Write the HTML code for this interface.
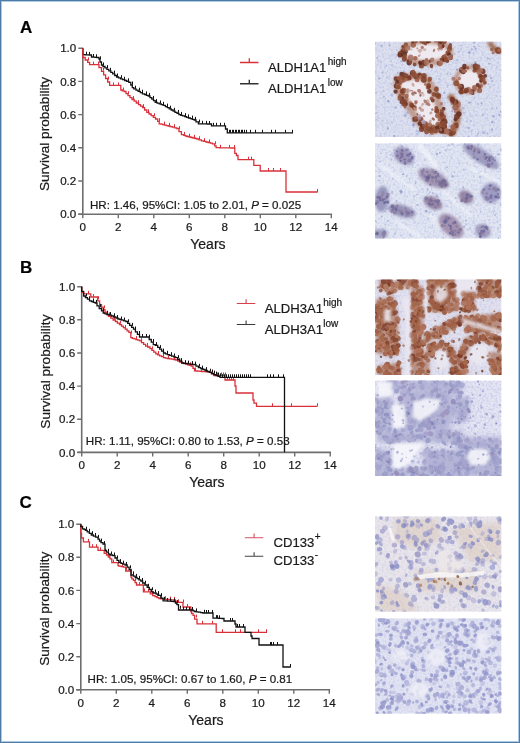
<!DOCTYPE html>
<html><head><meta charset="utf-8"><title>Figure</title>
<style>
html,body{margin:0;padding:0;background:#fff;}
body{width:520px;height:743px;overflow:hidden;position:relative;}
.frame{position:absolute;left:0;top:0;width:518px;height:741px;border:1px solid #4f7ba6;}
.frame2{position:absolute;left:1px;top:1px;width:516px;height:739px;border:1px solid #a9cbe6;}
svg{position:absolute;left:0;top:0;will-change:transform;}
text{font-family:"Liberation Sans", sans-serif;fill:#1a1a1a;stroke:#1a1a1a;stroke-width:0.22px;}
.t{font-size:11.6px;}
.l{font-size:13.1px;}
.yl{font-size:14px;}
.sp{font-size:13.6px;}
.sup{font-size:10px;}
.pl{font-size:17px;font-weight:bold;fill:#000;}
</style></head>
<body>
<svg width="520" height="743" viewBox="0 0 520 743">
<defs>
<filter id="blur1" x="-10%" y="-10%" width="120%" height="120%"><feGaussianBlur stdDeviation="1.4"/></filter>
<filter id="blur2" x="-10%" y="-10%" width="120%" height="120%"><feGaussianBlur stdDeviation="2.5"/></filter>
<filter id="txB" x="0" y="0" width="100%" height="100%">
  <feTurbulence type="fractalNoise" baseFrequency="0.45" numOctaves="2" seed="3"/>
  <feColorMatrix type="matrix" values="0 0 0 0 0.45  0 0 0 0 0.50  0 0 0 0 0.78  3.5 0 0 0 -1.55"/>
</filter>
<filter id="txB2" x="0" y="0" width="100%" height="100%">
  <feTurbulence type="fractalNoise" baseFrequency="0.4" numOctaves="2" seed="9"/>
  <feColorMatrix type="matrix" values="0 0 0 0 0.40  0 0 0 0 0.42  0 0 0 0 0.72  3.5 0 0 0 -1.5"/>
</filter>
<filter id="txBr" x="0" y="0" width="100%" height="100%">
  <feTurbulence type="fractalNoise" baseFrequency="0.35" numOctaves="2" seed="5"/>
  <feColorMatrix type="matrix" values="0 0 0 0 0.42  0 0 0 0 0.20  0 0 0 0 0.10  3.5 0 0 0 -1.6"/>
</filter>
<filter id="blur05" x="-10%" y="-10%" width="120%" height="120%"><feGaussianBlur stdDeviation="0.55"/></filter>

<clipPath id="c0"><rect x="375" y="41.5" width="126.5" height="95.5"/></clipPath>
<clipPath id="c1"><rect x="375" y="143.2" width="126.5" height="95.5"/></clipPath>
<clipPath id="c2"><rect x="375" y="279.4" width="126.5" height="95.6"/></clipPath>
<clipPath id="c3"><rect x="375" y="380.4" width="126.5" height="95.5"/></clipPath>
<clipPath id="c4"><rect x="375" y="516.3" width="126.5" height="95.5"/></clipPath>
<clipPath id="c5"><rect x="375" y="618.3" width="126.5" height="95.5"/></clipPath></defs>
<text x="20" y="32.6" class="pl">A</text>
<text x="20" y="272.6" class="pl">B</text>
<text x="19.5" y="508.2" class="pl">C</text>
<path d="M82.8,47.7V214.2M78.3,214.2H332.1" stroke="#6e6e6e" stroke-width="1.6" fill="none"/>
<path d="M78.3,214.2H82.8M78.3,181.0H82.8M78.3,147.8H82.8M78.3,114.6H82.8M78.3,81.4H82.8M78.3,48.2H82.8M82.8,214.2V218.2M118.3,214.2V218.2M153.8,214.2V218.2M189.3,214.2V218.2M224.8,214.2V218.2M260.3,214.2V218.2M295.8,214.2V218.2M331.3,214.2V218.2" stroke="#6e6e6e" stroke-width="1.4" fill="none"/>
<text x="76.3" y="218.3" text-anchor="end" class="t">0.0</text>
<text x="76.3" y="185.1" text-anchor="end" class="t">0.2</text>
<text x="76.3" y="151.9" text-anchor="end" class="t">0.4</text>
<text x="76.3" y="118.7" text-anchor="end" class="t">0.6</text>
<text x="76.3" y="85.5" text-anchor="end" class="t">0.8</text>
<text x="76.3" y="52.3" text-anchor="end" class="t">1.0</text>
<text x="82.8" y="231.2" text-anchor="middle" class="t">0</text>
<text x="118.3" y="231.2" text-anchor="middle" class="t">2</text>
<text x="153.8" y="231.2" text-anchor="middle" class="t">4</text>
<text x="189.3" y="231.2" text-anchor="middle" class="t">6</text>
<text x="224.8" y="231.2" text-anchor="middle" class="t">8</text>
<text x="260.3" y="231.2" text-anchor="middle" class="t">10</text>
<text x="295.8" y="231.2" text-anchor="middle" class="t">12</text>
<text x="331.3" y="231.2" text-anchor="middle" class="t">14</text>
<text x="207.9" y="249.2" text-anchor="middle" class="yl">Years</text>
<text transform="translate(48.9,134.0) rotate(-90)" text-anchor="middle" class="sp">Survival probability</text>
<path d="M81.7,286.2V452.4M77.2,452.4H331.0" stroke="#6e6e6e" stroke-width="1.6" fill="none"/>
<path d="M77.2,452.4H81.7M77.2,419.3H81.7M77.2,386.1H81.7M77.2,353.0H81.7M77.2,319.8H81.7M77.2,286.7H81.7M81.7,452.4V456.4M117.2,452.4V456.4M152.7,452.4V456.4M188.2,452.4V456.4M223.7,452.4V456.4M259.2,452.4V456.4M294.7,452.4V456.4M330.2,452.4V456.4" stroke="#6e6e6e" stroke-width="1.4" fill="none"/>
<text x="75.2" y="456.5" text-anchor="end" class="t">0.0</text>
<text x="75.2" y="423.4" text-anchor="end" class="t">0.2</text>
<text x="75.2" y="390.2" text-anchor="end" class="t">0.4</text>
<text x="75.2" y="357.1" text-anchor="end" class="t">0.6</text>
<text x="75.2" y="323.9" text-anchor="end" class="t">0.8</text>
<text x="75.2" y="290.8" text-anchor="end" class="t">1.0</text>
<text x="81.7" y="469.4" text-anchor="middle" class="t">0</text>
<text x="117.2" y="469.4" text-anchor="middle" class="t">2</text>
<text x="152.7" y="469.4" text-anchor="middle" class="t">4</text>
<text x="188.2" y="469.4" text-anchor="middle" class="t">6</text>
<text x="223.7" y="469.4" text-anchor="middle" class="t">8</text>
<text x="259.2" y="469.4" text-anchor="middle" class="t">10</text>
<text x="294.7" y="469.4" text-anchor="middle" class="t">12</text>
<text x="330.2" y="469.4" text-anchor="middle" class="t">14</text>
<text x="206.8" y="487.4" text-anchor="middle" class="yl">Years</text>
<text transform="translate(50.0,371.6) rotate(-90)" text-anchor="middle" class="sp">Survival probability</text>
<path d="M80.8,523.7V689.8M76.3,689.8H330.1" stroke="#6e6e6e" stroke-width="1.6" fill="none"/>
<path d="M76.3,689.8H80.8M76.3,656.7H80.8M76.3,623.6H80.8M76.3,590.4H80.8M76.3,557.3H80.8M76.3,524.2H80.8M80.8,689.8V693.8M116.3,689.8V693.8M151.8,689.8V693.8M187.3,689.8V693.8M222.8,689.8V693.8M258.3,689.8V693.8M293.8,689.8V693.8M329.3,689.8V693.8" stroke="#6e6e6e" stroke-width="1.4" fill="none"/>
<text x="74.3" y="693.9" text-anchor="end" class="t">0.0</text>
<text x="74.3" y="660.8" text-anchor="end" class="t">0.2</text>
<text x="74.3" y="627.7" text-anchor="end" class="t">0.4</text>
<text x="74.3" y="594.5" text-anchor="end" class="t">0.6</text>
<text x="74.3" y="561.4" text-anchor="end" class="t">0.8</text>
<text x="74.3" y="528.3" text-anchor="end" class="t">1.0</text>
<text x="80.8" y="706.8" text-anchor="middle" class="t">0</text>
<text x="116.3" y="706.8" text-anchor="middle" class="t">2</text>
<text x="151.8" y="706.8" text-anchor="middle" class="t">4</text>
<text x="187.3" y="706.8" text-anchor="middle" class="t">6</text>
<text x="222.8" y="706.8" text-anchor="middle" class="t">8</text>
<text x="258.3" y="706.8" text-anchor="middle" class="t">10</text>
<text x="293.8" y="706.8" text-anchor="middle" class="t">12</text>
<text x="329.3" y="706.8" text-anchor="middle" class="t">14</text>
<text x="205.9" y="724.8" text-anchor="middle" class="yl">Years</text>
<text transform="translate(48.9,608.8) rotate(-90)" text-anchor="middle" class="sp">Survival probability</text>
<path d="M82.8,48.2V54.6V54.7H85.0V54.8H87.2V54.9H89.3V55.0H91.5V57.0H93.0V57.2H95.0V57.3H97.0V57.5H99.0V59.0H100.0V62.0H101.5V65.0H103.0V66.5H105.0V67.9H106.9V69.3H108.8V70.8H110.8V72.3H112.7V73.9H114.7V75.5H116.6V77.0H118.5V77.9H120.5V78.8H122.6V79.7H124.7V80.5H126.7V81.4H128.8V82.3H130.8V85.0H132.3V87.7H133.8V88.9H136.0V90.1H138.1V91.4H140.3V92.6H142.4V93.8H144.6V94.5H146.4V95.3H148.2V96.0H150.0V97.6H151.8V99.2H153.5V100.7H155.2V102.3H157.0V103.1H159.1V103.8H161.2V104.6H163.3V105.4H165.4V106.6H167.3V107.7H169.2V108.8H171.2V110.0H173.1V111.2H175.0V112.3H177.0V113.4H178.9V114.6H180.8V115.3H182.7V115.9H184.6V116.6H186.5V117.3H188.4V118.0H190.3V118.7H192.2V119.3H194.1V120.0H196.0V121.9H198.4V123.8H200.8V123.8H202.9V123.9H205.1V123.9H207.2V124.0H209.4V124.0H211.5V125.8H212.0H225.5V129.0H227.3V132.8H293.0" stroke="#111111" stroke-width="1.3" fill="none"/><path d="M86.5,54.7v-3.0M89.5,54.9v-3.0M93.5,57.0v-3.0M96.5,57.3v-3.0M100.5,59.3v-3.0M103.5,65.5v-3.0M107.5,68.1v-3.0M110.5,70.8v-3.0M114.5,73.6v-3.0M117.5,76.5v-3.0M121.5,78.2v-3.0M124.5,79.8v-3.0M128.5,81.3v-3.0M132.5,84.5v-3.0M135.5,88.7v-3.0M139.5,90.7v-3.0M142.5,92.7v-3.0M146.5,94.4v-3.0M149.5,95.9v-3.0M153.5,98.9v-3.0M156.5,102.1v-3.0M160.5,103.5v-3.0M163.5,104.8v-3.0M167.5,106.6v-3.0M170.5,108.7v-3.0M174.5,110.8v-3.0M178.5,112.9v-3.0M181.5,114.9v-3.0M185.5,116.1v-3.0M188.5,117.4v-3.0M192.5,118.6v-3.0M195.5,119.9v-3.0M199.5,122.6v-3.0M202.5,123.8v-3.0M206.5,123.9v-3.0M209.5,124.0v-3.0M213.5,125.8v-3.0M216.5,125.8v-3.0M220.5,125.8v-3.0M224.5,125.8v-3.0M229.5,132.8v-3.0M230.5,132.8v-3.0M232.5,132.8v-3.0M233.5,132.8v-3.0M235.5,132.8v-3.0M236.5,132.8v-3.0M238.5,132.8v-3.0M239.5,132.8v-3.0M241.5,132.8v-3.0M242.5,132.8v-3.0M244.5,132.8v-3.0M246.5,132.8v-3.0M250.5,132.8v-3.0M255.5,132.8v-3.0M262.5,132.8v-3.0M271.5,132.8v-3.0M275.5,132.8v-3.0M285.5,132.8v-3.0M292.5,132.8v-3.0" stroke="#111111" stroke-width="1" fill="none"/>
<path d="M82.8,48.2V55.0V57.5H85.2V60.0H87.7V62.3H89.6V64.6H91.5H99.0V67.7H101.5V71.3H103.6V74.9H105.6V78.5H107.7V82.0H109.6V85.4H111.5H120.8V90.0H122.3V90.8H124.2V91.5H126.0V93.6H128.0V95.6H130.0V97.7H132.0V99.5H134.2V101.2H136.3V103.0H138.5V104.6H140.5V106.1H142.6V107.7H144.6V110.0H146.8V112.3H149.0V114.0H151.2V115.7H153.3V117.3H155.5V119.0H157.7V121.4H159.2V123.8H160.8V124.2H162.6V124.7H164.5V125.1H166.3V125.6H168.2V126.0H170.0V126.6H172.2V127.2H174.5V127.9H176.8V128.5H179.0V131.6H181.4V134.6H183.8V135.3H185.4V136.0H187.0V136.5H189.0V137.0H191.0V137.5H193.0V138.0H195.0V138.5H197.0V139.0H199.0V139.9H201.4V140.8H203.8V141.4H206.0V142.0H208.1V142.6H210.3V143.2H212.4V143.8H214.6V145.8H216.1V147.7H217.7V147.7H219.6V147.8H221.5V147.8H223.4V147.8H225.3V147.9H227.2V147.9H229.1V147.9H231.0V148.0H232.9V148.0H234.8V151.3V153.4H236.4V155.5H238.0V159.7H240.0H253.8V165.4H260.2V171.0H286.0V192.0H317.7" stroke="#d9303a" stroke-width="1.3" fill="none"/><path d="M88.5,60.4v-3.0M93.5,64.6v-3.0M98.5,64.6v-3.0M103.5,70.7v-3.0M108.5,79.6v-3.0M113.5,85.4v-3.0M118.5,85.4v-3.0M123.5,90.5v-3.0M128.5,94.2v-3.0M133.5,99.1v-3.0M138.5,103.2v-3.0M143.5,107.1v-3.0M148.5,112.3v-3.0M154.5,116.2v-3.0M159.5,121.2v-3.0M164.5,124.6v-3.0M169.5,125.8v-3.0M174.5,127.2v-3.0M179.5,129.1v-3.0M184.5,134.9v-3.0M189.5,136.7v-3.0M194.5,137.9v-3.0M199.5,139.3v-3.0M204.5,141.1v-3.0M209.5,142.5v-3.0M215.5,144.3v-3.0M220.5,147.8v-3.0M229.5,147.9v-3.0M234.5,148.0v-3.0M248.5,159.7v-3.0M251.5,159.7v-3.0M268.5,171.0v-3.0M273.5,171.0v-3.0M280.5,171.0v-3.0M317.5,192.0v-3.0" stroke="#d9303a" stroke-width="1" fill="none"/>
<path d="M81.7,286.7V292.3H83.8V293.8H86.0H90.8V297.0H91.5H97.7V300.8H99.6V304.6H101.5V307.1H103.2V309.6H105.0V312.1H106.8V314.6H108.5V316.4H110.8V318.2H113.1V320.0H115.4V321.5H117.4V323.1H119.5V324.6H121.5V326.1H123.4V327.7H125.2V329.2H127.1V330.8H128.9V332.3H130.8V337.7H132.3V338.3H134.1V338.9H136.0V339.6H137.8V340.2H139.7V340.8H141.5V342.6H143.6V344.4H145.6V346.2H147.7V347.0H150.0V348.7H151.9V350.4H153.8V352.1H155.8V353.8H157.7V354.8H159.6V355.8H161.6V356.7H163.5V357.7H165.4V358.1H167.4V358.5H169.5V358.9H171.6V359.2H173.6V359.6H175.6V360.0H177.7V361.0H179.7V362.0H181.8V363.0H183.8V363.6H185.6V364.2H187.5V364.8H189.3V365.4H191.2V366.0H193.0V368.4H194.5V370.8H196.0V371.0H197.9V371.2H199.9V371.4H201.8V371.6H203.8V371.7H205.7V371.9H207.6V372.1H209.6V372.3H211.5V373.9H213.8V375.5H216.0H225.0V380.0H226.0H235.0V386.0H236.0V393.0H238.0H253.0V400.0H254.0V403.1H256.5V406.3H259.0H317.3" stroke="#d9303a" stroke-width="1.3" fill="none"/><path d="M88.5,293.8v-3.0M93.5,297.0v-3.0M98.5,299.2v-3.0M104.5,308.4v-3.0M109.5,315.4v-3.0M114.5,319.7v-3.0M120.5,323.7v-3.0M125.5,328.1v-3.0M131.5,333.5v-3.0M136.5,339.1v-3.0M141.5,341.2v-3.0M147.5,345.9v-3.0M152.5,349.4v-3.0M158.5,354.0v-3.0M163.5,356.7v-3.0M168.5,358.3v-3.0M174.5,359.4v-3.0M179.5,361.0v-3.0M185.5,363.4v-3.0M190.5,365.2v-3.0M195.5,370.5v-3.0M201.5,371.3v-3.0M206.5,371.8v-3.0M212.5,372.7v-3.0M217.5,375.5v-3.0M221.5,375.5v-3.0M223.5,375.5v-3.0M225.5,375.5v-3.0M227.5,380.0v-3.0M229.5,380.0v-3.0M231.5,380.0v-3.0M233.5,380.0v-3.0M272.5,406.3v-3.0M291.5,406.3v-3.0M317.5,406.3v-3.0" stroke="#d9303a" stroke-width="1" fill="none"/>
<path d="M81.7,286.7V291.4H83.6V296.0H85.4V297.6H87.4V299.2H89.5V300.8H91.5V301.5H93.3V302.3H95.2V303.0H97.0V305.8H99.2V308.5H101.5V310.8H103.2V313.0H105.0V313.8H107.2V314.5H109.4V315.2H111.6V316.0H113.8V317.0H115.9V318.0H117.9V319.0H120.0V319.6H121.9V320.2H123.8V320.9H125.8V321.5H127.7V323.4H129.6V325.4H131.6V327.3H133.5V329.2H135.4V331.8H137.4V334.4H139.5V337.0H141.5H149.2V339.5H151.3V342.1H153.3V344.6H155.4V345.4H157.7V347.3H159.6V349.2H161.6V351.1H163.5V353.0H165.4V353.8H167.4V354.6H169.5V355.4H171.6V356.1H173.6V356.9H175.6V357.7H177.7V359.5H179.7V361.2H181.8V363.0H183.8V363.3H185.8V363.5H187.9V363.8H189.9V364.1H191.9V364.3H194.0V364.6H196.0V366.1H198.4V367.7H200.8V368.6H202.9V369.5H205.1V370.5H207.2V371.4H209.4V372.3H211.5V373.5H213.8V374.6H216.0V375.5H218.0V376.4H220.0V377.3H222.0H284.5V452.3" stroke="#111111" stroke-width="1.3" fill="none"/><path d="M86.5,296.5v-3.0M89.5,299.3v-3.0M93.5,301.4v-3.0M96.5,302.9v-3.0M100.5,306.9v-3.0M103.5,311.3v-3.0M107.5,313.8v-3.0M110.5,315.0v-3.0M114.5,316.3v-3.0M117.5,318.0v-3.0M121.5,319.5v-3.0M124.5,320.6v-3.0M128.5,322.3v-3.0M132.5,325.9v-3.0M135.5,329.5v-3.0M139.5,334.0v-3.0M142.5,337.0v-3.0M146.5,337.0v-3.0M149.5,337.7v-3.0M153.5,342.0v-3.0M156.5,345.1v-3.0M160.5,348.1v-3.0M163.5,351.6v-3.0M167.5,353.8v-3.0M171.5,355.2v-3.0M174.5,356.5v-3.0M178.5,358.1v-3.0M181.5,361.1v-3.0M185.5,363.2v-3.0M188.5,363.6v-3.0M192.5,364.1v-3.0M195.5,364.6v-3.0M199.5,366.8v-3.0M202.5,368.6v-3.0M206.5,370.1v-3.0M210.5,371.7v-3.0M212.5,372.6v-3.0M214.5,373.6v-3.0M216.5,374.6v-3.0M218.5,375.5v-3.0M220.5,376.4v-3.0M222.5,377.3v-3.0M224.5,377.3v-3.0M226.5,377.3v-3.0M228.5,377.3v-3.0M230.5,377.3v-3.0M232.5,377.3v-3.0M234.5,377.3v-3.0M236.5,377.3v-3.0M238.5,377.3v-3.0M240.5,377.3v-3.0M242.5,377.3v-3.0M244.5,377.3v-3.0M246.5,377.3v-3.0M248.5,377.3v-3.0M250.5,377.3v-3.0M267.5,377.3v-3.0M270.5,377.3v-3.0M273.5,377.3v-3.0M278.5,377.3v-3.0M283.5,377.3v-3.0" stroke="#111111" stroke-width="1" fill="none"/>
<path d="M80.8,524.2V533.4H81.5V538.0H83.4V541.8H85.7H89.5V547.2H90.3H98.0V550.3H98.8H104.2V553.4H106.5V555.2H108.3V557.0H110.0V558.8H111.8V562.6H112.6H118.0V565.7H118.8V566.2H121.1V566.7H123.4V567.2H125.7V571.0H127.2H131.0V577.2H131.8V578.8H133.4V580.3H135.0V582.6H136.5V585.0H138.0H143.4V591.8H144.2H150.3V593.8H152.7V595.7H155.0V596.6H156.9V597.6H158.9V598.5H160.8V598.9H163.1V599.2H165.4V599.4H167.4V599.5H169.4V599.7H171.4V599.8H173.4V600.0H175.4V601.1H176.9V602.3H178.5H183.0V607.0H183.8H190.8V611.5H191.5V613.5H193.1V615.4H194.6V619.2H197.0V623.8H197.7H216.2V632.3H267.0" stroke="#d9303a" stroke-width="1.3" fill="none"/><path d="M88.5,541.8v-3.0M92.5,547.2v-3.0M96.5,547.2v-3.0M100.5,550.3v-3.0M105.5,551.8v-3.0M109.5,556.6v-3.0M113.5,562.6v-3.0M118.5,563.5v-3.0M122.5,566.5v-3.0M126.5,570.2v-3.0M131.5,572.5v-3.0M135.5,581.1v-3.0M139.5,585.0v-3.0M144.5,591.5v-3.0M148.5,591.8v-3.0M152.5,593.9v-3.0M157.5,596.7v-3.0M161.5,598.6v-3.0M165.5,599.2v-3.0M170.5,599.6v-3.0M174.5,599.9v-3.0M178.5,602.3v-3.0M183.5,602.5v-3.0M187.5,607.0v-3.0M191.5,611.7v-3.0M196.5,617.6v-3.0M202.5,623.8v-3.0M212.5,623.8v-3.0M222.5,632.3v-3.0M235.5,632.3v-3.0M240.5,632.3v-3.0M258.5,632.3v-3.0M266.5,632.3v-3.0" stroke="#d9303a" stroke-width="1" fill="none"/>
<path d="M80.8,524.2V526.5H82.5V528.8H84.2V529.5H85.7V530.3H87.2V531.9H89.3V533.4H91.3V535.0H93.4V536.1H95.7V537.2H98.0V539.1H99.5V541.0H101.0V542.6H103.0V544.2H105.0V550.3H106.5V552.2H108.4V554.2H110.3V555.0H112.7V555.7H115.0V558.0H117.0V560.3H119.0V562.6H121.0V563.4H123.1V564.2H125.1V565.0H127.2V567.2H129.1V569.5H131.0V575.0H133.4V576.2H135.2V577.4H137.1V578.6H138.9V579.8H140.8V581.0H142.6V583.0H144.9V585.0H147.2V587.3H149.3V589.5H151.3V591.8H153.4V593.0H156.2V594.2H158.5V595.4H160.8V598.1H163.1V600.8H165.4V600.9H167.4V601.1H169.4V601.2H171.4V601.4H173.4V601.5H175.4V603.0H176.9V604.6H178.5V610.0H180.8H193.0V610.8H194.6V611.5H196.2V611.9H198.4V612.2H200.6V612.6H202.8V613.0H205.0H213.0V618.0V618.1H214.8V618.2H216.7V618.2H218.5V618.3H220.3V618.4H222.2V618.5H224.0V621.0H235.0V624.0H236.0V627.0H237.0H245.0V632.3H246.0H251.0V636.0H252.0V638.5H253.0H259.0V645.0H283.0V667.0H290.8" stroke="#111111" stroke-width="1.3" fill="none"/><path d="M86.5,529.7v-3.0M89.5,531.8v-3.0M92.5,534.2v-3.0M95.5,536.0v-3.0M98.5,537.9v-3.0M101.5,541.6v-3.0M104.5,544.1v-3.0M108.5,551.8v-3.0M111.5,554.5v-3.0M114.5,555.5v-3.0M117.5,558.5v-3.0M120.5,562.1v-3.0M123.5,563.7v-3.0M126.5,564.9v-3.0M130.5,568.3v-3.0M133.5,574.4v-3.0M136.5,576.9v-3.0M139.5,578.9v-3.0M142.5,581.0v-3.0M145.5,583.7v-3.0M148.5,586.8v-3.0M152.5,590.3v-3.0M155.5,592.5v-3.0M158.5,594.1v-3.0M161.5,596.1v-3.0M164.5,599.8v-3.0M167.5,601.0v-3.0M170.5,601.2v-3.0M174.5,601.4v-3.0M177.5,603.2v-3.0M180.5,608.8v-3.0M183.5,610.0v-3.0M186.5,610.0v-3.0M189.5,610.0v-3.0M192.5,610.0v-3.0M196.5,611.4v-3.0M204.5,612.8v-3.0M206.5,613.0v-3.0M208.5,613.0v-3.0M212.5,613.0v-3.0M216.5,618.1v-3.0M217.5,618.2v-3.0M219.5,618.3v-3.0M230.5,621.0v-3.0M232.5,621.0v-3.0M237.5,627.0v-3.0M239.5,627.0v-3.0M243.5,627.0v-3.0M270.5,645.0v-3.0M271.5,645.0v-3.0M273.5,645.0v-3.0M277.5,645.0v-3.0M290.5,667.0v-3.0" stroke="#111111" stroke-width="1" fill="none"/>
<path d="M240,62.5h18.5M249.3,62.5v-4.2" stroke="#d9303a" stroke-width="1.3" fill="none"/>
<path d="M240,83.8h18.5M249.3,83.8v-4" stroke="#333" stroke-width="1.4" fill="none"/>
<text x="268" y="71.7" class="l">ALDH1A1<tspan class="sup" dx="1.5" dy="-7">high</tspan></text>
<text x="268" y="93.0" class="l">ALDH1A1<tspan class="sup" dx="1.5" dy="-7">low</tspan></text>
<path d="M236.8,303.5h18.5M246.10000000000002,303.5v-4.2" stroke="#d84050" stroke-width="1.1" fill="none"/>
<path d="M236.8,324.5h18.5M246.10000000000002,324.5v-4" stroke="#3a3a3a" stroke-width="1.1" fill="none"/>
<text x="264.8" y="312.7" class="l">ALDH3A1<tspan class="sup" dx="0.2" dy="-7">high</tspan></text>
<text x="264.8" y="333.7" class="l">ALDH3A1<tspan class="sup" dx="0.2" dy="-7">low</tspan></text>
<path d="M244.8,537.8h18.5M254.10000000000002,537.8v-4.2" stroke="#d85060" stroke-width="1.1" fill="none"/>
<path d="M244.8,556.2h18.5M254.10000000000002,556.2v-4" stroke="#444" stroke-width="1.1" fill="none"/>
<text x="273.5" y="547.0" class="l">CD133<tspan class="sup" dx="0.5" dy="-7">+</tspan></text>
<text x="273.5" y="565.4000000000001" class="l">CD133<tspan class="sup" dx="0.5" dy="-7">-</tspan></text>
<text x="90" y="209.3" class="t">HR: 1.46, 95%CI: 1.05 to 2.01, <tspan font-style="italic">P</tspan> = 0.025</text>
<text x="85.8" y="444.6" class="t">HR: 1.11, 95%CI: 0.80 to 1.53, <tspan font-style="italic">P</tspan> = 0.53</text>
<text x="87.6" y="683.4" class="t">HR: 1.05, 95%CI: 0.67 to 1.60, <tspan font-style="italic">P</tspan> = 0.81</text>
<g clip-path="url(#c0)"><rect x="375" y="41.5" width="126.5" height="95.5" fill="#dde0ee"/>
<rect x="375" y="41.5" width="126.5" height="95.5" filter="url(#txB)" opacity="0.5"/>
<path fill="#9aa2d0" fill-opacity="0.5" d="M392.0 121.3a1.1 0.8 89 1 0 0.0 2.3a1.1 0.8 89 1 0 -0.0 -2.3M472.1 130.4a1.0 0.7 122 1 0 -1.0 1.7a1.0 0.7 122 1 0 1.0 -1.7M382.1 123.6a1.0 0.6 91 1 0 -0.0 2.0a1.0 0.6 91 1 0 0.0 -2.0M388.1 77.2a1.0 0.9 151 1 0 -1.7 1.0a1.0 0.9 151 1 0 1.7 -1.0M420.5 54.4a0.7 0.5 149 1 0 -1.2 0.7a0.7 0.5 149 1 0 1.2 -0.7M396.3 49.2a0.9 0.6 57 1 0 1.0 1.6a0.9 0.6 57 1 0 -1.0 -1.6M456.7 62.9a0.8 0.7 172 1 0 -1.6 0.2a0.8 0.7 172 1 0 1.6 -0.2M432.2 104.7a0.7 0.6 122 1 0 -0.8 1.3a0.7 0.6 122 1 0 0.8 -1.3M408.4 99.4a0.8 0.7 153 1 0 -1.4 0.7a0.8 0.7 153 1 0 1.4 -0.7M449.5 96.8a1.3 0.8 170 1 0 -2.5 0.4a1.3 0.8 170 1 0 2.5 -0.4M381.0 118.3a0.6 0.5 123 1 0 -0.7 1.0a0.6 0.5 123 1 0 0.7 -1.0M410.3 93.1a0.9 0.7 46 1 0 1.2 1.3a0.9 0.7 46 1 0 -1.2 -1.3M401.3 82.2a0.6 0.5 164 1 0 -1.2 0.3a0.6 0.5 164 1 0 1.2 -0.3M387.9 70.8a0.7 0.4 120 1 0 -0.7 1.2a0.7 0.4 120 1 0 0.7 -1.2M378.3 77.8a1.1 0.8 23 1 0 2.0 0.9a1.1 0.8 23 1 0 -2.0 -0.9M438.3 78.4a1.2 0.9 23 1 0 2.3 1.0a1.2 0.9 23 1 0 -2.3 -1.0M432.8 67.5a0.9 0.7 133 1 0 -1.3 1.3a0.9 0.7 133 1 0 1.3 -1.3M464.3 112.0a0.9 0.8 116 1 0 -0.7 1.5a0.9 0.8 116 1 0 0.7 -1.5M419.1 130.6a1.3 0.8 100 1 0 -0.4 2.5a1.3 0.8 100 1 0 0.4 -2.5M460.1 49.1a0.9 0.7 53 1 0 1.1 1.4a0.9 0.7 53 1 0 -1.1 -1.4M438.7 98.2a0.8 0.5 137 1 0 -1.1 1.1a0.8 0.5 137 1 0 1.1 -1.1M485.2 79.1a1.1 0.9 95 1 0 -0.2 2.1a1.1 0.9 95 1 0 0.2 -2.1M475.6 114.4a0.9 0.6 28 1 0 1.5 0.8a0.9 0.6 28 1 0 -1.5 -0.8M417.3 133.1a1.1 1.0 83 1 0 0.3 2.1a1.1 1.0 83 1 0 -0.3 -2.1M392.3 94.1a1.2 1.1 115 1 0 -1.0 2.1a1.2 1.1 115 1 0 1.0 -2.1M377.4 117.0a1.0 0.6 67 1 0 0.8 1.9a1.0 0.6 67 1 0 -0.8 -1.9M447.6 47.4a1.2 1.0 17 1 0 2.3 0.7a1.2 1.0 17 1 0 -2.3 -0.7M490.3 75.3a0.7 0.6 106 1 0 -0.4 1.3a0.7 0.6 106 1 0 0.4 -1.3M457.7 59.7a1.0 0.7 152 1 0 -1.7 0.9a1.0 0.7 152 1 0 1.7 -0.9M396.0 54.3a1.3 1.0 62 1 0 1.2 2.3a1.3 1.0 62 1 0 -1.2 -2.3M407.9 96.5a1.0 0.9 33 1 0 1.6 1.0a1.0 0.9 33 1 0 -1.6 -1.0M404.0 70.3a1.0 0.9 97 1 0 -0.2 1.9a1.0 0.9 97 1 0 0.2 -1.9M427.0 42.4a0.7 0.5 21 1 0 1.3 0.5a0.7 0.5 21 1 0 -1.3 -0.5"/>
<path fill="#7f8cc4" fill-opacity="0.5" d="M422.7 60.7a0.9 0.9 70 1 0 0.6 1.8a0.9 0.9 70 1 0 -0.6 -1.8M443.3 130.3a0.9 0.6 76 1 0 0.4 1.7a0.9 0.6 76 1 0 -0.4 -1.7M449.7 124.6a1.2 0.9 106 1 0 -0.7 2.3a1.2 0.9 106 1 0 0.7 -2.3M458.7 51.2a0.7 0.7 67 1 0 0.6 1.3a0.7 0.7 67 1 0 -0.6 -1.3M448.9 85.2a0.8 0.6 172 1 0 -1.6 0.2a0.8 0.6 172 1 0 1.6 -0.2M426.9 40.8a1.0 0.9 60 1 0 1.0 1.7a1.0 0.9 60 1 0 -1.0 -1.7M457.4 78.3a1.0 0.7 114 1 0 -0.8 1.8a1.0 0.7 114 1 0 0.8 -1.8M447.9 56.9a1.2 1.2 127 1 0 -1.4 1.9a1.2 1.2 127 1 0 1.4 -1.9M418.0 60.5a1.1 0.8 35 1 0 1.8 1.2a1.1 0.8 35 1 0 -1.8 -1.2M451.6 131.4a1.2 0.7 99 1 0 -0.4 2.4a1.2 0.7 99 1 0 0.4 -2.4M425.2 77.3a1.3 0.8 23 1 0 2.4 1.0a1.3 0.8 23 1 0 -2.4 -1.0M411.7 92.3a0.7 0.6 19 1 0 1.3 0.5a0.7 0.6 19 1 0 -1.3 -0.5M377.0 112.8a0.9 0.6 155 1 0 -1.5 0.7a0.9 0.6 155 1 0 1.5 -0.7M429.0 55.8a1.1 0.9 45 1 0 1.5 1.6a1.1 0.9 45 1 0 -1.5 -1.6M431.6 81.8a0.8 0.6 97 1 0 -0.2 1.5a0.8 0.6 97 1 0 0.2 -1.5M451.5 110.4a1.1 1.0 40 1 0 1.6 1.3a1.1 1.0 40 1 0 -1.6 -1.3M482.7 75.9a1.1 1.0 107 1 0 -0.6 2.1a1.1 1.0 107 1 0 0.6 -2.1M495.9 95.6a0.7 0.5 39 1 0 1.1 0.9a0.7 0.5 39 1 0 -1.1 -0.9M424.9 101.5a0.9 0.8 98 1 0 -0.2 1.7a0.9 0.8 98 1 0 0.2 -1.7M423.2 93.7a1.3 1.0 104 1 0 -0.6 2.5a1.3 1.0 104 1 0 0.6 -2.5M418.8 100.7a1.3 1.1 174 1 0 -2.6 0.3a1.3 1.1 174 1 0 2.6 -0.3M494.5 115.6a1.2 1.1 147 1 0 -2.0 1.3a1.2 1.1 147 1 0 2.0 -1.3M400.7 106.0a0.6 0.4 58 1 0 0.7 1.1a0.6 0.4 58 1 0 -0.7 -1.1M479.0 133.1a1.0 0.7 151 1 0 -1.8 1.0a1.0 0.7 151 1 0 1.8 -1.0M449.8 116.2a0.7 0.5 126 1 0 -0.8 1.2a0.7 0.5 126 1 0 0.8 -1.2M445.2 92.6a1.1 0.9 166 1 0 -2.1 0.5a1.1 0.9 166 1 0 2.1 -0.5M488.8 59.0a0.9 0.8 9 1 0 1.8 0.3a0.9 0.8 9 1 0 -1.8 -0.3M461.4 109.0a0.7 0.4 103 1 0 -0.3 1.4a0.7 0.4 103 1 0 0.3 -1.4M483.1 84.7a0.7 0.5 124 1 0 -0.8 1.2a0.7 0.5 124 1 0 0.8 -1.2M500.5 110.9a1.0 0.7 72 1 0 0.6 1.9a1.0 0.7 72 1 0 -0.6 -1.9M400.1 55.3a1.1 0.7 28 1 0 2.0 1.0a1.1 0.7 28 1 0 -2.0 -1.0M469.6 135.9a1.1 0.7 145 1 0 -1.8 1.2a1.1 0.7 145 1 0 1.8 -1.2M409.0 108.4a0.9 0.5 35 1 0 1.5 1.0a0.9 0.5 35 1 0 -1.5 -1.0M437.0 72.5a0.7 0.4 46 1 0 1.0 1.0a0.7 0.4 46 1 0 -1.0 -1.0M453.9 123.0a0.8 0.7 68 1 0 0.6 1.5a0.8 0.7 68 1 0 -0.6 -1.5M426.1 50.6a0.9 0.7 98 1 0 -0.2 1.7a0.9 0.7 98 1 0 0.2 -1.7M426.7 134.2a0.7 0.5 124 1 0 -0.8 1.2a0.7 0.5 124 1 0 0.8 -1.2M376.9 119.2a0.7 0.6 170 1 0 -1.4 0.2a0.7 0.6 170 1 0 1.4 -0.2M433.5 44.9a1.1 0.6 8 1 0 2.2 0.3a1.1 0.6 8 1 0 -2.2 -0.3M487.3 57.0a1.0 0.8 61 1 0 1.0 1.8a1.0 0.8 61 1 0 -1.0 -1.8M457.0 103.6a1.3 0.9 72 1 0 0.8 2.4a1.3 0.9 72 1 0 -0.8 -2.4M491.6 121.5a0.7 0.5 20 1 0 1.3 0.5a0.7 0.5 20 1 0 -1.3 -0.5M404.2 114.9a1.3 1.2 32 1 0 2.1 1.3a1.3 1.2 32 1 0 -2.1 -1.3M426.6 80.8a0.7 0.6 121 1 0 -0.7 1.2a0.7 0.6 121 1 0 0.7 -1.2M423.1 129.2a0.7 0.6 46 1 0 1.0 1.0a0.7 0.6 46 1 0 -1.0 -1.0M427.7 67.2a0.7 0.6 23 1 0 1.2 0.5a0.7 0.6 23 1 0 -1.2 -0.5M423.9 75.2a0.8 0.6 105 1 0 -0.4 1.5a0.8 0.6 105 1 0 0.4 -1.5M481.4 102.3a0.9 0.8 85 1 0 0.2 1.7a0.9 0.8 85 1 0 -0.2 -1.7M416.6 129.6a1.1 0.6 67 1 0 0.9 2.1a1.1 0.6 67 1 0 -0.9 -2.1M456.0 121.9a0.9 0.7 146 1 0 -1.5 1.0a0.9 0.7 146 1 0 1.5 -1.0M439.8 118.7a1.3 1.2 110 1 0 -0.9 2.4a1.3 1.2 110 1 0 0.9 -2.4M445.2 102.1a0.8 0.5 130 1 0 -1.0 1.2a0.8 0.5 130 1 0 1.0 -1.2M491.9 107.0a1.0 0.8 79 1 0 0.4 2.0a1.0 0.8 79 1 0 -0.4 -2.0M473.6 41.4a1.1 1.0 55 1 0 1.3 1.8a1.1 1.0 55 1 0 -1.3 -1.8M450.9 96.6a0.8 0.6 50 1 0 1.0 1.2a0.8 0.6 50 1 0 -1.0 -1.2M404.9 93.7a0.9 0.6 73 1 0 0.5 1.8a0.9 0.6 73 1 0 -0.5 -1.8M421.8 84.2a0.8 0.6 85 1 0 0.2 1.7a0.8 0.6 85 1 0 -0.2 -1.7M484.1 70.8a0.9 0.7 160 1 0 -1.7 0.6a0.9 0.7 160 1 0 1.7 -0.6M430.0 90.0a0.7 0.7 35 1 0 1.2 0.8a0.7 0.7 35 1 0 -1.2 -0.8M431.6 124.6a0.7 0.4 167 1 0 -1.4 0.3a0.7 0.4 167 1 0 1.4 -0.3"/>
<path fill="#7f8cc4" fill-opacity="0.25" d="M408.1 117.2a1.0 0.6 57 1 0 1.1 1.7a1.0 0.6 57 1 0 -1.1 -1.7M377.2 105.3a0.7 0.4 159 1 0 -1.2 0.5a0.7 0.4 159 1 0 1.2 -0.5M482.3 126.0a0.8 0.6 98 1 0 -0.2 1.6a0.8 0.6 98 1 0 0.2 -1.6M376.9 64.6a0.7 0.5 13 1 0 1.3 0.3a0.7 0.5 13 1 0 -1.3 -0.3M417.7 65.5a0.6 0.5 75 1 0 0.3 1.2a0.6 0.5 75 1 0 -0.3 -1.2M399.5 78.4a0.8 0.6 23 1 0 1.5 0.6a0.8 0.6 23 1 0 -1.5 -0.6M437.0 109.1a0.9 0.9 129 1 0 -1.2 1.5a0.9 0.9 129 1 0 1.2 -1.5M498.3 66.4a1.0 0.7 137 1 0 -1.4 1.3a1.0 0.7 137 1 0 1.4 -1.3M391.5 65.3a1.1 1.0 7 1 0 2.3 0.3a1.1 1.0 7 1 0 -2.3 -0.3M501.0 69.4a0.8 0.6 65 1 0 0.7 1.4a0.8 0.6 65 1 0 -0.7 -1.4M423.8 127.1a1.0 0.8 10 1 0 2.1 0.4a1.0 0.8 10 1 0 -2.1 -0.4M429.8 116.4a1.3 1.1 126 1 0 -1.5 2.0a1.3 1.1 126 1 0 1.5 -2.0M444.4 78.7a0.7 0.6 14 1 0 1.4 0.4a0.7 0.6 14 1 0 -1.4 -0.4M383.2 120.5a0.8 0.8 172 1 0 -1.6 0.2a0.8 0.8 172 1 0 1.6 -0.2M501.6 116.1a1.0 0.6 103 1 0 -0.5 2.0a1.0 0.6 103 1 0 0.5 -2.0M452.8 48.1a0.7 0.7 48 1 0 1.0 1.1a0.7 0.7 48 1 0 -1.0 -1.1M413.0 90.4a0.6 0.6 144 1 0 -1.0 0.7a0.6 0.6 144 1 0 1.0 -0.7M492.1 41.5a1.3 0.7 46 1 0 1.8 1.8a1.3 0.7 46 1 0 -1.8 -1.8M499.2 47.6a0.6 0.3 132 1 0 -0.8 0.9a0.6 0.3 132 1 0 0.8 -0.9M438.5 49.9a0.7 0.5 55 1 0 0.8 1.2a0.7 0.5 55 1 0 -0.8 -1.2M381.8 49.6a0.7 0.5 33 1 0 1.2 0.8a0.7 0.5 33 1 0 -1.2 -0.8M492.1 120.5a0.9 0.7 32 1 0 1.6 1.0a0.9 0.7 32 1 0 -1.6 -1.0"/>
<path fill="#6f7ab8" fill-opacity="0.25" d="M491.0 80.9a1.2 1.2 18 1 0 2.4 0.8a1.2 1.2 18 1 0 -2.4 -0.8M470.1 79.7a1.1 0.8 159 1 0 -2.0 0.8a1.1 0.8 159 1 0 2.0 -0.8M455.5 93.4a0.7 0.4 99 1 0 -0.2 1.4a0.7 0.4 99 1 0 0.2 -1.4M495.2 47.4a1.2 0.9 136 1 0 -1.7 1.7a1.2 0.9 136 1 0 1.7 -1.7M424.2 89.1a0.6 0.5 72 1 0 0.4 1.2a0.6 0.5 72 1 0 -0.4 -1.2M422.9 117.8a0.9 0.8 137 1 0 -1.3 1.2a0.9 0.8 137 1 0 1.3 -1.2M433.9 44.9a1.0 0.8 76 1 0 0.5 1.9a1.0 0.8 76 1 0 -0.5 -1.9M379.1 77.3a1.2 1.0 102 1 0 -0.5 2.4a1.2 1.0 102 1 0 0.5 -2.4M487.9 83.3a1.1 0.7 45 1 0 1.6 1.6a1.1 0.7 45 1 0 -1.6 -1.6M426.1 129.8a1.0 0.7 122 1 0 -1.1 1.8a1.0 0.7 122 1 0 1.1 -1.8M407.9 78.1a1.0 0.6 172 1 0 -2.0 0.3a1.0 0.6 172 1 0 2.0 -0.3M474.2 75.1a0.9 0.9 111 1 0 -0.6 1.7a0.9 0.9 111 1 0 0.6 -1.7M440.5 94.5a1.2 1.0 47 1 0 1.6 1.7a1.2 1.0 47 1 0 -1.6 -1.7M414.8 124.4a1.2 0.7 129 1 0 -1.5 1.8a1.2 0.7 129 1 0 1.5 -1.8M500.8 103.1a0.7 0.6 173 1 0 -1.4 0.2a0.7 0.6 173 1 0 1.4 -0.2M453.9 54.0a0.7 0.5 42 1 0 1.0 0.9a0.7 0.5 42 1 0 -1.0 -0.9M463.0 41.5a0.7 0.4 66 1 0 0.5 1.2a0.7 0.4 66 1 0 -0.5 -1.2M446.6 87.3a0.9 0.5 11 1 0 1.7 0.3a0.9 0.5 11 1 0 -1.7 -0.3M409.0 136.0a0.8 0.5 164 1 0 -1.6 0.5a0.8 0.5 164 1 0 1.6 -0.5"/>
<path fill="#8a94c8" fill-opacity="0.5" d="M416.8 109.3a1.1 1.1 76 1 0 0.5 2.1a1.1 1.1 76 1 0 -0.5 -2.1M414.5 121.6a1.0 0.8 116 1 0 -0.9 1.8a1.0 0.8 116 1 0 0.9 -1.8M482.2 132.2a1.3 1.0 23 1 0 2.3 1.0a1.3 1.0 23 1 0 -2.3 -1.0M388.1 100.8a0.8 0.5 29 1 0 1.5 0.8a0.8 0.5 29 1 0 -1.5 -0.8M428.3 58.8a0.7 0.6 92 1 0 -0.0 1.4a0.7 0.6 92 1 0 0.0 -1.4M428.9 134.6a0.8 0.6 6 1 0 1.5 0.2a0.8 0.6 6 1 0 -1.5 -0.2M427.0 65.5a0.6 0.6 7 1 0 1.2 0.1a0.6 0.6 7 1 0 -1.2 -0.1M399.8 71.7a1.3 1.2 61 1 0 1.3 2.3a1.3 1.2 61 1 0 -1.3 -2.3M441.8 47.4a0.6 0.4 30 1 0 1.1 0.6a0.6 0.4 30 1 0 -1.1 -0.6M416.3 89.5a0.8 0.5 21 1 0 1.5 0.5a0.8 0.5 21 1 0 -1.5 -0.5M474.8 96.9a0.7 0.5 123 1 0 -0.8 1.2a0.7 0.5 123 1 0 0.8 -1.2M446.9 73.8a0.8 0.7 7 1 0 1.5 0.2a0.8 0.7 7 1 0 -1.5 -0.2M476.5 48.0a1.3 0.8 140 1 0 -1.9 1.6a1.3 0.8 140 1 0 1.9 -1.6M385.8 65.7a0.7 0.6 15 1 0 1.3 0.3a0.7 0.6 15 1 0 -1.3 -0.3M454.0 133.3a1.1 0.6 153 1 0 -1.9 1.0a1.1 0.6 153 1 0 1.9 -1.0M422.9 117.4a0.9 0.6 59 1 0 0.9 1.5a0.9 0.6 59 1 0 -0.9 -1.5M471.6 120.6a0.9 0.9 154 1 0 -1.6 0.8a0.9 0.9 154 1 0 1.6 -0.8M491.5 77.1a1.0 1.0 114 1 0 -0.8 1.8a1.0 1.0 114 1 0 0.8 -1.8M469.0 101.6a1.1 0.9 73 1 0 0.6 2.0a1.1 0.9 73 1 0 -0.6 -2.0M430.1 113.2a1.1 0.7 113 1 0 -0.9 2.1a1.1 0.7 113 1 0 0.9 -2.1M482.9 68.5a0.7 0.5 148 1 0 -1.3 0.8a0.7 0.5 148 1 0 1.3 -0.8M450.0 73.3a1.0 0.5 45 1 0 1.4 1.4a1.0 0.5 45 1 0 -1.4 -1.4M436.5 117.9a0.8 0.5 89 1 0 0.0 1.5a0.8 0.5 89 1 0 -0.0 -1.5M482.8 114.0a0.9 0.8 87 1 0 0.1 1.7a0.9 0.8 87 1 0 -0.1 -1.7M467.2 121.2a0.7 0.5 179 1 0 -1.3 0.0a0.7 0.5 179 1 0 1.3 -0.0M408.7 112.0a1.3 1.0 156 1 0 -2.3 1.0a1.3 1.0 156 1 0 2.3 -1.0M383.3 72.0a1.1 0.9 146 1 0 -1.8 1.2a1.1 0.9 146 1 0 1.8 -1.2M374.8 43.2a0.8 0.7 15 1 0 1.6 0.4a0.8 0.7 15 1 0 -1.6 -0.4M487.9 132.7a0.7 0.7 142 1 0 -1.1 0.8a0.7 0.7 142 1 0 1.1 -0.8M431.7 53.6a0.7 0.5 122 1 0 -0.7 1.1a0.7 0.5 122 1 0 0.7 -1.1M442.0 51.2a0.8 0.6 146 1 0 -1.3 0.9a0.8 0.6 146 1 0 1.3 -0.9M425.5 41.7a1.2 1.2 163 1 0 -2.2 0.7a1.2 1.2 163 1 0 2.2 -0.7M462.7 107.3a1.2 0.9 50 1 0 1.5 1.8a1.2 0.9 50 1 0 -1.5 -1.8M409.9 57.2a1.1 0.6 65 1 0 0.9 2.0a1.1 0.6 65 1 0 -0.9 -2.0M384.6 96.0a1.0 0.8 129 1 0 -1.3 1.6a1.0 0.8 129 1 0 1.3 -1.6M465.6 74.2a1.0 0.6 149 1 0 -1.7 1.0a1.0 0.6 149 1 0 1.7 -1.0M429.7 96.4a1.1 0.9 71 1 0 0.7 2.1a1.1 0.9 71 1 0 -0.7 -2.1M477.4 134.7a1.0 0.8 98 1 0 -0.3 2.0a1.0 0.8 98 1 0 0.3 -2.0M461.7 45.5a0.9 0.7 172 1 0 -1.8 0.2a0.9 0.7 172 1 0 1.8 -0.2M489.6 86.3a0.9 0.7 57 1 0 1.0 1.5a0.9 0.7 57 1 0 -1.0 -1.5M471.8 48.4a1.2 0.7 95 1 0 -0.2 2.3a1.2 0.7 95 1 0 0.2 -2.3M470.8 115.3a0.9 0.7 91 1 0 -0.0 1.8a0.9 0.7 91 1 0 0.0 -1.8M424.0 129.5a1.3 1.2 154 1 0 -2.3 1.1a1.3 1.2 154 1 0 2.3 -1.1M375.3 92.9a0.8 0.5 2 1 0 1.7 0.0a0.8 0.5 2 1 0 -1.7 -0.0M413.7 69.8a0.7 0.5 131 1 0 -0.9 1.0a0.7 0.5 131 1 0 0.9 -1.0M462.3 48.1a0.7 0.6 177 1 0 -1.5 0.1a0.7 0.6 177 1 0 1.5 -0.1M481.7 69.9a1.0 0.7 139 1 0 -1.5 1.3a1.0 0.7 139 1 0 1.5 -1.3M419.5 99.4a1.1 1.0 16 1 0 2.1 0.6a1.1 1.0 16 1 0 -2.1 -0.6M397.0 107.3a1.2 1.0 167 1 0 -2.3 0.5a1.2 1.0 167 1 0 2.3 -0.5M435.9 44.3a0.6 0.5 101 1 0 -0.2 1.3a0.6 0.5 101 1 0 0.2 -1.3M416.0 74.2a0.9 0.7 102 1 0 -0.4 1.7a0.9 0.7 102 1 0 0.4 -1.7M383.4 90.3a0.9 0.7 59 1 0 1.0 1.6a0.9 0.7 59 1 0 -1.0 -1.6M438.6 42.0a1.0 0.8 134 1 0 -1.4 1.4a1.0 0.8 134 1 0 1.4 -1.4M446.0 134.1a0.7 0.6 2 1 0 1.4 0.0a0.7 0.6 2 1 0 -1.4 -0.0"/>
<path fill="#6f7ab8" fill-opacity="0.5" d="M498.5 114.4a1.0 0.9 42 1 0 1.5 1.3a1.0 0.9 42 1 0 -1.5 -1.3M456.0 69.2a1.1 0.8 21 1 0 2.0 0.8a1.1 0.8 21 1 0 -2.0 -0.8M390.3 61.6a0.6 0.4 14 1 0 1.2 0.3a0.6 0.4 14 1 0 -1.2 -0.3M472.9 77.3a1.0 0.7 15 1 0 1.9 0.5a1.0 0.7 15 1 0 -1.9 -0.5M388.8 128.2a0.9 0.9 164 1 0 -1.7 0.5a0.9 0.9 164 1 0 1.7 -0.5M464.3 71.5a0.7 0.5 5 1 0 1.5 0.1a0.7 0.5 5 1 0 -1.5 -0.1M402.9 99.4a1.3 1.0 124 1 0 -1.4 2.1a1.3 1.0 124 1 0 1.4 -2.1M455.9 76.1a1.0 0.9 37 1 0 1.5 1.1a1.0 0.9 37 1 0 -1.5 -1.1M437.6 61.5a0.9 0.7 164 1 0 -1.7 0.5a0.9 0.7 164 1 0 1.7 -0.5M451.7 120.5a0.7 0.5 98 1 0 -0.2 1.5a0.7 0.5 98 1 0 0.2 -1.5M436.7 122.2a1.1 0.9 69 1 0 0.8 2.1a1.1 0.9 69 1 0 -0.8 -2.1M434.3 121.2a0.9 0.8 178 1 0 -1.8 0.1a0.9 0.8 178 1 0 1.8 -0.1M407.4 108.6a1.2 1.0 27 1 0 2.2 1.1a1.2 1.0 27 1 0 -2.2 -1.1M429.9 56.9a1.1 0.7 17 1 0 2.1 0.6a1.1 0.7 17 1 0 -2.1 -0.6M400.2 61.1a1.2 0.8 13 1 0 2.4 0.6a1.2 0.8 13 1 0 -2.4 -0.6M446.4 46.2a0.8 0.7 179 1 0 -1.6 0.0a0.8 0.7 179 1 0 1.6 -0.0M468.0 78.3a0.9 0.7 47 1 0 1.2 1.3a0.9 0.7 47 1 0 -1.2 -1.3M490.6 136.2a0.6 0.6 154 1 0 -1.1 0.5a0.6 0.6 154 1 0 1.1 -0.5M409.9 52.1a0.7 0.4 115 1 0 -0.6 1.2a0.7 0.4 115 1 0 0.6 -1.2M483.4 69.6a0.9 0.6 100 1 0 -0.3 1.8a0.9 0.6 100 1 0 0.3 -1.8M444.7 122.0a1.0 0.8 5 1 0 2.0 0.2a1.0 0.8 5 1 0 -2.0 -0.2M477.7 102.9a0.8 0.6 63 1 0 0.7 1.5a0.8 0.6 63 1 0 -0.7 -1.5M441.2 41.8a0.7 0.5 131 1 0 -0.9 1.0a0.7 0.5 131 1 0 0.9 -1.0M492.2 128.4a1.2 0.7 94 1 0 -0.2 2.3a1.2 0.7 94 1 0 0.2 -2.3M475.2 61.1a1.2 0.9 78 1 0 0.5 2.3a1.2 0.9 78 1 0 -0.5 -2.3M461.3 92.5a1.3 1.1 131 1 0 -1.6 1.9a1.3 1.1 131 1 0 1.6 -1.9M480.0 89.6a1.3 0.9 140 1 0 -2.0 1.7a1.3 0.9 140 1 0 2.0 -1.7M444.1 118.5a1.3 0.9 113 1 0 -1.0 2.3a1.3 0.9 113 1 0 1.0 -2.3M392.3 83.9a0.7 0.6 175 1 0 -1.4 0.1a0.7 0.6 175 1 0 1.4 -0.1M492.7 121.8a0.9 0.7 143 1 0 -1.4 1.0a0.9 0.7 143 1 0 1.4 -1.0M377.5 57.2a0.8 0.7 106 1 0 -0.4 1.5a0.8 0.7 106 1 0 0.4 -1.5M426.7 130.6a0.8 0.6 49 1 0 1.0 1.2a0.8 0.6 49 1 0 -1.0 -1.2M454.3 123.2a0.7 0.6 131 1 0 -0.9 1.0a0.7 0.6 131 1 0 0.9 -1.0M452.5 55.0a0.9 0.6 125 1 0 -1.0 1.5a0.9 0.6 125 1 0 1.0 -1.5M480.0 45.6a0.7 0.4 101 1 0 -0.3 1.4a0.7 0.4 101 1 0 0.3 -1.4M401.6 82.3a1.0 0.7 49 1 0 1.3 1.5a1.0 0.7 49 1 0 -1.3 -1.5M442.3 113.4a1.0 0.9 102 1 0 -0.4 1.9a1.0 0.9 102 1 0 0.4 -1.9M478.9 63.8a1.2 0.8 101 1 0 -0.5 2.3a1.2 0.8 101 1 0 0.5 -2.3M390.4 44.5a1.1 0.8 131 1 0 -1.4 1.7a1.1 0.8 131 1 0 1.4 -1.7M500.7 114.6a0.6 0.5 68 1 0 0.5 1.2a0.6 0.5 68 1 0 -0.5 -1.2M417.5 117.4a0.8 0.6 26 1 0 1.4 0.7a0.8 0.6 26 1 0 -1.4 -0.7M456.9 105.1a1.2 1.0 154 1 0 -2.2 1.1a1.2 1.0 154 1 0 2.2 -1.1M382.5 45.3a1.0 1.0 154 1 0 -1.8 0.9a1.0 1.0 154 1 0 1.8 -0.9M445.8 136.3a0.6 0.5 142 1 0 -1.0 0.8a0.6 0.5 142 1 0 1.0 -0.8M471.7 64.0a1.2 1.0 71 1 0 0.7 2.2a1.2 1.0 71 1 0 -0.7 -2.2M411.9 124.6a1.3 1.2 14 1 0 2.5 0.6a1.3 1.2 14 1 0 -2.5 -0.6M489.3 62.7a1.0 1.0 91 1 0 -0.0 2.0a1.0 1.0 91 1 0 0.0 -2.0M388.0 100.2a1.1 1.0 78 1 0 0.4 2.1a1.1 1.0 78 1 0 -0.4 -2.1M467.4 127.4a1.1 0.9 30 1 0 2.0 1.1a1.1 0.9 30 1 0 -2.0 -1.1M496.8 107.7a0.7 0.7 91 1 0 -0.0 1.5a0.7 0.7 91 1 0 0.0 -1.5M393.1 136.0a1.1 1.1 0 1 0 2.2 0.0a1.1 1.1 0 1 0 -2.2 -0.0M470.4 101.9a0.7 0.4 109 1 0 -0.4 1.3a0.7 0.4 109 1 0 0.4 -1.3M473.3 46.2a1.0 0.8 29 1 0 1.8 1.0a1.0 0.8 29 1 0 -1.8 -1.0M414.2 110.5a0.6 0.5 42 1 0 1.0 0.9a0.6 0.5 42 1 0 -1.0 -0.9M468.4 51.8a1.3 1.2 40 1 0 2.0 1.6a1.3 1.2 40 1 0 -2.0 -1.6M442.5 123.9a1.1 1.0 138 1 0 -1.6 1.5a1.1 1.0 138 1 0 1.6 -1.5M473.6 83.1a0.8 0.5 175 1 0 -1.6 0.1a0.8 0.5 175 1 0 1.6 -0.1M469.1 75.9a1.3 0.9 153 1 0 -2.2 1.1a1.3 0.9 153 1 0 2.2 -1.1M439.0 103.9a1.3 1.1 56 1 0 1.4 2.1a1.3 1.1 56 1 0 -1.4 -2.1M397.2 72.2a0.8 0.8 45 1 0 1.1 1.2a0.8 0.8 45 1 0 -1.1 -1.2M402.8 74.5a1.1 0.9 104 1 0 -0.5 2.1a1.1 0.9 104 1 0 0.5 -2.1M421.6 121.2a0.9 0.6 43 1 0 1.3 1.2a0.9 0.6 43 1 0 -1.3 -1.2"/>
<path fill="#9aa2d0" fill-opacity="0.25" d="M439.5 81.2a1.2 1.2 114 1 0 -0.9 2.2a1.2 1.2 114 1 0 0.9 -2.2M415.0 78.1a0.9 0.5 57 1 0 1.0 1.5a0.9 0.5 57 1 0 -1.0 -1.5M443.0 70.3a0.8 0.5 51 1 0 1.0 1.2a0.8 0.5 51 1 0 -1.0 -1.2M431.6 83.9a0.8 0.6 141 1 0 -1.3 1.0a0.8 0.6 141 1 0 1.3 -1.0M375.2 92.1a0.9 0.8 14 1 0 1.7 0.4a0.9 0.8 14 1 0 -1.7 -0.4M473.3 97.8a0.9 0.9 74 1 0 0.5 1.7a0.9 0.9 74 1 0 -0.5 -1.7M473.8 51.8a1.1 0.8 101 1 0 -0.4 2.1a1.1 0.8 101 1 0 0.4 -2.1M440.5 115.1a0.6 0.6 84 1 0 0.1 1.2a0.6 0.6 84 1 0 -0.1 -1.2M415.2 111.9a1.2 0.7 106 1 0 -0.7 2.3a1.2 0.7 106 1 0 0.7 -2.3M453.4 131.8a1.0 0.8 65 1 0 0.8 1.8a1.0 0.8 65 1 0 -0.8 -1.8M404.8 44.9a0.8 0.5 128 1 0 -1.0 1.2a0.8 0.5 128 1 0 1.0 -1.2M433.4 124.6a1.1 0.9 156 1 0 -1.9 0.9a1.1 0.9 156 1 0 1.9 -0.9M451.9 83.2a0.7 0.5 72 1 0 0.4 1.4a0.7 0.5 72 1 0 -0.4 -1.4"/>
<path fill="#8a94c8" fill-opacity="0.25" d="M414.9 50.9a1.0 0.9 53 1 0 1.2 1.5a1.0 0.9 53 1 0 -1.2 -1.5M490.8 44.1a0.8 0.8 145 1 0 -1.3 0.9a0.8 0.8 145 1 0 1.3 -0.9M488.8 43.0a1.0 0.6 53 1 0 1.2 1.6a1.0 0.6 53 1 0 -1.2 -1.6M393.3 53.9a1.1 0.8 135 1 0 -1.6 1.6a1.1 0.8 135 1 0 1.6 -1.6M397.4 62.2a0.8 0.6 135 1 0 -1.1 1.1a0.8 0.6 135 1 0 1.1 -1.1M432.3 121.5a1.2 0.7 11 1 0 2.4 0.5a1.2 0.7 11 1 0 -2.4 -0.5M482.8 104.7a0.9 0.7 175 1 0 -1.7 0.2a0.9 0.7 175 1 0 1.7 -0.2M470.1 110.3a1.1 0.7 176 1 0 -2.2 0.2a1.1 0.7 176 1 0 2.2 -0.2M390.3 122.8a0.7 0.5 163 1 0 -1.3 0.4a0.7 0.5 163 1 0 1.3 -0.4M377.0 126.7a0.9 0.8 31 1 0 1.5 0.9a0.9 0.8 31 1 0 -1.5 -0.9M494.8 84.8a0.9 0.7 147 1 0 -1.4 0.9a0.9 0.7 147 1 0 1.4 -0.9M482.3 54.1a0.7 0.6 71 1 0 0.5 1.4a0.7 0.6 71 1 0 -0.5 -1.4M381.8 61.7a1.2 0.9 166 1 0 -2.3 0.6a1.2 0.9 166 1 0 2.3 -0.6M404.9 89.6a0.8 0.8 13 1 0 1.6 0.4a0.8 0.8 13 1 0 -1.6 -0.4M390.5 131.5a0.6 0.4 111 1 0 -0.4 1.2a0.6 0.4 111 1 0 0.4 -1.2M403.9 54.0a1.1 0.6 87 1 0 0.1 2.3a1.1 0.6 87 1 0 -0.1 -2.3M432.7 120.1a1.3 0.8 131 1 0 -1.7 1.9a1.3 0.8 131 1 0 1.7 -1.9"/>
<g filter="url(#blur1)"><path d="M398.6,79.0L414.7,75.8L426.8,79.8L432.8,88.5L436.5,99.2L440.3,110.0L443.0,119.4L440.8,127.5L434.9,130.2L425.5,128.3L417.4,120.8L412.0,111.3L405.8,100.6L399.9,92.5L396.7,84.4Z" fill="#eeeaf0" stroke="#b88a78" stroke-width="7.2" stroke-linejoin="round" stroke-opacity="0.8"/><path d="M450.5,52.0L449.7,54.8L447.3,57.5L443.5,59.8L438.5,61.5L432.7,62.6L426.5,63.0L420.3,62.6L414.5,61.5L409.5,59.8L405.7,57.5L403.3,54.8L402.5,52.0L403.3,49.2L405.7,46.5L409.5,44.2L414.5,42.5L420.3,41.4L426.5,41.0L432.7,41.4L438.5,42.5L443.5,44.2L447.3,46.5L449.7,49.2Z" fill="#eeeaf0" stroke="#b88a78" stroke-width="5.6" stroke-linejoin="round" stroke-opacity="0.8"/><path d="M482.2,74.9L482.8,78.0L482.5,81.1L481.4,84.2L479.4,87.0L476.7,89.2L473.6,90.8L470.2,91.6L466.7,91.6L463.4,90.7L460.6,89.1L458.3,86.9L456.8,84.1L456.2,81.0L456.5,77.9L457.6,74.8L459.6,72.0L462.3,69.8L465.4,68.2L468.8,67.4L472.3,67.4L475.6,68.3L478.4,69.9L480.7,72.1Z" fill="#eeeaf0" stroke="#b88a78" stroke-width="4.8" stroke-linejoin="round" stroke-opacity="0.8"/><path d="M451.0,97.0L456.0,104.0L458.0,112.0L457.0,120.0L455.0,128.0L452.0,134.0" stroke="#a06a50" stroke-width="6" fill="none" stroke-linecap="round"/><path d="M436.0,128.0L444.0,131.0L452.0,133.0" stroke="#a06a50" stroke-width="5" fill="none" stroke-linecap="round"/><path d="M455,104 L457,118" stroke="#f0eef3" stroke-width="2" fill="none"/><path d="M489,42 Q496,53 502,50" stroke="#a06a50" stroke-width="5" fill="none"/></g>
<g filter="url(#blur05)"><path fill="#6e3222" fill-opacity=".85" d="M413.9 119.1a2.2 2.2 0 1 0 4.3 0a2.2 2.2 0 1 0 -4.3 0M411.8 71.9a1.7 1.7 0 1 0 3.4 0a1.7 1.7 0 1 0 -3.4 0M440.1 122.9a2.5 2.5 0 1 0 4.9 0a2.5 2.5 0 1 0 -4.9 0M419.7 126.8a2.6 2.6 0 1 0 5.2 0a2.6 2.6 0 1 0 -5.2 0M429.3 129.0a2.5 2.5 0 1 0 5.1 0a2.5 2.5 0 1 0 -5.1 0M430.8 100.5a1.9 1.9 0 1 0 3.9 0a1.9 1.9 0 1 0 -3.9 0M397.4 80.1a2.8 2.8 0 1 0 5.5 0a2.8 2.8 0 1 0 -5.5 0M412.4 119.3a2.1 2.1 0 1 0 4.1 0a2.1 2.1 0 1 0 -4.1 0M410.6 106.2a1.7 1.7 0 1 0 3.5 0a1.7 1.7 0 1 0 -3.5 0M393.5 78.7a2.4 2.4 0 1 0 4.8 0a2.4 2.4 0 1 0 -4.8 0M417.0 74.9a2.5 2.5 0 1 0 5.0 0a2.5 2.5 0 1 0 -5.0 0M441.8 126.5a2.7 2.7 0 1 0 5.4 0a2.7 2.7 0 1 0 -5.4 0M406.4 77.8a2.6 2.6 0 1 0 5.3 0a2.6 2.6 0 1 0 -5.3 0M442.2 122.1a2.7 2.7 0 1 0 5.4 0a2.7 2.7 0 1 0 -5.4 0M442.2 121.1a2.5 2.5 0 1 0 5.1 0a2.5 2.5 0 1 0 -5.1 0"/><path fill="#5e2c1e" fill-opacity=".85" d="M421.1 79.9a2.7 2.7 0 1 0 5.5 0a2.7 2.7 0 1 0 -5.5 0M417.6 76.5a2.1 2.1 0 1 0 4.2 0a2.1 2.1 0 1 0 -4.2 0M399.7 101.8a1.8 1.8 0 1 0 3.5 0a1.8 1.8 0 1 0 -3.5 0M432.8 127.5a1.6 1.6 0 1 0 3.2 0a1.6 1.6 0 1 0 -3.2 0M441.2 119.5a1.7 1.7 0 1 0 3.4 0a1.7 1.7 0 1 0 -3.4 0M411.0 75.4a1.7 1.7 0 1 0 3.4 0a1.7 1.7 0 1 0 -3.4 0M393.4 91.6a2.2 2.2 0 1 0 4.4 0a2.2 2.2 0 1 0 -4.4 0M400.3 98.4a2.1 2.1 0 1 0 4.2 0a2.1 2.1 0 1 0 -4.2 0M417.5 123.6a2.3 2.3 0 1 0 4.6 0a2.3 2.3 0 1 0 -4.6 0M410.0 73.2a2.6 2.6 0 1 0 5.1 0a2.6 2.6 0 1 0 -5.1 0M399.4 74.4a2.5 2.5 0 1 0 5.1 0a2.5 2.5 0 1 0 -5.1 0M421.3 125.8a2.0 2.0 0 1 0 4.1 0a2.0 2.0 0 1 0 -4.1 0M413.5 77.4a1.6 1.6 0 1 0 3.2 0a1.6 1.6 0 1 0 -3.2 0M424.3 126.5a1.5 1.5 0 1 0 3.1 0a1.5 1.5 0 1 0 -3.1 0M402.6 103.8a2.6 2.6 0 1 0 5.2 0a2.6 2.6 0 1 0 -5.2 0M395.2 82.6a2.5 2.5 0 1 0 5.0 0a2.5 2.5 0 1 0 -5.0 0M427.0 91.4a2.4 2.4 0 1 0 4.8 0a2.4 2.4 0 1 0 -4.8 0M441.8 108.7a1.9 1.9 0 1 0 3.8 0a1.9 1.9 0 1 0 -3.8 0M393.8 86.1a2.7 2.7 0 1 0 5.4 0a2.7 2.7 0 1 0 -5.4 0M427.0 129.2a2.0 2.0 0 1 0 4.1 0a2.0 2.0 0 1 0 -4.1 0"/><path fill="#a87060" fill-opacity=".85" d="M401.1 101.9a2.4 2.4 0 1 0 4.8 0a2.4 2.4 0 1 0 -4.8 0M425.9 87.0a2.1 2.1 0 1 0 4.1 0a2.1 2.1 0 1 0 -4.1 0M401.1 94.2a1.7 1.7 0 1 0 3.4 0a1.7 1.7 0 1 0 -3.4 0M395.5 85.9a2.3 2.3 0 1 0 4.7 0a2.3 2.3 0 1 0 -4.7 0M418.4 77.2a2.2 2.2 0 1 0 4.4 0a2.2 2.2 0 1 0 -4.4 0M403.5 99.2a2.5 2.5 0 1 0 4.9 0a2.5 2.5 0 1 0 -4.9 0M423.9 84.3a1.5 1.5 0 1 0 3.0 0a1.5 1.5 0 1 0 -3.0 0M439.9 103.6a1.5 1.5 0 1 0 3.1 0a1.5 1.5 0 1 0 -3.1 0M432.2 94.7a1.9 1.9 0 1 0 3.8 0a1.9 1.9 0 1 0 -3.8 0M433.7 110.8a2.4 2.4 0 1 0 4.8 0a2.4 2.4 0 1 0 -4.8 0M399.4 80.2a2.1 2.1 0 1 0 4.2 0a2.1 2.1 0 1 0 -4.2 0M431.2 131.4a2.0 2.0 0 1 0 4.0 0a2.0 2.0 0 1 0 -4.0 0M408.7 103.7a1.9 1.9 0 1 0 3.7 0a1.9 1.9 0 1 0 -3.7 0M410.6 76.2a1.9 1.9 0 1 0 3.9 0a1.9 1.9 0 1 0 -3.9 0M437.4 116.0a1.7 1.7 0 1 0 3.5 0a1.7 1.7 0 1 0 -3.5 0M436.7 97.4a1.8 1.8 0 1 0 3.7 0a1.8 1.8 0 1 0 -3.7 0M399.2 80.8a2.5 2.5 0 1 0 5.1 0a2.5 2.5 0 1 0 -5.1 0M430.1 132.6a2.0 2.0 0 1 0 3.9 0a2.0 2.0 0 1 0 -3.9 0M433.7 130.4a2.5 2.5 0 1 0 5.0 0a2.5 2.5 0 1 0 -5.0 0M433.0 129.8a1.8 1.8 0 1 0 3.7 0a1.8 1.8 0 1 0 -3.7 0"/><path fill="#9c5c44" fill-opacity=".85" d="M398.8 83.1a1.7 1.7 0 1 0 3.3 0a1.7 1.7 0 1 0 -3.3 0M414.2 118.0a1.7 1.7 0 1 0 3.5 0a1.7 1.7 0 1 0 -3.5 0M405.6 79.3a1.6 1.6 0 1 0 3.3 0a1.6 1.6 0 1 0 -3.3 0M411.2 72.0a2.1 2.1 0 1 0 4.2 0a2.1 2.1 0 1 0 -4.2 0M404.2 95.7a2.3 2.3 0 1 0 4.6 0a2.3 2.3 0 1 0 -4.6 0M431.3 126.6a2.0 2.0 0 1 0 4.0 0a2.0 2.0 0 1 0 -4.0 0M422.8 79.1a2.1 2.1 0 1 0 4.2 0a2.1 2.1 0 1 0 -4.2 0M412.1 72.5a1.9 1.9 0 1 0 3.8 0a1.9 1.9 0 1 0 -3.8 0M398.5 95.0a1.6 1.6 0 1 0 3.2 0a1.6 1.6 0 1 0 -3.2 0M437.6 114.8a2.7 2.7 0 1 0 5.4 0a2.7 2.7 0 1 0 -5.4 0M397.1 78.2a2.5 2.5 0 1 0 5.0 0a2.5 2.5 0 1 0 -5.0 0M414.7 79.9a2.4 2.4 0 1 0 4.8 0a2.4 2.4 0 1 0 -4.8 0M435.9 115.6a1.6 1.6 0 1 0 3.2 0a1.6 1.6 0 1 0 -3.2 0M425.0 128.0a2.2 2.2 0 1 0 4.5 0a2.2 2.2 0 1 0 -4.5 0M433.8 89.5a2.4 2.4 0 1 0 4.8 0a2.4 2.4 0 1 0 -4.8 0M422.2 125.4a2.7 2.7 0 1 0 5.4 0a2.7 2.7 0 1 0 -5.4 0M435.4 124.3a2.6 2.6 0 1 0 5.2 0a2.6 2.6 0 1 0 -5.2 0M435.0 115.6a2.6 2.6 0 1 0 5.2 0a2.6 2.6 0 1 0 -5.2 0M401.5 79.2a2.6 2.6 0 1 0 5.1 0a2.6 2.6 0 1 0 -5.1 0M403.4 107.0a1.6 1.6 0 1 0 3.2 0a1.6 1.6 0 1 0 -3.2 0M400.8 93.4a2.0 2.0 0 1 0 4.0 0a2.0 2.0 0 1 0 -4.0 0M422.3 125.7a2.5 2.5 0 1 0 5.0 0a2.5 2.5 0 1 0 -5.0 0M437.8 119.2a1.7 1.7 0 1 0 3.3 0a1.7 1.7 0 1 0 -3.3 0M422.8 123.3a2.4 2.4 0 1 0 4.8 0a2.4 2.4 0 1 0 -4.8 0M427.4 80.7a1.8 1.8 0 1 0 3.6 0a1.8 1.8 0 1 0 -3.6 0M396.7 87.0a2.3 2.3 0 1 0 4.6 0a2.3 2.3 0 1 0 -4.6 0"/><path fill="#8c4c34" fill-opacity=".85" d="M440.1 117.2a2.0 2.0 0 1 0 3.9 0a2.0 2.0 0 1 0 -3.9 0M440.6 116.9a2.7 2.7 0 1 0 5.4 0a2.7 2.7 0 1 0 -5.4 0M440.9 126.0a2.0 2.0 0 1 0 3.9 0a2.0 2.0 0 1 0 -3.9 0M424.1 131.1a2.6 2.6 0 1 0 5.1 0a2.6 2.6 0 1 0 -5.1 0M440.9 122.6a2.2 2.2 0 1 0 4.4 0a2.2 2.2 0 1 0 -4.4 0M420.9 79.1a2.6 2.6 0 1 0 5.2 0a2.6 2.6 0 1 0 -5.2 0M426.9 125.6a2.6 2.6 0 1 0 5.3 0a2.6 2.6 0 1 0 -5.3 0M411.1 106.6a1.9 1.9 0 1 0 3.8 0a1.9 1.9 0 1 0 -3.8 0M429.5 98.5a2.0 2.0 0 1 0 4.0 0a2.0 2.0 0 1 0 -4.0 0M426.1 126.4a2.6 2.6 0 1 0 5.2 0a2.6 2.6 0 1 0 -5.2 0M426.6 87.4a1.9 1.9 0 1 0 3.8 0a1.9 1.9 0 1 0 -3.8 0M396.1 87.1a1.9 1.9 0 1 0 3.7 0a1.9 1.9 0 1 0 -3.7 0M427.7 78.9a2.2 2.2 0 1 0 4.4 0a2.2 2.2 0 1 0 -4.4 0M414.9 77.2a1.7 1.7 0 1 0 3.3 0a1.7 1.7 0 1 0 -3.3 0M437.1 96.5a2.0 2.0 0 1 0 3.9 0a2.0 2.0 0 1 0 -3.9 0M401.3 77.8a1.8 1.8 0 1 0 3.5 0a1.8 1.8 0 1 0 -3.5 0M437.3 126.5a2.4 2.4 0 1 0 4.7 0a2.4 2.4 0 1 0 -4.7 0M439.6 111.1a2.2 2.2 0 1 0 4.4 0a2.2 2.2 0 1 0 -4.4 0M428.3 79.0a1.8 1.8 0 1 0 3.6 0a1.8 1.8 0 1 0 -3.6 0M428.3 130.8a2.6 2.6 0 1 0 5.2 0a2.6 2.6 0 1 0 -5.2 0M411.6 74.6a2.6 2.6 0 1 0 5.3 0a2.6 2.6 0 1 0 -5.3 0M432.9 131.0a2.5 2.5 0 1 0 5.0 0a2.5 2.5 0 1 0 -5.0 0M397.7 97.9a2.2 2.2 0 1 0 4.3 0a2.2 2.2 0 1 0 -4.3 0M413.9 76.6a2.5 2.5 0 1 0 5.0 0a2.5 2.5 0 1 0 -5.0 0M434.2 89.1a2.3 2.3 0 1 0 4.5 0a2.3 2.3 0 1 0 -4.5 0M401.3 90.4a2.5 2.5 0 1 0 5.1 0a2.5 2.5 0 1 0 -5.1 0M431.4 94.3a2.3 2.3 0 1 0 4.7 0a2.3 2.3 0 1 0 -4.7 0M401.2 104.1a2.5 2.5 0 1 0 5.0 0a2.5 2.5 0 1 0 -5.0 0"/><path fill="#7e3e28" fill-opacity=".85" d="M401.5 101.7a2.6 2.6 0 1 0 5.3 0a2.6 2.6 0 1 0 -5.3 0M403.9 75.9a2.3 2.3 0 1 0 4.6 0a2.3 2.3 0 1 0 -4.6 0M426.5 85.8a2.3 2.3 0 1 0 4.5 0a2.3 2.3 0 1 0 -4.5 0M435.1 95.0a2.2 2.2 0 1 0 4.3 0a2.2 2.2 0 1 0 -4.3 0M409.3 105.3a2.5 2.5 0 1 0 5.0 0a2.5 2.5 0 1 0 -5.0 0M399.8 91.2a2.3 2.3 0 1 0 4.5 0a2.3 2.3 0 1 0 -4.5 0M418.9 129.3a2.7 2.7 0 1 0 5.5 0a2.7 2.7 0 1 0 -5.5 0M439.5 114.3a2.3 2.3 0 1 0 4.6 0a2.3 2.3 0 1 0 -4.6 0M434.4 107.8a1.9 1.9 0 1 0 3.8 0a1.9 1.9 0 1 0 -3.8 0M412.5 107.8a2.1 2.1 0 1 0 4.1 0a2.1 2.1 0 1 0 -4.1 0M437.4 94.7a1.7 1.7 0 1 0 3.4 0a1.7 1.7 0 1 0 -3.4 0M402.4 74.8a2.3 2.3 0 1 0 4.6 0a2.3 2.3 0 1 0 -4.6 0M421.4 75.6a2.6 2.6 0 1 0 5.3 0a2.6 2.6 0 1 0 -5.3 0M407.8 77.7a1.6 1.6 0 1 0 3.1 0a1.6 1.6 0 1 0 -3.1 0M418.3 119.0a2.5 2.5 0 1 0 5.0 0a2.5 2.5 0 1 0 -5.0 0M435.0 110.7a2.1 2.1 0 1 0 4.1 0a2.1 2.1 0 1 0 -4.1 0"/><path fill="#7e3e28" fill-opacity=".85" d="M442.1 41.0a2.4 2.4 0 1 0 4.7 0a2.4 2.4 0 1 0 -4.7 0M441.4 58.0a2.7 2.7 0 1 0 5.3 0a2.7 2.7 0 1 0 -5.3 0M418.9 65.9a2.5 2.5 0 1 0 5.0 0a2.5 2.5 0 1 0 -5.0 0M434.0 40.7a1.9 1.9 0 1 0 3.8 0a1.9 1.9 0 1 0 -3.8 0M402.8 51.3a2.1 2.1 0 1 0 4.2 0a2.1 2.1 0 1 0 -4.2 0M423.0 64.0a1.9 1.9 0 1 0 3.7 0a1.9 1.9 0 1 0 -3.7 0M439.5 59.3a1.6 1.6 0 1 0 3.3 0a1.6 1.6 0 1 0 -3.3 0M448.7 44.8a1.7 1.7 0 1 0 3.4 0a1.7 1.7 0 1 0 -3.4 0M421.5 41.8a2.6 2.6 0 1 0 5.2 0a2.6 2.6 0 1 0 -5.2 0M445.4 53.0a2.6 2.6 0 1 0 5.2 0a2.6 2.6 0 1 0 -5.2 0M403.8 51.7a2.1 2.1 0 1 0 4.2 0a2.1 2.1 0 1 0 -4.2 0M412.7 64.5a1.9 1.9 0 1 0 3.9 0a1.9 1.9 0 1 0 -3.9 0M401.9 58.7a2.5 2.5 0 1 0 4.9 0a2.5 2.5 0 1 0 -4.9 0M448.1 46.9a1.9 1.9 0 1 0 3.7 0a1.9 1.9 0 1 0 -3.7 0M397.7 54.0a2.4 2.4 0 1 0 4.7 0a2.4 2.4 0 1 0 -4.7 0"/><path fill="#6e3222" fill-opacity=".85" d="M426.3 40.8a2.5 2.5 0 1 0 5.0 0a2.5 2.5 0 1 0 -5.0 0M445.5 61.1a1.9 1.9 0 1 0 3.8 0a1.9 1.9 0 1 0 -3.8 0M442.2 59.6a2.0 2.0 0 1 0 3.9 0a2.0 2.0 0 1 0 -3.9 0M426.4 39.2a2.7 2.7 0 1 0 5.5 0a2.7 2.7 0 1 0 -5.5 0M436.6 63.4a1.7 1.7 0 1 0 3.4 0a1.7 1.7 0 1 0 -3.4 0M439.7 45.8a2.4 2.4 0 1 0 4.9 0a2.4 2.4 0 1 0 -4.9 0M418.1 62.4a1.9 1.9 0 1 0 3.8 0a1.9 1.9 0 1 0 -3.8 0M448.6 58.2a2.1 2.1 0 1 0 4.2 0a2.1 2.1 0 1 0 -4.2 0M401.2 46.6a1.5 1.5 0 1 0 3.0 0a1.5 1.5 0 1 0 -3.0 0M429.9 66.0a1.6 1.6 0 1 0 3.1 0a1.6 1.6 0 1 0 -3.1 0M397.5 55.0a2.6 2.6 0 1 0 5.2 0a2.6 2.6 0 1 0 -5.2 0M421.0 62.2a2.5 2.5 0 1 0 5.0 0a2.5 2.5 0 1 0 -5.0 0M428.2 61.1a1.7 1.7 0 1 0 3.4 0a1.7 1.7 0 1 0 -3.4 0"/><path fill="#9c5c44" fill-opacity=".85" d="M437.5 64.1a2.4 2.4 0 1 0 4.8 0a2.4 2.4 0 1 0 -4.8 0M443.4 56.2a1.7 1.7 0 1 0 3.3 0a1.7 1.7 0 1 0 -3.3 0M437.5 44.0a2.6 2.6 0 1 0 5.2 0a2.6 2.6 0 1 0 -5.2 0M413.7 58.3a2.0 2.0 0 1 0 4.0 0a2.0 2.0 0 1 0 -4.0 0M437.0 62.8a1.6 1.6 0 1 0 3.1 0a1.6 1.6 0 1 0 -3.1 0M424.7 59.8a1.8 1.8 0 1 0 3.7 0a1.8 1.8 0 1 0 -3.7 0M413.0 58.2a2.2 2.2 0 1 0 4.5 0a2.2 2.2 0 1 0 -4.5 0M410.5 44.9a2.7 2.7 0 1 0 5.5 0a2.7 2.7 0 1 0 -5.5 0"/><path fill="#5e2c1e" fill-opacity=".85" d="M447.4 54.6a1.7 1.7 0 1 0 3.3 0a1.7 1.7 0 1 0 -3.3 0M400.4 50.7a1.6 1.6 0 1 0 3.2 0a1.6 1.6 0 1 0 -3.2 0M436.6 40.2a2.3 2.3 0 1 0 4.6 0a2.3 2.3 0 1 0 -4.6 0M406.6 62.3a2.6 2.6 0 1 0 5.1 0a2.6 2.6 0 1 0 -5.1 0M448.8 56.4a2.1 2.1 0 1 0 4.2 0a2.1 2.1 0 1 0 -4.2 0M438.2 41.8a2.2 2.2 0 1 0 4.5 0a2.2 2.2 0 1 0 -4.5 0M425.9 41.5a1.7 1.7 0 1 0 3.3 0a1.7 1.7 0 1 0 -3.3 0M429.9 38.1a2.2 2.2 0 1 0 4.4 0a2.2 2.2 0 1 0 -4.4 0M418.4 63.5a1.9 1.9 0 1 0 3.8 0a1.9 1.9 0 1 0 -3.8 0M447.6 54.4a1.7 1.7 0 1 0 3.5 0a1.7 1.7 0 1 0 -3.5 0M406.7 61.3a1.7 1.7 0 1 0 3.3 0a1.7 1.7 0 1 0 -3.3 0M401.4 54.7a2.0 2.0 0 1 0 4.0 0a2.0 2.0 0 1 0 -4.0 0M440.8 46.6a1.7 1.7 0 1 0 3.5 0a1.7 1.7 0 1 0 -3.5 0M411.2 41.9a1.5 1.5 0 1 0 3.1 0a1.5 1.5 0 1 0 -3.1 0M401.7 54.2a2.6 2.6 0 1 0 5.2 0a2.6 2.6 0 1 0 -5.2 0"/><path fill="#8c4c34" fill-opacity=".85" d="M446.9 48.8a2.6 2.6 0 1 0 5.2 0a2.6 2.6 0 1 0 -5.2 0M413.3 40.5a2.4 2.4 0 1 0 4.7 0a2.4 2.4 0 1 0 -4.7 0M443.7 59.1a2.4 2.4 0 1 0 4.8 0a2.4 2.4 0 1 0 -4.8 0M421.0 41.6a1.5 1.5 0 1 0 3.0 0a1.5 1.5 0 1 0 -3.0 0M403.0 56.0a1.7 1.7 0 1 0 3.5 0a1.7 1.7 0 1 0 -3.5 0M401.9 49.0a1.9 1.9 0 1 0 3.7 0a1.9 1.9 0 1 0 -3.7 0M408.9 61.8a1.6 1.6 0 1 0 3.1 0a1.6 1.6 0 1 0 -3.1 0M423.8 43.8a1.8 1.8 0 1 0 3.6 0a1.8 1.8 0 1 0 -3.6 0M419.0 40.8a2.7 2.7 0 1 0 5.5 0a2.7 2.7 0 1 0 -5.5 0M403.7 45.0a2.2 2.2 0 1 0 4.3 0a2.2 2.2 0 1 0 -4.3 0"/><path fill="#a87060" fill-opacity=".85" d="M423.7 62.3a2.8 2.8 0 1 0 5.6 0a2.8 2.8 0 1 0 -5.6 0M447.7 57.2a2.5 2.5 0 1 0 5.1 0a2.5 2.5 0 1 0 -5.1 0M429.9 59.8a2.3 2.3 0 1 0 4.6 0a2.3 2.3 0 1 0 -4.6 0M438.3 46.6a2.1 2.1 0 1 0 4.1 0a2.1 2.1 0 1 0 -4.1 0M405.0 47.9a2.7 2.7 0 1 0 5.4 0a2.7 2.7 0 1 0 -5.4 0M438.3 63.2a2.4 2.4 0 1 0 4.8 0a2.4 2.4 0 1 0 -4.8 0M408.0 57.9a2.8 2.8 0 1 0 5.5 0a2.8 2.8 0 1 0 -5.5 0"/><path fill="#5e2c1e" fill-opacity=".85" d="M483.3 75.8a1.9 1.9 0 1 0 3.8 0a1.9 1.9 0 1 0 -3.8 0M462.4 66.4a2.1 2.1 0 1 0 4.1 0a2.1 2.1 0 1 0 -4.1 0M460.5 92.3a1.6 1.6 0 1 0 3.2 0a1.6 1.6 0 1 0 -3.2 0M459.2 86.8a2.5 2.5 0 1 0 4.9 0a2.5 2.5 0 1 0 -4.9 0M475.6 85.1a2.1 2.1 0 1 0 4.2 0a2.1 2.1 0 1 0 -4.2 0M460.8 71.9a2.4 2.4 0 1 0 4.8 0a2.4 2.4 0 1 0 -4.8 0M479.5 80.4a1.7 1.7 0 1 0 3.3 0a1.7 1.7 0 1 0 -3.3 0M459.1 70.1a2.3 2.3 0 1 0 4.5 0a2.3 2.3 0 1 0 -4.5 0"/><path fill="#9c5c44" fill-opacity=".85" d="M456.9 85.1a1.9 1.9 0 1 0 3.9 0a1.9 1.9 0 1 0 -3.9 0M463.9 71.0a1.6 1.6 0 1 0 3.2 0a1.6 1.6 0 1 0 -3.2 0M483.1 82.3a1.9 1.9 0 1 0 3.8 0a1.9 1.9 0 1 0 -3.8 0M455.2 81.0a1.7 1.7 0 1 0 3.4 0a1.7 1.7 0 1 0 -3.4 0M472.0 87.4a2.4 2.4 0 1 0 4.8 0a2.4 2.4 0 1 0 -4.8 0M477.0 90.4a2.6 2.6 0 1 0 5.2 0a2.6 2.6 0 1 0 -5.2 0M477.5 70.6a2.0 2.0 0 1 0 4.0 0a2.0 2.0 0 1 0 -4.0 0M472.3 88.8a2.2 2.2 0 1 0 4.5 0a2.2 2.2 0 1 0 -4.5 0M475.4 70.3a2.2 2.2 0 1 0 4.4 0a2.2 2.2 0 1 0 -4.4 0M469.8 90.6a1.9 1.9 0 1 0 3.9 0a1.9 1.9 0 1 0 -3.9 0M457.6 86.9a2.3 2.3 0 1 0 4.7 0a2.3 2.3 0 1 0 -4.7 0M477.6 76.3a2.2 2.2 0 1 0 4.4 0a2.2 2.2 0 1 0 -4.4 0"/><path fill="#6e3222" fill-opacity=".85" d="M472.7 66.6a2.8 2.8 0 1 0 5.5 0a2.8 2.8 0 1 0 -5.5 0M459.5 89.5a1.9 1.9 0 1 0 3.7 0a1.9 1.9 0 1 0 -3.7 0M470.3 91.6a2.1 2.1 0 1 0 4.3 0a2.1 2.1 0 1 0 -4.3 0M479.3 80.5a2.0 2.0 0 1 0 4.0 0a2.0 2.0 0 1 0 -4.0 0M462.3 68.8a1.5 1.5 0 1 0 3.1 0a1.5 1.5 0 1 0 -3.1 0M463.3 91.6a1.9 1.9 0 1 0 3.9 0a1.9 1.9 0 1 0 -3.9 0M471.2 93.1a1.6 1.6 0 1 0 3.1 0a1.6 1.6 0 1 0 -3.1 0M481.0 71.3a2.3 2.3 0 1 0 4.5 0a2.3 2.3 0 1 0 -4.5 0M460.8 68.8a2.2 2.2 0 1 0 4.4 0a2.2 2.2 0 1 0 -4.4 0M479.1 77.2a2.3 2.3 0 1 0 4.7 0a2.3 2.3 0 1 0 -4.7 0"/><path fill="#8c4c34" fill-opacity=".85" d="M453.2 83.3a2.8 2.8 0 1 0 5.6 0a2.8 2.8 0 1 0 -5.6 0M454.6 83.4a2.2 2.2 0 1 0 4.3 0a2.2 2.2 0 1 0 -4.3 0M480.4 78.9a2.5 2.5 0 1 0 4.9 0a2.5 2.5 0 1 0 -4.9 0M466.2 67.9a1.5 1.5 0 1 0 3.1 0a1.5 1.5 0 1 0 -3.1 0M475.9 66.9a2.3 2.3 0 1 0 4.6 0a2.3 2.3 0 1 0 -4.6 0M475.9 70.0a2.1 2.1 0 1 0 4.2 0a2.1 2.1 0 1 0 -4.2 0M482.9 82.9a1.7 1.7 0 1 0 3.5 0a1.7 1.7 0 1 0 -3.5 0M459.9 92.6a2.0 2.0 0 1 0 4.0 0a2.0 2.0 0 1 0 -4.0 0"/><path fill="#a87060" fill-opacity=".85" d="M451.4 78.8a2.1 2.1 0 1 0 4.2 0a2.1 2.1 0 1 0 -4.2 0M468.8 92.3a2.2 2.2 0 1 0 4.4 0a2.2 2.2 0 1 0 -4.4 0M459.5 68.7a1.5 1.5 0 1 0 3.1 0a1.5 1.5 0 1 0 -3.1 0M457.6 78.4a1.7 1.7 0 1 0 3.4 0a1.7 1.7 0 1 0 -3.4 0M478.7 70.2a2.3 2.3 0 1 0 4.6 0a2.3 2.3 0 1 0 -4.6 0M461.5 71.1a1.9 1.9 0 1 0 3.8 0a1.9 1.9 0 1 0 -3.8 0M478.9 85.7a2.1 2.1 0 1 0 4.3 0a2.1 2.1 0 1 0 -4.3 0M465.9 89.3a2.5 2.5 0 1 0 5.0 0a2.5 2.5 0 1 0 -5.0 0M476.5 72.2a2.3 2.3 0 1 0 4.5 0a2.3 2.3 0 1 0 -4.5 0"/><path fill="#7e3e28" fill-opacity=".85" d="M478.6 75.5a1.8 1.8 0 1 0 3.7 0a1.8 1.8 0 1 0 -3.7 0M477.8 86.8a1.8 1.8 0 1 0 3.6 0a1.8 1.8 0 1 0 -3.6 0M472.4 70.7a2.0 2.0 0 1 0 4.0 0a2.0 2.0 0 1 0 -4.0 0M463.6 90.5a2.7 2.7 0 1 0 5.4 0a2.7 2.7 0 1 0 -5.4 0M458.2 91.7a2.2 2.2 0 1 0 4.5 0a2.2 2.2 0 1 0 -4.5 0"/><path fill="#7e3e28" fill-opacity=".85" d="M454.2 125.5a2.2 2.2 0 1 0 4.3 0a2.2 2.2 0 1 0 -4.3 0M456.1 106.0a1.6 1.6 0 1 0 3.2 0a1.6 1.6 0 1 0 -3.2 0M450.4 132.2a2.7 2.7 0 1 0 5.4 0a2.7 2.7 0 1 0 -5.4 0"/><path fill="#a87060" fill-opacity=".85" d="M450.5 102.9a2.0 2.0 0 1 0 4.0 0a2.0 2.0 0 1 0 -4.0 0M450.8 130.1a2.3 2.3 0 1 0 4.6 0a2.3 2.3 0 1 0 -4.6 0M453.9 111.1a2.7 2.7 0 1 0 5.5 0a2.7 2.7 0 1 0 -5.5 0M455.1 103.9a2.9 2.9 0 1 0 5.8 0a2.9 2.9 0 1 0 -5.8 0"/><path fill="#5e2c1e" fill-opacity=".85" d="M453.6 119.3a1.8 1.8 0 1 0 3.7 0a1.8 1.8 0 1 0 -3.7 0M456.1 114.0a2.7 2.7 0 1 0 5.5 0a2.7 2.7 0 1 0 -5.5 0M452.4 102.2a3.0 3.0 0 1 0 6.0 0a3.0 3.0 0 1 0 -6.0 0"/><path fill="#9c5c44" fill-opacity=".85" d="M452.8 105.8a2.7 2.7 0 1 0 5.4 0a2.7 2.7 0 1 0 -5.4 0M452.2 107.3a2.9 2.9 0 1 0 5.8 0a2.9 2.9 0 1 0 -5.8 0M450.3 127.1a2.8 2.8 0 1 0 5.6 0a2.8 2.8 0 1 0 -5.6 0M449.6 98.7a1.7 1.7 0 1 0 3.3 0a1.7 1.7 0 1 0 -3.3 0M453.3 101.3a1.7 1.7 0 1 0 3.3 0a1.7 1.7 0 1 0 -3.3 0"/><path fill="#6e3222" fill-opacity=".85" d="M454.1 116.5a2.9 2.9 0 1 0 5.8 0a2.9 2.9 0 1 0 -5.8 0M450.0 99.8a2.5 2.5 0 1 0 4.9 0a2.5 2.5 0 1 0 -4.9 0"/><path fill="#8c4c34" fill-opacity=".85" d="M449.2 132.9a2.7 2.7 0 1 0 5.5 0a2.7 2.7 0 1 0 -5.5 0"/><path fill="#8c4c34" fill-opacity=".85" d="M441.5 131.1a3.0 3.0 0 1 0 6.0 0a3.0 3.0 0 1 0 -6.0 0"/><path fill="#5e2c1e" fill-opacity=".85" d="M438.6 130.5a2.8 2.8 0 1 0 5.5 0a2.8 2.8 0 1 0 -5.5 0M447.7 130.5a1.6 1.6 0 1 0 3.2 0a1.6 1.6 0 1 0 -3.2 0M435.0 127.5a2.0 2.0 0 1 0 4.1 0a2.0 2.0 0 1 0 -4.1 0"/><path fill="#a87060" fill-opacity=".85" d="M444.0 131.0a2.8 2.8 0 1 0 5.6 0a2.8 2.8 0 1 0 -5.6 0M439.2 129.6a1.6 1.6 0 1 0 3.2 0a1.6 1.6 0 1 0 -3.2 0M446.8 132.8a2.0 2.0 0 1 0 4.1 0a2.0 2.0 0 1 0 -4.1 0"/><path fill="#7e3e28" fill-opacity=".85" d="M448.6 133.9a2.2 2.2 0 1 0 4.5 0a2.2 2.2 0 1 0 -4.5 0"/><path fill="#7e3e28" fill-opacity=".85" d="M495.4 51.1a2.8 2.8 0 1 0 5.7 0a2.8 2.8 0 1 0 -5.7 0"/><path fill="#9c5c44" fill-opacity=".85" d="M490.0 49.5a1.7 1.7 0 1 0 3.5 0a1.7 1.7 0 1 0 -3.5 0"/><path fill="#6e3222" fill-opacity=".85" d="M496.6 49.6a1.8 1.8 0 1 0 3.5 0a1.8 1.8 0 1 0 -3.5 0"/><path fill="#8c4c34" fill-opacity=".85" d="M494.6 50.1a2.9 2.9 0 1 0 5.8 0a2.9 2.9 0 1 0 -5.8 0"/><path fill="#a87060" fill-opacity=".85" d="M491.6 52.7a1.6 1.6 0 1 0 3.2 0a1.6 1.6 0 1 0 -3.2 0M497.3 50.2a1.8 1.8 0 1 0 3.6 0a1.8 1.8 0 1 0 -3.6 0"/><path fill="#a06050" fill-opacity="0.5" d="M418.9 91.1a1.6 1.4 57 1 0 1.8 2.8a1.6 1.4 57 1 0 -1.8 -2.8M421.7 92.0a1.3 1.2 60 1 0 1.3 2.3a1.3 1.2 60 1 0 -1.3 -2.3M432.2 112.6a1.5 1.1 164 1 0 -2.8 0.8a1.5 1.1 164 1 0 2.8 -0.8M420.1 109.7a2.0 1.3 13 1 0 3.8 0.9a2.0 1.3 13 1 0 -3.8 -0.9M425.3 99.8a1.2 0.9 142 1 0 -1.9 1.4a1.2 0.9 142 1 0 1.9 -1.4"/><path fill="#c09a90" fill-opacity="0.5" d="M422.2 103.8a1.5 1.2 93 1 0 -0.2 3.0a1.5 1.2 93 1 0 0.2 -3.0M424.1 93.9a1.5 0.9 111 1 0 -1.1 2.8a1.5 0.9 111 1 0 1.1 -2.8"/><path fill="#c09a90" fill-opacity="0.75" d="M409.1 89.5a1.4 1.2 63 1 0 1.3 2.6a1.4 1.2 63 1 0 -1.3 -2.6M407.4 88.3a1.8 1.2 77 1 0 0.8 3.4a1.8 1.2 77 1 0 -0.8 -3.4M416.7 108.1a1.8 1.8 136 1 0 -2.6 2.6a1.8 1.8 136 1 0 2.6 -2.6M414.7 107.2a1.0 0.7 142 1 0 -1.6 1.3a1.0 0.7 142 1 0 1.6 -1.3M414.0 90.9a2.2 1.3 114 1 0 -1.8 4.0a2.2 1.3 114 1 0 1.8 -4.0M412.0 82.9a2.1 1.3 61 1 0 2.1 3.7a2.1 1.3 61 1 0 -2.1 -3.7"/><path fill="#b08070" fill-opacity="0.5" d="M407.3 89.1a2.1 2.0 107 1 0 -1.3 4.0a2.1 2.0 107 1 0 1.3 -4.0M421.9 102.9a1.5 1.2 38 1 0 2.4 1.9a1.5 1.2 38 1 0 -2.4 -1.9M431.0 119.6a2.0 1.5 113 1 0 -1.6 3.7a2.0 1.5 113 1 0 1.6 -3.7M427.4 99.3a2.2 1.7 76 1 0 1.1 4.3a2.2 1.7 76 1 0 -1.1 -4.3"/><path fill="#8a4a34" fill-opacity="0.75" d="M425.7 123.4a1.9 1.7 19 1 0 3.6 1.3a1.9 1.7 19 1 0 -3.6 -1.3M413.8 91.9a1.7 1.1 31 1 0 2.9 1.8a1.7 1.1 31 1 0 -2.9 -1.8M431.9 117.8a1.8 1.1 40 1 0 2.7 2.3a1.8 1.1 40 1 0 -2.7 -2.3M421.6 94.7a1.3 1.2 149 1 0 -2.3 1.3a1.3 1.2 149 1 0 2.3 -1.3M416.7 113.2a1.3 0.7 62 1 0 1.2 2.2a1.3 0.7 62 1 0 -1.2 -2.2"/><path fill="#b08070" fill-opacity="0.75" d="M428.9 122.7a1.9 1.8 69 1 0 1.3 3.5a1.9 1.8 69 1 0 -1.3 -3.5M414.1 101.5a1.9 1.5 6 1 0 3.7 0.4a1.9 1.5 6 1 0 -3.7 -0.4M407.5 91.5a1.3 0.7 72 1 0 0.8 2.4a1.3 0.7 72 1 0 -0.8 -2.4M422.6 116.0a1.3 0.9 3 1 0 2.5 0.1a1.3 0.9 3 1 0 -2.5 -0.1M421.4 108.1a1.5 1.3 180 1 0 -2.9 0.0a1.5 1.3 180 1 0 2.9 -0.0"/><path fill="#a89aba" fill-opacity="0.75" d="M425.3 104.0a1.2 1.0 16 1 0 2.4 0.7a1.2 1.0 16 1 0 -2.4 -0.7M425.0 120.5a2.1 2.0 144 1 0 -3.5 2.5a2.1 2.0 144 1 0 3.5 -2.5M421.0 116.3a2.1 1.9 137 1 0 -3.1 2.9a2.1 1.9 137 1 0 3.1 -2.9M421.3 115.1a1.5 0.9 179 1 0 -3.1 0.1a1.5 0.9 179 1 0 3.1 -0.1"/><path fill="#a89aba" fill-opacity="0.5" d="M413.5 92.2a1.1 0.9 136 1 0 -1.6 1.5a1.1 0.9 136 1 0 1.6 -1.5M425.0 120.9a1.8 1.1 107 1 0 -1.1 3.4a1.8 1.1 107 1 0 1.1 -3.4"/><path fill="#a06050" fill-opacity="0.75" d="M410.5 90.5a1.3 0.7 6 1 0 2.6 0.3a1.3 0.7 6 1 0 -2.6 -0.3M426.6 103.0a2.2 1.2 36 1 0 3.5 2.5a2.2 1.2 36 1 0 -3.5 -2.5M431.0 109.2a1.3 1.2 13 1 0 2.6 0.6a1.3 1.2 13 1 0 -2.6 -0.6M425.8 100.0a1.7 1.3 101 1 0 -0.6 3.3a1.7 1.3 101 1 0 0.6 -3.3M416.3 101.3a1.7 1.3 108 1 0 -1.0 3.2a1.7 1.3 108 1 0 1.0 -3.2M417.1 90.3a2.0 1.5 11 1 0 3.9 0.8a2.0 1.5 11 1 0 -3.9 -0.8"/><path fill="#8a4a34" fill-opacity="0.5" d="M411.1 93.1a2.0 1.6 27 1 0 3.6 1.9a2.0 1.6 27 1 0 -3.6 -1.9"/><path fill="#b08070" fill-opacity="0.5" d="M426.2 49.5a1.6 1.1 173 1 0 -3.1 0.4a1.6 1.1 173 1 0 3.1 -0.4M410.2 49.0a1.3 0.7 26 1 0 2.3 1.1a1.3 0.7 26 1 0 -2.3 -1.1M419.1 49.9a1.7 1.0 11 1 0 3.3 0.6a1.7 1.0 11 1 0 -3.3 -0.6M420.4 49.6a1.6 1.2 140 1 0 -2.4 2.0a1.6 1.2 140 1 0 2.4 -2.0"/><path fill="#a06050" fill-opacity="0.75" d="M420.9 46.4a1.7 1.7 39 1 0 2.7 2.2a1.7 1.7 39 1 0 -2.7 -2.2M434.5 48.8a1.7 1.1 107 1 0 -1.0 3.3a1.7 1.1 107 1 0 1.0 -3.3"/><path fill="#a06050" fill-opacity="0.5" d="M440.6 48.9a1.9 1.1 178 1 0 -3.8 0.1a1.9 1.1 178 1 0 3.8 -0.1M420.5 54.8a1.6 0.9 145 1 0 -2.6 1.8a1.6 0.9 145 1 0 2.6 -1.8M438.1 49.2a1.1 0.8 65 1 0 1.0 2.1a1.1 0.8 65 1 0 -1.0 -2.1M442.6 47.6a1.7 1.6 132 1 0 -2.3 2.5a1.7 1.6 132 1 0 2.3 -2.5M416.8 47.4a1.1 1.0 59 1 0 1.1 1.9a1.1 1.0 59 1 0 -1.1 -1.9"/><path fill="#c09a90" fill-opacity="0.5" d="M420.1 50.5a1.4 1.0 93 1 0 -0.1 2.7a1.4 1.0 93 1 0 0.1 -2.7"/></g></g>
<g clip-path="url(#c1)"><rect x="375" y="143.2" width="126.5" height="95.5" fill="#e2e6f2"/>
<rect x="375" y="143.2" width="126.5" height="95.5" filter="url(#txB)" opacity="0.45"/>
<path fill="#6f7ab8" fill-opacity="0.25" d="M496.5 233.4a0.6 0.4 150 1 0 -1.1 0.6a0.6 0.4 150 1 0 1.1 -0.6M384.9 234.3a0.6 0.5 4 1 0 1.2 0.1a0.6 0.5 4 1 0 -1.2 -0.1M474.7 232.8a1.0 0.9 88 1 0 0.1 1.9a1.0 0.9 88 1 0 -0.1 -1.9M404.7 185.0a0.8 0.6 112 1 0 -0.6 1.4a0.8 0.6 112 1 0 0.6 -1.4M458.3 188.8a0.6 0.6 21 1 0 1.1 0.4a0.6 0.6 21 1 0 -1.1 -0.4M498.8 178.6a0.6 0.5 18 1 0 1.2 0.4a0.6 0.5 18 1 0 -1.2 -0.4M436.3 153.9a0.9 0.8 25 1 0 1.6 0.7a0.9 0.8 25 1 0 -1.6 -0.7M412.3 164.3a1.1 0.9 79 1 0 0.4 2.1a1.1 0.9 79 1 0 -0.4 -2.1M443.5 232.8a1.1 0.7 93 1 0 -0.1 2.3a1.1 0.7 93 1 0 0.1 -2.3M401.4 207.0a0.9 0.6 124 1 0 -1.1 1.6a0.9 0.6 124 1 0 1.1 -1.6M454.0 172.1a0.8 0.6 42 1 0 1.1 1.0a0.8 0.6 42 1 0 -1.1 -1.0M388.3 207.0a1.2 1.1 38 1 0 1.8 1.4a1.2 1.1 38 1 0 -1.8 -1.4M402.2 168.6a0.7 0.7 84 1 0 0.1 1.4a0.7 0.7 84 1 0 -0.1 -1.4M392.4 155.4a0.8 0.6 68 1 0 0.6 1.5a0.8 0.6 68 1 0 -0.6 -1.5M407.1 160.5a0.9 0.6 84 1 0 0.2 1.9a0.9 0.6 84 1 0 -0.2 -1.9M418.8 175.3a1.2 1.0 19 1 0 2.4 0.8a1.2 1.0 19 1 0 -2.4 -0.8M381.4 198.7a1.3 1.2 121 1 0 -1.3 2.2a1.3 1.2 121 1 0 1.3 -2.2M458.8 181.3a0.6 0.5 21 1 0 1.2 0.4a0.6 0.5 21 1 0 -1.2 -0.4M398.2 224.6a1.2 0.9 174 1 0 -2.3 0.3a1.2 0.9 174 1 0 2.3 -0.3M398.2 146.9a0.9 0.8 80 1 0 0.3 1.7a0.9 0.8 80 1 0 -0.3 -1.7M471.2 227.8a1.1 1.0 174 1 0 -2.3 0.2a1.1 1.0 174 1 0 2.3 -0.2"/>
<path fill="#6f7ab8" fill-opacity="0.5" d="M402.3 145.6a1.1 1.1 115 1 0 -0.9 2.0a1.1 1.1 115 1 0 0.9 -2.0M431.2 168.2a0.6 0.4 84 1 0 0.1 1.2a0.6 0.4 84 1 0 -0.1 -1.2M404.1 173.9a1.1 0.7 163 1 0 -2.1 0.6a1.1 0.7 163 1 0 2.1 -0.6M400.1 191.8a1.3 1.0 14 1 0 2.4 0.6a1.3 1.0 14 1 0 -2.4 -0.6M490.3 160.5a1.1 0.6 118 1 0 -1.0 2.0a1.1 0.6 118 1 0 1.0 -2.0M378.6 175.7a1.0 0.9 20 1 0 1.9 0.7a1.0 0.9 20 1 0 -1.9 -0.7M378.1 205.0a1.1 1.0 90 1 0 0.0 2.3a1.1 1.0 90 1 0 -0.0 -2.3M426.1 209.8a1.3 1.1 85 1 0 0.2 2.5a1.3 1.1 85 1 0 -0.2 -2.5M453.7 176.4a1.1 1.1 180 1 0 -2.3 0.0a1.1 1.1 180 1 0 2.3 -0.0M406.9 175.2a0.8 0.5 110 1 0 -0.5 1.5a0.8 0.5 110 1 0 0.5 -1.5M375.2 220.4a0.8 0.7 43 1 0 1.2 1.1a0.8 0.7 43 1 0 -1.2 -1.1M479.4 156.9a1.3 0.8 36 1 0 2.0 1.5a1.3 0.8 36 1 0 -2.0 -1.5M446.9 166.2a0.9 0.7 76 1 0 0.4 1.8a0.9 0.7 76 1 0 -0.4 -1.8M491.0 197.1a0.9 0.7 141 1 0 -1.4 1.1a0.9 0.7 141 1 0 1.4 -1.1M455.2 197.7a0.8 0.6 30 1 0 1.3 0.8a0.8 0.6 30 1 0 -1.3 -0.8M463.7 186.8a0.6 0.6 154 1 0 -1.2 0.6a0.6 0.6 154 1 0 1.2 -0.6M381.5 153.1a0.6 0.4 146 1 0 -1.0 0.7a0.6 0.4 146 1 0 1.0 -0.7M480.3 160.8a0.6 0.5 68 1 0 0.4 1.1a0.6 0.5 68 1 0 -0.4 -1.1M488.4 231.5a1.0 0.9 90 1 0 -0.0 2.0a1.0 0.9 90 1 0 0.0 -2.0M498.6 237.3a1.0 0.6 102 1 0 -0.4 1.9a1.0 0.6 102 1 0 0.4 -1.9M498.4 221.0a0.8 0.5 161 1 0 -1.6 0.5a0.8 0.5 161 1 0 1.6 -0.5M499.7 154.3a1.3 0.7 178 1 0 -2.5 0.1a1.3 0.7 178 1 0 2.5 -0.1"/>
<path fill="#8a94c8" fill-opacity="0.25" d="M428.1 227.2a0.7 0.5 42 1 0 1.1 0.9a0.7 0.5 42 1 0 -1.1 -0.9M493.7 212.4a1.0 0.5 106 1 0 -0.5 1.9a1.0 0.5 106 1 0 0.5 -1.9M490.5 149.8a1.2 1.0 96 1 0 -0.2 2.3a1.2 1.0 96 1 0 0.2 -2.3M424.9 158.6a1.3 0.9 86 1 0 0.2 2.5a1.3 0.9 86 1 0 -0.2 -2.5M415.4 221.0a1.0 0.8 84 1 0 0.2 2.0a1.0 0.8 84 1 0 -0.2 -2.0M431.4 226.8a0.9 0.7 21 1 0 1.7 0.7a0.9 0.7 21 1 0 -1.7 -0.7M413.4 218.9a0.6 0.4 63 1 0 0.5 1.1a0.6 0.4 63 1 0 -0.5 -1.1M475.6 165.5a1.0 0.9 154 1 0 -1.8 0.9a1.0 0.9 154 1 0 1.8 -0.9M467.4 164.1a0.6 0.5 23 1 0 1.1 0.5a0.6 0.5 23 1 0 -1.1 -0.5M494.9 202.8a1.2 1.1 92 1 0 -0.1 2.3a1.2 1.1 92 1 0 0.1 -2.3M384.4 193.8a1.0 0.8 75 1 0 0.5 2.0a1.0 0.8 75 1 0 -0.5 -2.0M494.3 210.0a1.1 1.1 100 1 0 -0.4 2.2a1.1 1.1 100 1 0 0.4 -2.2M460.0 205.2a0.9 0.7 178 1 0 -1.8 0.1a0.9 0.7 178 1 0 1.8 -0.1M404.6 223.1a1.3 0.8 44 1 0 1.9 1.8a1.3 0.8 44 1 0 -1.9 -1.8M410.1 178.5a0.7 0.6 153 1 0 -1.2 0.6a0.7 0.6 153 1 0 1.2 -0.6M387.6 156.6a1.2 1.1 171 1 0 -2.4 0.4a1.2 1.1 171 1 0 2.4 -0.4M418.4 164.7a0.7 0.7 168 1 0 -1.4 0.3a0.7 0.7 168 1 0 1.4 -0.3M397.4 228.7a0.6 0.6 105 1 0 -0.3 1.2a0.6 0.6 105 1 0 0.3 -1.2M479.7 143.2a0.7 0.4 80 1 0 0.3 1.5a0.7 0.4 80 1 0 -0.3 -1.5M500.2 168.3a1.0 1.0 68 1 0 0.8 1.9a1.0 1.0 68 1 0 -0.8 -1.9"/>
<path fill="#9aa2d0" fill-opacity="0.5" d="M391.2 191.2a1.3 1.1 33 1 0 2.2 1.4a1.3 1.1 33 1 0 -2.2 -1.4M470.4 210.6a0.9 0.7 88 1 0 0.1 1.8a0.9 0.7 88 1 0 -0.1 -1.8M480.0 175.8a1.2 1.2 83 1 0 0.3 2.4a1.2 1.2 83 1 0 -0.3 -2.4M413.3 195.1a1.0 0.6 48 1 0 1.4 1.5a1.0 0.6 48 1 0 -1.4 -1.5M393.5 178.3a0.9 0.9 130 1 0 -1.2 1.4a0.9 0.9 130 1 0 1.2 -1.4M480.2 171.0a0.8 0.6 47 1 0 1.0 1.1a0.8 0.6 47 1 0 -1.0 -1.1M459.3 235.5a1.0 0.6 84 1 0 0.2 2.1a1.0 0.6 84 1 0 -0.2 -2.1M474.4 225.1a0.7 0.4 69 1 0 0.5 1.3a0.7 0.4 69 1 0 -0.5 -1.3M393.8 170.1a0.9 0.5 6 1 0 1.8 0.2a0.9 0.5 6 1 0 -1.8 -0.2M479.8 171.3a1.1 1.0 118 1 0 -1.0 1.9a1.1 1.0 118 1 0 1.0 -1.9M433.7 158.8a0.9 0.6 161 1 0 -1.7 0.6a0.9 0.6 161 1 0 1.7 -0.6M465.6 199.2a1.0 0.9 58 1 0 1.1 1.7a1.0 0.9 58 1 0 -1.1 -1.7M455.8 201.4a1.2 0.8 11 1 0 2.4 0.5a1.2 0.8 11 1 0 -2.4 -0.5M463.3 168.5a1.2 1.0 74 1 0 0.7 2.4a1.2 1.0 74 1 0 -0.7 -2.4M392.5 159.4a1.2 1.1 175 1 0 -2.4 0.2a1.2 1.1 175 1 0 2.4 -0.2M423.0 148.5a1.0 1.0 116 1 0 -0.9 1.8a1.0 1.0 116 1 0 0.9 -1.8M385.2 223.6a1.0 0.7 95 1 0 -0.2 2.0a1.0 0.7 95 1 0 0.2 -2.0M451.6 202.7a0.9 0.9 174 1 0 -1.8 0.2a0.9 0.9 174 1 0 1.8 -0.2M394.9 150.1a1.0 0.6 175 1 0 -2.0 0.2a1.0 0.6 175 1 0 2.0 -0.2M460.5 163.2a1.1 0.6 175 1 0 -2.1 0.2a1.1 0.6 175 1 0 2.1 -0.2M408.3 182.3a1.0 0.9 161 1 0 -1.9 0.7a1.0 0.9 161 1 0 1.9 -0.7M378.0 180.0a1.1 0.7 29 1 0 2.0 1.1a1.1 0.7 29 1 0 -2.0 -1.1M448.9 144.5a0.9 0.8 117 1 0 -0.8 1.5a0.9 0.8 117 1 0 0.8 -1.5M389.8 204.2a0.6 0.4 50 1 0 0.8 0.9a0.6 0.4 50 1 0 -0.8 -0.9M460.7 205.7a0.9 0.6 160 1 0 -1.7 0.6a0.9 0.6 160 1 0 1.7 -0.6M481.3 145.6a0.7 0.4 101 1 0 -0.3 1.3a0.7 0.4 101 1 0 0.3 -1.3M430.3 212.1a1.1 0.9 157 1 0 -2.0 0.8a1.1 0.9 157 1 0 2.0 -0.8M405.2 154.3a0.6 0.5 23 1 0 1.1 0.5a0.6 0.5 23 1 0 -1.1 -0.5"/>
<path fill="#9aa2d0" fill-opacity="0.25" d="M467.4 228.8a1.1 1.0 64 1 0 1.0 2.0a1.1 1.0 64 1 0 -1.0 -2.0M435.9 171.0a1.2 1.1 101 1 0 -0.5 2.3a1.2 1.1 101 1 0 0.5 -2.3M473.6 221.0a1.2 0.7 115 1 0 -1.0 2.1a1.2 0.7 115 1 0 1.0 -2.1M422.3 235.5a0.7 0.4 14 1 0 1.3 0.3a0.7 0.4 14 1 0 -1.3 -0.3M392.7 192.4a1.2 0.8 138 1 0 -1.8 1.6a1.2 0.8 138 1 0 1.8 -1.6M442.9 236.0a1.3 1.2 82 1 0 0.4 2.6a1.3 1.2 82 1 0 -0.4 -2.6M429.0 236.3a0.8 0.8 84 1 0 0.2 1.7a0.8 0.8 84 1 0 -0.2 -1.7M429.3 180.1a1.2 1.1 101 1 0 -0.5 2.3a1.2 1.1 101 1 0 0.5 -2.3M414.2 173.0a0.8 0.7 62 1 0 0.7 1.4a0.8 0.7 62 1 0 -0.7 -1.4M446.5 167.6a0.8 0.8 132 1 0 -1.0 1.2a0.8 0.8 132 1 0 1.0 -1.2M477.2 151.6a1.3 1.1 10 1 0 2.5 0.4a1.3 1.1 10 1 0 -2.5 -0.4M420.2 203.3a0.6 0.5 150 1 0 -1.1 0.6a0.6 0.5 150 1 0 1.1 -0.6M496.3 215.0a0.9 0.7 162 1 0 -1.7 0.6a0.9 0.7 162 1 0 1.7 -0.6M416.0 181.3a1.1 1.1 141 1 0 -1.7 1.4a1.1 1.1 141 1 0 1.7 -1.4M490.6 185.6a0.7 0.4 5 1 0 1.3 0.1a0.7 0.4 5 1 0 -1.3 -0.1M485.1 171.9a1.0 0.8 22 1 0 1.9 0.7a1.0 0.8 22 1 0 -1.9 -0.7M404.7 202.2a0.7 0.5 109 1 0 -0.5 1.3a0.7 0.5 109 1 0 0.5 -1.3"/>
<path fill="#8a94c8" fill-opacity="0.5" d="M460.6 229.8a1.1 0.7 48 1 0 1.5 1.7a1.1 0.7 48 1 0 -1.5 -1.7M382.2 227.9a1.1 0.7 65 1 0 1.0 2.0a1.1 0.7 65 1 0 -1.0 -2.0M495.4 167.9a1.0 0.8 3 1 0 2.0 0.1a1.0 0.8 3 1 0 -2.0 -0.1M434.8 172.5a1.0 0.7 163 1 0 -2.0 0.6a1.0 0.7 163 1 0 2.0 -0.6M429.6 191.1a1.0 0.6 75 1 0 0.5 1.9a1.0 0.6 75 1 0 -0.5 -1.9M390.7 154.2a0.7 0.6 115 1 0 -0.6 1.2a0.7 0.6 115 1 0 0.6 -1.2M462.4 151.0a1.1 0.9 13 1 0 2.2 0.5a1.1 0.9 13 1 0 -2.2 -0.5M394.6 233.0a0.8 0.7 65 1 0 0.7 1.4a0.8 0.7 65 1 0 -0.7 -1.4M478.6 143.6a1.3 1.1 109 1 0 -0.8 2.4a1.3 1.1 109 1 0 0.8 -2.4M388.5 220.3a1.1 0.7 134 1 0 -1.6 1.6a1.1 0.7 134 1 0 1.6 -1.6M452.5 142.9a1.1 0.8 92 1 0 -0.1 2.1a1.1 0.8 92 1 0 0.1 -2.1M492.1 191.4a0.7 0.6 153 1 0 -1.3 0.7a0.7 0.6 153 1 0 1.3 -0.7M399.9 189.7a1.3 1.2 60 1 0 1.3 2.2a1.3 1.2 60 1 0 -1.3 -2.2M435.2 196.4a0.7 0.5 11 1 0 1.4 0.3a0.7 0.5 11 1 0 -1.4 -0.3M391.0 154.2a0.7 0.4 10 1 0 1.3 0.2a0.7 0.4 10 1 0 -1.3 -0.2M417.7 204.2a0.9 0.9 94 1 0 -0.1 1.7a0.9 0.9 94 1 0 0.1 -1.7M464.4 188.2a0.6 0.6 148 1 0 -1.1 0.7a0.6 0.6 148 1 0 1.1 -0.7M379.9 161.2a0.7 0.6 98 1 0 -0.2 1.3a0.7 0.6 98 1 0 0.2 -1.3M387.9 208.6a1.2 1.0 173 1 0 -2.4 0.3a1.2 1.0 173 1 0 2.4 -0.3M418.0 194.4a0.9 0.7 166 1 0 -1.7 0.4a0.9 0.7 166 1 0 1.7 -0.4M397.0 199.9a1.2 0.8 111 1 0 -0.9 2.2a1.2 0.8 111 1 0 0.9 -2.2M433.9 210.7a0.8 0.6 38 1 0 1.3 1.0a0.8 0.6 38 1 0 -1.3 -1.0M464.1 225.7a1.0 0.9 94 1 0 -0.2 2.0a1.0 0.9 94 1 0 0.2 -2.0M473.3 157.9a0.7 0.6 10 1 0 1.4 0.2a0.7 0.6 10 1 0 -1.4 -0.2M431.2 183.8a1.3 1.2 117 1 0 -1.1 2.3a1.3 1.2 117 1 0 1.1 -2.3M499.8 224.2a0.7 0.5 34 1 0 1.2 0.8a0.7 0.5 34 1 0 -1.2 -0.8M481.8 235.3a1.0 0.8 124 1 0 -1.1 1.6a1.0 0.8 124 1 0 1.1 -1.6M432.1 192.3a1.0 1.0 44 1 0 1.5 1.4a1.0 1.0 44 1 0 -1.5 -1.4M423.6 200.1a0.9 0.8 15 1 0 1.8 0.5a0.9 0.8 15 1 0 -1.8 -0.5M435.3 177.2a0.7 0.5 126 1 0 -0.9 1.2a0.7 0.5 126 1 0 0.9 -1.2M475.9 227.0a0.9 0.9 11 1 0 1.8 0.4a0.9 0.9 11 1 0 -1.8 -0.4M445.2 149.6a1.2 0.8 55 1 0 1.4 2.0a1.2 0.8 55 1 0 -1.4 -2.0M428.9 189.3a1.2 1.1 177 1 0 -2.4 0.1a1.2 1.1 177 1 0 2.4 -0.1M409.6 234.9a0.9 0.5 40 1 0 1.3 1.1a0.9 0.5 40 1 0 -1.3 -1.1M416.0 182.5a0.8 0.5 123 1 0 -0.8 1.3a0.8 0.5 123 1 0 0.8 -1.3M378.6 169.1a0.8 0.5 39 1 0 1.2 1.0a0.8 0.5 39 1 0 -1.2 -1.0M463.0 226.4a0.7 0.5 142 1 0 -1.2 0.9a0.7 0.5 142 1 0 1.2 -0.9M419.8 209.3a0.7 0.5 1 1 0 1.5 0.0a0.7 0.5 1 1 0 -1.5 -0.0M453.1 238.1a0.9 0.8 18 1 0 1.7 0.6a0.9 0.8 18 1 0 -1.7 -0.6M496.0 214.7a1.1 0.7 164 1 0 -2.2 0.6a1.1 0.7 164 1 0 2.2 -0.6M384.6 210.7a1.0 0.8 48 1 0 1.3 1.4a1.0 0.8 48 1 0 -1.3 -1.4M412.3 214.0a1.2 1.2 136 1 0 -1.7 1.7a1.2 1.2 136 1 0 1.7 -1.7"/>
<path fill="#7f8cc4" fill-opacity="0.25" d="M463.8 187.7a0.8 0.6 57 1 0 0.8 1.3a0.8 0.6 57 1 0 -0.8 -1.3M450.3 150.1a0.8 0.6 168 1 0 -1.6 0.3a0.8 0.6 168 1 0 1.6 -0.3M394.1 182.8a0.6 0.4 161 1 0 -1.2 0.4a0.6 0.4 161 1 0 1.2 -0.4M484.3 231.7a1.1 1.1 52 1 0 1.4 1.8a1.1 1.1 52 1 0 -1.4 -1.8M441.0 189.6a0.8 0.6 25 1 0 1.4 0.7a0.8 0.6 25 1 0 -1.4 -0.7M380.1 170.7a1.2 1.0 132 1 0 -1.6 1.8a1.2 1.0 132 1 0 1.6 -1.8M412.8 163.0a1.2 0.8 2 1 0 2.4 0.1a1.2 0.8 2 1 0 -2.4 -0.1M435.0 180.9a0.8 0.5 155 1 0 -1.4 0.7a0.8 0.5 155 1 0 1.4 -0.7M433.1 203.1a1.1 0.8 111 1 0 -0.8 2.1a1.1 0.8 111 1 0 0.8 -2.1M477.9 204.5a1.2 0.7 166 1 0 -2.3 0.6a1.2 0.7 166 1 0 2.3 -0.6M495.3 213.1a0.7 0.6 4 1 0 1.5 0.1a0.7 0.6 4 1 0 -1.5 -0.1M460.9 188.4a0.8 0.5 113 1 0 -0.6 1.5a0.8 0.5 113 1 0 0.6 -1.5M458.0 175.5a0.7 0.7 118 1 0 -0.7 1.3a0.7 0.7 118 1 0 0.7 -1.3M495.8 156.0a1.1 1.0 114 1 0 -0.9 2.1a1.1 1.0 114 1 0 0.9 -2.1M414.5 190.5a0.8 0.6 73 1 0 0.4 1.5a0.8 0.6 73 1 0 -0.4 -1.5M497.1 227.6a1.0 0.9 29 1 0 1.7 0.9a1.0 0.9 29 1 0 -1.7 -0.9M451.6 157.3a1.1 1.0 92 1 0 -0.1 2.1a1.1 1.0 92 1 0 0.1 -2.1M460.7 216.6a1.1 0.8 151 1 0 -1.9 1.0a1.1 0.8 151 1 0 1.9 -1.0M465.0 224.0a1.1 1.1 5 1 0 2.3 0.2a1.1 1.1 5 1 0 -2.3 -0.2M423.5 188.8a1.0 0.6 169 1 0 -1.9 0.4a1.0 0.6 169 1 0 1.9 -0.4"/>
<path fill="#7f8cc4" fill-opacity="0.5" d="M406.5 155.3a0.7 0.5 42 1 0 1.1 1.0a0.7 0.5 42 1 0 -1.1 -1.0M428.3 192.9a0.6 0.3 74 1 0 0.3 1.2a0.6 0.3 74 1 0 -0.3 -1.2M385.5 152.7a0.6 0.5 19 1 0 1.2 0.4a0.6 0.5 19 1 0 -1.2 -0.4M465.7 219.7a0.9 0.8 71 1 0 0.6 1.6a0.9 0.8 71 1 0 -0.6 -1.6M400.9 234.9a0.7 0.4 87 1 0 0.1 1.3a0.7 0.4 87 1 0 -0.1 -1.3M436.4 206.8a0.8 0.6 91 1 0 -0.0 1.7a0.8 0.6 91 1 0 0.0 -1.7M382.0 215.5a0.9 0.9 98 1 0 -0.3 1.9a0.9 0.9 98 1 0 0.3 -1.9M445.1 161.8a0.7 0.6 116 1 0 -0.6 1.3a0.7 0.6 116 1 0 0.6 -1.3M431.7 180.1a1.3 0.9 43 1 0 1.9 1.7a1.3 0.9 43 1 0 -1.9 -1.7M440.8 152.2a1.0 0.8 141 1 0 -1.5 1.2a1.0 0.8 141 1 0 1.5 -1.2M406.0 147.4a0.7 0.5 137 1 0 -1.0 1.0a0.7 0.5 137 1 0 1.0 -1.0M391.8 210.3a0.6 0.5 48 1 0 0.8 0.9a0.6 0.5 48 1 0 -0.8 -0.9M418.7 223.2a0.6 0.5 180 1 0 -1.2 0.0a0.6 0.5 180 1 0 1.2 -0.0M484.2 235.0a1.0 1.0 40 1 0 1.5 1.3a1.0 1.0 40 1 0 -1.5 -1.3M388.5 199.8a0.6 0.4 34 1 0 1.1 0.7a0.6 0.4 34 1 0 -1.1 -0.7M464.8 143.3a0.9 0.7 110 1 0 -0.6 1.7a0.9 0.7 110 1 0 0.6 -1.7M453.2 218.2a0.7 0.4 127 1 0 -0.8 1.1a0.7 0.4 127 1 0 0.8 -1.1M442.3 229.3a1.2 1.1 53 1 0 1.5 2.0a1.2 1.1 53 1 0 -1.5 -2.0M492.1 196.8a1.1 0.7 60 1 0 1.1 2.0a1.1 0.7 60 1 0 -1.1 -2.0M480.8 211.3a0.7 0.6 112 1 0 -0.5 1.3a0.7 0.6 112 1 0 0.5 -1.3M499.6 204.4a1.1 0.9 20 1 0 2.1 0.8a1.1 0.9 20 1 0 -2.1 -0.8M428.7 217.9a0.9 0.7 124 1 0 -1.0 1.5a0.9 0.7 124 1 0 1.0 -1.5M432.1 214.8a0.7 0.5 33 1 0 1.1 0.7a0.7 0.5 33 1 0 -1.1 -0.7M438.3 195.8a1.3 1.1 163 1 0 -2.4 0.7a1.3 1.1 163 1 0 2.4 -0.7M500.2 150.0a1.3 1.1 10 1 0 2.5 0.4a1.3 1.1 10 1 0 -2.5 -0.4M447.3 205.5a0.8 0.7 173 1 0 -1.6 0.2a0.8 0.7 173 1 0 1.6 -0.2M413.5 155.5a1.0 0.8 59 1 0 1.1 1.7a1.0 0.8 59 1 0 -1.1 -1.7M412.5 213.4a0.7 0.6 5 1 0 1.3 0.1a0.7 0.6 5 1 0 -1.3 -0.1M490.4 219.4a0.9 0.5 161 1 0 -1.7 0.6a0.9 0.5 161 1 0 1.7 -0.6M437.6 153.3a0.9 0.8 129 1 0 -1.1 1.4a0.9 0.8 129 1 0 1.1 -1.4"/>
<g filter="url(#blur1)" opacity="0.8"><path d="M420,146 L436,166" stroke="#f3f5fa" stroke-width="5" fill="none" stroke-linecap="round"/><path d="M380,165 L415,190" stroke="#f3f5fa" stroke-width="3" fill="none" stroke-linecap="round"/><path d="M442,190 L470,215" stroke="#f3f5fa" stroke-width="3" fill="none" stroke-linecap="round"/><path d="M430,215 L450,236" stroke="#f3f5fa" stroke-width="3" fill="none" stroke-linecap="round"/><path d="M470,168 L500,182" stroke="#f3f5fa" stroke-width="3" fill="none" stroke-linecap="round"/><path d="M395,222 L420,236" stroke="#f3f5fa" stroke-width="3" fill="none" stroke-linecap="round"/></g>
<g filter="url(#blur1)"><ellipse cx="404" cy="156" rx="11" ry="8" transform="rotate(35 404 156)" fill="#948cb4" fill-opacity="0.9"/><ellipse cx="433" cy="178" rx="16" ry="8" transform="rotate(28 433 178)" fill="#9a8cac" fill-opacity="0.9"/><ellipse cx="444" cy="184" rx="5" ry="4" transform="rotate(20 444 184)" fill="#7a6a90" fill-opacity="0.9"/><ellipse cx="466" cy="197" rx="8" ry="6" transform="rotate(35 466 197)" fill="#8e7c9c" fill-opacity="0.9"/><ellipse cx="433" cy="203" rx="10" ry="6" transform="rotate(25 433 203)" fill="#907c9c" fill-opacity="0.9"/><ellipse cx="402" cy="211" rx="14" ry="6" transform="rotate(15 402 211)" fill="#8f88b0" fill-opacity="0.9"/><ellipse cx="382" cy="199" rx="7" ry="13" transform="rotate(5 382 199)" fill="#9290b8" fill-opacity="0.9"/><ellipse cx="451" cy="226" rx="15" ry="9" transform="rotate(45 451 226)" fill="#9c8aa8" fill-opacity="0.9"/><ellipse cx="481" cy="156" rx="21" ry="7" transform="rotate(33 481 156)" fill="#9894ba" fill-opacity="0.9"/><ellipse cx="491" cy="193" rx="10" ry="10" transform="rotate(30 491 193)" fill="#9894be" fill-opacity="0.9"/><ellipse cx="380" cy="234" rx="8" ry="5" transform="rotate(0 380 234)" fill="#9a9ac0" fill-opacity="0.9"/><ellipse cx="483" cy="231" rx="8" ry="7" transform="rotate(30 483 231)" fill="#9a94b8" fill-opacity="0.9"/></g>
<g filter="url(#blur05)"><path fill="#8a7a98" fill-opacity="0.75" d="M405.4 162.5a1.1 1.1 121 1 0 -1.1 1.8a1.1 1.1 121 1 0 1.1 -1.8M395.9 155.6a1.0 0.9 45 1 0 1.4 1.4a1.0 0.9 45 1 0 -1.4 -1.4M405.2 160.8a1.2 1.0 93 1 0 -0.1 2.4a1.2 1.0 93 1 0 0.1 -2.4M399.6 153.0a2.0 1.6 19 1 0 3.8 1.3a2.0 1.6 19 1 0 -3.8 -1.3"/><path fill="#786a94" fill-opacity="0.75" d="M400.6 150.1a1.6 1.4 10 1 0 3.1 0.6a1.6 1.4 10 1 0 -3.1 -0.6M400.5 156.7a1.5 0.9 102 1 0 -0.7 3.0a1.5 0.9 102 1 0 0.7 -3.0"/><path fill="#6c6698" fill-opacity="0.5" d="M399.2 155.4a1.5 1.1 173 1 0 -2.9 0.4a1.5 1.1 173 1 0 2.9 -0.4M401.0 153.2a1.6 1.5 51 1 0 2.0 2.4a1.6 1.5 51 1 0 -2.0 -2.4M406.0 162.4a1.3 1.0 135 1 0 -1.8 1.8a1.3 1.0 135 1 0 1.8 -1.8M407.8 160.2a1.9 1.5 4 1 0 3.7 0.3a1.9 1.5 4 1 0 -3.7 -0.3"/><path fill="#6c6698" fill-opacity="0.75" d="M403.3 155.8a1.6 1.3 148 1 0 -2.7 1.7a1.6 1.3 148 1 0 2.7 -1.7M406.1 159.2a1.5 1.0 170 1 0 -3.0 0.5a1.5 1.0 170 1 0 3.0 -0.5M406.2 155.2a1.8 1.2 1 1 0 3.5 0.0a1.8 1.2 1 1 0 -3.5 -0.0"/><path fill="#8a7a98" fill-opacity="0.5" d="M398.5 157.4a1.1 0.6 139 1 0 -1.7 1.5a1.1 0.6 139 1 0 1.7 -1.5"/><path fill="#5f5f96" fill-opacity="0.5" d="M409.0 149.1a1.9 1.1 161 1 0 -3.7 1.3a1.9 1.1 161 1 0 3.7 -1.3"/><path fill="#5f5f96" fill-opacity="0.75" d="M399.6 160.4a1.1 0.9 26 1 0 2.0 1.0a1.1 0.9 26 1 0 -2.0 -1.0M412.8 156.2a1.7 1.3 111 1 0 -1.2 3.2a1.7 1.3 111 1 0 1.2 -3.2M411.1 153.1a1.2 1.0 146 1 0 -1.9 1.3a1.2 1.0 146 1 0 1.9 -1.3M396.4 150.4a1.1 0.7 59 1 0 1.2 1.9a1.1 0.7 59 1 0 -1.2 -1.9"/><path fill="#6c6698" fill-opacity="0.75" d="M437.7 173.1a1.1 0.7 73 1 0 0.6 2.0a1.1 0.7 73 1 0 -0.6 -2.0M437.3 171.4a1.4 0.8 170 1 0 -2.7 0.5a1.4 0.8 170 1 0 2.7 -0.5M426.1 177.3a1.9 1.6 27 1 0 3.4 1.7a1.9 1.6 27 1 0 -3.4 -1.7"/><path fill="#8a7a98" fill-opacity="0.5" d="M429.6 174.8a1.0 0.7 26 1 0 1.8 0.9a1.0 0.7 26 1 0 -1.8 -0.9M434.6 170.6a1.7 1.6 177 1 0 -3.3 0.2a1.7 1.6 177 1 0 3.3 -0.2M431.7 179.4a1.7 1.0 69 1 0 1.2 3.2a1.7 1.0 69 1 0 -1.2 -3.2"/><path fill="#786a94" fill-opacity="0.75" d="M425.2 179.8a1.9 1.4 15 1 0 3.8 1.0a1.9 1.4 15 1 0 -3.8 -1.0M431.8 176.0a1.6 1.4 61 1 0 1.5 2.8a1.6 1.4 61 1 0 -1.5 -2.8M437.1 175.8a1.8 1.0 142 1 0 -2.8 2.2a1.8 1.0 142 1 0 2.8 -2.2M432.1 176.7a1.0 0.8 31 1 0 1.6 1.0a1.0 0.8 31 1 0 -1.6 -1.0M430.7 183.5a1.0 0.9 111 1 0 -0.8 1.9a1.0 0.9 111 1 0 0.8 -1.9"/><path fill="#6c6698" fill-opacity="0.5" d="M423.6 170.2a1.5 1.3 137 1 0 -2.2 2.0a1.5 1.3 137 1 0 2.2 -2.0M423.9 175.7a1.5 0.9 34 1 0 2.4 1.6a1.5 0.9 34 1 0 -2.4 -1.6M423.5 167.9a1.2 0.7 78 1 0 0.5 2.4a1.2 0.7 78 1 0 -0.5 -2.4M427.1 175.7a1.9 1.2 103 1 0 -0.9 3.8a1.9 1.2 103 1 0 0.9 -3.8"/><path fill="#5f5f96" fill-opacity="0.5" d="M443.8 180.5a1.5 1.0 24 1 0 2.7 1.2a1.5 1.0 24 1 0 -2.7 -1.2M436.7 175.3a1.6 1.2 25 1 0 2.9 1.4a1.6 1.2 25 1 0 -2.9 -1.4"/><path fill="#5f5f96" fill-opacity="0.75" d="M434.5 172.4a1.1 0.8 25 1 0 2.1 1.0a1.1 0.8 25 1 0 -2.1 -1.0M428.1 175.5a1.8 1.7 80 1 0 0.6 3.5a1.8 1.7 80 1 0 -0.6 -3.5M436.1 177.3a1.1 0.6 79 1 0 0.4 2.3a1.1 0.6 79 1 0 -0.4 -2.3M426.4 171.4a0.9 0.7 27 1 0 1.6 0.8a0.9 0.7 27 1 0 -1.6 -0.8M444.7 180.0a1.7 1.2 146 1 0 -2.8 1.9a1.7 1.2 146 1 0 2.8 -1.9"/><path fill="#786a94" fill-opacity="0.5" d="M429.9 173.9a1.7 1.5 114 1 0 -1.3 3.1a1.7 1.5 114 1 0 1.3 -3.1M422.0 172.4a1.7 1.0 74 1 0 0.9 3.4a1.7 1.0 74 1 0 -0.9 -3.4"/><path fill="#8a7a98" fill-opacity="0.75" d="M433.6 171.7a1.2 1.1 44 1 0 1.7 1.6a1.2 1.1 44 1 0 -1.7 -1.6M438.8 180.1a0.9 0.7 89 1 0 0.0 1.9a0.9 0.7 89 1 0 -0.0 -1.9M437.5 179.9a1.6 1.4 128 1 0 -1.9 2.5a1.6 1.4 128 1 0 1.9 -2.5"/><path fill="#786a94" fill-opacity="0.5" d="M444.9 179.4a1.9 1.5 137 1 0 -2.7 2.6a1.9 1.5 137 1 0 2.7 -2.6"/><path fill="#5f5f96" fill-opacity="0.5" d="M441.8 185.4a1.3 1.0 103 1 0 -0.6 2.5a1.3 1.0 103 1 0 0.6 -2.5M440.4 182.8a1.5 1.3 115 1 0 -1.3 2.7a1.5 1.3 115 1 0 1.3 -2.7M440.9 181.3a1.7 1.7 113 1 0 -1.4 3.2a1.7 1.7 113 1 0 1.4 -3.2"/><path fill="#6c6698" fill-opacity="0.75" d="M445.0 184.4a1.2 1.2 27 1 0 2.1 1.1a1.2 1.2 27 1 0 -2.1 -1.1"/><path fill="#8a7a98" fill-opacity="0.5" d="M444.9 181.3a1.2 0.7 140 1 0 -1.8 1.6a1.2 0.7 140 1 0 1.8 -1.6"/><path fill="#8a7a98" fill-opacity="0.75" d="M463.3 200.8a1.9 1.2 23 1 0 3.5 1.5a1.9 1.2 23 1 0 -3.5 -1.5"/><path fill="#786a94" fill-opacity="0.75" d="M463.4 199.8a1.7 1.5 152 1 0 -3.0 1.6a1.7 1.5 152 1 0 3.0 -1.6M468.4 193.4a1.2 0.7 73 1 0 0.7 2.3a1.2 0.7 73 1 0 -0.7 -2.3"/><path fill="#786a94" fill-opacity="0.5" d="M467.8 200.3a1.8 1.2 145 1 0 -2.9 2.0a1.8 1.2 145 1 0 2.9 -2.0M465.2 199.3a1.4 1.1 51 1 0 1.7 2.1a1.4 1.1 51 1 0 -1.7 -2.1"/><path fill="#6c6698" fill-opacity="0.5" d="M473.4 196.2a1.8 1.2 171 1 0 -3.6 0.6a1.8 1.2 171 1 0 3.6 -0.6M467.9 196.3a1.3 1.0 128 1 0 -1.6 2.1a1.3 1.0 128 1 0 1.6 -2.1"/><path fill="#5f5f96" fill-opacity="0.5" d="M472.0 196.0a1.7 1.3 171 1 0 -3.3 0.5a1.7 1.3 171 1 0 3.3 -0.5"/><path fill="#8a7a98" fill-opacity="0.5" d="M462.0 197.6a1.7 1.4 49 1 0 2.2 2.5a1.7 1.4 49 1 0 -2.2 -2.5"/><path fill="#5f5f96" fill-opacity="0.75" d="M468.5 194.8a1.4 1.3 178 1 0 -2.9 0.1a1.4 1.3 178 1 0 2.9 -0.1"/><path fill="#6c6698" fill-opacity="0.75" d="M465.5 197.1a1.7 1.6 48 1 0 2.2 2.5a1.7 1.6 48 1 0 -2.2 -2.5"/><path fill="#6c6698" fill-opacity="0.75" d="M436.0 200.9a2.0 1.7 8 1 0 3.9 0.6a2.0 1.7 8 1 0 -3.9 -0.6M427.9 203.2a1.6 1.4 15 1 0 3.1 0.8a1.6 1.4 15 1 0 -3.1 -0.8M431.6 203.5a1.2 1.2 36 1 0 1.9 1.4a1.2 1.2 36 1 0 -1.9 -1.4"/><path fill="#8a7a98" fill-opacity="0.5" d="M431.5 196.0a1.1 0.8 100 1 0 -0.4 2.2a1.1 0.8 100 1 0 0.4 -2.2M441.1 203.4a1.0 0.9 158 1 0 -1.8 0.7a1.0 0.9 158 1 0 1.8 -0.7"/><path fill="#8a7a98" fill-opacity="0.75" d="M430.3 198.1a1.5 1.3 85 1 0 0.3 3.0a1.5 1.3 85 1 0 -0.3 -3.0M431.4 199.8a1.9 1.6 159 1 0 -3.5 1.4a1.9 1.6 159 1 0 3.5 -1.4"/><path fill="#786a94" fill-opacity="0.5" d="M436.4 207.4a1.1 1.1 178 1 0 -2.3 0.1a1.1 1.1 178 1 0 2.3 -0.1M437.9 203.0a1.6 1.2 81 1 0 0.5 3.2a1.6 1.2 81 1 0 -0.5 -3.2"/><path fill="#6c6698" fill-opacity="0.5" d="M429.7 203.4a1.6 1.2 58 1 0 1.7 2.8a1.6 1.2 58 1 0 -1.7 -2.8"/><path fill="#5f5f96" fill-opacity="0.5" d="M432.6 200.2a1.1 0.9 122 1 0 -1.2 1.9a1.1 0.9 122 1 0 1.2 -1.9M426.7 196.6a1.8 1.7 107 1 0 -1.0 3.4a1.8 1.7 107 1 0 1.0 -3.4"/><path fill="#786a94" fill-opacity="0.75" d="M435.7 199.7a1.6 1.1 129 1 0 -2.0 2.5a1.6 1.1 129 1 0 2.0 -2.5M431.0 198.4a1.8 1.4 94 1 0 -0.3 3.6a1.8 1.4 94 1 0 0.3 -3.6"/><path fill="#5f5f96" fill-opacity="0.75" d="M395.6 207.7a1.9 1.2 70 1 0 1.3 3.6a1.9 1.2 70 1 0 -1.3 -3.6M390.8 205.8a1.6 1.5 22 1 0 2.9 1.1a1.6 1.5 22 1 0 -2.9 -1.1"/><path fill="#6c6698" fill-opacity="0.5" d="M409.6 212.5a2.0 1.6 155 1 0 -3.6 1.6a2.0 1.6 155 1 0 3.6 -1.6M394.9 206.8a1.7 1.1 112 1 0 -1.3 3.1a1.7 1.1 112 1 0 1.3 -3.1"/><path fill="#786a94" fill-opacity="0.75" d="M392.5 208.2a1.3 1.2 83 1 0 0.3 2.6a1.3 1.2 83 1 0 -0.3 -2.6M410.7 211.6a1.4 1.4 17 1 0 2.7 0.8a1.4 1.4 17 1 0 -2.7 -0.8"/><path fill="#786a94" fill-opacity="0.5" d="M406.7 212.4a1.9 1.0 12 1 0 3.7 0.8a1.9 1.0 12 1 0 -3.7 -0.8M390.6 210.4a1.5 0.9 53 1 0 1.8 2.3a1.5 0.9 53 1 0 -1.8 -2.3M400.4 212.3a1.9 1.1 49 1 0 2.5 2.9a1.9 1.1 49 1 0 -2.5 -2.9M396.5 205.7a1.6 1.5 108 1 0 -1.0 3.1a1.6 1.5 108 1 0 1.0 -3.1"/><path fill="#8a7a98" fill-opacity="0.75" d="M396.6 204.8a1.3 1.0 34 1 0 2.2 1.5a1.3 1.0 34 1 0 -2.2 -1.5M399.7 210.7a1.9 1.4 31 1 0 3.2 1.9a1.9 1.4 31 1 0 -3.2 -1.9M404.6 207.9a1.2 0.9 20 1 0 2.3 0.8a1.2 0.9 20 1 0 -2.3 -0.8M405.2 210.2a1.6 1.6 54 1 0 1.9 2.6a1.6 1.6 54 1 0 -1.9 -2.6M396.4 211.5a1.9 1.8 155 1 0 -3.4 1.6a1.9 1.8 155 1 0 3.4 -1.6"/><path fill="#8a7a98" fill-opacity="0.5" d="M408.6 215.1a1.7 1.1 158 1 0 -3.1 1.2a1.7 1.1 158 1 0 3.1 -1.2M400.0 209.1a1.3 1.0 119 1 0 -1.3 2.3a1.3 1.0 119 1 0 1.3 -2.3"/><path fill="#5f5f96" fill-opacity="0.5" d="M403.2 212.5a1.4 1.2 133 1 0 -1.9 2.0a1.4 1.2 133 1 0 1.9 -2.0"/><path fill="#8a7a98" fill-opacity="0.5" d="M382.2 191.3a1.7 1.4 60 1 0 1.7 3.0a1.7 1.4 60 1 0 -1.7 -3.0"/><path fill="#5f5f96" fill-opacity="0.5" d="M383.7 200.0a1.8 1.1 173 1 0 -3.5 0.4a1.8 1.1 173 1 0 3.5 -0.4M379.2 199.4a1.4 1.1 38 1 0 2.2 1.8a1.4 1.1 38 1 0 -2.2 -1.8"/><path fill="#8a7a98" fill-opacity="0.75" d="M389.4 195.0a1.8 1.2 155 1 0 -3.3 1.5a1.8 1.2 155 1 0 3.3 -1.5M379.8 196.1a1.4 1.3 82 1 0 0.4 2.7a1.4 1.3 82 1 0 -0.4 -2.7M383.7 195.2a1.4 1.0 175 1 0 -2.9 0.3a1.4 1.0 175 1 0 2.9 -0.3M388.1 193.0a1.7 1.5 96 1 0 -0.3 3.3a1.7 1.5 96 1 0 0.3 -3.3"/><path fill="#5f5f96" fill-opacity="0.75" d="M385.7 201.5a1.6 1.1 139 1 0 -2.4 2.1a1.6 1.1 139 1 0 2.4 -2.1M386.1 201.1a1.4 0.8 106 1 0 -0.8 2.7a1.4 0.8 106 1 0 0.8 -2.7M386.5 201.1a1.6 1.4 41 1 0 2.5 2.1a1.6 1.4 41 1 0 -2.5 -2.1"/><path fill="#6c6698" fill-opacity="0.75" d="M386.3 195.9a1.4 1.2 57 1 0 1.5 2.3a1.4 1.2 57 1 0 -1.5 -2.3M375.3 203.2a1.1 1.0 41 1 0 1.7 1.4a1.1 1.0 41 1 0 -1.7 -1.4M379.2 197.2a1.1 1.1 34 1 0 1.9 1.3a1.1 1.1 34 1 0 -1.9 -1.3"/><path fill="#786a94" fill-opacity="0.5" d="M376.0 197.4a1.9 1.5 6 1 0 3.7 0.4a1.9 1.5 6 1 0 -3.7 -0.4M375.4 203.1a1.1 1.0 35 1 0 1.7 1.2a1.1 1.0 35 1 0 -1.7 -1.2"/><path fill="#6c6698" fill-opacity="0.5" d="M377.4 200.2a1.8 1.5 96 1 0 -0.4 3.5a1.8 1.5 96 1 0 0.4 -3.5M376.9 196.9a1.4 1.2 14 1 0 2.7 0.6a1.4 1.2 14 1 0 -2.7 -0.6"/><path fill="#786a94" fill-opacity="0.75" d="M380.9 199.6a1.0 0.8 152 1 0 -1.7 0.9a1.0 0.8 152 1 0 1.7 -0.9M382.4 198.1a1.8 1.1 71 1 0 1.2 3.4a1.8 1.1 71 1 0 -1.2 -3.4M385.9 198.4a1.2 0.7 151 1 0 -2.0 1.1a1.2 0.7 151 1 0 2.0 -1.1"/><path fill="#5f5f96" fill-opacity="0.75" d="M451.1 232.6a1.2 1.0 141 1 0 -1.8 1.4a1.2 1.0 141 1 0 1.8 -1.4M454.5 221.0a1.6 1.0 62 1 0 1.5 2.8a1.6 1.0 62 1 0 -1.5 -2.8M450.9 230.3a1.0 0.6 73 1 0 0.6 2.0a1.0 0.6 73 1 0 -0.6 -2.0M446.5 220.5a1.9 1.7 137 1 0 -2.7 2.5a1.9 1.7 137 1 0 2.7 -2.5M450.8 225.0a1.2 0.8 100 1 0 -0.4 2.3a1.2 0.8 100 1 0 0.4 -2.3M453.5 222.1a1.2 1.0 100 1 0 -0.4 2.4a1.2 1.0 100 1 0 0.4 -2.4"/><path fill="#5f5f96" fill-opacity="0.5" d="M455.3 233.2a1.3 0.8 81 1 0 0.4 2.6a1.3 0.8 81 1 0 -0.4 -2.6M451.3 225.6a1.2 1.2 157 1 0 -2.2 0.9a1.2 1.2 157 1 0 2.2 -0.9M443.7 225.5a1.0 0.7 7 1 0 2.0 0.3a1.0 0.7 7 1 0 -2.0 -0.3M449.4 216.9a1.1 1.0 145 1 0 -1.9 1.3a1.1 1.0 145 1 0 1.9 -1.3M444.7 217.7a1.9 1.5 47 1 0 2.6 2.8a1.9 1.5 47 1 0 -2.6 -2.8"/><path fill="#786a94" fill-opacity="0.5" d="M448.3 220.3a1.3 0.8 162 1 0 -2.4 0.8a1.3 0.8 162 1 0 2.4 -0.8M453.4 229.8a1.7 1.2 116 1 0 -1.5 3.1a1.7 1.2 116 1 0 1.5 -3.1"/><path fill="#6c6698" fill-opacity="0.75" d="M457.4 231.6a1.5 1.2 41 1 0 2.3 2.0a1.5 1.2 41 1 0 -2.3 -2.0M452.6 231.9a1.1 1.1 50 1 0 1.5 1.7a1.1 1.1 50 1 0 -1.5 -1.7M451.3 233.2a1.9 1.1 45 1 0 2.7 2.7a1.9 1.1 45 1 0 -2.7 -2.7M456.6 230.2a1.2 0.7 158 1 0 -2.2 0.9a1.2 0.7 158 1 0 2.2 -0.9M448.9 223.8a1.0 0.7 116 1 0 -0.9 1.8a1.0 0.7 116 1 0 0.9 -1.8"/><path fill="#6c6698" fill-opacity="0.5" d="M459.3 227.9a1.9 1.4 83 1 0 0.5 3.8a1.9 1.4 83 1 0 -0.5 -3.8M450.7 218.3a1.7 1.5 177 1 0 -3.4 0.2a1.7 1.5 177 1 0 3.4 -0.2"/><path fill="#8a7a98" fill-opacity="0.75" d="M457.8 225.9a1.3 0.9 164 1 0 -2.4 0.7a1.3 0.9 164 1 0 2.4 -0.7M457.0 231.7a0.9 0.6 133 1 0 -1.3 1.4a0.9 0.6 133 1 0 1.3 -1.4M457.7 230.7a1.0 0.6 58 1 0 1.1 1.8a1.0 0.6 58 1 0 -1.1 -1.8M462.0 228.5a1.8 1.3 146 1 0 -2.9 2.0a1.8 1.3 146 1 0 2.9 -2.0M447.7 216.1a1.7 0.9 147 1 0 -2.8 1.8a1.7 0.9 147 1 0 2.8 -1.8M442.3 223.8a1.8 1.6 93 1 0 -0.2 3.6a1.8 1.6 93 1 0 0.2 -3.6M451.7 231.0a1.4 1.0 11 1 0 2.8 0.5a1.4 1.0 11 1 0 -2.8 -0.5"/><path fill="#786a94" fill-opacity="0.75" d="M451.5 226.9a1.7 1.1 108 1 0 -1.0 3.2a1.7 1.1 108 1 0 1.0 -3.2"/><path fill="#8a7a98" fill-opacity="0.5" d="M456.0 227.0a1.1 0.8 3 1 0 2.2 0.1a1.1 0.8 3 1 0 -2.2 -0.1"/><path fill="#6c6698" fill-opacity="0.75" d="M476.2 159.2a1.4 1.3 3 1 0 2.8 0.1a1.4 1.3 3 1 0 -2.8 -0.1M474.4 150.1a1.2 1.0 100 1 0 -0.4 2.3a1.2 1.0 100 1 0 0.4 -2.3M486.6 156.9a0.9 0.6 75 1 0 0.5 1.8a0.9 0.6 75 1 0 -0.5 -1.8M479.7 152.2a1.2 0.9 175 1 0 -2.3 0.2a1.2 0.9 175 1 0 2.3 -0.2"/><path fill="#5f5f96" fill-opacity="0.75" d="M484.3 153.0a1.3 1.0 66 1 0 1.1 2.4a1.3 1.0 66 1 0 -1.1 -2.4M487.3 156.4a1.2 1.0 125 1 0 -1.4 1.9a1.2 1.0 125 1 0 1.4 -1.9M490.2 157.8a1.7 1.0 128 1 0 -2.1 2.7a1.7 1.0 128 1 0 2.1 -2.7M467.2 147.5a1.6 1.4 29 1 0 2.8 1.6a1.6 1.4 29 1 0 -2.8 -1.6"/><path fill="#786a94" fill-opacity="0.75" d="M490.6 165.3a2.0 1.9 174 1 0 -3.9 0.4a2.0 1.9 174 1 0 3.9 -0.4M480.6 152.8a1.0 0.7 178 1 0 -2.0 0.1a1.0 0.7 178 1 0 2.0 -0.1M490.4 159.6a1.2 1.1 131 1 0 -1.5 1.8a1.2 1.1 131 1 0 1.5 -1.8M486.6 156.3a2.0 1.2 117 1 0 -1.8 3.6a2.0 1.2 117 1 0 1.8 -3.6M470.5 148.3a1.1 1.1 47 1 0 1.5 1.7a1.1 1.1 47 1 0 -1.5 -1.7M472.1 145.0a1.7 1.3 107 1 0 -1.0 3.2a1.7 1.3 107 1 0 1.0 -3.2"/><path fill="#786a94" fill-opacity="0.5" d="M488.5 156.8a1.1 0.9 5 1 0 2.1 0.2a1.1 0.9 5 1 0 -2.1 -0.2M478.2 151.1a1.2 0.9 15 1 0 2.3 0.6a1.2 0.9 15 1 0 -2.3 -0.6M491.9 157.1a1.7 1.5 64 1 0 1.5 3.0a1.7 1.5 64 1 0 -1.5 -3.0"/><path fill="#6c6698" fill-opacity="0.5" d="M469.3 145.5a1.8 1.2 145 1 0 -2.9 2.1a1.8 1.2 145 1 0 2.9 -2.1M484.4 155.9a1.0 0.6 141 1 0 -1.5 1.2a1.0 0.6 141 1 0 1.5 -1.2M492.7 162.4a1.4 1.4 115 1 0 -1.2 2.6a1.4 1.4 115 1 0 1.2 -2.6M493.1 162.3a0.9 0.6 173 1 0 -1.8 0.2a0.9 0.6 173 1 0 1.8 -0.2"/><path fill="#8a7a98" fill-opacity="0.5" d="M476.1 156.8a1.9 1.3 166 1 0 -3.7 0.9a1.9 1.3 166 1 0 3.7 -0.9M478.9 148.8a1.7 1.4 120 1 0 -1.6 2.9a1.7 1.4 120 1 0 1.6 -2.9M474.1 148.1a0.9 0.7 40 1 0 1.4 1.2a0.9 0.7 40 1 0 -1.4 -1.2"/><path fill="#5f5f96" fill-opacity="0.5" d="M487.4 159.9a1.2 0.7 95 1 0 -0.2 2.4a1.2 0.7 95 1 0 0.2 -2.4M486.4 164.1a0.9 0.7 129 1 0 -1.2 1.4a0.9 0.7 129 1 0 1.2 -1.4M490.4 156.2a1.0 0.9 5 1 0 2.1 0.2a1.0 0.9 5 1 0 -2.1 -0.2M496.0 160.3a1.3 1.0 175 1 0 -2.7 0.2a1.3 1.0 175 1 0 2.7 -0.2M488.5 157.2a1.3 0.9 17 1 0 2.5 0.8a1.3 0.9 17 1 0 -2.5 -0.8"/><path fill="#8a7a98" fill-opacity="0.75" d="M473.4 147.9a1.6 1.1 39 1 0 2.5 2.0a1.6 1.1 39 1 0 -2.5 -2.0M473.6 152.9a1.0 0.8 86 1 0 0.2 2.0a1.0 0.8 86 1 0 -0.2 -2.0"/><path fill="#6c6698" fill-opacity="0.5" d="M496.3 196.5a1.9 1.4 29 1 0 3.3 1.9a1.9 1.4 29 1 0 -3.3 -1.9M488.4 197.8a2.0 1.2 3 1 0 3.9 0.2a2.0 1.2 3 1 0 -3.9 -0.2M481.8 190.2a0.9 0.9 5 1 0 1.8 0.2a0.9 0.9 5 1 0 -1.8 -0.2M492.4 201.7a1.7 0.9 170 1 0 -3.3 0.6a1.7 0.9 170 1 0 3.3 -0.6M485.2 188.4a1.6 1.0 139 1 0 -2.5 2.1a1.6 1.0 139 1 0 2.5 -2.1"/><path fill="#5f5f96" fill-opacity="0.5" d="M497.4 188.2a1.8 1.1 52 1 0 2.3 2.9a1.8 1.1 52 1 0 -2.3 -2.9M485.1 197.1a1.4 1.2 4 1 0 2.7 0.2a1.4 1.2 4 1 0 -2.7 -0.2"/><path fill="#8a7a98" fill-opacity="0.75" d="M494.5 189.8a1.5 1.0 44 1 0 2.2 2.1a1.5 1.0 44 1 0 -2.2 -2.1M485.5 193.2a1.2 1.2 14 1 0 2.4 0.6a1.2 1.2 14 1 0 -2.4 -0.6M499.1 195.5a1.5 1.3 106 1 0 -0.9 2.9a1.5 1.3 106 1 0 0.9 -2.9M493.5 187.0a1.9 1.9 74 1 0 1.1 3.7a1.9 1.9 74 1 0 -1.1 -3.7"/><path fill="#6c6698" fill-opacity="0.75" d="M492.4 194.6a1.7 1.3 136 1 0 -2.5 2.4a1.7 1.3 136 1 0 2.5 -2.4M492.1 185.5a1.8 1.4 177 1 0 -3.6 0.2a1.8 1.4 177 1 0 3.6 -0.2"/><path fill="#786a94" fill-opacity="0.75" d="M483.3 188.9a0.9 0.7 56 1 0 1.1 1.6a0.9 0.7 56 1 0 -1.1 -1.6M488.3 188.5a1.3 0.8 25 1 0 2.4 1.1a1.3 0.8 25 1 0 -2.4 -1.1M497.5 193.1a1.1 1.0 65 1 0 0.9 2.0a1.1 1.0 65 1 0 -0.9 -2.0"/><path fill="#5f5f96" fill-opacity="0.75" d="M495.7 195.0a1.6 1.5 89 1 0 0.1 3.3a1.6 1.5 89 1 0 -0.1 -3.3"/><path fill="#8a7a98" fill-opacity="0.5" d="M485.4 196.9a1.9 1.1 80 1 0 0.7 3.8a1.9 1.1 80 1 0 -0.7 -3.8M492.8 197.6a1.3 0.9 168 1 0 -2.6 0.6a1.3 0.9 168 1 0 2.6 -0.6M481.0 191.1a1.9 1.6 47 1 0 2.6 2.8a1.9 1.6 47 1 0 -2.6 -2.8"/><path fill="#786a94" fill-opacity="0.5" d="M496.6 188.3a1.3 1.2 70 1 0 0.9 2.4a1.3 1.2 70 1 0 -0.9 -2.4M488.7 198.4a1.4 1.2 131 1 0 -1.9 2.2a1.4 1.2 131 1 0 1.9 -2.2"/><path fill="#6c6698" fill-opacity="0.5" d="M384.1 230.6a1.5 1.0 51 1 0 1.9 2.3a1.5 1.0 51 1 0 -1.9 -2.3M375.7 232.9a1.6 1.1 35 1 0 2.6 1.8a1.6 1.1 35 1 0 -2.6 -1.8"/><path fill="#6c6698" fill-opacity="0.75" d="M376.6 233.3a1.0 0.6 157 1 0 -1.8 0.8a1.0 0.6 157 1 0 1.8 -0.8"/><path fill="#786a94" fill-opacity="0.5" d="M383.0 230.4a1.7 1.2 63 1 0 1.6 3.0a1.7 1.2 63 1 0 -1.6 -3.0M382.5 235.7a1.4 1.0 23 1 0 2.7 1.1a1.4 1.0 23 1 0 -2.7 -1.1"/><path fill="#786a94" fill-opacity="0.75" d="M375.0 233.8a1.4 1.0 151 1 0 -2.5 1.4a1.4 1.0 151 1 0 2.5 -1.4"/><path fill="#8a7a98" fill-opacity="0.5" d="M384.2 237.3a1.0 1.0 178 1 0 -1.9 0.1a1.0 1.0 178 1 0 1.9 -0.1"/><path fill="#8a7a98" fill-opacity="0.75" d="M376.6 231.4a1.4 1.0 68 1 0 1.0 2.6a1.4 1.0 68 1 0 -1.0 -2.6M384.1 232.1a1.9 1.9 106 1 0 -1.0 3.6a1.9 1.9 106 1 0 1.0 -3.6"/><path fill="#5f5f96" fill-opacity="0.75" d="M376.8 232.6a1.2 1.1 55 1 0 1.3 1.9a1.2 1.1 55 1 0 -1.3 -1.9"/><path fill="#786a94" fill-opacity="0.5" d="M487.4 226.2a1.7 1.5 122 1 0 -1.8 2.8a1.7 1.5 122 1 0 1.8 -2.8"/><path fill="#8a7a98" fill-opacity="0.75" d="M479.8 235.4a1.0 0.9 96 1 0 -0.2 2.0a1.0 0.9 96 1 0 0.2 -2.0"/><path fill="#8a7a98" fill-opacity="0.5" d="M485.0 233.3a1.7 1.3 156 1 0 -3.2 1.4a1.7 1.3 156 1 0 3.2 -1.4M478.2 233.3a1.9 1.6 14 1 0 3.8 0.9a1.9 1.6 14 1 0 -3.8 -0.9"/><path fill="#6c6698" fill-opacity="0.5" d="M483.6 231.8a1.8 1.4 175 1 0 -3.5 0.3a1.8 1.4 175 1 0 3.5 -0.3"/><path fill="#786a94" fill-opacity="0.75" d="M481.0 232.5a1.6 1.2 114 1 0 -1.3 2.9a1.6 1.2 114 1 0 1.3 -2.9M484.3 231.4a1.1 1.1 158 1 0 -2.1 0.9a1.1 1.1 158 1 0 2.1 -0.9"/><path fill="#6c6698" fill-opacity="0.75" d="M485.4 230.6a1.5 1.5 177 1 0 -3.0 0.2a1.5 1.5 177 1 0 3.0 -0.2M484.1 226.7a1.9 1.5 22 1 0 3.6 1.4a1.9 1.5 22 1 0 -3.6 -1.4"/><path fill="#5f5f96" fill-opacity="0.5" d="M484.1 225.9a1.9 1.1 151 1 0 -3.4 1.8a1.9 1.1 151 1 0 3.4 -1.8M487.4 228.3a1.1 1.0 92 1 0 -0.1 2.2a1.1 1.0 92 1 0 0.1 -2.2M480.4 230.3a1.1 0.7 21 1 0 2.0 0.8a1.1 0.7 21 1 0 -2.0 -0.8"/><path fill="#5f5f96" fill-opacity="0.75" d="M481.8 235.6a1.6 1.2 137 1 0 -2.4 2.2a1.6 1.2 137 1 0 2.4 -2.2"/></g></g>
<g clip-path="url(#c2)"><rect x="375" y="279.4" width="126.5" height="95.6" fill="#e2e0ed"/>
<rect x="375" y="279.4" width="126.5" height="95.6" filter="url(#txB)" opacity="0.4"/>
<path d="M379,279L390,279L390,290L380,291ZM376,299L394,297L398,316L399,353L391,357L376,353ZM391.4,295.9L396.5,289.7L403.9,287.4L418.6,285.5L417.4,276.5L402.1,278.6L391.5,282.3L384.6,290.1ZM411,286L423.5,286L423.5,376L411,376ZM427,279L455,279L458,310L446,313L429,311ZM421.1,346.0L442.2,335.0L465.2,321.9L460.8,314.1L437.8,327.0L416.9,338.0ZM430.0,375.8L428.9,360.8L434.7,350.9L440.8,349.0L447.1,351.7L451.1,360.7L451.0,376.0L459.0,376.0L458.9,359.3L452.9,346.3L441.2,341.0L429.3,345.1L421.1,359.2L422.0,376.2ZM477,278L502,278L502,297L477,297ZM464,316L502,313L502,332L465,332ZM467.5,375.8L466.5,355.6L471.3,344.1L480.2,340.5L491.8,344.0L498.8,351.2L505.2,344.8L496.2,336.0L479.8,331.5L464.7,337.9L457.5,354.4L458.5,376.2ZM462,291L475,291L475,312L462,312ZM486,352L502,352L502,376L494,376ZM378,366L399,362L400,376L378,376Z" fill="#a87058" filter="url(#blur1)" opacity="0.7"/>
<g filter="url(#blur05)"><path fill="#9a5a40" fill-opacity="0.75" d="M382.5 283.4a2.3 2.0 113 1 0 -1.8 4.3a2.3 2.0 113 1 0 1.8 -4.3M395.1 308.5a2.6 1.8 142 1 0 -4.1 3.2a2.6 1.8 142 1 0 4.1 -3.2M392.7 349.5a3.1 2.9 104 1 0 -1.5 5.9a3.1 2.9 104 1 0 1.5 -5.9M392.1 338.5a2.6 1.7 106 1 0 -1.4 5.0a2.6 1.7 106 1 0 1.4 -5.0M382.3 347.2a2.0 1.4 18 1 0 3.7 1.2a2.0 1.4 18 1 0 -3.7 -1.2M392.8 333.1a1.9 1.4 42 1 0 2.8 2.5a1.9 1.4 42 1 0 -2.8 -2.5M378.5 307.0a2.4 1.6 5 1 0 4.7 0.4a2.4 1.6 5 1 0 -4.7 -0.4M384.6 305.6a3.0 2.3 57 1 0 3.2 5.0a3.0 2.3 57 1 0 -3.2 -5.0M387.7 296.9a2.3 2.3 57 1 0 2.5 3.8a2.3 2.3 57 1 0 -2.5 -3.8M376.4 348.7a1.8 1.2 91 1 0 -0.0 3.7a1.8 1.2 91 1 0 0.0 -3.7M378.3 334.4a2.0 1.2 171 1 0 -4.0 0.6a2.0 1.2 171 1 0 4.0 -0.6M396.9 324.7a3.2 2.9 176 1 0 -6.3 0.4a3.2 2.9 176 1 0 6.3 -0.4M381.2 309.7a2.9 2.2 47 1 0 4.0 4.3a2.9 2.2 47 1 0 -4.0 -4.3M385.5 345.6a2.6 1.8 30 1 0 4.4 2.6a2.6 1.8 30 1 0 -4.4 -2.6M409.1 284.2a2.1 1.3 19 1 0 3.9 1.3a2.1 1.3 19 1 0 -3.9 -1.3M392.7 281.8a2.1 1.3 93 1 0 -0.2 4.2a2.1 1.3 93 1 0 0.2 -4.2M418.4 280.7a2.2 1.9 134 1 0 -3.1 3.2a2.2 1.9 134 1 0 3.1 -3.2M419.0 328.0a2.4 2.0 136 1 0 -3.4 3.3a2.4 2.0 136 1 0 3.4 -3.3M416.0 372.6a3.0 2.7 52 1 0 3.6 4.7a3.0 2.7 52 1 0 -3.6 -4.7M421.5 315.2a2.0 1.8 26 1 0 3.5 1.7a2.0 1.8 26 1 0 -3.5 -1.7M418.3 373.3a2.7 1.9 126 1 0 -3.1 4.3a2.7 1.9 126 1 0 3.1 -4.3M416.7 327.1a2.1 2.1 75 1 0 1.1 4.1a2.1 2.1 75 1 0 -1.1 -4.1M421.7 329.5a2.5 1.9 90 1 0 0.0 5.0a2.5 1.9 90 1 0 -0.0 -5.0M420.6 334.2a2.3 1.8 108 1 0 -1.5 4.5a2.3 1.8 108 1 0 1.5 -4.5M414.7 341.4a2.9 2.6 37 1 0 4.6 3.5a2.9 2.6 37 1 0 -4.6 -3.5M419.1 370.0a2.5 1.7 61 1 0 2.4 4.3a2.5 1.7 61 1 0 -2.4 -4.3M415.6 301.7a2.6 2.3 131 1 0 -3.5 4.0a2.6 2.3 131 1 0 3.5 -4.0M410.0 358.7a2.4 1.9 21 1 0 4.4 1.7a2.4 1.9 21 1 0 -4.4 -1.7M419.7 339.9a2.5 2.1 93 1 0 -0.2 5.0a2.5 2.1 93 1 0 0.2 -5.0M414.1 315.1a2.7 2.3 45 1 0 3.8 3.9a2.7 2.3 45 1 0 -3.8 -3.9M410.8 300.1a2.2 1.9 40 1 0 3.4 2.9a2.2 1.9 40 1 0 -3.4 -2.9M420.4 367.8a2.3 1.9 96 1 0 -0.5 4.5a2.3 1.9 96 1 0 0.5 -4.5M412.8 292.9a2.3 1.9 66 1 0 1.9 4.2a2.3 1.9 66 1 0 -1.9 -4.2M419.5 309.7a2.7 2.5 121 1 0 -2.8 4.7a2.7 2.5 121 1 0 2.8 -4.7M416.9 328.0a3.0 2.4 62 1 0 2.8 5.3a3.0 2.4 62 1 0 -2.8 -5.3M415.9 312.3a2.0 1.3 144 1 0 -3.2 2.3a2.0 1.3 144 1 0 3.2 -2.3M413.4 372.2a1.9 1.3 139 1 0 -2.9 2.5a1.9 1.3 139 1 0 2.9 -2.5M421.2 314.8a2.4 2.4 175 1 0 -4.7 0.4a2.4 2.4 175 1 0 4.7 -0.4M419.0 342.9a1.9 1.4 96 1 0 -0.4 3.9a1.9 1.4 96 1 0 0.4 -3.9M444.5 278.2a3.1 2.4 161 1 0 -5.9 2.0a3.1 2.4 161 1 0 5.9 -2.0M454.9 283.3a2.8 2.4 169 1 0 -5.5 1.1a2.8 2.4 169 1 0 5.5 -1.1M453.3 296.1a2.8 1.9 79 1 0 1.1 5.5a2.8 1.9 79 1 0 -1.1 -5.5M436.0 292.9a2.5 1.9 68 1 0 1.9 4.6a2.5 1.9 68 1 0 -1.9 -4.6M439.2 288.6a2.4 1.8 18 1 0 4.7 1.5a2.4 1.8 18 1 0 -4.7 -1.5M451.0 302.9a1.9 1.8 72 1 0 1.2 3.6a1.9 1.8 72 1 0 -1.2 -3.6M431.5 294.1a2.1 1.6 77 1 0 1.0 4.2a2.1 1.6 77 1 0 -1.0 -4.2M446.9 287.1a3.1 2.1 151 1 0 -5.5 3.1a3.1 2.1 151 1 0 5.5 -3.1M447.9 279.6a2.6 1.7 170 1 0 -5.1 0.9a2.6 1.7 170 1 0 5.1 -0.9M435.2 308.3a2.5 2.0 11 1 0 4.8 1.0a2.5 2.0 11 1 0 -4.8 -1.0M437.8 300.6a2.6 2.5 76 1 0 1.2 5.1a2.6 2.5 76 1 0 -1.2 -5.1M431.5 288.8a2.7 2.5 95 1 0 -0.5 5.3a2.7 2.5 95 1 0 0.5 -5.3M437.3 303.7a2.4 2.1 164 1 0 -4.5 1.3a2.4 2.1 164 1 0 4.5 -1.3M445.1 298.7a2.8 2.2 156 1 0 -5.1 2.3a2.8 2.2 156 1 0 5.1 -2.3M434.7 287.6a2.3 1.6 30 1 0 4.0 2.3a2.3 1.6 30 1 0 -4.0 -2.3M428.4 331.2a2.4 2.3 116 1 0 -2.0 4.3a2.4 2.3 116 1 0 2.0 -4.3M438.1 332.0a1.9 1.6 172 1 0 -3.8 0.6a1.9 1.6 172 1 0 3.8 -0.6M442.0 325.3a1.8 1.6 47 1 0 2.5 2.7a1.8 1.6 47 1 0 -2.5 -2.7M426.1 332.2a2.0 1.4 112 1 0 -1.5 3.7a2.0 1.4 112 1 0 1.5 -3.7M449.0 321.1a2.7 1.8 57 1 0 3.0 4.6a2.7 1.8 57 1 0 -3.0 -4.6M439.7 333.3a2.5 1.6 80 1 0 0.9 4.9a2.5 1.6 80 1 0 -0.9 -4.9M429.0 339.2a2.3 1.7 147 1 0 -3.8 2.5a2.3 1.7 147 1 0 3.8 -2.5M427.7 358.0a2.0 1.7 175 1 0 -4.0 0.4a2.0 1.7 175 1 0 4.0 -0.4M424.8 354.1a2.6 1.6 60 1 0 2.6 4.5a2.6 1.6 60 1 0 -2.6 -4.5M427.1 344.7a3.0 2.0 21 1 0 5.5 2.2a3.0 2.0 21 1 0 -5.5 -2.2M454.1 371.5a2.3 1.9 18 1 0 4.4 1.4a2.3 1.9 18 1 0 -4.4 -1.4M490.2 289.3a1.9 1.9 111 1 0 -1.4 3.6a1.9 1.9 111 1 0 1.4 -3.6M486.7 283.6a1.8 1.1 70 1 0 1.2 3.4a1.8 1.1 70 1 0 -1.2 -3.4M502.4 288.6a2.7 1.8 110 1 0 -1.8 5.1a2.7 1.8 110 1 0 1.8 -5.1M489.3 285.6a2.6 2.3 161 1 0 -4.9 1.7a2.6 2.3 161 1 0 4.9 -1.7M470.9 318.5a3.1 3.0 139 1 0 -4.8 4.1a3.1 3.0 139 1 0 4.8 -4.1M498.2 318.7a2.2 1.9 40 1 0 3.5 2.9a2.2 1.9 40 1 0 -3.5 -2.9M475.6 317.5a2.2 2.1 64 1 0 1.9 4.0a2.2 2.1 64 1 0 -1.9 -4.0M482.0 323.8a3.0 2.8 29 1 0 5.2 2.9a3.0 2.8 29 1 0 -5.2 -2.9M465.4 327.4a2.0 1.8 47 1 0 2.7 2.8a2.0 1.8 47 1 0 -2.7 -2.8M477.7 329.9a2.3 1.9 6 1 0 4.6 0.5a2.3 1.9 6 1 0 -4.6 -0.5M473.3 318.3a2.3 2.2 46 1 0 3.2 3.3a2.3 2.2 46 1 0 -3.2 -3.3M472.7 320.4a2.0 1.8 76 1 0 0.9 3.8a2.0 1.8 76 1 0 -0.9 -3.8M467.6 328.1a1.8 1.7 2 1 0 3.7 0.1a1.8 1.7 2 1 0 -3.7 -0.1M480.7 325.5a1.9 1.3 106 1 0 -1.0 3.6a1.9 1.3 106 1 0 1.0 -3.6M475.5 331.8a3.1 1.9 80 1 0 1.1 6.1a3.1 1.9 80 1 0 -1.1 -6.1M493.3 337.1a2.7 1.8 36 1 0 4.3 3.1a2.7 1.8 36 1 0 -4.3 -3.1M473.5 342.0a2.7 2.7 134 1 0 -3.8 3.9a2.7 2.7 134 1 0 3.8 -3.9M498.2 336.8a2.7 2.5 82 1 0 0.7 5.3a2.7 2.5 82 1 0 -0.7 -5.3M460.1 350.2a2.5 1.8 89 1 0 0.1 5.0a2.5 1.8 89 1 0 -0.1 -5.0M462.6 360.9a3.1 2.7 123 1 0 -3.4 5.2a3.1 2.7 123 1 0 3.4 -5.2M487.9 338.0a2.0 1.2 9 1 0 4.0 0.6a2.0 1.2 9 1 0 -4.0 -0.6M474.3 338.2a1.9 1.9 27 1 0 3.3 1.7a1.9 1.9 27 1 0 -3.3 -1.7M473.3 301.4a2.4 1.9 133 1 0 -3.3 3.6a2.4 1.9 133 1 0 3.3 -3.6M463.1 297.9a2.7 1.8 46 1 0 3.7 3.8a2.7 1.8 46 1 0 -3.7 -3.8M503.2 373.1a2.9 2.4 143 1 0 -4.6 3.5a2.9 2.4 143 1 0 4.6 -3.5M501.0 356.8a3.2 2.2 127 1 0 -3.8 5.1a3.2 2.2 127 1 0 3.8 -5.1M498.5 372.4a2.1 2.0 20 1 0 4.0 1.4a2.1 2.0 20 1 0 -4.0 -1.4"/><path fill="#7c3e2c" fill-opacity="1.0" d="M390.6 282.6a2.6 1.7 129 1 0 -3.2 4.0a2.6 1.7 129 1 0 3.2 -4.0M384.6 319.8a3.0 3.0 67 1 0 2.3 5.6a3.0 3.0 67 1 0 -2.3 -5.6M383.0 323.1a2.0 1.8 119 1 0 -1.9 3.4a2.0 1.8 119 1 0 1.9 -3.4M395.5 304.7a2.5 2.5 153 1 0 -4.5 2.3a2.5 2.5 153 1 0 4.5 -2.3M379.0 307.4a2.0 1.6 126 1 0 -2.4 3.3a2.0 1.6 126 1 0 2.4 -3.3M392.6 352.5a2.6 2.0 171 1 0 -5.0 0.8a2.6 2.0 171 1 0 5.0 -0.8M396.9 279.4a2.2 1.7 14 1 0 4.3 1.1a2.2 1.7 14 1 0 -4.3 -1.1M419.0 343.7a2.5 1.8 176 1 0 -5.0 0.3a2.5 1.8 176 1 0 5.0 -0.3M415.0 354.9a3.0 2.9 151 1 0 -5.3 3.0a3.0 2.9 151 1 0 5.3 -3.0M452.6 284.0a2.4 1.6 27 1 0 4.3 2.2a2.4 1.6 27 1 0 -4.3 -2.2M433.3 305.2a2.3 1.5 51 1 0 2.9 3.6a2.3 1.5 51 1 0 -2.9 -3.6M453.9 283.5a2.0 1.7 131 1 0 -2.6 3.0a2.0 1.7 131 1 0 2.6 -3.0M435.6 285.5a1.9 1.4 93 1 0 -0.2 3.9a1.9 1.4 93 1 0 0.2 -3.9M429.8 285.5a2.8 1.9 125 1 0 -3.2 4.6a2.8 1.9 125 1 0 3.2 -4.6M441.4 305.9a2.8 2.5 85 1 0 0.5 5.5a2.8 2.5 85 1 0 -0.5 -5.5M463.2 319.2a1.9 1.9 97 1 0 -0.4 3.8a1.9 1.9 97 1 0 0.4 -3.8M460.9 322.1a2.4 2.2 115 1 0 -2.1 4.4a2.4 2.2 115 1 0 2.1 -4.4M432.5 350.3a2.3 1.5 162 1 0 -4.4 1.4a2.3 1.5 162 1 0 4.4 -1.4M450.8 353.0a2.9 2.0 136 1 0 -4.2 4.1a2.9 2.0 136 1 0 4.2 -4.1M478.9 285.8a2.2 1.8 73 1 0 1.3 4.2a2.2 1.8 73 1 0 -1.3 -4.2M498.5 289.1a2.4 2.2 43 1 0 3.6 3.3a2.4 2.2 43 1 0 -3.6 -3.3M487.1 329.6a2.1 1.6 99 1 0 -0.7 4.2a2.1 1.6 99 1 0 0.7 -4.2M486.1 337.2a2.2 1.8 142 1 0 -3.4 2.6a2.2 1.8 142 1 0 3.4 -2.6M491.0 335.8a1.9 1.5 63 1 0 1.7 3.4a1.9 1.5 63 1 0 -1.7 -3.4M468.9 361.2a3.2 1.9 158 1 0 -5.9 2.4a3.2 1.9 158 1 0 5.9 -2.4M462.4 354.6a2.7 2.2 156 1 0 -4.9 2.1a2.7 2.2 156 1 0 4.9 -2.1M465.0 351.4a2.2 1.4 136 1 0 -3.1 3.0a2.2 1.4 136 1 0 3.1 -3.0M466.3 356.3a1.9 1.2 123 1 0 -2.0 3.2a1.9 1.2 123 1 0 2.0 -3.2M469.8 299.5a2.1 1.7 85 1 0 0.4 4.2a2.1 1.7 85 1 0 -0.4 -4.2M498.3 368.1a3.1 2.4 6 1 0 6.2 0.6a3.1 2.4 6 1 0 -6.2 -0.6"/><path fill="#7c3e2c" fill-opacity="0.75" d="M386.1 285.9a2.0 1.7 156 1 0 -3.7 1.6a2.0 1.7 156 1 0 3.7 -1.6M389.3 280.1a3.0 3.0 163 1 0 -5.7 1.8a3.0 3.0 163 1 0 5.7 -1.8M382.6 278.0a2.6 2.4 68 1 0 2.0 4.9a2.6 2.4 68 1 0 -2.0 -4.9M385.4 322.2a2.5 2.2 107 1 0 -1.5 4.8a2.5 2.2 107 1 0 1.5 -4.8M397.8 311.2a2.9 1.9 146 1 0 -4.8 3.2a2.9 1.9 146 1 0 4.8 -3.2M395.1 329.3a1.9 1.5 117 1 0 -1.7 3.3a1.9 1.5 117 1 0 1.7 -3.3M396.7 320.7a1.8 1.3 49 1 0 2.4 2.7a1.8 1.3 49 1 0 -2.4 -2.7M382.9 313.1a1.9 1.9 101 1 0 -0.8 3.8a1.9 1.9 101 1 0 0.8 -3.8M376.8 339.3a3.1 1.9 58 1 0 3.3 5.3a3.1 1.9 58 1 0 -3.3 -5.3M388.9 322.3a2.8 2.7 46 1 0 3.9 4.0a2.8 2.7 46 1 0 -3.9 -4.0M396.8 344.3a2.0 1.9 61 1 0 1.9 3.4a2.0 1.9 61 1 0 -1.9 -3.4M379.8 324.7a2.3 2.0 122 1 0 -2.4 3.9a2.3 2.0 122 1 0 2.4 -3.9M394.3 337.4a2.0 1.3 100 1 0 -0.7 3.8a2.0 1.3 100 1 0 0.7 -3.8M381.9 312.6a2.3 2.2 8 1 0 4.6 0.6a2.3 2.2 8 1 0 -4.6 -0.6M396.9 337.9a2.3 1.7 95 1 0 -0.4 4.6a2.3 1.7 95 1 0 0.4 -4.6M400.2 344.3a2.2 1.6 154 1 0 -3.9 1.9a2.2 1.6 154 1 0 3.9 -1.9M387.1 307.8a2.3 1.5 164 1 0 -4.4 1.2a2.3 1.5 164 1 0 4.4 -1.2M392.7 349.5a3.1 1.9 55 1 0 3.6 5.1a3.1 1.9 55 1 0 -3.6 -5.1M385.1 351.8a2.1 1.6 91 1 0 -0.1 4.1a2.1 1.6 91 1 0 0.1 -4.1M382.7 306.5a3.0 2.4 91 1 0 -0.1 6.0a3.0 2.4 91 1 0 0.1 -6.0M376.5 345.5a2.6 2.4 37 1 0 4.2 3.2a2.6 2.4 37 1 0 -4.2 -3.2M384.5 334.0a2.3 1.5 136 1 0 -3.3 3.2a2.3 1.5 136 1 0 3.3 -3.2M385.3 327.1a2.4 2.2 149 1 0 -4.1 2.5a2.4 2.2 149 1 0 4.1 -2.5M377.8 308.1a1.9 1.3 110 1 0 -1.3 3.5a1.9 1.3 110 1 0 1.3 -3.5M394.0 292.1a3.0 1.9 173 1 0 -6.0 0.7a3.0 1.9 173 1 0 6.0 -0.7M405.7 278.5a2.4 2.0 115 1 0 -2.0 4.4a2.4 2.0 115 1 0 2.0 -4.4M410.1 280.9a3.2 2.2 22 1 0 5.9 2.4a3.2 2.2 22 1 0 -5.9 -2.4M389.5 283.9a1.9 1.6 5 1 0 3.8 0.3a1.9 1.6 5 1 0 -3.8 -0.3M400.5 279.5a2.2 2.1 24 1 0 4.1 1.8a2.2 2.1 24 1 0 -4.1 -1.8M404.1 280.3a3.0 2.5 130 1 0 -3.9 4.6a3.0 2.5 130 1 0 3.9 -4.6M411.5 279.6a3.0 2.9 22 1 0 5.5 2.2a3.0 2.9 22 1 0 -5.5 -2.2M414.6 303.4a2.5 1.7 18 1 0 4.8 1.6a2.5 1.7 18 1 0 -4.8 -1.6M416.0 330.1a2.3 2.2 134 1 0 -3.2 3.3a2.3 2.2 134 1 0 3.2 -3.3M412.8 345.5a1.9 1.7 113 1 0 -1.5 3.6a1.9 1.7 113 1 0 1.5 -3.6M415.7 326.2a2.5 1.8 169 1 0 -5.0 1.0a2.5 1.8 169 1 0 5.0 -1.0M414.8 357.3a2.4 2.3 70 1 0 1.6 4.4a2.4 2.3 70 1 0 -1.6 -4.4M417.7 357.8a2.1 1.4 50 1 0 2.7 3.3a2.1 1.4 50 1 0 -2.7 -3.3M415.3 300.3a2.3 1.7 82 1 0 0.7 4.6a2.3 1.7 82 1 0 -0.7 -4.6M416.7 342.8a2.6 2.2 89 1 0 0.1 5.3a2.6 2.2 89 1 0 -0.1 -5.3M411.7 332.4a2.8 2.0 103 1 0 -1.2 5.4a2.8 2.0 103 1 0 1.2 -5.4M416.5 296.3a3.0 3.0 137 1 0 -4.4 4.1a3.0 3.0 137 1 0 4.4 -4.1M417.9 302.7a2.7 1.9 136 1 0 -3.9 3.7a2.7 1.9 136 1 0 3.9 -3.7M409.9 355.1a2.7 2.2 56 1 0 3.0 4.4a2.7 2.2 56 1 0 -3.0 -4.4M416.3 316.7a3.2 2.8 157 1 0 -5.9 2.5a3.2 2.8 157 1 0 5.9 -2.5M421.1 340.2a2.2 2.1 64 1 0 2.0 4.0a2.2 2.1 64 1 0 -2.0 -4.0M415.3 325.3a1.9 1.4 159 1 0 -3.6 1.4a1.9 1.4 159 1 0 3.6 -1.4M412.1 345.2a3.0 2.6 29 1 0 5.3 2.9a3.0 2.6 29 1 0 -5.3 -2.9M430.7 295.8a2.1 1.9 58 1 0 2.2 3.5a2.1 1.9 58 1 0 -2.2 -3.5M434.8 287.4a2.3 2.3 67 1 0 1.8 4.3a2.3 2.3 67 1 0 -1.8 -4.3M441.3 290.9a2.7 2.5 71 1 0 1.7 5.2a2.7 2.5 71 1 0 -1.7 -5.2M456.2 285.3a2.6 2.0 165 1 0 -5.0 1.3a2.6 2.0 165 1 0 5.0 -1.3M444.2 301.5a2.6 2.0 109 1 0 -1.7 4.9a2.6 2.0 109 1 0 1.7 -4.9M437.9 284.5a3.0 3.0 145 1 0 -5.0 3.5a3.0 3.0 145 1 0 5.0 -3.5M458.4 322.0a1.8 1.8 147 1 0 -3.1 2.0a1.8 1.8 147 1 0 3.1 -2.0M420.4 337.1a2.7 1.8 104 1 0 -1.3 5.3a2.7 1.8 104 1 0 1.3 -5.3M461.3 321.2a2.0 1.9 159 1 0 -3.7 1.4a2.0 1.9 159 1 0 3.7 -1.4M432.3 335.7a1.9 1.5 14 1 0 3.7 0.9a1.9 1.5 14 1 0 -3.7 -0.9M431.2 346.4a2.1 1.7 126 1 0 -2.5 3.4a2.1 1.7 126 1 0 2.5 -3.4M459.4 371.3a3.0 1.9 175 1 0 -6.0 0.5a3.0 1.9 175 1 0 6.0 -0.5M450.7 348.5a2.4 1.9 64 1 0 2.1 4.3a2.4 1.9 64 1 0 -2.1 -4.3M450.7 349.2a2.8 2.0 60 1 0 2.7 4.8a2.8 2.0 60 1 0 -2.7 -4.8M430.9 352.5a2.9 2.1 63 1 0 2.6 5.1a2.9 2.1 63 1 0 -2.6 -5.1M455.1 365.9a2.3 2.0 73 1 0 1.4 4.5a2.3 2.0 73 1 0 -1.4 -4.5M451.6 347.4a2.6 1.6 153 1 0 -4.7 2.4a2.6 1.6 153 1 0 4.7 -2.4M453.7 369.5a2.9 1.8 118 1 0 -2.7 5.1a2.9 1.8 118 1 0 2.7 -5.1M451.8 367.0a3.0 2.6 83 1 0 0.7 6.0a3.0 2.6 83 1 0 -0.7 -6.0M443.8 344.1a2.0 1.2 2 1 0 3.9 0.2a2.0 1.2 2 1 0 -3.9 -0.2M483.2 283.2a2.2 1.8 162 1 0 -4.2 1.3a2.2 1.8 162 1 0 4.2 -1.3M499.7 291.0a2.9 2.1 156 1 0 -5.2 2.4a2.9 2.1 156 1 0 5.2 -2.4M502.6 286.5a2.7 1.6 125 1 0 -3.2 4.5a2.7 1.6 125 1 0 3.2 -4.5M499.8 278.2a3.0 2.2 107 1 0 -1.7 5.7a3.0 2.2 107 1 0 1.7 -5.7M499.2 279.9a2.4 1.5 94 1 0 -0.3 4.8a2.4 1.5 94 1 0 0.3 -4.8M478.7 330.7a3.0 2.5 172 1 0 -5.9 0.8a3.0 2.5 172 1 0 5.9 -0.8M474.0 324.7a2.0 2.0 11 1 0 4.0 0.8a2.0 2.0 11 1 0 -4.0 -0.8M499.0 314.2a2.7 2.4 36 1 0 4.4 3.2a2.7 2.4 36 1 0 -4.4 -3.2M497.1 314.5a2.1 1.9 84 1 0 0.4 4.1a2.1 1.9 84 1 0 -0.4 -4.1M496.6 327.0a2.0 1.3 5 1 0 4.1 0.3a2.0 1.3 5 1 0 -4.1 -0.3M504.1 317.4a3.2 2.0 143 1 0 -5.0 3.8a3.2 2.0 143 1 0 5.0 -3.8M483.4 326.7a2.9 2.6 25 1 0 5.2 2.4a2.9 2.6 25 1 0 -5.2 -2.4M469.4 335.8a1.9 1.2 28 1 0 3.4 1.8a1.9 1.2 28 1 0 -3.4 -1.8M496.9 336.3a2.9 2.7 52 1 0 3.5 4.5a2.9 2.7 52 1 0 -3.5 -4.5M482.8 336.4a1.9 1.2 131 1 0 -2.5 2.9a1.9 1.2 131 1 0 2.5 -2.9M470.0 340.0a2.9 2.7 76 1 0 1.4 5.7a2.9 2.7 76 1 0 -1.4 -5.7M483.6 338.4a2.3 1.4 26 1 0 4.2 2.0a2.3 1.4 26 1 0 -4.2 -2.0M466.0 310.2a2.5 2.2 12 1 0 5.0 1.0a2.5 2.2 12 1 0 -5.0 -1.0M467.9 300.0a2.9 2.5 75 1 0 1.6 5.7a2.9 2.5 75 1 0 -1.6 -5.7M471.9 301.6a3.0 1.9 165 1 0 -5.9 1.6a3.0 1.9 165 1 0 5.9 -1.6M498.6 359.2a2.9 2.4 1 1 0 5.9 0.1a2.9 2.4 1 1 0 -5.9 -0.1M496.0 358.6a2.1 1.6 2 1 0 4.1 0.1a2.1 1.6 2 1 0 -4.1 -0.1M501.8 370.3a2.8 1.8 112 1 0 -2.1 5.1a2.8 1.8 112 1 0 2.1 -5.1M491.4 359.7a2.4 1.6 178 1 0 -4.8 0.2a2.4 1.6 178 1 0 4.8 -0.2M399.6 360.7a1.9 1.9 111 1 0 -1.4 3.5a1.9 1.9 111 1 0 1.4 -3.5M399.4 372.6a2.2 1.9 87 1 0 0.3 4.4a2.2 1.9 87 1 0 -0.3 -4.4M393.4 366.4a2.1 2.0 127 1 0 -2.5 3.4a2.1 2.0 127 1 0 2.5 -3.4"/><path fill="#8a4a34" fill-opacity="0.75" d="M382.3 289.5a1.9 1.7 148 1 0 -3.2 2.0a1.9 1.7 148 1 0 3.2 -2.0M383.0 284.4a2.2 1.8 69 1 0 1.6 4.2a2.2 1.8 69 1 0 -1.6 -4.2M387.3 278.7a2.9 2.2 27 1 0 5.2 2.7a2.9 2.2 27 1 0 -5.2 -2.7M399.7 344.0a2.2 1.9 129 1 0 -2.7 3.4a2.2 1.9 129 1 0 2.7 -3.4M384.2 315.1a2.3 2.1 178 1 0 -4.5 0.2a2.3 2.1 178 1 0 4.5 -0.2M380.1 318.3a2.6 2.3 1 1 0 5.2 0.1a2.6 2.3 1 1 0 -5.2 -0.1M381.3 312.5a2.7 1.8 160 1 0 -5.1 1.9a2.7 1.8 160 1 0 5.1 -1.9M395.6 312.9a2.9 2.3 168 1 0 -5.7 1.2a2.9 2.3 168 1 0 5.7 -1.2M393.3 300.9a2.9 2.2 50 1 0 3.7 4.4a2.9 2.2 50 1 0 -3.7 -4.4M398.1 336.1a2.4 2.4 83 1 0 0.6 4.8a2.4 2.4 83 1 0 -0.6 -4.8M413.4 282.1a3.0 2.7 65 1 0 2.5 5.5a3.0 2.7 65 1 0 -2.5 -5.5M389.5 283.0a2.7 1.7 15 1 0 5.1 1.3a2.7 1.7 15 1 0 -5.1 -1.3M390.9 292.8a2.3 1.8 160 1 0 -4.4 1.6a2.3 1.8 160 1 0 4.4 -1.6M410.9 276.4a2.4 1.8 32 1 0 4.0 2.5a2.4 1.8 32 1 0 -4.0 -2.5M416.0 353.5a2.4 1.8 33 1 0 4.0 2.6a2.4 1.8 33 1 0 -4.0 -2.6M422.1 293.5a3.1 2.5 78 1 0 1.3 6.1a3.1 2.5 78 1 0 -1.3 -6.1M413.0 311.9a2.6 2.1 108 1 0 -1.6 5.0a2.6 2.1 108 1 0 1.6 -5.0M417.7 311.2a2.5 1.7 95 1 0 -0.4 5.0a2.5 1.7 95 1 0 0.4 -5.0M416.3 291.1a2.5 2.0 2 1 0 5.0 0.2a2.5 2.0 2 1 0 -5.0 -0.2M413.5 371.3a2.2 1.7 176 1 0 -4.5 0.3a2.2 1.7 176 1 0 4.5 -0.3M416.0 318.1a2.5 2.4 68 1 0 1.9 4.7a2.5 2.4 68 1 0 -1.9 -4.7M439.8 278.8a2.3 1.4 152 1 0 -4.1 2.2a2.3 1.4 152 1 0 4.1 -2.2M430.3 306.7a2.1 1.3 124 1 0 -2.4 3.5a2.1 1.3 124 1 0 2.4 -3.5M441.7 307.0a3.0 2.0 171 1 0 -5.8 0.9a3.0 2.0 171 1 0 5.8 -0.9M449.5 288.4a2.2 1.9 141 1 0 -3.5 2.8a2.2 1.9 141 1 0 3.5 -2.8M449.2 295.5a2.5 1.9 108 1 0 -1.5 4.7a2.5 1.9 108 1 0 1.5 -4.7M423.5 341.8a2.3 2.1 80 1 0 0.8 4.5a2.3 2.1 80 1 0 -0.8 -4.5M442.2 328.1a3.1 2.3 98 1 0 -0.9 6.0a3.1 2.3 98 1 0 0.9 -6.0M452.9 325.0a2.1 1.9 118 1 0 -2.0 3.7a2.1 1.9 118 1 0 2.0 -3.7M461.4 314.8a3.2 2.2 113 1 0 -2.5 5.9a3.2 2.2 113 1 0 2.5 -5.9M447.5 322.9a2.0 1.6 67 1 0 1.6 3.8a2.0 1.6 67 1 0 -1.6 -3.8M455.6 323.6a2.3 1.7 126 1 0 -2.7 3.7a2.3 1.7 126 1 0 2.7 -3.7M448.4 320.4a1.9 1.3 13 1 0 3.8 0.9a1.9 1.3 13 1 0 -3.8 -0.9M452.7 320.8a2.9 2.5 48 1 0 3.9 4.3a2.9 2.5 48 1 0 -3.9 -4.3M426.0 374.9a2.1 1.3 16 1 0 4.1 1.2a2.1 1.3 16 1 0 -4.1 -1.2M456.3 360.3a1.9 1.2 96 1 0 -0.4 3.7a1.9 1.2 96 1 0 0.4 -3.7M452.6 370.3a2.6 1.8 95 1 0 -0.5 5.2a2.6 1.8 95 1 0 0.5 -5.2M453.9 351.7a1.9 1.2 165 1 0 -3.7 1.0a1.9 1.2 165 1 0 3.7 -1.0M450.0 357.6a1.9 1.5 36 1 0 3.1 2.2a1.9 1.5 36 1 0 -3.1 -2.2M454.8 371.0a2.4 1.5 177 1 0 -4.8 0.2a2.4 1.5 177 1 0 4.8 -0.2M455.3 372.2a2.2 1.7 161 1 0 -4.3 1.4a2.2 1.7 161 1 0 4.3 -1.4M452.0 360.7a2.4 1.9 40 1 0 3.6 3.0a2.4 1.9 40 1 0 -3.6 -3.0M439.2 341.2a2.6 2.1 14 1 0 5.0 1.3a2.6 2.1 14 1 0 -5.0 -1.3M481.8 289.9a2.2 1.9 2 1 0 4.4 0.1a2.2 1.9 2 1 0 -4.4 -0.1M479.6 286.4a2.4 1.8 137 1 0 -3.5 3.3a2.4 1.8 137 1 0 3.5 -3.3M485.6 290.0a2.9 2.3 110 1 0 -2.0 5.4a2.9 2.3 110 1 0 2.0 -5.4M483.7 289.7a3.1 2.4 155 1 0 -5.7 2.6a3.1 2.4 155 1 0 5.7 -2.6M483.4 291.9a2.5 1.7 126 1 0 -3.0 4.1a2.5 1.7 126 1 0 3.0 -4.1M498.0 315.3a2.7 1.9 97 1 0 -0.7 5.4a2.7 1.9 97 1 0 0.7 -5.4M499.7 313.0a2.7 1.7 152 1 0 -4.8 2.6a2.7 1.7 152 1 0 4.8 -2.6M478.2 319.3a2.5 2.2 41 1 0 3.7 3.3a2.5 2.2 41 1 0 -3.7 -3.3M500.0 327.6a3.1 2.6 120 1 0 -3.0 5.3a3.1 2.6 120 1 0 3.0 -5.3M492.7 327.4a2.2 1.8 167 1 0 -4.3 1.0a2.2 1.8 167 1 0 4.3 -1.0M470.6 325.3a1.8 1.3 169 1 0 -3.6 0.7a1.8 1.3 169 1 0 3.6 -0.7M498.5 317.0a2.4 2.4 177 1 0 -4.9 0.2a2.4 2.4 177 1 0 4.9 -0.2M472.4 319.8a2.8 2.0 56 1 0 3.1 4.6a2.8 2.0 56 1 0 -3.1 -4.6M474.3 321.5a2.0 1.4 43 1 0 2.9 2.7a2.0 1.4 43 1 0 -2.9 -2.7M490.1 326.5a2.8 2.6 110 1 0 -1.9 5.2a2.8 2.6 110 1 0 1.9 -5.2M466.9 339.2a2.6 2.0 112 1 0 -2.0 4.7a2.6 2.0 112 1 0 2.0 -4.7M474.1 340.2a2.1 1.9 55 1 0 2.5 3.5a2.1 1.9 55 1 0 -2.5 -3.5M477.5 338.7a2.1 1.4 61 1 0 2.0 3.7a2.1 1.4 61 1 0 -2.0 -3.7M464.1 347.3a2.2 1.9 33 1 0 3.7 2.3a2.2 1.9 33 1 0 -3.7 -2.3M480.5 335.1a2.9 1.8 90 1 0 -0.0 5.8a2.9 1.8 90 1 0 0.0 -5.8M494.9 333.7a3.2 3.1 107 1 0 -1.8 6.0a3.2 3.1 107 1 0 1.8 -6.0M495.1 345.2a2.4 2.3 1 1 0 4.8 0.1a2.4 2.3 1 1 0 -4.8 -0.1M461.5 350.7a2.1 1.4 31 1 0 3.5 2.1a2.1 1.4 31 1 0 -3.5 -2.1M460.2 369.8a2.7 2.7 121 1 0 -2.8 4.7a2.7 2.7 121 1 0 2.8 -4.7M502.1 345.5a1.9 1.4 22 1 0 3.4 1.4a1.9 1.4 22 1 0 -3.4 -1.4M472.5 308.1a2.7 1.8 179 1 0 -5.3 0.1a2.7 1.8 179 1 0 5.3 -0.1M470.8 302.5a2.7 2.2 63 1 0 2.4 4.7a2.7 2.2 63 1 0 -2.4 -4.7M489.6 352.4a2.3 1.4 114 1 0 -1.9 4.2a2.3 1.4 114 1 0 1.9 -4.2M493.1 366.3a3.2 2.5 73 1 0 1.8 6.1a3.2 2.5 73 1 0 -1.8 -6.1M496.1 370.0a3.1 2.4 120 1 0 -3.1 5.4a3.1 2.4 120 1 0 3.1 -5.4M395.7 370.7a2.7 2.6 86 1 0 0.3 5.4a2.7 2.6 86 1 0 -0.3 -5.4M384.8 370.9a1.9 1.8 10 1 0 3.8 0.7a1.9 1.8 10 1 0 -3.8 -0.7M388.9 365.5a1.9 1.7 156 1 0 -3.6 1.6a1.9 1.7 156 1 0 3.6 -1.6"/><path fill="#ae7058" fill-opacity="0.75" d="M386.0 286.9a2.8 2.7 71 1 0 1.8 5.3a2.8 2.7 71 1 0 -1.8 -5.3M378.1 331.5a2.6 2.0 93 1 0 -0.3 5.2a2.6 2.0 93 1 0 0.3 -5.2M389.9 315.3a2.2 2.0 86 1 0 0.3 4.3a2.2 2.0 86 1 0 -0.3 -4.3M380.4 331.9a2.5 1.6 58 1 0 2.7 4.3a2.5 1.6 58 1 0 -2.7 -4.3M379.2 304.5a2.0 1.2 175 1 0 -3.9 0.3a2.0 1.2 175 1 0 3.9 -0.3M377.6 345.8a2.0 1.8 121 1 0 -2.0 3.4a2.0 1.8 121 1 0 2.0 -3.4M382.9 306.6a2.2 1.5 127 1 0 -2.6 3.5a2.2 1.5 127 1 0 2.6 -3.5M383.6 311.7a3.0 2.3 73 1 0 1.7 5.7a3.0 2.3 73 1 0 -1.7 -5.7M389.4 298.1a2.1 1.8 19 1 0 3.9 1.4a2.1 1.8 19 1 0 -3.9 -1.4M388.5 350.1a2.8 2.5 62 1 0 2.6 4.9a2.8 2.5 62 1 0 -2.6 -4.9M375.9 306.7a2.8 1.9 57 1 0 3.0 4.7a2.8 1.9 57 1 0 -3.0 -4.7M389.5 307.6a2.5 1.8 162 1 0 -4.8 1.6a2.5 1.8 162 1 0 4.8 -1.6M381.0 310.1a3.0 2.6 158 1 0 -5.5 2.2a3.0 2.6 158 1 0 5.5 -2.2M393.9 343.6a2.5 2.1 7 1 0 4.9 0.6a2.5 2.1 7 1 0 -4.9 -0.6M379.1 349.4a1.9 1.5 40 1 0 2.9 2.5a1.9 1.5 40 1 0 -2.9 -2.5M384.0 351.8a2.5 2.5 40 1 0 3.8 3.2a2.5 2.5 40 1 0 -3.8 -3.2M378.3 317.8a2.3 2.1 135 1 0 -3.2 3.3a2.3 2.1 135 1 0 3.2 -3.3M382.5 310.7a3.1 2.9 109 1 0 -2.0 5.8a3.1 2.9 109 1 0 2.0 -5.8M389.7 305.8a3.1 2.1 69 1 0 2.2 5.8a3.1 2.1 69 1 0 -2.2 -5.8M401.3 287.6a1.9 1.5 153 1 0 -3.4 1.7a1.9 1.5 153 1 0 3.4 -1.7M415.5 349.3a2.6 1.7 95 1 0 -0.5 5.2a2.6 1.7 95 1 0 0.5 -5.2M422.7 349.6a3.1 2.0 127 1 0 -3.7 4.9a3.1 2.0 127 1 0 3.7 -4.9M418.4 330.9a2.7 1.8 131 1 0 -3.6 4.1a2.7 1.8 131 1 0 3.6 -4.1M417.4 290.5a2.9 2.3 60 1 0 2.9 5.0a2.9 2.3 60 1 0 -2.9 -5.0M419.2 347.4a2.2 1.6 138 1 0 -3.3 3.0a2.2 1.6 138 1 0 3.3 -3.0M411.5 304.9a3.0 2.1 44 1 0 4.3 4.2a3.0 2.1 44 1 0 -4.3 -4.2M417.3 331.8a2.0 1.9 138 1 0 -3.0 2.7a2.0 1.9 138 1 0 3.0 -2.7M414.1 304.2a2.5 1.9 121 1 0 -2.6 4.2a2.5 1.9 121 1 0 2.6 -4.2M442.7 280.6a2.1 2.0 128 1 0 -2.6 3.3a2.1 2.0 128 1 0 2.6 -3.3M450.1 300.4a2.0 1.6 164 1 0 -3.8 1.1a2.0 1.6 164 1 0 3.8 -1.1M453.9 308.6a2.0 1.5 27 1 0 3.5 1.8a2.0 1.5 27 1 0 -3.5 -1.8M443.9 289.9a3.1 2.3 86 1 0 0.5 6.2a3.1 2.3 86 1 0 -0.5 -6.2M459.0 301.6a2.9 2.4 127 1 0 -3.5 4.7a2.9 2.4 127 1 0 3.5 -4.7M443.3 288.2a3.0 2.7 36 1 0 4.8 3.5a3.0 2.7 36 1 0 -4.8 -3.5M446.1 306.4a2.5 2.3 38 1 0 3.9 3.1a2.5 2.3 38 1 0 -3.9 -3.1M447.0 302.9a2.4 2.1 24 1 0 4.5 2.0a2.4 2.1 24 1 0 -4.5 -2.0M428.9 284.8a2.3 1.4 80 1 0 0.8 4.6a2.3 1.4 80 1 0 -0.8 -4.6M458.4 305.4a3.2 3.0 128 1 0 -3.9 5.0a3.2 3.0 128 1 0 3.9 -5.0M451.8 308.4a3.0 2.3 134 1 0 -4.2 4.4a3.0 2.3 134 1 0 4.2 -4.4M430.9 282.9a2.8 2.1 127 1 0 -3.4 4.5a2.8 2.1 127 1 0 3.4 -4.5M446.2 320.9a2.5 1.6 99 1 0 -0.8 4.9a2.5 1.6 99 1 0 0.8 -4.9M450.8 319.4a3.1 2.5 130 1 0 -4.0 4.8a3.1 2.5 130 1 0 4.0 -4.8M454.9 323.6a2.2 2.0 80 1 0 0.8 4.4a2.2 2.0 80 1 0 -0.8 -4.4M449.7 325.2a1.8 1.3 35 1 0 3.0 2.1a1.8 1.3 35 1 0 -3.0 -2.1M443.5 326.9a2.8 2.2 156 1 0 -5.1 2.3a2.8 2.2 156 1 0 5.1 -2.3M424.2 367.4a2.1 1.5 155 1 0 -3.8 1.7a2.1 1.5 155 1 0 3.8 -1.7M453.1 354.4a1.9 1.7 91 1 0 -0.1 3.8a1.9 1.7 91 1 0 0.1 -3.8M430.3 353.0a2.6 1.9 161 1 0 -5.0 1.7a2.6 1.9 161 1 0 5.0 -1.7M427.2 368.9a2.2 1.6 58 1 0 2.3 3.7a2.2 1.6 58 1 0 -2.3 -3.7M452.0 350.9a2.3 2.1 39 1 0 3.5 2.9a2.3 2.1 39 1 0 -3.5 -2.9M424.7 373.0a3.0 1.9 59 1 0 3.0 5.1a3.0 1.9 59 1 0 -3.0 -5.1M489.7 286.3a2.8 1.8 25 1 0 5.1 2.4a2.8 1.8 25 1 0 -5.1 -2.4M498.1 287.4a2.8 2.1 16 1 0 5.5 1.6a2.8 2.1 16 1 0 -5.5 -1.6M496.6 283.7a2.7 1.7 37 1 0 4.3 3.3a2.7 1.7 37 1 0 -4.3 -3.3M497.9 289.5a1.9 1.3 15 1 0 3.6 1.0a1.9 1.3 15 1 0 -3.6 -1.0M490.8 278.1a2.4 1.4 82 1 0 0.7 4.7a2.4 1.4 82 1 0 -0.7 -4.7M487.1 282.2a3.1 3.0 54 1 0 3.6 5.0a3.1 3.0 54 1 0 -3.6 -5.0M487.8 293.4a2.3 2.1 55 1 0 2.6 3.7a2.3 2.1 55 1 0 -2.6 -3.7M474.2 320.6a2.8 2.3 127 1 0 -3.4 4.5a2.8 2.3 127 1 0 3.4 -4.5M499.6 327.6a2.0 1.9 18 1 0 3.9 1.3a2.0 1.9 18 1 0 -3.9 -1.3M483.0 326.0a3.0 2.9 114 1 0 -2.4 5.6a3.0 2.9 114 1 0 2.4 -5.6M496.5 314.2a3.0 2.6 59 1 0 3.1 5.1a3.0 2.6 59 1 0 -3.1 -5.1M493.0 326.5a2.0 1.5 6 1 0 3.9 0.4a2.0 1.5 6 1 0 -3.9 -0.4M487.6 333.1a2.3 1.8 29 1 0 4.0 2.2a2.3 1.8 29 1 0 -4.0 -2.2M498.5 342.3a2.5 1.8 115 1 0 -2.1 4.5a2.5 1.8 115 1 0 2.1 -4.5M493.2 342.6a3.0 1.9 167 1 0 -5.8 1.4a3.0 1.9 167 1 0 5.8 -1.4M478.2 336.6a1.9 1.3 168 1 0 -3.7 0.8a1.9 1.3 168 1 0 3.7 -0.8M460.2 371.4a2.9 2.3 16 1 0 5.6 1.6a2.9 2.3 16 1 0 -5.6 -1.6M463.0 374.2a1.8 1.4 79 1 0 0.7 3.5a1.8 1.4 79 1 0 -0.7 -3.5M472.8 294.9a2.5 1.9 28 1 0 4.4 2.3a2.5 1.9 28 1 0 -4.4 -2.3M468.4 298.2a2.8 2.0 139 1 0 -4.1 3.6a2.8 2.0 139 1 0 4.1 -3.6M464.0 294.5a3.0 2.2 23 1 0 5.5 2.3a3.0 2.2 23 1 0 -5.5 -2.3M463.4 299.8a2.9 2.0 96 1 0 -0.6 5.7a2.9 2.0 96 1 0 0.6 -5.7M501.2 369.3a3.1 2.5 151 1 0 -5.4 3.0a3.1 2.5 151 1 0 5.4 -3.0M390.0 369.0a3.1 2.5 1 1 0 6.2 0.1a3.1 2.5 1 1 0 -6.2 -0.1M401.2 370.6a3.1 2.0 148 1 0 -5.2 3.3a3.1 2.0 148 1 0 5.2 -3.3"/><path fill="#8a4a34" fill-opacity="1.0" d="M389.6 278.3a2.3 1.4 89 1 0 0.1 4.6a2.3 1.4 89 1 0 -0.1 -4.6M381.2 281.6a2.3 2.2 5 1 0 4.5 0.4a2.3 2.2 5 1 0 -4.5 -0.4M380.7 322.0a2.6 1.9 66 1 0 2.2 4.8a2.6 1.9 66 1 0 -2.2 -4.8M391.5 345.1a2.7 2.2 52 1 0 3.4 4.3a2.7 2.2 52 1 0 -3.4 -4.3M378.9 302.3a3.0 2.0 43 1 0 4.4 4.2a3.0 2.0 43 1 0 -4.4 -4.2M383.4 337.0a2.4 2.2 105 1 0 -1.3 4.6a2.4 2.2 105 1 0 1.3 -4.6M375.2 307.3a1.9 1.8 21 1 0 3.6 1.4a1.9 1.8 21 1 0 -3.6 -1.4M390.2 329.7a2.7 2.7 124 1 0 -3.0 4.5a2.7 2.7 124 1 0 3.0 -4.5M389.4 342.8a2.4 2.4 166 1 0 -4.6 1.2a2.4 2.4 166 1 0 4.6 -1.2M396.5 337.8a3.2 3.1 158 1 0 -5.9 2.4a3.2 3.1 158 1 0 5.9 -2.4M415.8 299.3a3.1 2.3 8 1 0 6.1 0.8a3.1 2.3 8 1 0 -6.1 -0.8M417.9 342.9a2.8 2.3 77 1 0 1.3 5.5a2.8 2.3 77 1 0 -1.3 -5.5M411.2 323.0a1.9 1.8 48 1 0 2.5 2.8a1.9 1.8 48 1 0 -2.5 -2.8M421.4 374.6a2.0 1.2 141 1 0 -3.2 2.6a2.0 1.2 141 1 0 3.2 -2.6M421.3 312.8a2.3 1.4 40 1 0 3.5 3.0a2.3 1.4 40 1 0 -3.5 -3.0M434.8 301.4a2.4 2.3 114 1 0 -1.9 4.3a2.4 2.3 114 1 0 1.9 -4.3M447.5 285.6a2.8 2.8 6 1 0 5.6 0.6a2.8 2.8 6 1 0 -5.6 -0.6M446.7 300.8a2.7 2.6 154 1 0 -4.9 2.4a2.7 2.6 154 1 0 4.9 -2.4M439.8 291.2a2.8 2.4 80 1 0 1.0 5.6a2.8 2.4 80 1 0 -1.0 -5.6M432.2 284.1a2.5 2.2 67 1 0 1.9 4.5a2.5 2.2 67 1 0 -1.9 -4.5M443.1 307.8a1.9 1.9 67 1 0 1.5 3.6a1.9 1.9 67 1 0 -1.5 -3.6M442.5 323.1a2.1 1.5 27 1 0 3.7 1.9a2.1 1.5 27 1 0 -3.7 -1.9M424.1 342.5a2.3 1.9 119 1 0 -2.3 4.0a2.3 1.9 119 1 0 2.3 -4.0M420.5 356.5a2.2 1.4 7 1 0 4.4 0.5a2.2 1.4 7 1 0 -4.4 -0.5M502.6 289.8a2.4 1.5 122 1 0 -2.6 4.0a2.4 1.5 122 1 0 2.6 -4.0M488.9 276.9a2.4 1.6 101 1 0 -0.9 4.6a2.4 1.6 101 1 0 0.9 -4.6M460.5 363.3a2.3 2.3 46 1 0 3.2 3.4a2.3 2.3 46 1 0 -3.2 -3.4M497.0 342.7a2.4 2.0 106 1 0 -1.3 4.6a2.4 2.0 106 1 0 1.3 -4.6M460.8 364.6a2.7 2.6 40 1 0 4.2 3.5a2.7 2.6 40 1 0 -4.2 -3.5M465.5 307.7a2.4 2.3 94 1 0 -0.3 4.9a2.4 2.3 94 1 0 0.3 -4.9M461.8 300.0a2.1 1.3 2 1 0 4.2 0.2a2.1 1.3 2 1 0 -4.2 -0.2M491.3 361.7a2.0 1.3 122 1 0 -2.1 3.4a2.0 1.3 122 1 0 2.1 -3.4M400.2 369.3a2.1 2.1 152 1 0 -3.8 2.0a2.1 2.1 152 1 0 3.8 -2.0"/><path fill="#b27a60" fill-opacity="1.0" d="M383.3 285.4a3.2 2.3 22 1 0 5.9 2.4a3.2 2.3 22 1 0 -5.9 -2.4M394.0 302.0a2.3 1.7 150 1 0 -3.9 2.2a2.3 1.7 150 1 0 3.9 -2.2M386.0 321.9a1.9 1.5 175 1 0 -3.8 0.3a1.9 1.5 175 1 0 3.8 -0.3M386.3 330.3a3.1 2.7 28 1 0 5.5 2.9a3.1 2.7 28 1 0 -5.5 -2.9M394.9 335.7a1.8 1.8 13 1 0 3.6 0.8a1.8 1.8 13 1 0 -3.6 -0.8M383.9 305.0a2.8 2.4 128 1 0 -3.5 4.4a2.8 2.4 128 1 0 3.5 -4.4M415.8 306.3a3.0 2.5 61 1 0 2.9 5.3a3.0 2.5 61 1 0 -2.9 -5.3M415.6 326.0a2.1 1.5 16 1 0 4.0 1.1a2.1 1.5 16 1 0 -4.0 -1.1M423.7 364.5a2.0 1.9 150 1 0 -3.5 2.0a2.0 1.9 150 1 0 3.5 -2.0M423.2 331.0a3.1 1.9 158 1 0 -5.8 2.4a3.1 1.9 158 1 0 5.8 -2.4M430.4 292.0a2.3 2.2 155 1 0 -4.3 2.0a2.3 2.2 155 1 0 4.3 -2.0M441.3 294.3a2.2 1.6 38 1 0 3.4 2.6a2.2 1.6 38 1 0 -3.4 -2.6M436.4 334.3a3.0 3.0 41 1 0 4.5 4.0a3.0 3.0 41 1 0 -4.5 -4.0M434.0 351.9a2.6 1.8 130 1 0 -3.3 3.9a2.6 1.8 130 1 0 3.3 -3.9M477.6 278.0a2.2 1.9 31 1 0 3.7 2.2a2.2 1.9 31 1 0 -3.7 -2.2M487.8 287.8a3.1 3.1 11 1 0 6.1 1.2a3.1 3.1 11 1 0 -6.1 -1.2M497.9 292.7a3.0 2.2 29 1 0 5.3 2.9a3.0 2.2 29 1 0 -5.3 -2.9M471.6 329.4a2.2 2.0 21 1 0 4.1 1.6a2.2 2.0 21 1 0 -4.1 -1.6M468.1 316.8a2.7 1.7 158 1 0 -5.0 2.0a2.7 1.7 158 1 0 5.0 -2.0M494.8 358.4a2.0 1.5 78 1 0 0.8 3.9a2.0 1.5 78 1 0 -0.8 -3.9M493.5 371.7a2.1 2.0 66 1 0 1.7 3.9a2.1 2.0 66 1 0 -1.7 -3.9M494.6 370.6a2.2 1.9 159 1 0 -4.2 1.6a2.2 1.9 159 1 0 4.2 -1.6M386.7 365.1a2.5 1.9 141 1 0 -3.9 3.1a2.5 1.9 141 1 0 3.9 -3.1M392.0 371.6a2.7 2.3 87 1 0 0.3 5.4a2.7 2.3 87 1 0 -0.3 -5.4M377.3 367.8a2.6 2.3 65 1 0 2.2 4.7a2.6 2.3 65 1 0 -2.2 -4.7"/><path fill="#b27a60" fill-opacity="0.75" d="M381.0 300.1a2.6 1.6 36 1 0 4.3 3.1a2.6 1.6 36 1 0 -4.3 -3.1M387.1 324.5a2.0 1.3 69 1 0 1.4 3.8a2.0 1.3 69 1 0 -1.4 -3.8M382.6 318.1a2.5 2.1 119 1 0 -2.4 4.5a2.5 2.1 119 1 0 2.4 -4.5M379.6 299.9a2.8 2.8 93 1 0 -0.3 5.7a2.8 2.8 93 1 0 0.3 -5.7M394.8 302.6a3.2 2.5 108 1 0 -2.0 6.1a3.2 2.5 108 1 0 2.0 -6.1M392.8 340.3a2.0 1.5 166 1 0 -3.9 1.0a2.0 1.5 166 1 0 3.9 -1.0M384.8 337.9a2.6 2.2 117 1 0 -2.4 4.7a2.6 2.2 117 1 0 2.4 -4.7M381.8 324.8a1.8 1.4 124 1 0 -2.1 3.0a1.8 1.4 124 1 0 2.1 -3.0M417.8 278.0a2.1 2.0 179 1 0 -4.1 0.0a2.1 2.0 179 1 0 4.1 -0.0M408.3 283.8a2.9 1.8 97 1 0 -0.7 5.7a2.9 1.8 97 1 0 0.7 -5.7M394.3 284.0a3.1 2.7 19 1 0 5.8 2.0a3.1 2.7 19 1 0 -5.8 -2.0M390.6 283.3a3.0 2.4 51 1 0 3.8 4.7a3.0 2.4 51 1 0 -3.8 -4.7M407.6 279.4a2.2 1.5 30 1 0 3.8 2.2a2.2 1.5 30 1 0 -3.8 -2.2M393.8 287.6a2.7 1.8 135 1 0 -3.8 3.7a2.7 1.8 135 1 0 3.8 -3.7M416.6 372.2a2.4 1.7 49 1 0 3.2 3.6a2.4 1.7 49 1 0 -3.2 -3.6M413.4 296.1a2.1 2.1 13 1 0 4.1 1.0a2.1 2.1 13 1 0 -4.1 -1.0M416.9 326.7a2.5 2.1 110 1 0 -1.7 4.7a2.5 2.1 110 1 0 1.7 -4.7M415.6 311.2a2.1 1.7 101 1 0 -0.8 4.1a2.1 1.7 101 1 0 0.8 -4.1M413.5 333.0a2.4 1.7 52 1 0 2.9 3.8a2.4 1.7 52 1 0 -2.9 -3.8M424.9 289.2a2.3 1.5 136 1 0 -3.3 3.2a2.3 1.5 136 1 0 3.3 -3.2M409.8 364.2a1.9 1.8 32 1 0 3.2 2.0a1.9 1.8 32 1 0 -3.2 -2.0M409.2 347.5a2.4 1.7 14 1 0 4.6 1.2a2.4 1.7 14 1 0 -4.6 -1.2M417.0 339.4a3.2 2.2 171 1 0 -6.2 1.0a3.2 2.2 171 1 0 6.2 -1.0M413.2 302.7a2.9 2.8 53 1 0 3.5 4.6a2.9 2.8 53 1 0 -3.5 -4.6M437.6 281.5a2.9 2.8 144 1 0 -4.7 3.5a2.9 2.8 144 1 0 4.7 -3.5M450.8 289.6a2.3 1.5 105 1 0 -1.2 4.5a2.3 1.5 105 1 0 1.2 -4.5M445.4 287.9a1.9 1.9 69 1 0 1.4 3.6a1.9 1.9 69 1 0 -1.4 -3.6M428.9 281.3a2.1 2.0 75 1 0 1.1 4.1a2.1 2.0 75 1 0 -1.1 -4.1M438.4 284.2a2.1 1.9 109 1 0 -1.4 4.1a2.1 1.9 109 1 0 1.4 -4.1M456.3 302.5a2.3 1.4 79 1 0 0.9 4.5a2.3 1.4 79 1 0 -0.9 -4.5M450.7 293.9a1.9 1.4 9 1 0 3.8 0.6a1.9 1.4 9 1 0 -3.8 -0.6M432.2 311.2a2.8 1.7 3 1 0 5.6 0.3a2.8 1.7 3 1 0 -5.6 -0.3M454.5 292.6a2.6 1.9 97 1 0 -0.6 5.1a2.6 1.9 97 1 0 0.6 -5.1M453.4 276.3a3.1 2.2 113 1 0 -2.4 5.6a3.1 2.2 113 1 0 2.4 -5.6M447.4 330.1a2.3 2.1 112 1 0 -1.7 4.2a2.3 2.1 112 1 0 1.7 -4.2M423.7 341.0a1.9 1.3 177 1 0 -3.7 0.2a1.9 1.3 177 1 0 3.7 -0.2M424.8 339.3a2.0 1.4 72 1 0 1.3 3.9a2.0 1.4 72 1 0 -1.3 -3.9M436.6 325.4a3.2 3.1 102 1 0 -1.3 6.2a3.2 3.1 102 1 0 1.3 -6.2M458.0 318.0a2.7 1.8 134 1 0 -3.8 3.9a2.7 1.8 134 1 0 3.8 -3.9M441.8 329.4a2.8 2.0 85 1 0 0.5 5.5a2.8 2.0 85 1 0 -0.5 -5.5M423.1 339.3a2.9 2.3 83 1 0 0.7 5.7a2.9 2.3 83 1 0 -0.7 -5.7M422.5 370.0a2.3 1.4 54 1 0 2.7 3.6a2.3 1.4 54 1 0 -2.7 -3.6M431.0 350.7a2.3 1.8 8 1 0 4.6 0.7a2.3 1.8 8 1 0 -4.6 -0.7M450.0 347.5a1.9 1.4 84 1 0 0.4 3.8a1.9 1.4 84 1 0 -0.4 -3.8M430.5 345.7a2.6 2.4 130 1 0 -3.3 3.9a2.6 2.4 130 1 0 3.3 -3.9M447.6 349.8a2.2 1.5 49 1 0 2.9 3.3a2.2 1.5 49 1 0 -2.9 -3.3M489.9 296.3a3.0 2.0 1 1 0 6.0 0.1a3.0 2.0 1 1 0 -6.0 -0.1M478.9 276.7a2.1 1.6 121 1 0 -2.1 3.5a2.1 1.6 121 1 0 2.1 -3.5M485.6 293.1a1.9 1.2 179 1 0 -3.8 0.1a1.9 1.2 179 1 0 3.8 -0.1M495.8 293.3a2.6 1.9 125 1 0 -2.9 4.2a2.6 1.9 125 1 0 2.9 -4.2M479.4 295.2a2.0 1.6 128 1 0 -2.5 3.2a2.0 1.6 128 1 0 2.5 -3.2M498.7 294.3a2.1 1.4 78 1 0 0.9 4.1a2.1 1.4 78 1 0 -0.9 -4.1M479.2 313.8a2.0 1.7 135 1 0 -2.8 2.8a2.0 1.7 135 1 0 2.8 -2.8M469.0 328.6a3.0 2.8 143 1 0 -4.8 3.6a3.0 2.8 143 1 0 4.8 -3.6M484.5 329.5a2.6 1.7 44 1 0 3.8 3.6a2.6 1.7 44 1 0 -3.8 -3.6M487.6 328.0a2.9 2.8 161 1 0 -5.5 1.9a2.9 2.8 161 1 0 5.5 -1.9M490.6 315.6a2.7 1.6 6 1 0 5.4 0.6a2.7 1.6 6 1 0 -5.4 -0.6M500.3 315.0a3.1 2.1 158 1 0 -5.7 2.4a3.1 2.1 158 1 0 5.7 -2.4M486.7 322.0a3.1 2.4 9 1 0 6.0 0.9a3.1 2.4 9 1 0 -6.0 -0.9M474.4 326.2a2.0 1.7 174 1 0 -3.9 0.4a2.0 1.7 174 1 0 3.9 -0.4M500.1 311.8a2.4 1.7 116 1 0 -2.1 4.4a2.4 1.7 116 1 0 2.1 -4.4M459.8 370.6a2.6 2.4 66 1 0 2.1 4.7a2.6 2.4 66 1 0 -2.1 -4.7M501.0 342.4a2.3 1.9 176 1 0 -4.5 0.3a2.3 1.9 176 1 0 4.5 -0.3M463.7 343.0a3.1 2.3 83 1 0 0.7 6.2a3.1 2.3 83 1 0 -0.7 -6.2M463.6 369.3a2.9 2.3 26 1 0 5.2 2.6a2.9 2.3 26 1 0 -5.2 -2.6M489.5 334.4a2.7 2.5 21 1 0 5.0 1.9a2.7 2.5 21 1 0 -5.0 -1.9M463.3 300.6a3.2 2.9 47 1 0 4.3 4.6a3.2 2.9 47 1 0 -4.3 -4.6M472.0 292.4a2.7 2.6 59 1 0 2.8 4.7a2.7 2.6 59 1 0 -2.8 -4.7M461.0 291.4a2.7 2.5 44 1 0 3.9 3.7a2.7 2.5 44 1 0 -3.9 -3.7M472.2 304.9a2.8 2.2 46 1 0 3.9 4.0a2.8 2.2 46 1 0 -3.9 -4.0M493.6 366.8a2.9 2.7 128 1 0 -3.6 4.6a2.9 2.7 128 1 0 3.6 -4.6M503.9 356.6a2.4 2.3 168 1 0 -4.7 1.0a2.4 2.3 168 1 0 4.7 -1.0M503.6 355.0a2.8 2.3 139 1 0 -4.3 3.7a2.8 2.3 139 1 0 4.3 -3.7M498.3 368.8a2.6 1.8 85 1 0 0.4 5.1a2.6 1.8 85 1 0 -0.4 -5.1M502.6 362.8a2.7 2.1 109 1 0 -1.8 5.1a2.7 2.1 109 1 0 1.8 -5.1M494.0 363.0a2.3 1.8 26 1 0 4.2 2.0a2.3 1.8 26 1 0 -4.2 -2.0M499.5 366.9a1.9 1.7 140 1 0 -2.9 2.5a1.9 1.7 140 1 0 2.9 -2.5M401.1 372.7a2.0 1.6 164 1 0 -3.9 1.1a2.0 1.6 164 1 0 3.9 -1.1M387.5 367.0a2.5 2.3 13 1 0 4.8 1.1a2.5 2.3 13 1 0 -4.8 -1.1M386.1 372.2a2.8 2.4 106 1 0 -1.5 5.5a2.8 2.4 106 1 0 1.5 -5.5"/><path fill="#a4684c" fill-opacity="1.0" d="M380.7 335.5a3.2 2.3 65 1 0 2.7 5.7a3.2 2.3 65 1 0 -2.7 -5.7M394.3 349.9a2.7 2.5 12 1 0 5.3 1.2a2.7 2.5 12 1 0 -5.3 -1.2M379.8 318.9a2.1 1.7 102 1 0 -0.9 4.0a2.1 1.7 102 1 0 0.9 -4.0M402.5 285.7a2.4 2.0 150 1 0 -4.2 2.4a2.4 2.0 150 1 0 4.2 -2.4M408.6 277.3a2.7 2.3 159 1 0 -5.1 2.0a2.7 2.3 159 1 0 5.1 -2.0M421.0 307.3a2.9 2.8 120 1 0 -2.9 5.0a2.9 2.8 120 1 0 2.9 -5.0M415.2 323.8a2.8 1.9 47 1 0 3.8 4.1a2.8 1.9 47 1 0 -3.8 -4.1M428.8 278.1a3.1 2.4 19 1 0 6.0 2.0a3.1 2.4 19 1 0 -6.0 -2.0M432.4 344.6a1.9 1.6 49 1 0 2.4 2.8a1.9 1.6 49 1 0 -2.4 -2.8M424.4 370.1a2.2 1.8 144 1 0 -3.6 2.6a2.2 1.8 144 1 0 3.6 -2.6M443.0 342.8a1.9 1.5 127 1 0 -2.3 3.1a1.9 1.5 127 1 0 2.3 -3.1M482.7 287.9a2.3 1.9 21 1 0 4.3 1.7a2.3 1.9 21 1 0 -4.3 -1.7M485.8 321.7a1.9 1.4 148 1 0 -3.1 2.0a1.9 1.4 148 1 0 3.1 -2.0M502.8 344.2a1.8 1.7 118 1 0 -1.7 3.2a1.8 1.7 118 1 0 1.7 -3.2M498.6 346.5a2.3 1.7 60 1 0 2.3 4.1a2.3 1.7 60 1 0 -2.3 -4.1M467.9 361.7a2.7 2.4 161 1 0 -5.2 1.8a2.7 2.4 161 1 0 5.2 -1.8M471.1 306.6a2.1 1.7 117 1 0 -1.9 3.7a2.1 1.7 117 1 0 1.9 -3.7"/><path fill="#a26248" fill-opacity="1.0" d="M390.0 333.1a1.9 1.6 84 1 0 0.4 3.7a1.9 1.6 84 1 0 -0.4 -3.7M375.1 329.5a2.6 2.0 50 1 0 3.3 4.0a2.6 2.0 50 1 0 -3.3 -4.0M411.9 292.1a2.9 2.4 54 1 0 3.3 4.7a2.9 2.4 54 1 0 -3.3 -4.7M409.7 324.1a1.8 1.7 24 1 0 3.3 1.4a1.8 1.7 24 1 0 -3.3 -1.4M422.0 349.2a2.3 1.4 100 1 0 -0.8 4.6a2.3 1.4 100 1 0 0.8 -4.6M416.1 336.8a2.1 1.7 92 1 0 -0.1 4.2a2.1 1.7 92 1 0 0.1 -4.2M412.1 318.5a3.0 2.8 60 1 0 3.0 5.2a3.0 2.8 60 1 0 -3.0 -5.2M419.4 342.3a1.8 1.6 78 1 0 0.7 3.6a1.8 1.6 78 1 0 -0.7 -3.6M422.0 294.3a1.9 1.2 130 1 0 -2.5 3.0a1.9 1.2 130 1 0 2.5 -3.0M443.0 310.4a2.5 2.3 55 1 0 2.9 4.2a2.5 2.3 55 1 0 -2.9 -4.2M441.7 301.8a2.1 1.9 23 1 0 3.8 1.6a2.1 1.9 23 1 0 -3.8 -1.6M430.3 333.6a2.7 2.5 124 1 0 -3.1 4.5a2.7 2.5 124 1 0 3.1 -4.5M451.5 325.5a2.0 1.3 171 1 0 -3.9 0.6a2.0 1.3 171 1 0 3.9 -0.6M419.3 363.5a2.4 2.0 5 1 0 4.8 0.5a2.4 2.0 5 1 0 -4.8 -0.5M445.2 348.2a2.0 1.5 128 1 0 -2.4 3.1a2.0 1.5 128 1 0 2.4 -3.1M448.8 344.5a2.2 1.6 163 1 0 -4.1 1.2a2.2 1.6 163 1 0 4.1 -1.2M450.4 370.3a1.9 1.1 5 1 0 3.7 0.4a1.9 1.1 5 1 0 -3.7 -0.4M435.9 342.2a3.0 2.0 148 1 0 -5.2 3.2a3.0 2.0 148 1 0 5.2 -3.2M455.2 354.4a2.0 1.9 84 1 0 0.4 4.0a2.0 1.9 84 1 0 -0.4 -4.0M450.0 359.6a1.9 1.3 40 1 0 2.9 2.5a1.9 1.3 40 1 0 -2.9 -2.5M496.7 294.5a2.6 1.9 27 1 0 4.6 2.3a2.6 1.9 27 1 0 -4.6 -2.3M489.8 296.1a3.1 2.0 179 1 0 -6.2 0.2a3.1 2.0 179 1 0 6.2 -0.2M467.7 341.9a2.0 1.3 37 1 0 3.3 2.5a2.0 1.3 37 1 0 -3.3 -2.5M461.3 351.5a2.4 2.0 28 1 0 4.1 2.2a2.4 2.0 28 1 0 -4.1 -2.2M470.1 296.2a2.8 1.8 47 1 0 3.8 4.2a2.8 1.8 47 1 0 -3.8 -4.2M464.4 305.9a2.8 2.2 33 1 0 4.8 3.0a2.8 2.2 33 1 0 -4.8 -3.0M490.7 358.7a2.8 2.7 75 1 0 1.4 5.4a2.8 2.7 75 1 0 -1.4 -5.4M378.6 365.7a2.3 1.7 83 1 0 0.5 4.6a2.3 1.7 83 1 0 -0.5 -4.6M389.3 362.5a3.1 2.1 140 1 0 -4.8 4.0a3.1 2.1 140 1 0 4.8 -4.0M389.1 372.0a2.6 1.9 81 1 0 0.8 5.1a2.6 1.9 81 1 0 -0.8 -5.1M388.3 367.1a2.1 1.6 8 1 0 4.1 0.6a2.1 1.6 8 1 0 -4.1 -0.6"/><path fill="#9a5a40" fill-opacity="1.0" d="M392.5 313.4a2.5 2.1 172 1 0 -4.9 0.7a2.5 2.1 172 1 0 4.9 -0.7M393.5 346.3a3.2 2.0 44 1 0 4.5 4.4a3.2 2.0 44 1 0 -4.5 -4.4M379.0 325.1a2.1 1.3 97 1 0 -0.5 4.2a2.1 1.3 97 1 0 0.5 -4.2M396.2 345.7a1.8 1.5 155 1 0 -3.3 1.5a1.8 1.5 155 1 0 3.3 -1.5M387.5 326.0a2.4 1.7 95 1 0 -0.5 4.9a2.4 1.7 95 1 0 0.5 -4.9M377.7 315.5a2.3 1.7 125 1 0 -2.6 3.7a2.3 1.7 125 1 0 2.6 -3.7M387.7 302.3a1.9 1.6 43 1 0 2.8 2.6a1.9 1.6 43 1 0 -2.8 -2.6M394.4 302.6a2.7 1.7 151 1 0 -4.7 2.6a2.7 1.7 151 1 0 4.7 -2.6M421.4 350.8a2.7 2.4 126 1 0 -3.1 4.3a2.7 2.4 126 1 0 3.1 -4.3M418.2 321.1a1.8 1.6 139 1 0 -2.8 2.4a1.8 1.6 139 1 0 2.8 -2.4M436.7 306.0a2.6 2.4 30 1 0 4.5 2.5a2.6 2.4 30 1 0 -4.5 -2.5M430.0 307.0a2.9 2.2 103 1 0 -1.3 5.7a2.9 2.2 103 1 0 1.3 -5.7M442.5 308.0a2.6 1.8 180 1 0 -5.2 0.0a2.6 1.8 180 1 0 5.2 -0.0M449.4 291.0a2.3 2.2 83 1 0 0.6 4.6a2.3 2.2 83 1 0 -0.6 -4.6M436.1 304.1a2.0 1.9 9 1 0 4.0 0.6a2.0 1.9 9 1 0 -4.0 -0.6M428.1 300.8a2.8 2.0 8 1 0 5.5 0.8a2.8 2.0 8 1 0 -5.5 -0.8M430.9 302.7a2.9 1.9 28 1 0 5.1 2.7a2.9 1.9 28 1 0 -5.1 -2.7M453.6 348.0a2.2 1.5 167 1 0 -4.3 1.0a2.2 1.5 167 1 0 4.3 -1.0M494.9 286.2a1.9 1.9 14 1 0 3.7 0.9a1.9 1.9 14 1 0 -3.7 -0.9M496.4 282.1a2.1 1.3 89 1 0 0.1 4.1a2.1 1.3 89 1 0 -0.1 -4.1M497.0 280.6a3.1 1.9 91 1 0 -0.1 6.1a3.1 1.9 91 1 0 0.1 -6.1M498.9 328.6a2.3 2.0 101 1 0 -0.8 4.5a2.3 2.0 101 1 0 0.8 -4.5M489.0 322.7a2.9 1.9 80 1 0 1.0 5.7a2.9 1.9 80 1 0 -1.0 -5.7M473.9 315.9a2.2 1.5 173 1 0 -4.5 0.6a2.2 1.5 173 1 0 4.5 -0.6M476.5 336.9a2.8 1.7 94 1 0 -0.4 5.5a2.8 1.7 94 1 0 0.4 -5.5M464.3 366.0a2.0 1.3 17 1 0 3.7 1.2a2.0 1.3 17 1 0 -3.7 -1.2M467.4 340.0a2.2 1.6 160 1 0 -4.1 1.5a2.2 1.6 160 1 0 4.1 -1.5M475.2 338.1a1.9 1.6 63 1 0 1.7 3.4a1.9 1.6 63 1 0 -1.7 -3.4M488.8 339.9a2.1 1.3 100 1 0 -0.7 4.1a2.1 1.3 100 1 0 0.7 -4.1M481.8 334.5a2.4 1.9 46 1 0 3.4 3.5a2.4 1.9 46 1 0 -3.4 -3.5M462.1 307.6a1.9 1.3 86 1 0 0.2 3.7a1.9 1.3 86 1 0 -0.2 -3.7M494.6 365.5a2.6 1.9 80 1 0 0.9 5.1a2.6 1.9 80 1 0 -0.9 -5.1"/><path fill="#a26248" fill-opacity="0.75" d="M377.6 324.7a2.7 1.9 59 1 0 2.8 4.7a2.7 1.9 59 1 0 -2.8 -4.7M387.5 344.3a2.7 2.1 101 1 0 -1.0 5.3a2.7 2.1 101 1 0 1.0 -5.3M384.7 306.2a2.3 1.5 100 1 0 -0.8 4.5a2.3 1.5 100 1 0 0.8 -4.5M394.4 332.0a2.4 1.8 89 1 0 0.1 4.8a2.4 1.8 89 1 0 -0.1 -4.8M395.9 317.1a2.9 2.6 53 1 0 3.5 4.6a2.9 2.6 53 1 0 -3.5 -4.6M383.8 305.2a2.9 2.3 80 1 0 1.0 5.8a2.9 2.3 80 1 0 -1.0 -5.8M374.2 306.5a2.9 2.7 17 1 0 5.5 1.6a2.9 2.7 17 1 0 -5.5 -1.6M377.7 323.5a2.7 2.4 73 1 0 1.6 5.2a2.7 2.4 73 1 0 -1.6 -5.2M375.9 339.8a2.2 1.7 62 1 0 2.0 3.9a2.2 1.7 62 1 0 -2.0 -3.9M387.7 320.5a2.5 1.7 33 1 0 4.2 2.7a2.5 1.7 33 1 0 -4.2 -2.7M399.0 283.2a1.8 1.4 32 1 0 3.1 1.9a1.8 1.4 32 1 0 -3.1 -1.9M417.0 319.0a2.0 1.6 58 1 0 2.1 3.3a2.0 1.6 58 1 0 -2.1 -3.3M416.5 325.1a3.1 2.5 66 1 0 2.5 5.6a3.1 2.5 66 1 0 -2.5 -5.6M415.7 333.9a2.2 1.6 86 1 0 0.3 4.5a2.2 1.6 86 1 0 -0.3 -4.5M411.9 355.9a2.3 2.2 80 1 0 0.8 4.6a2.3 2.2 80 1 0 -0.8 -4.6M412.8 327.6a2.2 1.6 24 1 0 4.1 1.8a2.2 1.6 24 1 0 -4.1 -1.8M415.2 354.6a2.5 2.1 15 1 0 4.9 1.3a2.5 2.1 15 1 0 -4.9 -1.3M422.2 288.4a2.4 1.8 57 1 0 2.5 4.0a2.4 1.8 57 1 0 -2.5 -4.0M416.1 303.7a2.0 2.0 163 1 0 -3.9 1.2a2.0 2.0 163 1 0 3.9 -1.2M418.2 284.6a2.4 1.9 117 1 0 -2.2 4.3a2.4 1.9 117 1 0 2.2 -4.3M420.9 292.7a1.9 1.8 51 1 0 2.4 3.0a1.9 1.8 51 1 0 -2.4 -3.0M423.3 289.6a2.4 1.6 160 1 0 -4.5 1.6a2.4 1.6 160 1 0 4.5 -1.6M417.8 352.0a3.0 3.0 16 1 0 5.7 1.6a3.0 3.0 16 1 0 -5.7 -1.6M413.8 360.6a2.6 1.8 128 1 0 -3.2 4.1a2.6 1.8 128 1 0 3.2 -4.1M421.2 357.1a2.6 1.7 77 1 0 1.2 5.1a2.6 1.7 77 1 0 -1.2 -5.1M416.5 318.3a2.4 2.1 158 1 0 -4.5 1.8a2.4 2.1 158 1 0 4.5 -1.8M413.3 341.3a2.1 2.0 0 1 0 4.2 0.0a2.1 2.0 0 1 0 -4.2 -0.0M422.2 306.7a3.0 2.6 116 1 0 -2.6 5.3a3.0 2.6 116 1 0 2.6 -5.3M434.1 303.9a2.9 2.9 85 1 0 0.6 5.9a2.9 2.9 85 1 0 -0.6 -5.9M435.4 279.6a2.2 1.3 51 1 0 2.7 3.3a2.2 1.3 51 1 0 -2.7 -3.3M459.0 297.7a3.1 2.5 136 1 0 -4.5 4.4a3.1 2.5 136 1 0 4.5 -4.4M445.0 292.8a2.8 2.2 145 1 0 -4.7 3.2a2.8 2.2 145 1 0 4.7 -3.2M454.0 292.6a3.2 3.0 155 1 0 -5.8 2.7a3.2 3.0 155 1 0 5.8 -2.7M448.1 284.8a3.1 2.1 80 1 0 1.0 6.1a3.1 2.1 80 1 0 -1.0 -6.1M455.3 289.5a1.9 1.9 92 1 0 -0.1 3.9a1.9 1.9 92 1 0 0.1 -3.9M444.8 293.8a2.8 2.6 76 1 0 1.3 5.4a2.8 2.6 76 1 0 -1.3 -5.4M450.2 295.1a2.5 1.6 138 1 0 -3.7 3.3a2.5 1.6 138 1 0 3.7 -3.3M447.0 297.8a2.9 2.6 90 1 0 0.0 5.7a2.9 2.6 90 1 0 -0.0 -5.7M442.4 288.2a3.2 3.1 24 1 0 5.8 2.5a3.2 3.1 24 1 0 -5.8 -2.5M447.4 287.8a2.6 1.7 109 1 0 -1.7 5.0a2.6 1.7 109 1 0 1.7 -5.0M440.1 297.2a2.3 1.9 152 1 0 -4.1 2.2a2.3 1.9 152 1 0 4.1 -2.2M438.2 289.2a2.4 2.4 120 1 0 -2.4 4.2a2.4 2.4 120 1 0 2.4 -4.2M433.9 299.0a2.4 2.3 116 1 0 -2.1 4.3a2.4 2.3 116 1 0 2.1 -4.3M444.4 306.4a2.6 1.6 51 1 0 3.2 4.0a2.6 1.6 51 1 0 -3.2 -4.0M455.2 317.3a3.0 2.2 124 1 0 -3.4 5.0a3.0 2.2 124 1 0 3.4 -5.0M443.6 330.1a2.8 2.5 49 1 0 3.7 4.3a2.8 2.5 49 1 0 -3.7 -4.3M452.3 322.3a2.1 1.7 51 1 0 2.6 3.2a2.1 1.7 51 1 0 -2.6 -3.2M431.3 338.0a2.8 1.8 178 1 0 -5.6 0.2a2.8 1.8 178 1 0 5.6 -0.2M431.8 332.8a2.0 1.8 58 1 0 2.1 3.3a2.0 1.8 58 1 0 -2.1 -3.3M429.8 359.3a2.0 1.8 141 1 0 -3.1 2.5a2.0 1.8 141 1 0 3.1 -2.5M442.4 343.8a2.8 2.7 144 1 0 -4.5 3.3a2.8 2.7 144 1 0 4.5 -3.3M453.5 368.9a2.5 1.6 2 1 0 5.1 0.2a2.5 1.6 2 1 0 -5.1 -0.2M437.9 345.0a3.0 2.6 113 1 0 -2.4 5.5a3.0 2.6 113 1 0 2.4 -5.5M424.2 362.2a3.1 2.6 126 1 0 -3.6 5.0a3.1 2.6 126 1 0 3.6 -5.0M455.3 368.3a1.9 1.4 150 1 0 -3.3 1.9a1.9 1.4 150 1 0 3.3 -1.9M491.5 275.7a3.1 3.0 117 1 0 -2.8 5.6a3.1 3.0 117 1 0 2.8 -5.6M501.8 293.8a2.6 2.3 171 1 0 -5.1 0.9a2.6 2.3 171 1 0 5.1 -0.9M482.6 276.9a2.8 2.6 23 1 0 5.1 2.2a2.8 2.6 23 1 0 -5.1 -2.2M484.4 293.5a3.0 2.7 128 1 0 -3.7 4.7a3.0 2.7 128 1 0 3.7 -4.7M491.4 282.9a2.2 1.4 140 1 0 -3.3 2.8a2.2 1.4 140 1 0 3.3 -2.8M474.7 322.5a2.4 2.4 168 1 0 -4.7 1.0a2.4 2.4 168 1 0 4.7 -1.0M463.3 319.1a2.5 2.5 5 1 0 5.1 0.4a2.5 2.5 5 1 0 -5.1 -0.4M491.7 316.1a2.6 2.5 59 1 0 2.7 4.4a2.6 2.5 59 1 0 -2.7 -4.4M459.8 349.5a2.8 2.7 63 1 0 2.6 5.0a2.8 2.7 63 1 0 -2.6 -5.0M459.5 371.9a2.0 1.7 74 1 0 1.1 3.8a2.0 1.7 74 1 0 -1.1 -3.8M481.6 335.9a2.8 2.5 55 1 0 3.2 4.5a2.8 2.5 55 1 0 -3.2 -4.5M477.2 337.4a2.9 2.6 163 1 0 -5.5 1.7a2.9 2.6 163 1 0 5.5 -1.7M472.7 341.8a2.2 1.5 117 1 0 -2.0 3.9a2.2 1.5 117 1 0 2.0 -3.9M497.8 335.3a2.2 1.6 157 1 0 -4.0 1.7a2.2 1.6 157 1 0 4.0 -1.7M461.2 309.3a2.0 1.5 22 1 0 3.7 1.5a2.0 1.5 22 1 0 -3.7 -1.5M471.8 293.6a2.9 1.9 149 1 0 -4.9 3.0a2.9 1.9 149 1 0 4.9 -3.0M474.0 305.2a2.8 1.7 94 1 0 -0.3 5.7a2.8 1.7 94 1 0 0.3 -5.7M495.5 363.5a2.9 2.8 156 1 0 -5.2 2.3a2.9 2.8 156 1 0 5.2 -2.3M497.1 362.5a1.9 1.7 1 1 0 3.7 0.0a1.9 1.7 1 1 0 -3.7 -0.0M384.5 371.6a2.3 1.9 49 1 0 3.0 3.5a2.3 1.9 49 1 0 -3.0 -3.5M385.6 370.9a2.3 1.7 92 1 0 -0.2 4.5a2.3 1.7 92 1 0 0.2 -4.5M379.1 368.0a2.8 2.3 65 1 0 2.4 5.0a2.8 2.3 65 1 0 -2.4 -5.0M387.6 361.9a3.1 2.9 96 1 0 -0.7 6.2a3.1 2.9 96 1 0 0.7 -6.2"/><path fill="#ae7058" fill-opacity="1.0" d="M378.5 343.1a3.0 2.0 50 1 0 3.8 4.6a3.0 2.0 50 1 0 -3.8 -4.6M391.5 324.9a3.0 3.0 81 1 0 1.0 6.0a3.0 3.0 81 1 0 -1.0 -6.0M393.0 351.2a2.0 1.8 132 1 0 -2.7 3.0a2.0 1.8 132 1 0 2.7 -3.0M383.0 342.7a1.9 1.5 45 1 0 2.7 2.7a1.9 1.5 45 1 0 -2.7 -2.7M381.6 340.8a2.6 2.5 134 1 0 -3.6 3.7a2.6 2.5 134 1 0 3.6 -3.7M379.1 344.3a2.4 2.0 136 1 0 -3.5 3.4a2.4 2.0 136 1 0 3.5 -3.4M382.1 321.2a1.9 1.2 88 1 0 0.2 3.8a1.9 1.2 88 1 0 -0.2 -3.8M392.0 283.0a2.2 1.4 60 1 0 2.2 3.8a2.2 1.4 60 1 0 -2.2 -3.8M411.1 280.7a2.4 1.8 130 1 0 -3.1 3.7a2.4 1.8 130 1 0 3.1 -3.7M420.7 322.0a1.8 1.3 131 1 0 -2.4 2.7a1.8 1.3 131 1 0 2.4 -2.7M422.0 349.3a3.1 2.1 160 1 0 -5.8 2.1a3.1 2.1 160 1 0 5.8 -2.1M423.4 297.8a3.1 2.1 178 1 0 -6.2 0.2a3.1 2.1 178 1 0 6.2 -0.2M420.8 325.1a3.1 2.8 37 1 0 4.9 3.7a3.1 2.8 37 1 0 -4.9 -3.7M437.2 294.8a2.6 2.3 57 1 0 2.8 4.4a2.6 2.3 57 1 0 -2.8 -4.4M438.8 333.0a2.0 1.5 100 1 0 -0.7 3.9a2.0 1.5 100 1 0 0.7 -3.9M458.5 358.7a2.3 1.5 87 1 0 0.3 4.6a2.3 1.5 87 1 0 -0.3 -4.6M481.5 293.2a2.5 1.9 154 1 0 -4.6 2.2a2.5 1.9 154 1 0 4.6 -2.2M473.0 317.5a2.0 1.6 26 1 0 3.5 1.7a2.0 1.6 26 1 0 -3.5 -1.7M464.6 329.2a2.7 1.8 2 1 0 5.3 0.2a2.7 1.8 2 1 0 -5.3 -0.2M464.0 315.7a2.0 1.9 33 1 0 3.4 2.2a2.0 1.9 33 1 0 -3.4 -2.2M469.5 328.0a2.1 1.8 70 1 0 1.4 3.9a2.1 1.8 70 1 0 -1.4 -3.9M471.5 306.8a3.0 2.4 169 1 0 -5.9 1.2a3.0 2.4 169 1 0 5.9 -1.2M468.3 300.0a2.9 2.2 63 1 0 2.6 5.1a2.9 2.2 63 1 0 -2.6 -5.1M488.6 362.1a2.0 1.3 27 1 0 3.6 1.8a2.0 1.3 27 1 0 -3.6 -1.8M397.6 362.8a3.0 2.2 83 1 0 0.7 6.0a3.0 2.2 83 1 0 -0.7 -6.0M386.5 364.2a3.0 2.5 99 1 0 -0.9 5.9a3.0 2.5 99 1 0 0.9 -5.9"/><path fill="#a4684c" fill-opacity="0.75" d="M386.3 321.4a2.4 1.8 166 1 0 -4.6 1.2a2.4 1.8 166 1 0 4.6 -1.2M383.7 310.2a2.9 2.0 103 1 0 -1.3 5.7a2.9 2.0 103 1 0 1.3 -5.7M384.6 299.0a2.7 2.4 88 1 0 0.2 5.4a2.7 2.4 88 1 0 -0.2 -5.4M394.8 330.9a2.7 2.1 177 1 0 -5.5 0.3a2.7 2.1 177 1 0 5.5 -0.3M398.2 352.1a2.0 1.4 118 1 0 -1.9 3.4a2.0 1.4 118 1 0 1.9 -3.4M379.5 320.9a2.4 1.4 174 1 0 -4.7 0.5a2.4 1.4 174 1 0 4.7 -0.5M396.6 332.0a1.8 1.1 16 1 0 3.5 1.0a1.8 1.1 16 1 0 -3.5 -1.0M384.0 349.1a2.7 2.7 0 1 0 5.4 0.0a2.7 2.7 0 1 0 -5.4 -0.0M382.0 321.9a1.9 1.3 30 1 0 3.3 1.9a1.9 1.3 30 1 0 -3.3 -1.9M393.6 303.2a2.4 2.3 80 1 0 0.8 4.8a2.4 2.3 80 1 0 -0.8 -4.8M376.6 309.9a3.2 2.0 41 1 0 4.8 4.2a3.2 2.0 41 1 0 -4.8 -4.2M380.1 310.2a3.1 2.1 163 1 0 -6.0 1.8a3.1 2.1 163 1 0 6.0 -1.8M397.2 289.8a2.8 2.1 155 1 0 -5.1 2.4a2.8 2.1 155 1 0 5.1 -2.4M414.1 276.6a2.6 1.6 111 1 0 -1.9 5.0a2.6 1.6 111 1 0 1.9 -5.0M414.5 281.9a2.9 2.2 88 1 0 0.2 5.8a2.9 2.2 88 1 0 -0.2 -5.8M402.5 285.9a2.2 2.1 123 1 0 -2.4 3.6a2.2 2.1 123 1 0 2.4 -3.6M410.5 333.6a2.7 2.3 29 1 0 4.8 2.7a2.7 2.3 29 1 0 -4.8 -2.7M417.2 324.4a2.1 1.3 39 1 0 3.3 2.7a2.1 1.3 39 1 0 -3.3 -2.7M414.6 343.1a2.0 1.7 43 1 0 2.9 2.7a2.0 1.7 43 1 0 -2.9 -2.7M422.2 309.4a3.0 2.9 78 1 0 1.2 5.9a3.0 2.9 78 1 0 -1.2 -5.9M422.8 301.5a3.2 2.0 156 1 0 -5.8 2.6a3.2 2.0 156 1 0 5.8 -2.6M423.6 306.6a3.2 3.1 113 1 0 -2.4 5.9a3.2 3.1 113 1 0 2.4 -5.9M417.2 338.0a3.1 2.6 141 1 0 -4.8 3.9a3.1 2.6 141 1 0 4.8 -3.9M415.8 301.0a2.8 2.6 117 1 0 -2.6 5.0a2.8 2.6 117 1 0 2.6 -5.0M412.9 304.8a2.6 1.8 115 1 0 -2.2 4.6a2.6 1.8 115 1 0 2.2 -4.6M443.5 280.8a3.2 2.6 133 1 0 -4.3 4.6a3.2 2.6 133 1 0 4.3 -4.6M445.9 286.0a2.9 1.8 107 1 0 -1.7 5.6a2.9 1.8 107 1 0 1.7 -5.6M435.9 279.8a3.0 2.3 62 1 0 2.9 5.3a3.0 2.3 62 1 0 -2.9 -5.3M454.9 308.8a2.6 1.8 164 1 0 -5.0 1.4a2.6 1.8 164 1 0 5.0 -1.4M445.7 280.7a1.9 1.6 1 1 0 3.8 0.0a1.9 1.6 1 1 0 -3.8 -0.0M429.6 276.9a2.7 1.7 95 1 0 -0.5 5.4a2.7 1.7 95 1 0 0.5 -5.4M429.8 279.4a2.2 1.5 132 1 0 -3.0 3.4a2.2 1.5 132 1 0 3.0 -3.4M452.1 325.7a2.8 2.5 61 1 0 2.7 5.0a2.8 2.5 61 1 0 -2.7 -5.0M437.3 335.6a2.2 1.4 135 1 0 -3.0 3.1a2.2 1.4 135 1 0 3.0 -3.1M441.9 327.9a2.3 1.8 4 1 0 4.6 0.3a2.3 1.8 4 1 0 -4.6 -0.3M450.4 349.7a3.1 2.7 124 1 0 -3.5 5.2a3.1 2.7 124 1 0 3.5 -5.2M448.7 359.8a2.7 2.2 23 1 0 5.1 2.1a2.7 2.2 23 1 0 -5.1 -2.1M456.1 373.0a2.4 2.3 28 1 0 4.2 2.3a2.4 2.3 28 1 0 -4.2 -2.3M449.1 353.7a2.5 2.1 26 1 0 4.4 2.2a2.5 2.1 26 1 0 -4.4 -2.2M428.2 348.2a2.8 2.6 7 1 0 5.6 0.6a2.8 2.6 7 1 0 -5.6 -0.6M489.5 282.1a1.9 1.2 2 1 0 3.9 0.2a1.9 1.2 2 1 0 -3.9 -0.2M481.3 278.9a2.2 2.0 53 1 0 2.7 3.5a2.2 2.0 53 1 0 -2.7 -3.5M489.3 291.7a2.0 1.8 95 1 0 -0.4 4.0a2.0 1.8 95 1 0 0.4 -4.0M494.6 317.3a2.2 1.8 95 1 0 -0.4 4.3a2.2 1.8 95 1 0 0.4 -4.3M478.1 324.9a2.1 1.5 52 1 0 2.6 3.3a2.1 1.5 52 1 0 -2.6 -3.3M495.9 329.9a2.6 2.2 177 1 0 -5.2 0.3a2.6 2.2 177 1 0 5.2 -0.3M480.3 316.3a3.1 2.3 27 1 0 5.5 2.8a3.1 2.3 27 1 0 -5.5 -2.8M468.4 320.4a2.0 1.2 119 1 0 -2.0 3.5a2.0 1.2 119 1 0 2.0 -3.5M468.6 329.3a2.0 1.3 97 1 0 -0.5 3.9a2.0 1.3 97 1 0 0.5 -3.9M484.6 327.1a2.7 1.7 90 1 0 -0.0 5.5a2.7 1.7 90 1 0 0.0 -5.5M481.0 330.3a2.7 2.1 170 1 0 -5.4 1.0a2.7 2.1 170 1 0 5.4 -1.0M474.8 315.7a2.4 1.9 50 1 0 3.0 3.7a2.4 1.9 50 1 0 -3.0 -3.7M484.2 315.6a3.0 2.6 79 1 0 1.1 5.9a3.0 2.6 79 1 0 -1.1 -5.9M485.8 326.1a2.0 1.3 151 1 0 -3.6 2.0a2.0 1.3 151 1 0 3.6 -2.0M484.8 328.9a2.1 1.5 164 1 0 -4.1 1.1a2.1 1.5 164 1 0 4.1 -1.1M491.4 338.3a2.0 1.8 5 1 0 4.0 0.4a2.0 1.8 5 1 0 -4.0 -0.4M500.4 348.3a2.5 1.7 121 1 0 -2.6 4.3a2.5 1.7 121 1 0 2.6 -4.3M484.9 340.8a3.2 2.0 30 1 0 5.5 3.2a3.2 2.0 30 1 0 -5.5 -3.2M464.0 347.9a2.2 2.0 178 1 0 -4.4 0.1a2.2 2.0 178 1 0 4.4 -0.1M489.1 331.1a3.0 1.8 117 1 0 -2.7 5.4a3.0 1.8 117 1 0 2.7 -5.4M458.0 357.0a2.3 1.5 84 1 0 0.4 4.5a2.3 1.5 84 1 0 -0.4 -4.5M485.3 339.8a2.0 1.4 176 1 0 -4.1 0.3a2.0 1.4 176 1 0 4.1 -0.3M467.0 296.7a2.3 1.6 103 1 0 -1.1 4.5a2.3 1.6 103 1 0 1.1 -4.5M493.5 364.8a2.3 2.3 55 1 0 2.7 3.8a2.3 2.3 55 1 0 -2.7 -3.8M501.0 362.2a2.6 2.3 156 1 0 -4.7 2.1a2.6 2.3 156 1 0 4.7 -2.1M385.9 371.1a2.3 1.8 115 1 0 -1.9 4.2a2.3 1.8 115 1 0 1.9 -4.2M400.7 361.6a2.2 2.2 139 1 0 -3.3 2.9a2.2 2.2 139 1 0 3.3 -2.9"/></g>
<path d="M384,309L391,309L391,322L384,322ZM402,296L410,298L411,376L406,376L405,320ZM424,284L427,284L427,315L424,315ZM462,318L502,330L502,335L462,323ZM456,279L476,279L476,290L462,291L457,300ZM435,287L446,286L448,296L441,303L435,299ZM440,350L447,352L448,366L440,370L434,362ZM472,346L486,344L490,356L480,366L470,360Z" fill="#ebe8f1" filter="url(#blur1)" opacity="0.85"/>
<g filter="url(#blur05)"><path fill="#6a3018" fill-opacity="0.75" d="M412.2 317.9a0.9 0.9 116 1 0 -0.8 1.6a0.9 0.9 116 1 0 0.8 -1.6M472.5 354.1a1.5 1.0 166 1 0 -2.9 0.7a1.5 1.0 166 1 0 2.9 -0.7M459.5 307.8a1.6 1.5 41 1 0 2.4 2.1a1.6 1.5 41 1 0 -2.4 -2.1M384.7 328.7a1.4 1.1 53 1 0 1.7 2.3a1.4 1.1 53 1 0 -1.7 -2.3M376.3 350.9a1.2 0.9 160 1 0 -2.3 0.8a1.2 0.9 160 1 0 2.3 -0.8"/><path fill="#8a5030" fill-opacity="0.5" d="M417.1 370.1a1.5 1.5 106 1 0 -0.8 2.9a1.5 1.5 106 1 0 0.8 -2.9M402.3 367.8a1.8 1.0 147 1 0 -3.0 1.9a1.8 1.0 147 1 0 3.0 -1.9M442.6 354.5a1.0 0.9 97 1 0 -0.2 1.9a1.0 0.9 97 1 0 0.2 -1.9M375.7 314.1a1.3 1.2 23 1 0 2.5 1.0a1.3 1.2 23 1 0 -2.5 -1.0M463.7 364.0a1.5 1.2 163 1 0 -2.8 0.9a1.5 1.2 163 1 0 2.8 -0.9M450.9 340.5a1.6 1.3 25 1 0 2.8 1.3a1.6 1.3 25 1 0 -2.8 -1.3M414.8 309.4a1.0 0.8 69 1 0 0.7 1.8a1.0 0.8 69 1 0 -0.7 -1.8M379.6 372.2a1.5 0.9 172 1 0 -2.9 0.4a1.5 0.9 172 1 0 2.9 -0.4M388.3 307.4a1.3 1.0 70 1 0 0.9 2.4a1.3 1.0 70 1 0 -0.9 -2.4M483.3 293.4a1.1 1.1 56 1 0 1.2 1.8a1.1 1.1 56 1 0 -1.2 -1.8M486.3 355.5a1.3 0.8 21 1 0 2.5 0.9a1.3 0.8 21 1 0 -2.5 -0.9M416.7 292.0a1.4 1.4 89 1 0 0.1 2.9a1.4 1.4 89 1 0 -0.1 -2.9M393.6 346.0a1.2 1.1 75 1 0 0.7 2.4a1.2 1.1 75 1 0 -0.7 -2.4M417.6 345.4a1.2 0.6 160 1 0 -2.2 0.8a1.2 0.6 160 1 0 2.2 -0.8M441.9 285.2a1.6 1.4 111 1 0 -1.1 3.0a1.6 1.4 111 1 0 1.1 -3.0M426.9 287.0a1.0 0.7 32 1 0 1.6 1.0a1.0 0.7 32 1 0 -1.6 -1.0M389.4 353.1a1.3 1.2 177 1 0 -2.6 0.1a1.3 1.2 177 1 0 2.6 -0.1M416.7 363.6a1.6 1.1 52 1 0 1.9 2.5a1.6 1.1 52 1 0 -1.9 -2.5M448.4 346.9a1.3 0.8 30 1 0 2.2 1.3a1.3 0.8 30 1 0 -2.2 -1.3M418.0 363.0a1.7 1.3 13 1 0 3.3 0.8a1.7 1.3 13 1 0 -3.3 -0.8M407.7 288.0a1.1 0.6 176 1 0 -2.3 0.2a1.1 0.6 176 1 0 2.3 -0.2M476.4 371.8a1.4 0.9 102 1 0 -0.6 2.7a1.4 0.9 102 1 0 0.6 -2.7M382.4 345.1a1.5 0.9 176 1 0 -3.1 0.2a1.5 0.9 176 1 0 3.1 -0.2M381.2 329.8a1.7 1.6 128 1 0 -2.1 2.7a1.7 1.6 128 1 0 2.1 -2.7"/><path fill="#7a3c20" fill-opacity="0.5" d="M379.1 297.3a1.7 1.3 44 1 0 2.5 2.4a1.7 1.3 44 1 0 -2.5 -2.4M384.7 338.6a1.7 1.3 13 1 0 3.2 0.7a1.7 1.3 13 1 0 -3.2 -0.7M478.4 283.2a1.1 1.1 5 1 0 2.2 0.2a1.1 1.1 5 1 0 -2.2 -0.2M434.3 320.0a1.1 0.7 30 1 0 1.9 1.1a1.1 0.7 30 1 0 -1.9 -1.1M404.9 319.1a1.0 0.9 165 1 0 -1.9 0.5a1.0 0.9 165 1 0 1.9 -0.5M411.9 343.4a1.2 0.9 95 1 0 -0.2 2.5a1.2 0.9 95 1 0 0.2 -2.5M431.7 342.5a1.6 1.5 106 1 0 -0.9 3.1a1.6 1.5 106 1 0 0.9 -3.1M426.5 307.3a1.5 1.4 1 1 0 3.0 0.1a1.5 1.4 1 1 0 -3.0 -0.1M380.0 287.1a1.7 1.0 169 1 0 -3.3 0.6a1.7 1.0 169 1 0 3.3 -0.6M438.2 289.8a1.6 1.0 99 1 0 -0.5 3.2a1.6 1.0 99 1 0 0.5 -3.2M439.4 368.2a1.0 0.7 177 1 0 -1.9 0.1a1.0 0.7 177 1 0 1.9 -0.1M420.4 309.6a1.4 1.0 136 1 0 -2.0 1.9a1.4 1.0 136 1 0 2.0 -1.9M498.1 290.9a1.3 0.8 87 1 0 0.1 2.5a1.3 0.8 87 1 0 -0.1 -2.5M412.9 279.3a1.1 0.7 16 1 0 2.2 0.6a1.1 0.7 16 1 0 -2.2 -0.6M471.4 286.7a1.4 0.9 92 1 0 -0.1 2.8a1.4 0.9 92 1 0 0.1 -2.8M475.3 309.5a1.7 1.2 11 1 0 3.3 0.6a1.7 1.2 11 1 0 -3.3 -0.6M414.1 357.4a1.5 0.9 79 1 0 0.6 2.9a1.5 0.9 79 1 0 -0.6 -2.9M396.3 364.7a1.3 1.2 12 1 0 2.6 0.5a1.3 1.2 12 1 0 -2.6 -0.5"/><path fill="#6a3018" fill-opacity="0.5" d="M439.9 309.1a1.1 0.9 80 1 0 0.4 2.2a1.1 0.9 80 1 0 -0.4 -2.2M415.4 329.7a1.6 1.2 106 1 0 -0.9 3.1a1.6 1.2 106 1 0 0.9 -3.1M477.7 348.0a1.1 0.7 129 1 0 -1.4 1.7a1.1 0.7 129 1 0 1.4 -1.7M493.8 336.8a1.8 1.0 74 1 0 1.0 3.4a1.8 1.0 74 1 0 -1.0 -3.4M409.9 360.1a1.2 1.1 158 1 0 -2.1 0.9a1.2 1.1 158 1 0 2.1 -0.9M389.0 283.9a1.4 1.3 82 1 0 0.4 2.8a1.4 1.3 82 1 0 -0.4 -2.8M492.0 286.0a1.7 1.3 45 1 0 2.4 2.4a1.7 1.3 45 1 0 -2.4 -2.4M424.0 310.1a1.7 1.2 119 1 0 -1.7 3.0a1.7 1.2 119 1 0 1.7 -3.0M454.8 368.5a0.9 0.6 12 1 0 1.8 0.4a0.9 0.6 12 1 0 -1.8 -0.4M459.6 337.9a1.7 1.2 100 1 0 -0.6 3.4a1.7 1.2 100 1 0 0.6 -3.4M394.5 352.1a1.4 1.0 116 1 0 -1.2 2.5a1.4 1.0 116 1 0 1.2 -2.5M414.8 320.4a1.4 1.0 32 1 0 2.4 1.5a1.4 1.0 32 1 0 -2.4 -1.5M453.9 331.2a1.3 0.9 63 1 0 1.2 2.3a1.3 0.9 63 1 0 -1.2 -2.3M404.9 345.5a1.4 0.9 179 1 0 -2.7 0.1a1.4 0.9 179 1 0 2.7 -0.1"/><path fill="#5a2814" fill-opacity="0.5" d="M449.8 349.8a1.4 1.3 102 1 0 -0.6 2.8a1.4 1.3 102 1 0 0.6 -2.8M389.4 356.8a1.6 1.1 17 1 0 3.0 0.9a1.6 1.1 17 1 0 -3.0 -0.9M392.0 330.0a1.7 1.3 130 1 0 -2.2 2.7a1.7 1.3 130 1 0 2.2 -2.7M442.6 306.2a1.4 0.8 168 1 0 -2.8 0.6a1.4 0.8 168 1 0 2.8 -0.6M451.7 372.1a1.8 1.1 168 1 0 -3.5 0.7a1.8 1.1 168 1 0 3.5 -0.7M426.7 370.9a1.8 1.2 29 1 0 3.1 1.7a1.8 1.2 29 1 0 -3.1 -1.7M475.1 280.6a1.3 0.7 99 1 0 -0.4 2.5a1.3 0.7 99 1 0 0.4 -2.5M487.3 281.2a1.5 1.3 118 1 0 -1.4 2.6a1.5 1.3 118 1 0 1.4 -2.6M376.5 312.0a1.1 1.1 132 1 0 -1.4 1.6a1.1 1.1 132 1 0 1.4 -1.6M442.5 357.9a1.4 1.1 130 1 0 -1.8 2.2a1.4 1.1 130 1 0 1.8 -2.2M382.5 308.5a1.2 0.7 176 1 0 -2.3 0.2a1.2 0.7 176 1 0 2.3 -0.2M483.5 299.5a0.9 0.5 102 1 0 -0.4 1.8a0.9 0.5 102 1 0 0.4 -1.8M396.2 343.9a1.1 1.1 37 1 0 1.8 1.4a1.1 1.1 37 1 0 -1.8 -1.4M435.5 328.1a1.8 1.5 134 1 0 -2.5 2.6a1.8 1.5 134 1 0 2.5 -2.6"/><path fill="#5a2814" fill-opacity="0.75" d="M478.3 342.3a1.4 1.1 22 1 0 2.5 1.0a1.4 1.1 22 1 0 -2.5 -1.0M379.8 356.4a1.2 0.8 23 1 0 2.2 0.9a1.2 0.8 23 1 0 -2.2 -0.9M431.8 328.8a0.9 0.7 165 1 0 -1.8 0.5a0.9 0.7 165 1 0 1.8 -0.5M483.2 370.4a1.2 1.1 144 1 0 -1.9 1.4a1.2 1.1 144 1 0 1.9 -1.4M445.0 289.2a1.0 0.6 138 1 0 -1.5 1.4a1.0 0.6 138 1 0 1.5 -1.4M460.5 311.3a1.1 0.9 119 1 0 -1.1 2.0a1.1 0.9 119 1 0 1.1 -2.0M441.3 335.4a1.1 0.8 134 1 0 -1.5 1.6a1.1 0.8 134 1 0 1.5 -1.6"/><path fill="#8a5030" fill-opacity="0.75" d="M445.1 288.4a1.1 0.8 89 1 0 0.0 2.2a1.1 0.8 89 1 0 -0.0 -2.2M453.2 339.9a1.6 1.2 72 1 0 1.0 3.1a1.6 1.2 72 1 0 -1.0 -3.1M434.9 357.2a1.2 1.0 67 1 0 0.9 2.2a1.2 1.0 67 1 0 -0.9 -2.2M493.7 310.5a1.0 0.9 53 1 0 1.2 1.6a1.0 0.9 53 1 0 -1.2 -1.6M453.0 284.0a1.2 1.1 78 1 0 0.5 2.4a1.2 1.1 78 1 0 -0.5 -2.4"/><path fill="#7a3c20" fill-opacity="0.75" d="M410.8 320.3a1.3 1.1 85 1 0 0.2 2.5a1.3 1.1 85 1 0 -0.2 -2.5M448.3 342.3a1.1 1.1 69 1 0 0.8 2.1a1.1 1.1 69 1 0 -0.8 -2.1M481.2 357.1a1.6 1.2 9 1 0 3.2 0.5a1.6 1.2 9 1 0 -3.2 -0.5"/></g></g>
<g clip-path="url(#c3)"><rect x="375" y="380.4" width="126.5" height="95.5" fill="#e4e4f2"/>
<rect x="375" y="380.4" width="126.5" height="95.5" filter="url(#txB)" opacity="0.5"/>
<path d="M388.2,391.5L410.0,390.5L439.7,391.5L461.5,393.5L462.5,382.5L440.3,380.5L410.0,379.5L387.8,380.5ZM400,392L452,391L455,415L448,431L405,431L399,415ZM375,395L392,395L393,431L375,431ZM377.2,442.5L410.0,441.5L439.6,442.5L462.4,444.5L463.6,431.5L440.4,429.5L410.0,428.5L376.8,429.5ZM458,437L502,437L502,477L458,477ZM423,450L460,450L460,477L423,477ZM375,450L392,450L392,477L375,477ZM392,468L424,468L424,477L392,477ZM455,395L470,398L468,420L456,425Z" fill="#aaaad0" filter="url(#blur2)" opacity="0.8"/>
<g filter="url(#blur05)"><path fill="#9890bc" fill-opacity="0.75" d="M403.3 380.5a2.2 1.5 12 1 0 4.3 0.9a2.2 1.5 12 1 0 -4.3 -0.9M407.9 388.2a2.1 1.9 35 1 0 3.4 2.4a2.1 1.9 35 1 0 -3.4 -2.4M424.7 380.0a3.0 1.9 95 1 0 -0.5 6.0a3.0 1.9 95 1 0 0.5 -6.0M401.0 380.9a2.3 1.8 39 1 0 3.5 2.9a2.3 1.8 39 1 0 -3.5 -2.9M452.1 386.9a2.3 1.8 73 1 0 1.4 4.4a2.3 1.8 73 1 0 -1.4 -4.4M457.5 383.4a2.2 1.4 173 1 0 -4.3 0.5a2.2 1.4 173 1 0 4.3 -0.5M453.6 383.4a2.2 2.1 51 1 0 2.8 3.5a2.2 2.1 51 1 0 -2.8 -3.5M405.8 385.9a2.7 2.3 141 1 0 -4.3 3.4a2.7 2.3 141 1 0 4.3 -3.4M428.6 407.6a3.0 2.2 164 1 0 -5.7 1.7a3.0 2.2 164 1 0 5.7 -1.7M434.7 424.0a1.8 1.2 25 1 0 3.3 1.5a1.8 1.2 25 1 0 -3.3 -1.5M431.0 414.8a2.5 2.2 4 1 0 4.9 0.4a2.5 2.2 4 1 0 -4.9 -0.4M441.1 412.0a3.0 2.0 65 1 0 2.5 5.4a3.0 2.0 65 1 0 -2.5 -5.4M403.3 393.4a1.9 1.4 63 1 0 1.7 3.3a1.9 1.4 63 1 0 -1.7 -3.3M407.2 424.5a1.7 1.5 137 1 0 -2.5 2.3a1.7 1.5 137 1 0 2.5 -2.3M453.5 407.9a2.5 1.6 88 1 0 0.2 5.0a2.5 1.6 88 1 0 -0.2 -5.0M421.0 410.5a2.7 2.5 162 1 0 -5.1 1.7a2.7 2.5 162 1 0 5.1 -1.7M435.1 391.2a1.8 1.7 44 1 0 2.7 2.5a1.8 1.7 44 1 0 -2.7 -2.5M443.2 419.2a1.8 1.2 163 1 0 -3.5 1.1a1.8 1.2 163 1 0 3.5 -1.1M431.1 427.6a2.3 1.8 170 1 0 -4.6 0.8a2.3 1.8 170 1 0 4.6 -0.8M411.9 396.9a2.7 1.7 46 1 0 3.7 3.9a2.7 1.7 46 1 0 -3.7 -3.9M448.1 390.2a2.2 1.9 29 1 0 3.9 2.2a2.2 1.9 29 1 0 -3.9 -2.2M416.5 412.7a2.8 2.3 77 1 0 1.2 5.4a2.8 2.3 77 1 0 -1.2 -5.4M408.1 405.8a2.0 1.4 132 1 0 -2.7 3.0a2.0 1.4 132 1 0 2.7 -3.0M426.0 409.2a2.5 2.1 169 1 0 -5.0 0.9a2.5 2.1 169 1 0 5.0 -0.9M426.8 427.7a2.4 2.2 12 1 0 4.7 1.0a2.4 2.2 12 1 0 -4.7 -1.0M444.6 410.1a2.9 2.9 38 1 0 4.5 3.6a2.9 2.9 38 1 0 -4.5 -3.6M433.6 397.7a3.0 1.9 113 1 0 -2.4 5.5a3.0 1.9 113 1 0 2.4 -5.5M426.1 407.4a2.4 2.1 130 1 0 -3.0 3.6a2.4 2.1 130 1 0 3.0 -3.6M432.0 421.7a2.6 2.3 23 1 0 4.7 2.0a2.6 2.3 23 1 0 -4.7 -2.0M405.2 413.9a2.6 2.5 9 1 0 5.1 0.8a2.6 2.5 9 1 0 -5.1 -0.8M381.2 423.6a1.9 1.3 104 1 0 -0.9 3.8a1.9 1.3 104 1 0 0.9 -3.8M387.0 404.3a2.2 1.7 115 1 0 -1.9 4.0a2.2 1.7 115 1 0 1.9 -4.0M385.9 428.3a1.9 1.3 156 1 0 -3.6 1.6a1.9 1.3 156 1 0 3.6 -1.6M383.3 400.6a3.0 1.9 38 1 0 4.7 3.6a3.0 1.9 38 1 0 -4.7 -3.6M377.0 421.6a1.8 1.6 28 1 0 3.1 1.6a1.8 1.6 28 1 0 -3.1 -1.6M375.5 424.8a2.4 1.6 50 1 0 3.1 3.6a2.4 1.6 50 1 0 -3.1 -3.6M386.2 403.0a1.8 1.2 110 1 0 -1.2 3.4a1.8 1.2 110 1 0 1.2 -3.4M379.8 426.5a2.7 2.2 30 1 0 4.6 2.7a2.7 2.2 30 1 0 -4.6 -2.7M437.8 432.8a2.5 1.6 89 1 0 0.1 5.1a2.5 1.6 89 1 0 -0.1 -5.1M427.9 432.3a2.9 2.1 28 1 0 5.1 2.7a2.9 2.1 28 1 0 -5.1 -2.7M454.8 432.2a2.6 2.1 113 1 0 -2.1 4.8a2.6 2.1 113 1 0 2.1 -4.8M376.7 431.9a2.7 2.1 21 1 0 5.1 1.9a2.7 2.1 21 1 0 -5.1 -1.9M442.5 434.8a2.4 1.9 164 1 0 -4.6 1.3a2.4 1.9 164 1 0 4.6 -1.3M395.3 439.5a2.8 1.9 142 1 0 -4.5 3.5a2.8 1.9 142 1 0 4.5 -3.5M460.8 438.0a3.0 2.4 141 1 0 -4.6 3.8a3.0 2.4 141 1 0 4.6 -3.8M412.0 439.0a2.5 1.7 147 1 0 -4.1 2.7a2.5 1.7 147 1 0 4.1 -2.7M400.9 433.0a1.8 1.6 114 1 0 -1.5 3.3a1.8 1.6 114 1 0 1.5 -3.3M387.5 435.8a2.8 2.2 67 1 0 2.1 5.2a2.8 2.2 67 1 0 -2.1 -5.2M387.0 438.1a2.0 1.8 2 1 0 3.9 0.2a2.0 1.8 2 1 0 -3.9 -0.2M502.8 466.6a2.0 1.8 124 1 0 -2.2 3.2a2.0 1.8 124 1 0 2.2 -3.2M497.3 443.7a2.8 2.1 101 1 0 -1.1 5.5a2.8 2.1 101 1 0 1.1 -5.5M464.2 464.0a2.6 2.4 72 1 0 1.6 4.9a2.6 2.4 72 1 0 -1.6 -4.9M488.0 438.7a1.9 1.4 16 1 0 3.6 1.0a1.9 1.4 16 1 0 -3.6 -1.0M460.0 437.9a2.7 2.0 70 1 0 1.9 5.1a2.7 2.0 70 1 0 -1.9 -5.1M471.1 467.3a2.0 1.8 4 1 0 4.0 0.3a2.0 1.8 4 1 0 -4.0 -0.3M461.2 471.1a1.9 1.3 176 1 0 -3.8 0.3a1.9 1.3 176 1 0 3.8 -0.3M487.0 443.1a3.0 2.0 148 1 0 -5.0 3.2a3.0 2.0 148 1 0 5.0 -3.2M481.3 455.4a2.7 1.7 159 1 0 -5.0 1.9a2.7 1.7 159 1 0 5.0 -1.9M489.7 472.3a3.0 2.0 179 1 0 -6.0 0.1a3.0 2.0 179 1 0 6.0 -0.1M481.1 460.6a1.9 1.4 9 1 0 3.7 0.6a1.9 1.4 9 1 0 -3.7 -0.6M480.2 461.0a3.0 3.0 70 1 0 2.0 5.6a3.0 3.0 70 1 0 -2.0 -5.6M441.3 466.7a2.1 1.6 139 1 0 -3.2 2.8a2.1 1.6 139 1 0 3.2 -2.8M444.4 463.8a2.1 1.9 165 1 0 -4.0 1.1a2.1 1.9 165 1 0 4.0 -1.1M443.1 454.2a2.2 1.4 89 1 0 0.0 4.3a2.2 1.4 89 1 0 -0.0 -4.3M425.5 459.6a2.1 1.5 128 1 0 -2.6 3.4a2.1 1.5 128 1 0 2.6 -3.4M432.9 469.3a2.7 1.9 113 1 0 -2.1 4.9a2.7 1.9 113 1 0 2.1 -4.9M444.2 467.6a2.5 2.2 135 1 0 -3.5 3.5a2.5 2.2 135 1 0 3.5 -3.5M452.6 475.0a2.1 1.6 176 1 0 -4.3 0.3a2.1 1.6 176 1 0 4.3 -0.3M442.7 470.6a2.6 1.8 132 1 0 -3.4 3.8a2.6 1.8 132 1 0 3.4 -3.8M441.6 466.6a1.8 1.5 20 1 0 3.4 1.2a1.8 1.5 20 1 0 -3.4 -1.2M436.9 453.7a2.8 2.7 177 1 0 -5.6 0.3a2.8 2.7 177 1 0 5.6 -0.3M429.3 465.5a2.4 2.2 40 1 0 3.6 3.1a2.4 2.2 40 1 0 -3.6 -3.1M461.4 473.7a1.7 1.7 152 1 0 -3.0 1.6a1.7 1.7 152 1 0 3.0 -1.6M383.9 452.5a1.8 1.2 80 1 0 0.6 3.6a1.8 1.2 80 1 0 -0.6 -3.6M382.9 472.7a2.5 2.4 54 1 0 2.9 4.0a2.5 2.4 54 1 0 -2.9 -4.0M386.4 472.3a2.1 1.5 98 1 0 -0.6 4.2a2.1 1.5 98 1 0 0.6 -4.2M391.2 460.0a3.0 2.7 179 1 0 -6.0 0.1a3.0 2.7 179 1 0 6.0 -0.1M385.3 453.3a1.7 1.1 134 1 0 -2.4 2.5a1.7 1.1 134 1 0 2.4 -2.5M415.1 470.5a2.9 2.0 46 1 0 4.0 4.1a2.9 2.0 46 1 0 -4.0 -4.1M421.5 466.4a2.3 1.9 70 1 0 1.6 4.3a2.3 1.9 70 1 0 -1.6 -4.3M403.4 468.5a2.5 1.7 162 1 0 -4.7 1.6a2.5 1.7 162 1 0 4.7 -1.6M462.8 409.4a1.8 1.3 114 1 0 -1.5 3.3a1.8 1.3 114 1 0 1.5 -3.3M460.5 415.8a2.9 2.9 30 1 0 5.0 2.9a2.9 2.9 30 1 0 -5.0 -2.9M463.2 412.7a2.1 1.7 29 1 0 3.7 2.1a2.1 1.7 29 1 0 -3.7 -2.1"/><path fill="#aaaad0" fill-opacity="0.75" d="M394.1 385.7a2.2 2.0 149 1 0 -3.7 2.2a2.2 2.0 149 1 0 3.7 -2.2M454.8 389.5a2.7 2.5 35 1 0 4.5 3.1a2.7 2.5 35 1 0 -4.5 -3.1M455.9 383.1a1.7 1.3 15 1 0 3.4 0.9a1.7 1.3 15 1 0 -3.4 -0.9M448.2 383.7a2.9 2.5 147 1 0 -4.9 3.2a2.9 2.5 147 1 0 4.9 -3.2M447.4 384.7a2.0 1.5 160 1 0 -3.8 1.4a2.0 1.5 160 1 0 3.8 -1.4M397.5 381.8a2.8 2.7 166 1 0 -5.5 1.3a2.8 2.7 166 1 0 5.5 -1.3M459.2 391.7a2.5 1.8 16 1 0 4.8 1.4a2.5 1.8 16 1 0 -4.8 -1.4M442.0 380.2a2.9 1.9 49 1 0 3.9 4.4a2.9 1.9 49 1 0 -3.9 -4.4M437.5 388.5a2.4 1.9 28 1 0 4.3 2.3a2.4 1.9 28 1 0 -4.3 -2.3M391.9 379.2a2.8 2.0 70 1 0 1.9 5.3a2.8 2.0 70 1 0 -1.9 -5.3M439.0 380.7a2.0 1.8 62 1 0 1.9 3.6a2.0 1.8 62 1 0 -1.9 -3.6M432.1 399.5a2.4 1.4 47 1 0 3.2 3.5a2.4 1.4 47 1 0 -3.2 -3.5M403.6 392.7a1.9 1.9 167 1 0 -3.7 0.8a1.9 1.9 167 1 0 3.7 -0.8M421.2 402.5a2.2 2.1 169 1 0 -4.3 0.8a2.2 2.1 169 1 0 4.3 -0.8M430.4 414.6a1.9 1.6 42 1 0 2.8 2.5a1.9 1.6 42 1 0 -2.8 -2.5M432.7 410.7a2.0 1.3 86 1 0 0.3 4.1a2.0 1.3 86 1 0 -0.3 -4.1M417.7 404.7a2.6 1.9 155 1 0 -4.7 2.1a2.6 1.9 155 1 0 4.7 -2.1M422.2 418.4a2.4 2.4 62 1 0 2.3 4.3a2.4 2.4 62 1 0 -2.3 -4.3M434.4 425.9a2.2 2.1 19 1 0 4.2 1.4a2.2 2.1 19 1 0 -4.2 -1.4M442.8 394.5a2.8 2.6 103 1 0 -1.3 5.4a2.8 2.6 103 1 0 1.3 -5.4M400.3 408.2a2.2 1.8 104 1 0 -1.0 4.2a2.2 1.8 104 1 0 1.0 -4.2M435.2 400.1a1.7 1.3 101 1 0 -0.7 3.4a1.7 1.3 101 1 0 0.7 -3.4M439.5 393.1a2.3 1.6 28 1 0 4.1 2.1a2.3 1.6 28 1 0 -4.1 -2.1M420.0 395.8a2.3 2.0 54 1 0 2.7 3.7a2.3 2.0 54 1 0 -2.7 -3.7M400.9 418.2a2.2 1.7 63 1 0 2.1 4.0a2.2 1.7 63 1 0 -2.1 -4.0M410.1 410.0a2.6 2.2 163 1 0 -5.0 1.5a2.6 2.2 163 1 0 5.0 -1.5M411.4 400.3a2.1 1.8 32 1 0 3.6 2.3a2.1 1.8 32 1 0 -3.6 -2.3M409.6 405.8a2.1 1.5 25 1 0 3.7 1.7a2.1 1.5 25 1 0 -3.7 -1.7M438.3 409.2a2.6 1.8 134 1 0 -3.6 3.7a2.6 1.8 134 1 0 3.6 -3.7M412.8 424.9a1.8 1.7 57 1 0 1.9 3.0a1.8 1.7 57 1 0 -1.9 -3.0M416.1 422.9a2.0 1.6 155 1 0 -3.6 1.7a2.0 1.6 155 1 0 3.6 -1.7M402.3 406.1a1.9 1.3 85 1 0 0.3 3.8a1.9 1.3 85 1 0 -0.3 -3.8M448.8 394.1a1.8 1.4 136 1 0 -2.6 2.5a1.8 1.4 136 1 0 2.6 -2.5M444.3 404.5a1.9 1.3 100 1 0 -0.7 3.7a1.9 1.3 100 1 0 0.7 -3.7M402.8 421.4a1.8 1.6 38 1 0 2.9 2.2a1.8 1.6 38 1 0 -2.9 -2.2M435.8 408.8a1.7 1.2 144 1 0 -2.8 2.0a1.7 1.2 144 1 0 2.8 -2.0M454.7 412.8a1.8 1.7 156 1 0 -3.4 1.5a1.8 1.7 156 1 0 3.4 -1.5M417.5 420.1a3.0 2.1 18 1 0 5.6 1.8a3.0 2.1 18 1 0 -5.6 -1.8M376.1 421.6a2.6 1.7 82 1 0 0.7 5.2a2.6 1.7 82 1 0 -0.7 -5.2M379.1 424.8a2.9 2.1 32 1 0 5.0 3.1a2.9 2.1 32 1 0 -5.0 -3.1M392.4 401.3a2.1 1.7 108 1 0 -1.3 4.0a2.1 1.7 108 1 0 1.3 -4.0M382.6 402.5a2.7 2.5 140 1 0 -4.1 3.5a2.7 2.5 140 1 0 4.1 -3.5M377.8 428.0a2.6 2.2 43 1 0 3.8 3.5a2.6 2.2 43 1 0 -3.8 -3.5M378.4 422.9a2.3 1.7 22 1 0 4.2 1.7a2.3 1.7 22 1 0 -4.2 -1.7M390.3 412.2a1.8 1.4 138 1 0 -2.7 2.4a1.8 1.4 138 1 0 2.7 -2.4M381.0 406.2a1.8 1.2 107 1 0 -1.0 3.4a1.8 1.2 107 1 0 1.0 -3.4M439.8 438.6a2.5 1.8 14 1 0 4.9 1.2a2.5 1.8 14 1 0 -4.9 -1.2M441.7 429.8a3.0 2.8 43 1 0 4.4 4.0a3.0 2.8 43 1 0 -4.4 -4.0M405.6 438.0a2.2 1.6 166 1 0 -4.2 1.0a2.2 1.6 166 1 0 4.2 -1.0M382.3 428.2a1.7 1.7 98 1 0 -0.5 3.5a1.7 1.7 98 1 0 0.5 -3.5M380.5 428.8a2.9 1.9 140 1 0 -4.5 3.8a2.9 1.9 140 1 0 4.5 -3.8M445.7 430.5a2.1 1.6 95 1 0 -0.4 4.2a2.1 1.6 95 1 0 0.4 -4.2M393.5 438.6a2.8 2.2 78 1 0 1.2 5.6a2.8 2.2 78 1 0 -1.2 -5.6M388.8 439.2a1.9 1.8 33 1 0 3.1 2.0a1.9 1.8 33 1 0 -3.1 -2.0M410.6 433.0a2.3 2.0 61 1 0 2.3 4.1a2.3 2.0 61 1 0 -2.3 -4.1M395.4 430.0a2.0 1.3 119 1 0 -1.9 3.5a2.0 1.3 119 1 0 1.9 -3.5M476.9 470.6a1.8 1.2 130 1 0 -2.3 2.8a1.8 1.2 130 1 0 2.3 -2.8M465.8 444.6a3.0 2.2 103 1 0 -1.4 5.8a3.0 2.2 103 1 0 1.4 -5.8M489.3 458.9a3.0 2.1 44 1 0 4.3 4.2a3.0 2.1 44 1 0 -4.3 -4.2M498.2 466.4a2.1 1.7 149 1 0 -3.6 2.2a2.1 1.7 149 1 0 3.6 -2.2M491.9 473.9a2.0 1.5 18 1 0 3.9 1.2a2.0 1.5 18 1 0 -3.9 -1.2M464.2 458.3a2.2 1.4 134 1 0 -3.0 3.1a2.2 1.4 134 1 0 3.0 -3.1M464.5 448.0a1.9 1.6 129 1 0 -2.4 3.0a1.9 1.6 129 1 0 2.4 -3.0M462.9 474.6a2.9 2.5 152 1 0 -5.1 2.7a2.9 2.5 152 1 0 5.1 -2.7M468.5 452.9a1.9 1.2 161 1 0 -3.5 1.2a1.9 1.2 161 1 0 3.5 -1.2M459.5 434.9a2.2 1.5 98 1 0 -0.6 4.4a2.2 1.5 98 1 0 0.6 -4.4M462.8 442.4a2.6 1.7 130 1 0 -3.3 4.0a2.6 1.7 130 1 0 3.3 -4.0M500.9 440.1a2.6 2.3 75 1 0 1.3 5.1a2.6 2.3 75 1 0 -1.3 -5.1M475.1 437.3a1.9 1.2 95 1 0 -0.3 3.8a1.9 1.2 95 1 0 0.3 -3.8M494.2 459.3a2.1 1.3 151 1 0 -3.6 2.0a2.1 1.3 151 1 0 3.6 -2.0M493.1 459.6a2.5 2.0 131 1 0 -3.2 3.8a2.5 2.0 131 1 0 3.2 -3.8M495.9 438.0a2.3 2.1 79 1 0 0.8 4.5a2.3 2.1 79 1 0 -0.8 -4.5M490.0 463.0a2.0 1.8 144 1 0 -3.3 2.3a2.0 1.8 144 1 0 3.3 -2.3M484.3 445.2a2.0 1.9 108 1 0 -1.2 3.8a2.0 1.9 108 1 0 1.2 -3.8M479.3 453.0a2.8 1.7 123 1 0 -3.0 4.7a2.8 1.7 123 1 0 3.0 -4.7M465.6 452.0a2.8 1.7 36 1 0 4.5 3.3a2.8 1.7 36 1 0 -4.5 -3.3M464.6 464.1a1.8 1.6 59 1 0 1.8 3.0a1.8 1.6 59 1 0 -1.8 -3.0M481.4 437.9a2.2 2.0 174 1 0 -4.4 0.4a2.2 2.0 174 1 0 4.4 -0.4M465.4 466.6a2.3 1.6 37 1 0 3.7 2.7a2.3 1.6 37 1 0 -3.7 -2.7M497.0 456.3a2.4 2.3 127 1 0 -2.9 3.8a2.4 2.3 127 1 0 2.9 -3.8M480.9 459.1a2.3 1.6 55 1 0 2.6 3.7a2.3 1.6 55 1 0 -2.6 -3.7M483.3 456.5a2.8 1.8 138 1 0 -4.2 3.7a2.8 1.8 138 1 0 4.2 -3.7M487.5 466.0a1.7 1.7 156 1 0 -3.2 1.4a1.7 1.7 156 1 0 3.2 -1.4M440.8 450.4a2.9 2.6 47 1 0 4.0 4.3a2.9 2.6 47 1 0 -4.0 -4.3M452.5 449.9a2.8 2.6 93 1 0 -0.3 5.7a2.8 2.6 93 1 0 0.3 -5.7M451.3 454.6a2.4 1.8 159 1 0 -4.5 1.8a2.4 1.8 159 1 0 4.5 -1.8M441.9 473.7a2.1 1.8 77 1 0 0.9 4.0a2.1 1.8 77 1 0 -0.9 -4.0M459.6 462.0a2.7 2.1 168 1 0 -5.3 1.2a2.7 2.1 168 1 0 5.3 -1.2M454.4 465.6a2.9 2.6 47 1 0 3.9 4.2a2.9 2.6 47 1 0 -3.9 -4.2M426.0 461.0a2.3 2.1 129 1 0 -2.9 3.6a2.3 2.1 129 1 0 2.9 -3.6M427.6 468.6a2.6 2.2 23 1 0 4.8 2.1a2.6 2.2 23 1 0 -4.8 -2.1M439.8 467.1a2.5 2.1 54 1 0 2.9 4.1a2.5 2.1 54 1 0 -2.9 -4.1M426.4 447.9a3.0 2.8 76 1 0 1.4 5.7a3.0 2.8 76 1 0 -1.4 -5.7M451.8 456.1a2.9 2.4 104 1 0 -1.4 5.5a2.9 2.4 104 1 0 1.4 -5.5M456.1 475.3a1.7 1.2 64 1 0 1.5 3.1a1.7 1.2 64 1 0 -1.5 -3.1M444.0 469.2a2.9 1.8 160 1 0 -5.5 2.0a2.9 1.8 160 1 0 5.5 -2.0M443.9 460.7a2.7 1.7 106 1 0 -1.5 5.2a2.7 1.7 106 1 0 1.5 -5.2M438.6 450.7a1.8 1.3 133 1 0 -2.4 2.5a1.8 1.3 133 1 0 2.4 -2.5M457.5 459.6a2.6 2.1 34 1 0 4.3 2.9a2.6 2.1 34 1 0 -4.3 -2.9M390.7 464.1a2.6 2.4 149 1 0 -4.6 2.7a2.6 2.4 149 1 0 4.6 -2.7M377.3 455.6a2.5 1.6 115 1 0 -2.2 4.6a2.5 1.6 115 1 0 2.2 -4.6M413.1 471.2a2.0 1.9 128 1 0 -2.4 3.1a2.0 1.9 128 1 0 2.4 -3.1M402.7 473.2a1.9 1.2 49 1 0 2.4 2.8a1.9 1.2 49 1 0 -2.4 -2.8M421.2 468.1a2.8 2.5 29 1 0 4.9 2.7a2.8 2.5 29 1 0 -4.9 -2.7M458.7 410.4a2.4 2.2 69 1 0 1.8 4.5a2.4 2.2 69 1 0 -1.8 -4.5M456.2 404.0a1.9 1.8 27 1 0 3.4 1.7a1.9 1.8 27 1 0 -3.4 -1.7M454.9 399.9a2.1 1.7 69 1 0 1.5 3.9a2.1 1.7 69 1 0 -1.5 -3.9"/><path fill="#9294c2" fill-opacity="0.75" d="M450.2 382.1a2.8 2.1 70 1 0 1.9 5.3a2.8 2.1 70 1 0 -1.9 -5.3M434.4 388.9a1.9 1.6 12 1 0 3.7 0.8a1.9 1.6 12 1 0 -3.7 -0.8M421.7 380.0a2.3 1.9 114 1 0 -1.9 4.1a2.3 1.9 114 1 0 1.9 -4.1M396.1 378.5a2.0 1.8 111 1 0 -1.4 3.7a2.0 1.8 111 1 0 1.4 -3.7M452.6 389.5a2.3 1.4 46 1 0 3.3 3.4a2.3 1.4 46 1 0 -3.3 -3.4M462.8 392.2a2.6 1.6 162 1 0 -4.9 1.6a2.6 1.6 162 1 0 4.9 -1.6M396.9 388.2a2.7 2.6 99 1 0 -0.9 5.4a2.7 2.6 99 1 0 0.9 -5.4M438.7 380.3a1.8 1.2 146 1 0 -3.0 2.0a1.8 1.2 146 1 0 3.0 -2.0M415.2 416.0a2.7 2.4 79 1 0 1.1 5.3a2.7 2.4 79 1 0 -1.1 -5.3M419.9 430.2a2.5 1.9 178 1 0 -5.0 0.2a2.5 1.9 178 1 0 5.0 -0.2M412.5 402.2a2.4 2.0 66 1 0 2.0 4.4a2.4 2.0 66 1 0 -2.0 -4.4M400.5 402.6a2.5 2.4 65 1 0 2.1 4.5a2.5 2.4 65 1 0 -2.1 -4.5M406.0 406.6a2.9 2.1 152 1 0 -5.1 2.7a2.9 2.1 152 1 0 5.1 -2.7M427.2 410.4a1.8 1.4 61 1 0 1.7 3.1a1.8 1.4 61 1 0 -1.7 -3.1M427.1 410.4a2.6 1.6 79 1 0 1.0 5.1a2.6 1.6 79 1 0 -1.0 -5.1M429.5 398.0a2.0 2.0 71 1 0 1.3 3.8a2.0 2.0 71 1 0 -1.3 -3.8M422.5 418.2a2.2 1.4 70 1 0 1.5 4.1a2.2 1.4 70 1 0 -1.5 -4.1M424.8 394.4a2.4 1.9 140 1 0 -3.7 3.1a2.4 1.9 140 1 0 3.7 -3.1M401.0 414.5a1.9 1.2 35 1 0 3.2 2.2a1.9 1.2 35 1 0 -3.2 -2.2M420.4 422.5a2.9 1.9 26 1 0 5.2 2.5a2.9 1.9 26 1 0 -5.2 -2.5M440.8 395.3a2.4 1.6 168 1 0 -4.6 1.0a2.4 1.6 168 1 0 4.6 -1.0M439.4 426.4a2.7 2.5 88 1 0 0.2 5.3a2.7 2.5 88 1 0 -0.2 -5.3M417.9 426.2a2.6 2.0 6 1 0 5.1 0.5a2.6 2.0 6 1 0 -5.1 -0.5M406.1 411.8a2.0 1.8 28 1 0 3.6 1.9a2.0 1.8 28 1 0 -3.6 -1.9M422.9 425.1a2.7 2.0 8 1 0 5.3 0.7a2.7 2.0 8 1 0 -5.3 -0.7M420.6 403.7a2.8 2.5 47 1 0 3.9 4.2a2.8 2.5 47 1 0 -3.9 -4.2M449.0 405.4a1.8 1.8 102 1 0 -0.7 3.6a1.8 1.8 102 1 0 0.7 -3.6M419.6 397.0a2.8 2.0 77 1 0 1.3 5.5a2.8 2.0 77 1 0 -1.3 -5.5M430.2 417.8a2.2 1.7 138 1 0 -3.2 2.9a2.2 1.7 138 1 0 3.2 -2.9M410.9 416.9a2.8 1.9 105 1 0 -1.4 5.3a2.8 1.9 105 1 0 1.4 -5.3M383.8 424.5a2.3 1.8 78 1 0 1.0 4.5a2.3 1.8 78 1 0 -1.0 -4.5M377.2 401.8a2.9 1.9 47 1 0 3.9 4.2a2.9 1.9 47 1 0 -3.9 -4.2M384.0 417.8a2.6 2.1 77 1 0 1.2 5.1a2.6 2.1 77 1 0 -1.2 -5.1M378.0 410.3a2.3 1.8 180 1 0 -4.6 0.0a2.3 1.8 180 1 0 4.6 -0.0M380.5 405.7a1.9 1.9 149 1 0 -3.3 2.0a1.9 1.9 149 1 0 3.3 -2.0M383.8 406.5a2.8 2.7 2 1 0 5.6 0.2a2.8 2.7 2 1 0 -5.6 -0.2M381.0 408.1a1.8 1.2 33 1 0 3.0 1.9a1.8 1.2 33 1 0 -3.0 -1.9M372.9 421.1a2.8 2.0 32 1 0 4.7 2.9a2.8 2.0 32 1 0 -4.7 -2.9M389.4 421.4a2.0 1.8 165 1 0 -3.8 1.0a2.0 1.8 165 1 0 3.8 -1.0M389.0 400.1a1.8 1.2 125 1 0 -2.0 2.9a1.8 1.2 125 1 0 2.0 -2.9M382.6 409.9a2.2 1.3 95 1 0 -0.3 4.4a2.2 1.3 95 1 0 0.3 -4.4M398.9 434.1a3.0 2.0 83 1 0 0.7 5.9a3.0 2.0 83 1 0 -0.7 -5.9M400.3 434.0a2.8 2.4 70 1 0 2.0 5.3a2.8 2.4 70 1 0 -2.0 -5.3M455.4 440.7a2.5 1.7 84 1 0 0.5 5.0a2.5 1.7 84 1 0 -0.5 -5.0M413.2 431.3a1.9 1.8 157 1 0 -3.5 1.5a1.9 1.8 157 1 0 3.5 -1.5M391.0 438.8a3.0 2.9 124 1 0 -3.3 5.0a3.0 2.9 124 1 0 3.3 -5.0M453.8 440.7a2.3 1.6 114 1 0 -1.9 4.3a2.3 1.6 114 1 0 1.9 -4.3M435.2 435.4a2.7 1.7 40 1 0 4.2 3.5a2.7 1.7 40 1 0 -4.2 -3.5M412.8 438.4a1.9 1.4 126 1 0 -2.2 3.0a1.9 1.4 126 1 0 2.2 -3.0M442.1 440.8a2.3 1.6 45 1 0 3.2 3.2a2.3 1.6 45 1 0 -3.2 -3.2M382.0 436.6a2.7 1.8 4 1 0 5.4 0.4a2.7 1.8 4 1 0 -5.4 -0.4M395.0 429.5a2.2 1.7 83 1 0 0.5 4.3a2.2 1.7 83 1 0 -0.5 -4.3M418.9 435.2a2.3 1.4 151 1 0 -4.0 2.2a2.3 1.4 151 1 0 4.0 -2.2M437.9 430.2a1.7 1.1 100 1 0 -0.6 3.4a1.7 1.1 100 1 0 0.6 -3.4M430.7 440.3a2.6 2.5 175 1 0 -5.3 0.5a2.6 2.5 175 1 0 5.3 -0.5M490.4 448.6a2.3 2.1 16 1 0 4.5 1.3a2.3 2.1 16 1 0 -4.5 -1.3M460.7 460.6a2.7 2.3 99 1 0 -0.8 5.3a2.7 2.3 99 1 0 0.8 -5.3M491.3 457.4a2.3 1.7 15 1 0 4.4 1.2a2.3 1.7 15 1 0 -4.4 -1.2M458.1 439.1a2.4 2.3 85 1 0 0.5 4.7a2.4 2.3 85 1 0 -0.5 -4.7M494.7 453.6a2.6 2.2 89 1 0 0.1 5.3a2.6 2.2 89 1 0 -0.1 -5.3M498.7 449.5a2.5 1.5 5 1 0 4.9 0.4a2.5 1.5 5 1 0 -4.9 -0.4M460.2 444.4a2.2 2.0 62 1 0 2.1 4.0a2.2 2.0 62 1 0 -2.1 -4.0M487.9 451.7a2.9 2.0 79 1 0 1.1 5.7a2.9 2.0 79 1 0 -1.1 -5.7M471.4 456.7a2.7 2.1 35 1 0 4.5 3.1a2.7 2.1 35 1 0 -4.5 -3.1M486.3 460.4a1.8 1.2 56 1 0 2.0 3.0a1.8 1.2 56 1 0 -2.0 -3.0M491.9 445.0a2.3 1.9 158 1 0 -4.3 1.8a2.3 1.9 158 1 0 4.3 -1.8M461.5 454.4a1.7 1.4 56 1 0 1.9 2.8a1.7 1.4 56 1 0 -1.9 -2.8M494.2 459.7a2.5 2.1 71 1 0 1.6 4.8a2.5 2.1 71 1 0 -1.6 -4.8M497.3 466.2a2.7 2.6 81 1 0 0.8 5.3a2.7 2.6 81 1 0 -0.8 -5.3M492.8 455.2a2.0 1.9 160 1 0 -3.8 1.4a2.0 1.9 160 1 0 3.8 -1.4M482.4 453.0a2.6 2.5 151 1 0 -4.6 2.5a2.6 2.5 151 1 0 4.6 -2.5M501.1 458.4a3.0 2.7 73 1 0 1.7 5.7a3.0 2.7 73 1 0 -1.7 -5.7M483.9 448.2a1.9 1.6 54 1 0 2.2 3.1a1.9 1.6 54 1 0 -2.2 -3.1M465.0 451.6a2.5 1.9 7 1 0 5.0 0.6a2.5 1.9 7 1 0 -5.0 -0.6M469.3 467.3a2.3 2.1 122 1 0 -2.4 3.8a2.3 2.1 122 1 0 2.4 -3.8M455.4 453.7a2.9 2.5 16 1 0 5.6 1.6a2.9 2.5 16 1 0 -5.6 -1.6M423.3 472.4a1.8 1.6 99 1 0 -0.6 3.6a1.8 1.6 99 1 0 0.6 -3.6M455.6 462.1a2.3 1.8 95 1 0 -0.4 4.6a2.3 1.8 95 1 0 0.4 -4.6M434.8 466.6a2.3 1.5 62 1 0 2.1 4.0a2.3 1.5 62 1 0 -2.1 -4.0M461.9 451.7a2.4 1.6 158 1 0 -4.4 1.8a2.4 1.6 158 1 0 4.4 -1.8M452.9 452.7a2.0 1.5 156 1 0 -3.7 1.6a2.0 1.5 156 1 0 3.7 -1.6M439.8 469.9a2.5 1.9 125 1 0 -2.9 4.1a2.5 1.9 125 1 0 2.9 -4.1M441.2 452.7a1.8 1.6 75 1 0 0.9 3.5a1.8 1.6 75 1 0 -0.9 -3.5M425.9 466.2a2.2 1.7 104 1 0 -1.1 4.3a2.2 1.7 104 1 0 1.1 -4.3M437.3 462.2a2.9 2.6 64 1 0 2.6 5.2a2.9 2.6 64 1 0 -2.6 -5.2M429.4 476.1a2.9 2.1 178 1 0 -5.8 0.2a2.9 2.1 178 1 0 5.8 -0.2M389.3 468.3a2.1 1.7 54 1 0 2.5 3.5a2.1 1.7 54 1 0 -2.5 -3.5M388.5 459.9a3.0 3.0 41 1 0 4.5 4.0a3.0 3.0 41 1 0 -4.5 -4.0M392.8 473.6a1.9 1.2 157 1 0 -3.4 1.5a1.9 1.2 157 1 0 3.4 -1.5M381.2 454.9a1.9 1.6 67 1 0 1.5 3.4a1.9 1.6 67 1 0 -1.5 -3.4M389.2 466.4a2.4 2.4 116 1 0 -2.2 4.3a2.4 2.4 116 1 0 2.2 -4.3M399.4 469.0a2.4 1.5 174 1 0 -4.8 0.5a2.4 1.5 174 1 0 4.8 -0.5M403.4 472.5a2.5 2.0 116 1 0 -2.2 4.5a2.5 2.0 116 1 0 2.2 -4.5M408.7 466.4a2.8 1.9 40 1 0 4.3 3.6a2.8 1.9 40 1 0 -4.3 -3.6M414.9 471.1a2.0 1.3 137 1 0 -2.9 2.7a2.0 1.3 137 1 0 2.9 -2.7M412.9 469.5a2.3 2.2 155 1 0 -4.2 2.0a2.3 2.2 155 1 0 4.2 -2.0M412.0 474.1a2.4 1.8 94 1 0 -0.3 4.8a2.4 1.8 94 1 0 0.3 -4.8M414.2 467.8a2.2 2.0 9 1 0 4.3 0.7a2.2 2.0 9 1 0 -4.3 -0.7M421.7 473.5a2.1 2.0 99 1 0 -0.7 4.2a2.1 2.0 99 1 0 0.7 -4.2M415.3 474.8a2.0 1.4 168 1 0 -3.9 0.8a2.0 1.4 168 1 0 3.9 -0.8M462.3 404.2a2.9 2.2 172 1 0 -5.7 0.8a2.9 2.2 172 1 0 5.7 -0.8M461.7 395.0a2.6 2.0 140 1 0 -4.0 3.4a2.6 2.0 140 1 0 4.0 -3.4M460.1 397.3a2.2 2.2 145 1 0 -3.7 2.6a2.2 2.2 145 1 0 3.7 -2.6M468.9 401.2a2.1 1.7 148 1 0 -3.5 2.2a2.1 1.7 148 1 0 3.5 -2.2M457.4 421.7a1.7 1.7 19 1 0 3.3 1.1a1.7 1.7 19 1 0 -3.3 -1.1M468.0 407.8a2.7 2.0 170 1 0 -5.3 1.0a2.7 2.0 170 1 0 5.3 -1.0M454.9 404.3a2.3 1.6 33 1 0 3.8 2.5a2.3 1.6 33 1 0 -3.8 -2.5"/><path fill="#aaaad0" fill-opacity="0.5" d="M423.6 377.9a2.9 2.8 99 1 0 -0.9 5.8a2.9 2.8 99 1 0 0.9 -5.8M408.0 424.6a2.4 2.3 107 1 0 -1.4 4.5a2.4 2.3 107 1 0 1.4 -4.5M430.2 394.1a2.8 1.8 128 1 0 -3.4 4.4a2.8 1.8 128 1 0 3.4 -4.4M448.1 434.3a1.8 1.5 153 1 0 -3.2 1.6a1.8 1.5 153 1 0 3.2 -1.6M408.8 435.1a2.7 1.9 115 1 0 -2.3 4.9a2.7 1.9 115 1 0 2.3 -4.9M499.9 451.8a2.4 2.0 178 1 0 -4.7 0.1a2.4 2.0 178 1 0 4.7 -0.1M498.5 467.8a2.9 2.9 91 1 0 -0.1 5.9a2.9 2.9 91 1 0 0.1 -5.9M467.1 437.5a1.9 1.4 91 1 0 -0.0 3.8a1.9 1.4 91 1 0 0.0 -3.8M462.9 444.4a2.9 2.8 135 1 0 -4.2 4.1a2.9 2.8 135 1 0 4.2 -4.1M493.5 453.9a2.1 1.6 44 1 0 3.0 2.9a2.1 1.6 44 1 0 -3.0 -2.9M494.0 462.1a2.8 2.1 54 1 0 3.3 4.5a2.8 2.1 54 1 0 -3.3 -4.5M457.3 458.6a2.5 1.9 5 1 0 4.9 0.4a2.5 1.9 5 1 0 -4.9 -0.4M499.5 448.5a1.7 1.7 119 1 0 -1.7 3.0a1.7 1.7 119 1 0 1.7 -3.0M382.0 461.0a2.1 1.9 58 1 0 2.2 3.5a2.1 1.9 58 1 0 -2.2 -3.5M379.6 474.8a2.6 1.7 28 1 0 4.6 2.4a2.6 1.7 28 1 0 -4.6 -2.4M459.9 393.5a2.7 1.8 117 1 0 -2.4 4.9a2.7 1.8 117 1 0 2.4 -4.9"/><path fill="#a0a0cc" fill-opacity="0.75" d="M417.9 381.5a2.1 1.9 8 1 0 4.2 0.6a2.1 1.9 8 1 0 -4.2 -0.6M389.5 379.7a2.7 2.0 52 1 0 3.3 4.3a2.7 2.0 52 1 0 -3.3 -4.3M464.1 383.4a2.9 2.5 142 1 0 -4.5 3.5a2.9 2.5 142 1 0 4.5 -3.5M395.5 381.1a2.8 2.1 138 1 0 -4.2 3.7a2.8 2.1 138 1 0 4.2 -3.7M460.5 381.3a2.7 2.4 159 1 0 -5.1 2.0a2.7 2.4 159 1 0 5.1 -2.0M434.6 383.9a2.1 1.3 4 1 0 4.2 0.3a2.1 1.3 4 1 0 -4.2 -0.3M401.9 387.2a2.3 1.9 169 1 0 -4.6 0.9a2.3 1.9 169 1 0 4.6 -0.9M421.1 384.8a2.8 2.1 70 1 0 1.9 5.2a2.8 2.1 70 1 0 -1.9 -5.2M438.0 385.6a2.5 1.6 166 1 0 -4.8 1.2a2.5 1.6 166 1 0 4.8 -1.2M433.2 381.2a1.9 1.5 23 1 0 3.5 1.5a1.9 1.5 23 1 0 -3.5 -1.5M414.4 384.1a2.3 1.4 158 1 0 -4.2 1.7a2.3 1.4 158 1 0 4.2 -1.7M458.6 382.1a2.8 2.6 106 1 0 -1.5 5.4a2.8 2.6 106 1 0 1.5 -5.4M454.5 381.7a2.9 2.7 74 1 0 1.6 5.6a2.9 2.7 74 1 0 -1.6 -5.6M388.3 386.4a2.8 2.5 7 1 0 5.5 0.7a2.8 2.5 7 1 0 -5.5 -0.7M410.8 425.8a2.6 2.5 90 1 0 0.0 5.1a2.6 2.5 90 1 0 -0.0 -5.1M399.6 411.8a2.0 1.3 93 1 0 -0.2 3.9a2.0 1.3 93 1 0 0.2 -3.9M455.7 402.2a2.4 2.1 163 1 0 -4.7 1.4a2.4 2.1 163 1 0 4.7 -1.4M424.5 403.7a2.3 1.7 7 1 0 4.5 0.5a2.3 1.7 7 1 0 -4.5 -0.5M442.6 394.9a3.0 2.5 63 1 0 2.7 5.3a3.0 2.5 63 1 0 -2.7 -5.3M405.9 389.6a2.7 2.4 75 1 0 1.4 5.3a2.7 2.4 75 1 0 -1.4 -5.3M433.4 391.6a1.8 1.2 122 1 0 -1.9 3.1a1.8 1.2 122 1 0 1.9 -3.1M429.7 392.4a2.8 2.6 14 1 0 5.4 1.4a2.8 2.6 14 1 0 -5.4 -1.4M410.1 405.7a3.0 2.1 94 1 0 -0.4 5.9a3.0 2.1 94 1 0 0.4 -5.9M440.2 415.5a2.0 1.3 176 1 0 -4.1 0.3a2.0 1.3 176 1 0 4.1 -0.3M418.8 411.3a2.5 2.2 34 1 0 4.2 2.9a2.5 2.2 34 1 0 -4.2 -2.9M446.9 390.8a2.3 1.6 140 1 0 -3.6 3.0a2.3 1.6 140 1 0 3.6 -3.0M408.3 420.5a2.3 1.6 30 1 0 3.9 2.3a2.3 1.6 30 1 0 -3.9 -2.3M447.2 400.5a2.3 2.2 140 1 0 -3.5 3.0a2.3 2.2 140 1 0 3.5 -3.0M411.3 419.0a2.6 2.6 31 1 0 4.5 2.7a2.6 2.6 31 1 0 -4.5 -2.7M417.6 401.6a2.7 1.8 107 1 0 -1.6 5.1a2.7 1.8 107 1 0 1.6 -5.1M438.8 423.1a1.8 1.2 25 1 0 3.3 1.5a1.8 1.2 25 1 0 -3.3 -1.5M430.5 405.0a2.1 2.0 64 1 0 1.8 3.7a2.1 2.0 64 1 0 -1.8 -3.7M433.6 393.5a2.8 2.5 128 1 0 -3.5 4.4a2.8 2.5 128 1 0 3.5 -4.4M407.0 392.5a1.9 1.6 38 1 0 2.9 2.3a1.9 1.6 38 1 0 -2.9 -2.3M456.6 409.8a2.8 1.9 161 1 0 -5.2 1.8a2.8 1.9 161 1 0 5.2 -1.8M415.1 405.8a2.3 1.5 117 1 0 -2.1 4.1a2.3 1.5 117 1 0 2.1 -4.1M425.8 413.9a2.7 2.6 95 1 0 -0.5 5.4a2.7 2.6 95 1 0 0.5 -5.4M424.0 420.1a2.9 1.9 33 1 0 4.9 3.2a2.9 1.9 33 1 0 -4.9 -3.2M422.2 426.9a2.6 2.4 120 1 0 -2.6 4.4a2.6 2.4 120 1 0 2.6 -4.4M431.6 427.0a2.2 1.6 25 1 0 4.0 1.9a2.2 1.6 25 1 0 -4.0 -1.9M426.6 424.0a2.1 1.5 38 1 0 3.3 2.6a2.1 1.5 38 1 0 -3.3 -2.6M425.3 406.8a2.6 2.1 66 1 0 2.1 4.8a2.6 2.1 66 1 0 -2.1 -4.8M386.8 416.0a2.9 2.1 58 1 0 3.1 4.8a2.9 2.1 58 1 0 -3.1 -4.8M390.4 419.3a2.2 1.4 139 1 0 -3.4 2.9a2.2 1.4 139 1 0 3.4 -2.9M378.0 412.3a2.4 2.4 47 1 0 3.3 3.5a2.4 2.4 47 1 0 -3.3 -3.5M379.3 410.9a2.0 1.9 140 1 0 -3.1 2.6a2.0 1.9 140 1 0 3.1 -2.6M375.7 407.9a2.7 2.3 40 1 0 4.1 3.5a2.7 2.3 40 1 0 -4.1 -3.5M387.5 412.7a2.3 2.0 97 1 0 -0.6 4.5a2.3 2.0 97 1 0 0.6 -4.5M379.0 422.8a2.4 1.8 113 1 0 -1.9 4.4a2.4 1.8 113 1 0 1.9 -4.4M388.2 427.3a2.1 1.8 49 1 0 2.7 3.1a2.1 1.8 49 1 0 -2.7 -3.1M451.0 430.1a1.8 1.3 164 1 0 -3.5 1.0a1.8 1.3 164 1 0 3.5 -1.0M383.1 437.8a2.8 2.0 16 1 0 5.3 1.5a2.8 2.0 16 1 0 -5.3 -1.5M400.6 429.0a2.7 1.8 10 1 0 5.3 1.0a2.7 1.8 10 1 0 -5.3 -1.0M392.6 438.8a2.7 1.9 149 1 0 -4.5 2.8a2.7 1.9 149 1 0 4.5 -2.8M458.1 431.5a2.3 2.1 94 1 0 -0.3 4.5a2.3 2.1 94 1 0 0.3 -4.5M426.2 431.6a3.0 1.8 115 1 0 -2.5 5.4a3.0 1.8 115 1 0 2.5 -5.4M405.3 430.2a2.2 1.6 170 1 0 -4.4 0.7a2.2 1.6 170 1 0 4.4 -0.7M396.8 435.3a2.6 2.4 174 1 0 -5.1 0.6a2.6 2.4 174 1 0 5.1 -0.6M458.6 433.8a2.1 1.7 107 1 0 -1.2 4.0a2.1 1.7 107 1 0 1.2 -4.0M394.9 436.4a2.7 1.7 161 1 0 -5.1 1.8a2.7 1.7 161 1 0 5.1 -1.8M411.1 439.7a2.4 1.7 173 1 0 -4.8 0.5a2.4 1.7 173 1 0 4.8 -0.5M385.8 431.0a2.3 2.0 6 1 0 4.6 0.5a2.3 2.0 6 1 0 -4.6 -0.5M457.4 438.9a2.1 1.5 178 1 0 -4.1 0.1a2.1 1.5 178 1 0 4.1 -0.1M394.8 437.6a2.5 2.1 2 1 0 5.1 0.2a2.5 2.1 2 1 0 -5.1 -0.2M411.8 438.4a2.2 1.6 59 1 0 2.3 3.8a2.2 1.6 59 1 0 -2.3 -3.8M488.3 472.0a2.6 2.1 140 1 0 -4.0 3.4a2.6 2.1 140 1 0 4.0 -3.4M463.4 467.3a2.3 1.6 148 1 0 -3.9 2.4a2.3 1.6 148 1 0 3.9 -2.4M461.9 445.3a2.9 1.9 17 1 0 5.5 1.7a2.9 1.9 17 1 0 -5.5 -1.7M461.7 457.2a2.8 2.4 95 1 0 -0.5 5.5a2.8 2.4 95 1 0 0.5 -5.5M490.3 472.3a3.0 2.3 53 1 0 3.6 4.8a3.0 2.3 53 1 0 -3.6 -4.8M495.6 474.5a2.5 2.3 39 1 0 4.0 3.2a2.5 2.3 39 1 0 -4.0 -3.2M456.7 443.6a2.0 1.5 0 1 0 3.9 0.0a2.0 1.5 0 1 0 -3.9 -0.0M474.1 468.9a2.1 1.4 180 1 0 -4.2 0.0a2.1 1.4 180 1 0 4.2 -0.0M491.5 439.2a2.8 2.4 83 1 0 0.7 5.6a2.8 2.4 83 1 0 -0.7 -5.6M499.9 458.5a2.5 2.4 157 1 0 -4.6 2.0a2.5 2.4 157 1 0 4.6 -2.0M494.5 464.9a1.9 1.3 55 1 0 2.2 3.2a1.9 1.3 55 1 0 -2.2 -3.2M482.6 463.1a2.7 1.7 44 1 0 3.8 3.7a2.7 1.7 44 1 0 -3.8 -3.7M482.4 441.0a1.8 1.7 16 1 0 3.4 1.0a1.8 1.7 16 1 0 -3.4 -1.0M459.0 444.7a1.8 1.5 81 1 0 0.5 3.5a1.8 1.5 81 1 0 -0.5 -3.5M479.8 442.3a1.9 1.7 140 1 0 -2.8 2.4a1.9 1.7 140 1 0 2.8 -2.4M470.2 441.6a2.3 2.1 81 1 0 0.7 4.6a2.3 2.1 81 1 0 -0.7 -4.6M487.4 449.0a2.6 1.9 161 1 0 -4.9 1.7a2.6 1.9 161 1 0 4.9 -1.7M481.6 473.5a2.5 2.4 100 1 0 -0.9 5.0a2.5 2.4 100 1 0 0.9 -5.0M468.0 471.1a2.8 2.6 112 1 0 -2.2 5.2a2.8 2.6 112 1 0 2.2 -5.2M465.7 459.7a2.9 2.8 88 1 0 0.2 5.8a2.9 2.8 88 1 0 -0.2 -5.8M482.3 462.2a2.6 2.1 46 1 0 3.6 3.7a2.6 2.1 46 1 0 -3.6 -3.7M494.8 471.2a2.4 1.5 61 1 0 2.4 4.2a2.4 1.5 61 1 0 -2.4 -4.2M498.5 451.0a2.5 1.6 65 1 0 2.1 4.5a2.5 1.6 65 1 0 -2.1 -4.5M498.5 456.6a2.3 1.7 134 1 0 -3.2 3.3a2.3 1.7 134 1 0 3.2 -3.3M478.5 454.4a2.5 2.1 18 1 0 4.7 1.5a2.5 2.1 18 1 0 -4.7 -1.5M465.5 451.5a2.7 2.4 9 1 0 5.4 0.8a2.7 2.4 9 1 0 -5.4 -0.8M500.8 461.7a2.8 2.0 160 1 0 -5.2 1.9a2.8 2.0 160 1 0 5.2 -1.9M480.0 442.0a2.5 1.9 101 1 0 -1.0 4.9a2.5 1.9 101 1 0 1.0 -4.9M458.9 468.7a2.8 1.9 149 1 0 -4.8 2.9a2.8 1.9 149 1 0 4.8 -2.9M441.3 449.4a2.2 2.0 46 1 0 3.0 3.1a2.2 2.0 46 1 0 -3.0 -3.1M433.7 464.6a2.2 1.4 165 1 0 -4.2 1.2a2.2 1.4 165 1 0 4.2 -1.2M428.5 454.1a3.0 2.2 36 1 0 4.8 3.5a3.0 2.2 36 1 0 -4.8 -3.5M455.3 471.1a2.3 1.7 139 1 0 -3.5 3.0a2.3 1.7 139 1 0 3.5 -3.0M428.0 451.4a2.2 1.5 13 1 0 4.2 1.0a2.2 1.5 13 1 0 -4.2 -1.0M442.1 475.3a2.2 1.4 130 1 0 -2.8 3.3a2.2 1.4 130 1 0 2.8 -3.3M437.3 454.6a2.6 2.0 75 1 0 1.3 5.0a2.6 2.0 75 1 0 -1.3 -5.0M434.0 466.3a1.7 1.4 8 1 0 3.4 0.5a1.7 1.4 8 1 0 -3.4 -0.5M438.4 461.0a2.1 1.7 125 1 0 -2.4 3.4a2.1 1.7 125 1 0 2.4 -3.4M438.1 475.0a2.8 2.7 147 1 0 -4.8 3.1a2.8 2.7 147 1 0 4.8 -3.1M433.1 460.9a1.9 1.9 68 1 0 1.4 3.5a1.9 1.9 68 1 0 -1.4 -3.5M388.4 473.5a1.7 1.3 95 1 0 -0.3 3.4a1.7 1.3 95 1 0 0.3 -3.4M384.1 453.2a2.9 1.8 4 1 0 5.7 0.4a2.9 1.8 4 1 0 -5.7 -0.4M385.5 473.9a2.0 1.4 6 1 0 3.9 0.4a2.0 1.4 6 1 0 -3.9 -0.4M375.8 465.1a2.8 1.9 46 1 0 3.8 4.0a2.8 1.9 46 1 0 -3.8 -4.0M379.4 475.6a2.3 2.2 144 1 0 -3.7 2.6a2.3 2.2 144 1 0 3.7 -2.6M383.5 454.3a2.2 1.7 74 1 0 1.2 4.2a2.2 1.7 74 1 0 -1.2 -4.2M389.2 469.9a2.9 2.2 149 1 0 -5.0 3.0a2.9 2.2 149 1 0 5.0 -3.0M379.9 465.0a2.8 2.4 119 1 0 -2.7 4.8a2.8 2.4 119 1 0 2.7 -4.8M386.4 473.1a2.8 1.9 117 1 0 -2.5 5.0a2.8 1.9 117 1 0 2.5 -5.0M378.3 469.3a2.9 2.0 106 1 0 -1.6 5.6a2.9 2.0 106 1 0 1.6 -5.6M403.7 466.8a2.8 2.0 140 1 0 -4.3 3.6a2.8 2.0 140 1 0 4.3 -3.6M398.7 473.8a1.8 1.4 50 1 0 2.3 2.7a1.8 1.4 50 1 0 -2.3 -2.7M466.6 402.9a2.0 1.3 87 1 0 0.2 3.9a2.0 1.3 87 1 0 -0.2 -3.9"/><path fill="#b4b4d8" fill-opacity="0.5" d="M452.8 382.6a2.0 1.7 29 1 0 3.6 1.9a2.0 1.7 29 1 0 -3.6 -1.9M398.9 380.1a2.7 2.2 175 1 0 -5.3 0.5a2.7 2.2 175 1 0 5.3 -0.5M401.3 402.7a1.8 1.4 17 1 0 3.5 1.1a1.8 1.4 17 1 0 -3.5 -1.1M408.5 409.7a2.5 2.1 11 1 0 5.0 1.0a2.5 2.1 11 1 0 -5.0 -1.0M407.9 417.0a2.9 2.0 73 1 0 1.7 5.5a2.9 2.0 73 1 0 -1.7 -5.5M409.3 393.0a2.1 1.9 113 1 0 -1.6 3.8a2.1 1.9 113 1 0 1.6 -3.8M438.0 420.4a2.8 2.1 127 1 0 -3.4 4.5a2.8 2.1 127 1 0 3.4 -4.5M455.7 438.0a1.8 1.6 99 1 0 -0.6 3.6a1.8 1.6 99 1 0 0.6 -3.6M453.6 441.2a1.9 1.4 138 1 0 -2.9 2.6a1.9 1.4 138 1 0 2.9 -2.6M411.1 437.6a2.6 2.4 10 1 0 5.0 0.9a2.6 2.4 10 1 0 -5.0 -0.9M420.1 469.5a2.6 2.1 98 1 0 -0.7 5.1a2.6 2.1 98 1 0 0.7 -5.1"/><path fill="#aaaad0" fill-opacity="1.0" d="M412.9 384.2a2.0 1.8 144 1 0 -3.2 2.3a2.0 1.8 144 1 0 3.2 -2.3M436.1 383.1a2.9 2.3 164 1 0 -5.6 1.6a2.9 2.3 164 1 0 5.6 -1.6M427.9 401.4a2.6 2.6 160 1 0 -4.9 1.8a2.6 2.6 160 1 0 4.9 -1.8M405.0 403.7a1.8 1.4 39 1 0 2.9 2.3a1.8 1.4 39 1 0 -2.9 -2.3M432.8 420.6a2.3 2.2 53 1 0 2.8 3.7a2.3 2.2 53 1 0 -2.8 -3.7M436.7 419.3a2.1 1.8 68 1 0 1.6 4.0a2.1 1.8 68 1 0 -1.6 -4.0M387.3 438.2a2.0 1.6 122 1 0 -2.1 3.4a2.0 1.6 122 1 0 2.1 -3.4M434.7 429.5a3.0 2.1 5 1 0 6.0 0.6a3.0 2.1 5 1 0 -6.0 -0.6M391.9 440.2a2.7 2.4 177 1 0 -5.3 0.2a2.7 2.4 177 1 0 5.3 -0.2M470.7 443.9a1.8 1.8 137 1 0 -2.6 2.5a1.8 1.8 137 1 0 2.6 -2.5M437.4 454.0a2.6 1.7 158 1 0 -4.8 1.9a2.6 1.7 158 1 0 4.8 -1.9M450.6 472.9a2.8 2.3 67 1 0 2.3 5.2a2.8 2.3 67 1 0 -2.3 -5.2M376.7 452.6a2.6 2.2 11 1 0 5.1 1.0a2.6 2.2 11 1 0 -5.1 -1.0"/><path fill="#9890bc" fill-opacity="0.5" d="M435.6 390.3a2.4 2.2 165 1 0 -4.7 1.3a2.4 2.2 165 1 0 4.7 -1.3M455.6 388.6a2.2 2.2 75 1 0 1.1 4.2a2.2 2.2 75 1 0 -1.1 -4.2M439.2 394.2a2.6 1.7 128 1 0 -3.2 4.0a2.6 1.7 128 1 0 3.2 -4.0M373.9 398.8a2.5 1.6 21 1 0 4.6 1.8a2.5 1.6 21 1 0 -4.6 -1.8M378.6 410.2a2.1 1.5 149 1 0 -3.6 2.2a2.1 1.5 149 1 0 3.6 -2.2M450.4 431.0a2.9 1.9 126 1 0 -3.5 4.7a2.9 1.9 126 1 0 3.5 -4.7M397.8 433.5a2.2 1.8 117 1 0 -2.0 4.0a2.2 1.8 117 1 0 2.0 -4.0M413.1 434.3a2.1 1.9 91 1 0 -0.1 4.3a2.1 1.9 91 1 0 0.1 -4.3M398.9 437.9a2.6 2.6 96 1 0 -0.5 5.2a2.6 2.6 96 1 0 0.5 -5.2M500.3 474.6a2.1 1.3 154 1 0 -3.9 1.9a2.1 1.3 154 1 0 3.9 -1.9M469.6 438.9a2.9 2.2 157 1 0 -5.3 2.2a2.9 2.2 157 1 0 5.3 -2.2M376.7 454.0a2.3 2.2 51 1 0 2.9 3.6a2.3 2.2 51 1 0 -2.9 -3.6M422.4 476.0a2.0 1.6 168 1 0 -3.9 0.8a2.0 1.6 168 1 0 3.9 -0.8"/><path fill="#9294c2" fill-opacity="0.5" d="M391.1 385.6a2.3 2.2 109 1 0 -1.6 4.4a2.3 2.2 109 1 0 1.6 -4.4M449.8 408.0a2.4 1.7 8 1 0 4.7 0.6a2.4 1.7 8 1 0 -4.7 -0.6M413.4 395.5a2.8 1.7 111 1 0 -2.0 5.2a2.8 1.7 111 1 0 2.0 -5.2M383.8 419.6a2.3 2.0 55 1 0 2.7 3.7a2.3 2.0 55 1 0 -2.7 -3.7M442.4 431.7a2.5 2.2 158 1 0 -4.6 1.9a2.5 2.2 158 1 0 4.6 -1.9M486.1 473.2a1.9 1.9 132 1 0 -2.6 2.9a1.9 1.9 132 1 0 2.6 -2.9M478.3 441.9a2.8 2.7 48 1 0 3.8 4.1a2.8 2.7 48 1 0 -3.8 -4.1M468.0 447.3a2.7 1.8 46 1 0 3.7 3.8a2.7 1.8 46 1 0 -3.7 -3.8M499.4 468.8a2.4 1.4 67 1 0 1.9 4.4a2.4 1.4 67 1 0 -1.9 -4.4M408.7 467.3a2.9 2.0 93 1 0 -0.4 5.8a2.9 2.0 93 1 0 0.4 -5.8"/><path fill="#a0a0cc" fill-opacity="0.5" d="M448.6 383.6a2.0 1.6 174 1 0 -4.0 0.4a2.0 1.6 174 1 0 4.0 -0.4M395.1 382.0a2.1 2.0 160 1 0 -3.9 1.4a2.1 2.0 160 1 0 3.9 -1.4M419.5 435.3a2.5 1.9 137 1 0 -3.7 3.5a2.5 1.9 137 1 0 3.7 -3.5M419.5 430.5a2.0 1.2 7 1 0 3.9 0.5a2.0 1.2 7 1 0 -3.9 -0.5M411.3 434.2a2.6 1.9 139 1 0 -4.0 3.4a2.6 1.9 139 1 0 4.0 -3.4M427.0 432.0a1.8 1.2 74 1 0 1.0 3.4a1.8 1.2 74 1 0 -1.0 -3.4M450.0 471.9a2.3 1.5 93 1 0 -0.2 4.6a2.3 1.5 93 1 0 0.2 -4.6M373.8 463.0a2.3 1.8 18 1 0 4.4 1.4a2.3 1.8 18 1 0 -4.4 -1.4M467.3 406.0a2.9 2.0 94 1 0 -0.4 5.8a2.9 2.0 94 1 0 0.4 -5.8M460.8 412.6a2.8 2.6 46 1 0 3.8 4.0a2.8 2.6 46 1 0 -3.8 -4.0"/><path fill="#b4b4d8" fill-opacity="0.75" d="M453.1 380.2a2.1 2.0 76 1 0 1.0 4.1a2.1 2.0 76 1 0 -1.0 -4.1M385.8 381.0a2.5 1.6 20 1 0 4.8 1.7a2.5 1.6 20 1 0 -4.8 -1.7M423.9 383.9a2.5 1.9 45 1 0 3.5 3.6a2.5 1.9 45 1 0 -3.5 -3.6M405.8 388.4a2.6 2.4 124 1 0 -2.8 4.3a2.6 2.4 124 1 0 2.8 -4.3M445.2 387.3a2.4 2.4 47 1 0 3.3 3.5a2.4 2.4 47 1 0 -3.3 -3.5M394.7 388.0a1.7 1.2 2 1 0 3.4 0.1a1.7 1.2 2 1 0 -3.4 -0.1M456.1 389.7a2.8 2.5 126 1 0 -3.3 4.6a2.8 2.5 126 1 0 3.3 -4.6M434.7 380.7a2.1 1.7 160 1 0 -3.9 1.4a2.1 1.7 160 1 0 3.9 -1.4M433.1 384.8a1.9 1.5 12 1 0 3.8 0.8a1.9 1.5 12 1 0 -3.8 -0.8M436.6 414.2a2.1 2.1 141 1 0 -3.3 2.7a2.1 2.1 141 1 0 3.3 -2.7M439.0 419.2a2.7 2.4 47 1 0 3.7 4.0a2.7 2.4 47 1 0 -3.7 -4.0M427.3 394.4a2.0 2.0 33 1 0 3.3 2.2a2.0 2.0 33 1 0 -3.3 -2.2M443.2 392.8a2.5 1.7 29 1 0 4.4 2.4a2.5 1.7 29 1 0 -4.4 -2.4M450.9 410.7a2.4 2.1 24 1 0 4.3 1.9a2.4 2.1 24 1 0 -4.3 -1.9M437.1 391.9a2.9 1.9 138 1 0 -4.4 3.9a2.9 1.9 138 1 0 4.4 -3.9M434.3 395.5a2.3 2.0 98 1 0 -0.6 4.6a2.3 2.0 98 1 0 0.6 -4.6M409.8 395.1a2.9 2.8 127 1 0 -3.5 4.7a2.9 2.8 127 1 0 3.5 -4.7M439.4 405.8a2.6 2.5 104 1 0 -1.2 5.1a2.6 2.5 104 1 0 1.2 -5.1M442.0 397.9a2.4 2.3 79 1 0 0.9 4.7a2.4 2.3 79 1 0 -0.9 -4.7M441.2 396.8a2.1 1.4 97 1 0 -0.6 4.2a2.1 1.4 97 1 0 0.6 -4.2M431.3 398.3a2.5 1.7 3 1 0 5.1 0.3a2.5 1.7 3 1 0 -5.1 -0.3M426.1 407.8a3.0 1.9 67 1 0 2.3 5.5a3.0 1.9 67 1 0 -2.3 -5.5M412.6 415.2a2.7 2.2 140 1 0 -4.1 3.4a2.7 2.2 140 1 0 4.1 -3.4M418.0 411.3a2.7 1.8 55 1 0 3.1 4.5a2.7 1.8 55 1 0 -3.1 -4.5M414.6 403.0a2.1 1.8 79 1 0 0.8 4.1a2.1 1.8 79 1 0 -0.8 -4.1M441.0 410.4a1.9 1.9 127 1 0 -2.4 3.1a1.9 1.9 127 1 0 2.4 -3.1M419.2 410.0a2.7 2.0 59 1 0 2.8 4.6a2.7 2.0 59 1 0 -2.8 -4.6M451.8 405.6a2.3 2.0 91 1 0 -0.1 4.6a2.3 2.0 91 1 0 0.1 -4.6M447.7 394.1a2.4 1.7 114 1 0 -1.9 4.4a2.4 1.7 114 1 0 1.9 -4.4M441.2 422.9a3.0 2.7 38 1 0 4.7 3.6a3.0 2.7 38 1 0 -4.7 -3.6M417.6 391.8a2.0 1.8 115 1 0 -1.7 3.7a2.0 1.8 115 1 0 1.7 -3.7M436.5 426.4a2.3 1.7 79 1 0 0.9 4.4a2.3 1.7 79 1 0 -0.9 -4.4M416.3 393.9a2.5 1.7 65 1 0 2.1 4.5a2.5 1.7 65 1 0 -2.1 -4.5M428.9 401.6a2.2 1.8 154 1 0 -4.0 2.0a2.2 1.8 154 1 0 4.0 -2.0M427.0 411.5a2.7 1.8 77 1 0 1.2 5.2a2.7 1.8 77 1 0 -1.2 -5.2M441.6 424.6a2.8 2.7 123 1 0 -3.0 4.6a2.8 2.7 123 1 0 3.0 -4.6M415.5 400.0a2.7 2.3 111 1 0 -1.9 5.1a2.7 2.3 111 1 0 1.9 -5.1M426.3 391.4a2.1 1.7 78 1 0 0.8 4.1a2.1 1.7 78 1 0 -0.8 -4.1M429.6 398.3a1.7 1.1 58 1 0 1.9 2.9a1.7 1.1 58 1 0 -1.9 -2.9M376.6 416.5a2.8 1.9 94 1 0 -0.3 5.6a2.8 1.9 94 1 0 0.3 -5.6M381.0 402.2a2.5 1.5 121 1 0 -2.5 4.2a2.5 1.5 121 1 0 2.5 -4.2M386.7 406.0a2.4 2.1 9 1 0 4.8 0.7a2.4 2.1 9 1 0 -4.8 -0.7M383.6 410.5a2.2 1.4 39 1 0 3.4 2.8a2.2 1.4 39 1 0 -3.4 -2.8M386.4 397.6a2.6 2.4 56 1 0 3.0 4.4a2.6 2.4 56 1 0 -3.0 -4.4M382.7 428.3a2.5 2.1 7 1 0 5.0 0.6a2.5 2.1 7 1 0 -5.0 -0.6M382.7 425.0a1.7 1.4 172 1 0 -3.4 0.5a1.7 1.4 172 1 0 3.4 -0.5M386.9 410.0a2.9 2.6 104 1 0 -1.4 5.6a2.9 2.6 104 1 0 1.4 -5.6M443.1 438.9a2.8 1.7 35 1 0 4.5 3.2a2.8 1.7 35 1 0 -4.5 -3.2M388.7 431.5a1.8 1.4 162 1 0 -3.3 1.1a1.8 1.4 162 1 0 3.3 -1.1M405.8 437.8a2.6 2.1 14 1 0 5.1 1.2a2.6 2.1 14 1 0 -5.1 -1.2M387.3 433.1a2.0 1.4 159 1 0 -3.8 1.5a2.0 1.4 159 1 0 3.8 -1.5M408.3 426.9a2.8 2.2 68 1 0 2.1 5.2a2.8 2.2 68 1 0 -2.1 -5.2M407.8 428.1a2.3 1.8 129 1 0 -2.9 3.6a2.3 1.8 129 1 0 2.9 -3.6M392.5 435.6a2.2 1.9 160 1 0 -4.2 1.5a2.2 1.9 160 1 0 4.2 -1.5M439.3 430.8a2.6 2.0 150 1 0 -4.5 2.6a2.6 2.0 150 1 0 4.5 -2.6M441.4 439.7a2.8 2.2 164 1 0 -5.3 1.5a2.8 2.2 164 1 0 5.3 -1.5M389.7 432.4a2.0 1.5 95 1 0 -0.3 4.1a2.0 1.5 95 1 0 0.3 -4.1M403.6 437.6a2.6 2.3 173 1 0 -5.1 0.6a2.6 2.3 173 1 0 5.1 -0.6M420.8 432.4a2.1 1.3 107 1 0 -1.2 4.0a2.1 1.3 107 1 0 1.2 -4.0M412.4 435.2a2.0 1.4 164 1 0 -3.9 1.1a2.0 1.4 164 1 0 3.9 -1.1M408.2 439.5a2.7 1.8 9 1 0 5.4 0.9a2.7 1.8 9 1 0 -5.4 -0.9M438.9 435.3a2.7 1.9 156 1 0 -4.9 2.2a2.7 1.9 156 1 0 4.9 -2.2M464.9 452.9a1.8 1.2 167 1 0 -3.5 0.8a1.8 1.2 167 1 0 3.5 -0.8M483.1 461.6a2.0 1.5 139 1 0 -2.9 2.6a2.0 1.5 139 1 0 2.9 -2.6M460.4 456.9a2.0 1.7 135 1 0 -2.9 2.9a2.0 1.7 135 1 0 2.9 -2.9M461.3 470.2a2.0 1.3 99 1 0 -0.7 4.0a2.0 1.3 99 1 0 0.7 -4.0M490.1 467.2a1.9 1.3 45 1 0 2.7 2.7a1.9 1.3 45 1 0 -2.7 -2.7M491.6 458.9a2.2 1.4 71 1 0 1.4 4.2a2.2 1.4 71 1 0 -1.4 -4.2M501.0 467.2a2.7 2.6 92 1 0 -0.2 5.4a2.7 2.6 92 1 0 0.2 -5.4M470.4 442.4a1.9 1.2 79 1 0 0.7 3.8a1.9 1.2 79 1 0 -0.7 -3.8M485.3 452.5a2.3 2.1 143 1 0 -3.7 2.7a2.3 2.1 143 1 0 3.7 -2.7M487.7 465.1a3.0 1.9 59 1 0 3.0 5.1a3.0 1.9 59 1 0 -3.0 -5.1M461.1 434.8a2.9 2.1 57 1 0 3.1 4.8a2.9 2.1 57 1 0 -3.1 -4.8M470.8 446.9a1.8 1.4 167 1 0 -3.5 0.8a1.8 1.4 167 1 0 3.5 -0.8M490.1 469.6a1.8 1.5 10 1 0 3.5 0.6a1.8 1.5 10 1 0 -3.5 -0.6M483.8 440.1a2.7 1.9 138 1 0 -4.1 3.7a2.7 1.9 138 1 0 4.1 -3.7M474.1 453.2a1.9 1.9 109 1 0 -1.3 3.6a1.9 1.9 109 1 0 1.3 -3.6M487.5 442.7a2.9 2.0 172 1 0 -5.8 0.8a2.9 2.0 172 1 0 5.8 -0.8M501.9 468.9a2.4 1.5 116 1 0 -2.1 4.4a2.4 1.5 116 1 0 2.1 -4.4M484.5 442.1a2.4 1.7 84 1 0 0.5 4.8a2.4 1.7 84 1 0 -0.5 -4.8M485.4 457.5a2.8 2.6 3 1 0 5.6 0.3a2.8 2.6 3 1 0 -5.6 -0.3M477.5 454.8a2.7 2.1 125 1 0 -3.2 4.5a2.7 2.1 125 1 0 3.2 -4.5M494.5 470.5a3.0 2.1 148 1 0 -5.0 3.1a3.0 2.1 148 1 0 5.0 -3.1M481.8 443.4a3.0 2.1 104 1 0 -1.5 5.7a3.0 2.1 104 1 0 1.5 -5.7M484.8 465.5a2.7 2.7 158 1 0 -5.1 2.1a2.7 2.7 158 1 0 5.1 -2.1M489.3 443.2a2.7 1.9 30 1 0 4.6 2.7a2.7 1.9 30 1 0 -4.6 -2.7M441.3 462.7a2.4 2.0 172 1 0 -4.7 0.6a2.4 2.0 172 1 0 4.7 -0.6M425.7 451.7a2.6 2.0 135 1 0 -3.7 3.6a2.6 2.0 135 1 0 3.7 -3.6M431.5 460.8a2.2 1.6 166 1 0 -4.3 1.1a2.2 1.6 166 1 0 4.3 -1.1M447.9 472.3a2.9 2.4 19 1 0 5.5 1.9a2.9 2.4 19 1 0 -5.5 -1.9M428.0 472.7a2.0 1.7 34 1 0 3.3 2.2a2.0 1.7 34 1 0 -3.3 -2.2M449.0 450.5a2.1 2.0 103 1 0 -1.0 4.2a2.1 2.0 103 1 0 1.0 -4.2M447.4 451.5a2.0 1.6 88 1 0 0.1 4.0a2.0 1.6 88 1 0 -0.1 -4.0M449.0 464.8a2.3 2.3 147 1 0 -3.9 2.6a2.3 2.3 147 1 0 3.9 -2.6M442.1 457.2a2.1 1.7 180 1 0 -4.2 0.0a2.1 1.7 180 1 0 4.2 -0.0M429.8 461.6a2.5 2.0 38 1 0 4.0 3.2a2.5 2.0 38 1 0 -4.0 -3.2M441.6 474.1a2.2 1.8 63 1 0 2.0 3.9a2.2 1.8 63 1 0 -2.0 -3.9M456.9 471.4a2.0 1.3 107 1 0 -1.1 3.8a2.0 1.3 107 1 0 1.1 -3.8M431.0 449.7a2.9 2.8 168 1 0 -5.7 1.2a2.9 2.8 168 1 0 5.7 -1.2M442.5 472.4a2.2 1.7 43 1 0 3.2 2.9a2.2 1.7 43 1 0 -3.2 -2.9M455.2 459.5a2.5 2.0 95 1 0 -0.4 4.9a2.5 2.0 95 1 0 0.4 -4.9M441.2 451.2a1.9 1.8 99 1 0 -0.6 3.8a1.9 1.8 99 1 0 0.6 -3.8M443.4 457.4a2.6 1.7 152 1 0 -4.6 2.4a2.6 1.7 152 1 0 4.6 -2.4M440.0 463.5a2.6 1.7 163 1 0 -5.0 1.6a2.6 1.7 163 1 0 5.0 -1.6M388.4 468.5a2.2 1.5 140 1 0 -3.4 2.8a2.2 1.5 140 1 0 3.4 -2.8M380.4 471.5a2.9 1.9 154 1 0 -5.2 2.5a2.9 1.9 154 1 0 5.2 -2.5M390.3 471.9a2.6 1.6 101 1 0 -1.0 5.0a2.6 1.6 101 1 0 1.0 -5.0M385.3 454.9a2.8 1.8 64 1 0 2.5 5.1a2.8 1.8 64 1 0 -2.5 -5.1M378.9 447.6a2.8 2.2 93 1 0 -0.3 5.7a2.8 2.2 93 1 0 0.3 -5.7M468.8 397.7a1.8 1.5 174 1 0 -3.6 0.4a1.8 1.5 174 1 0 3.6 -0.4M454.3 406.6a2.5 1.7 62 1 0 2.4 4.4a2.5 1.7 62 1 0 -2.4 -4.4M467.4 408.0a2.4 2.3 116 1 0 -2.1 4.4a2.4 2.3 116 1 0 2.1 -4.4M460.8 399.5a2.5 1.6 156 1 0 -4.6 2.1a2.5 1.6 156 1 0 4.6 -2.1M457.3 394.2a2.2 1.9 95 1 0 -0.4 4.4a2.2 1.9 95 1 0 0.4 -4.4M463.2 413.9a2.2 1.7 7 1 0 4.3 0.6a2.2 1.7 7 1 0 -4.3 -0.6M466.5 406.8a2.5 2.4 118 1 0 -2.4 4.4a2.5 2.4 118 1 0 2.4 -4.4M465.3 419.2a2.5 2.2 176 1 0 -4.9 0.4a2.5 2.2 176 1 0 4.9 -0.4"/><path fill="#b4b4d8" fill-opacity="1.0" d="M452.2 380.3a1.9 1.5 61 1 0 1.8 3.3a1.9 1.5 61 1 0 -1.8 -3.3M424.6 380.4a2.2 2.0 97 1 0 -0.5 4.3a2.2 2.0 97 1 0 0.5 -4.3M421.2 417.6a2.9 2.7 119 1 0 -2.8 5.1a2.9 2.7 119 1 0 2.8 -5.1M408.5 402.7a2.2 1.6 100 1 0 -0.8 4.3a2.2 1.6 100 1 0 0.8 -4.3M435.1 427.6a2.8 2.6 7 1 0 5.5 0.7a2.8 2.6 7 1 0 -5.5 -0.7M389.4 418.7a2.4 2.2 126 1 0 -2.9 3.9a2.4 2.2 126 1 0 2.9 -3.9M479.4 458.4a2.4 1.9 106 1 0 -1.3 4.6a2.4 1.9 106 1 0 1.3 -4.6M457.3 456.8a2.7 1.8 135 1 0 -3.8 3.8a2.7 1.8 135 1 0 3.8 -3.8M456.2 459.8a1.8 1.3 17 1 0 3.5 1.1a1.8 1.3 17 1 0 -3.5 -1.1M373.3 449.3a2.3 1.6 21 1 0 4.3 1.7a2.3 1.6 21 1 0 -4.3 -1.7M377.9 471.8a2.3 2.3 159 1 0 -4.3 1.7a2.3 2.3 159 1 0 4.3 -1.7M455.0 404.7a2.5 2.4 49 1 0 3.3 3.8a2.5 2.4 49 1 0 -3.3 -3.8"/><path fill="#9890bc" fill-opacity="1.0" d="M403.2 398.1a2.8 2.5 169 1 0 -5.4 1.1a2.8 2.5 169 1 0 5.4 -1.1M453.9 399.1a2.5 2.0 108 1 0 -1.5 4.7a2.5 2.0 108 1 0 1.5 -4.7M443.0 403.0a1.7 1.2 131 1 0 -2.3 2.6a1.7 1.2 131 1 0 2.3 -2.6M427.8 422.7a2.8 2.8 16 1 0 5.5 1.5a2.8 2.8 16 1 0 -5.5 -1.5M493.6 451.4a2.5 1.6 127 1 0 -2.9 3.9a2.5 1.6 127 1 0 2.9 -3.9M394.9 470.7a2.8 2.4 56 1 0 3.2 4.7a2.8 2.4 56 1 0 -3.2 -4.7M414.1 469.8a2.8 2.6 177 1 0 -5.6 0.3a2.8 2.6 177 1 0 5.6 -0.3M467.3 408.1a2.8 1.7 62 1 0 2.7 4.9a2.8 1.7 62 1 0 -2.7 -4.9"/><path fill="#a0a0cc" fill-opacity="1.0" d="M407.4 427.6a2.9 2.9 2 1 0 5.8 0.2a2.9 2.9 2 1 0 -5.8 -0.2M419.8 397.4a2.0 1.6 70 1 0 1.4 3.8a2.0 1.6 70 1 0 -1.4 -3.8M411.6 392.9a2.3 2.0 74 1 0 1.3 4.5a2.3 2.0 74 1 0 -1.3 -4.5M428.9 423.1a1.9 1.3 66 1 0 1.5 3.4a1.9 1.3 66 1 0 -1.5 -3.4M421.4 434.7a2.4 2.3 107 1 0 -1.4 4.5a2.4 2.3 107 1 0 1.4 -4.5M499.9 474.7a2.1 1.8 68 1 0 1.6 3.9a2.1 1.8 68 1 0 -1.6 -3.9M495.9 461.0a1.8 1.4 148 1 0 -3.1 2.0a1.8 1.4 148 1 0 3.1 -2.0M440.2 467.7a2.7 1.8 0 1 0 5.3 0.0a2.7 1.8 0 1 0 -5.3 -0.0"/><path fill="#9294c2" fill-opacity="1.0" d="M423.1 412.6a2.6 1.9 137 1 0 -3.8 3.6a2.6 1.9 137 1 0 3.8 -3.6M445.3 420.4a2.3 2.0 142 1 0 -3.7 2.9a2.3 2.0 142 1 0 3.7 -2.9M383.5 414.3a2.9 1.9 7 1 0 5.8 0.7a2.9 1.9 7 1 0 -5.8 -0.7M450.7 435.4a1.9 1.7 129 1 0 -2.4 3.0a1.9 1.7 129 1 0 2.4 -3.0M457.5 437.2a1.8 1.6 45 1 0 2.5 2.5a1.8 1.6 45 1 0 -2.5 -2.5M471.9 447.0a2.9 2.4 133 1 0 -4.0 4.3a2.9 2.4 133 1 0 4.0 -4.3M471.1 457.1a1.9 1.6 69 1 0 1.3 3.5a1.9 1.6 69 1 0 -1.3 -3.5M464.2 446.1a2.9 1.8 36 1 0 4.8 3.4a2.9 1.8 36 1 0 -4.8 -3.4M435.1 450.4a1.8 1.1 99 1 0 -0.6 3.6a1.8 1.1 99 1 0 0.6 -3.6M386.2 451.9a1.9 1.2 28 1 0 3.3 1.8a1.9 1.2 28 1 0 -3.3 -1.8"/></g>
<path d="M377,382L393,382L392,396L378,398ZM413,402L427,398L441,400L437,410L430,415L420,421L413,418ZM392,405L405,404L406,427L393,428ZM393,444L425,443L417,452L410,462L399,470L392,466ZM470,449L487,449L490,457L486,465L471,465L467,457Z" fill="#f6f6fb" filter="url(#blur1)" opacity="0.9"/>
<path fill="#8a8ec4" fill-opacity="0.5" d="M426.8 429.3a1.0 0.6 82 1 0 0.3 2.0a1.0 0.6 82 1 0 -0.3 -2.0M391.1 448.3a1.0 0.7 71 1 0 0.6 1.8a1.0 0.7 71 1 0 -0.6 -1.8M481.7 416.4a0.9 0.7 41 1 0 1.4 1.2a0.9 0.7 41 1 0 -1.4 -1.2M493.2 459.8a1.3 0.9 147 1 0 -2.2 1.4a1.3 0.9 147 1 0 2.2 -1.4M465.5 399.6a0.9 0.7 97 1 0 -0.2 1.8a0.9 0.7 97 1 0 0.2 -1.8M457.2 464.8a1.2 1.1 56 1 0 1.3 2.0a1.2 1.1 56 1 0 -1.3 -2.0M413.3 455.6a1.2 0.8 41 1 0 1.9 1.6a1.2 0.8 41 1 0 -1.9 -1.6M476.7 425.8a1.3 1.3 178 1 0 -2.7 0.1a1.3 1.3 178 1 0 2.7 -0.1M376.5 444.8a0.9 0.7 168 1 0 -1.7 0.4a0.9 0.7 168 1 0 1.7 -0.4M478.6 464.1a0.9 0.7 85 1 0 0.2 1.8a0.9 0.7 85 1 0 -0.2 -1.8M471.8 448.5a1.2 0.7 34 1 0 2.0 1.4a1.2 0.7 34 1 0 -2.0 -1.4M468.4 420.4a0.9 0.8 58 1 0 1.0 1.5a0.9 0.8 58 1 0 -1.0 -1.5M463.6 447.0a1.4 1.2 26 1 0 2.5 1.2a1.4 1.2 26 1 0 -2.5 -1.2M477.6 446.2a1.0 0.9 100 1 0 -0.4 2.1a1.0 0.9 100 1 0 0.4 -2.1M432.6 394.2a0.7 0.6 104 1 0 -0.4 1.4a0.7 0.6 104 1 0 0.4 -1.4M459.4 408.4a1.1 1.0 3 1 0 2.2 0.1a1.1 1.0 3 1 0 -2.2 -0.1M474.3 416.1a1.1 0.8 170 1 0 -2.1 0.4a1.1 0.8 170 1 0 2.1 -0.4M455.9 402.3a0.8 0.7 135 1 0 -1.1 1.1a0.8 0.7 135 1 0 1.1 -1.1M435.3 422.7a0.8 0.7 168 1 0 -1.5 0.3a0.8 0.7 168 1 0 1.5 -0.3M395.7 385.5a0.8 0.7 14 1 0 1.6 0.4a0.8 0.7 14 1 0 -1.6 -0.4M482.4 406.8a1.3 0.9 140 1 0 -1.9 1.6a1.3 0.9 140 1 0 1.9 -1.6M389.2 461.3a0.7 0.6 36 1 0 1.1 0.8a0.7 0.6 36 1 0 -1.1 -0.8M410.5 429.1a0.8 0.6 126 1 0 -0.9 1.3a0.8 0.6 126 1 0 0.9 -1.3M420.0 452.5a0.8 0.7 70 1 0 0.5 1.4a0.8 0.7 70 1 0 -0.5 -1.4M498.8 405.1a1.2 1.0 2 1 0 2.5 0.1a1.2 1.0 2 1 0 -2.5 -0.1M393.0 419.1a0.9 0.8 146 1 0 -1.4 1.0a0.9 0.8 146 1 0 1.4 -1.0M394.7 421.1a0.9 0.7 131 1 0 -1.2 1.3a0.9 0.7 131 1 0 1.2 -1.3M407.5 411.3a1.2 1.1 102 1 0 -0.5 2.3a1.2 1.1 102 1 0 0.5 -2.3M450.2 445.7a0.9 0.8 50 1 0 1.1 1.3a0.9 0.8 50 1 0 -1.1 -1.3M460.1 382.0a1.0 0.9 153 1 0 -1.7 0.9a1.0 0.9 153 1 0 1.7 -0.9M405.6 457.0a0.7 0.5 32 1 0 1.2 0.8a0.7 0.5 32 1 0 -1.2 -0.8M469.5 428.1a1.0 0.6 177 1 0 -1.9 0.1a1.0 0.6 177 1 0 1.9 -0.1M423.8 406.2a0.9 0.9 158 1 0 -1.7 0.7a0.9 0.9 158 1 0 1.7 -0.7M410.2 381.0a1.0 0.8 177 1 0 -2.0 0.1a1.0 0.8 177 1 0 2.0 -0.1M433.0 446.4a1.4 0.9 125 1 0 -1.6 2.3a1.4 0.9 125 1 0 1.6 -2.3M381.6 464.7a1.1 0.7 126 1 0 -1.3 1.7a1.1 0.7 126 1 0 1.3 -1.7M471.8 394.7a0.9 0.8 11 1 0 1.8 0.3a0.9 0.8 11 1 0 -1.8 -0.3M460.5 472.3a1.4 1.3 152 1 0 -2.4 1.3a1.4 1.3 152 1 0 2.4 -1.3M410.7 450.0a1.0 1.0 129 1 0 -1.3 1.6a1.0 1.0 129 1 0 1.3 -1.6M407.5 383.8a1.0 0.9 111 1 0 -0.7 1.8a1.0 0.9 111 1 0 0.7 -1.8M479.2 458.0a1.3 0.9 143 1 0 -2.1 1.6a1.3 0.9 143 1 0 2.1 -1.6M411.4 449.2a1.1 0.9 62 1 0 1.0 1.9a1.1 0.9 62 1 0 -1.0 -1.9M447.6 450.4a1.3 1.3 76 1 0 0.7 2.6a1.3 1.3 76 1 0 -0.7 -2.6M451.4 469.4a0.9 0.6 116 1 0 -0.8 1.7a0.9 0.6 116 1 0 0.8 -1.7M429.5 400.8a1.1 0.8 82 1 0 0.3 2.1a1.1 0.8 82 1 0 -0.3 -2.1M382.3 414.9a1.0 0.7 87 1 0 0.1 2.0a1.0 0.7 87 1 0 -0.1 -2.0"/>
<path fill="#7c80bc" fill-opacity="0.5" d="M470.6 416.4a1.3 0.7 110 1 0 -0.9 2.5a1.3 0.7 110 1 0 0.9 -2.5M457.8 406.9a0.9 0.9 158 1 0 -1.7 0.7a0.9 0.9 158 1 0 1.7 -0.7M435.3 455.7a1.4 1.2 132 1 0 -1.8 2.0a1.4 1.2 132 1 0 1.8 -2.0M443.1 398.6a1.2 0.7 121 1 0 -1.3 2.1a1.2 0.7 121 1 0 1.3 -2.1M440.5 402.5a1.0 0.7 125 1 0 -1.1 1.6a1.0 0.7 125 1 0 1.1 -1.6M501.5 411.4a1.1 1.0 170 1 0 -2.1 0.4a1.1 1.0 170 1 0 2.1 -0.4M401.9 459.7a1.3 1.1 128 1 0 -1.6 2.0a1.3 1.1 128 1 0 1.6 -2.0M417.3 462.0a1.1 1.1 2 1 0 2.3 0.1a1.1 1.1 2 1 0 -2.3 -0.1M457.4 418.1a1.1 1.0 19 1 0 2.0 0.7a1.1 1.0 19 1 0 -2.0 -0.7M391.8 473.9a0.8 0.8 36 1 0 1.3 1.0a0.8 0.8 36 1 0 -1.3 -1.0M449.6 379.6a1.4 1.0 54 1 0 1.6 2.2a1.4 1.0 54 1 0 -1.6 -2.2M494.6 472.1a0.9 0.7 49 1 0 1.1 1.3a0.9 0.7 49 1 0 -1.1 -1.3M445.3 383.3a0.8 0.7 47 1 0 1.0 1.1a0.8 0.7 47 1 0 -1.0 -1.1M445.1 402.1a0.7 0.7 169 1 0 -1.4 0.3a0.7 0.7 169 1 0 1.4 -0.3M412.2 459.9a1.3 1.0 95 1 0 -0.2 2.7a1.3 1.0 95 1 0 0.2 -2.7M485.5 423.8a1.2 1.0 124 1 0 -1.3 1.9a1.2 1.0 124 1 0 1.3 -1.9M484.3 427.1a0.9 0.6 104 1 0 -0.5 1.8a0.9 0.6 104 1 0 0.5 -1.8M481.6 404.8a0.8 0.5 150 1 0 -1.3 0.8a0.8 0.5 150 1 0 1.3 -0.8M440.9 436.9a0.8 0.6 100 1 0 -0.3 1.6a0.8 0.6 100 1 0 0.3 -1.6M449.1 474.6a1.2 0.9 8 1 0 2.4 0.3a1.2 0.9 8 1 0 -2.4 -0.3M451.5 388.9a1.2 1.1 133 1 0 -1.6 1.8a1.2 1.1 133 1 0 1.6 -1.8M448.5 474.1a1.4 1.1 155 1 0 -2.4 1.2a1.4 1.1 155 1 0 2.4 -1.2M426.0 447.2a0.9 0.5 71 1 0 0.6 1.7a0.9 0.5 71 1 0 -0.6 -1.7M412.5 404.8a1.1 0.9 154 1 0 -1.9 0.9a1.1 0.9 154 1 0 1.9 -0.9M457.8 395.2a1.1 0.6 55 1 0 1.3 1.8a1.1 0.6 55 1 0 -1.3 -1.8M472.8 400.8a1.4 1.2 140 1 0 -2.1 1.7a1.4 1.2 140 1 0 2.1 -1.7M387.4 469.3a0.9 0.9 20 1 0 1.7 0.6a0.9 0.9 20 1 0 -1.7 -0.6M380.7 458.8a1.4 1.2 61 1 0 1.4 2.4a1.4 1.2 61 1 0 -1.4 -2.4M413.4 383.2a0.8 0.6 87 1 0 0.1 1.6a0.8 0.6 87 1 0 -0.1 -1.6M427.9 446.4a0.8 0.8 118 1 0 -0.8 1.5a0.8 0.8 118 1 0 0.8 -1.5M412.8 386.6a1.2 1.1 67 1 0 0.9 2.1a1.2 1.1 67 1 0 -0.9 -2.1M456.4 430.2a0.8 0.7 146 1 0 -1.3 0.9a0.8 0.7 146 1 0 1.3 -0.9M474.6 432.8a1.0 0.6 51 1 0 1.2 1.5a1.0 0.6 51 1 0 -1.2 -1.5M390.3 442.2a0.7 0.6 76 1 0 0.3 1.4a0.7 0.6 76 1 0 -0.3 -1.4M490.8 464.3a0.8 0.7 123 1 0 -0.9 1.3a0.8 0.7 123 1 0 0.9 -1.3M434.8 404.0a0.8 0.5 142 1 0 -1.2 1.0a0.8 0.5 142 1 0 1.2 -1.0M467.5 463.9a1.2 0.8 73 1 0 0.7 2.3a1.2 0.8 73 1 0 -0.7 -2.3M414.6 461.4a0.8 0.8 170 1 0 -1.6 0.3a0.8 0.8 170 1 0 1.6 -0.3M433.3 424.2a0.8 0.7 71 1 0 0.5 1.5a0.8 0.7 71 1 0 -0.5 -1.5M426.6 441.8a0.9 0.6 117 1 0 -0.9 1.7a0.9 0.6 117 1 0 0.9 -1.7"/>
<path fill="#6c70b0" fill-opacity="0.25" d="M382.3 411.5a0.7 0.6 21 1 0 1.3 0.5a0.7 0.6 21 1 0 -1.3 -0.5M431.3 446.4a1.0 0.6 79 1 0 0.4 1.9a1.0 0.6 79 1 0 -0.4 -1.9M384.9 447.4a0.8 0.5 11 1 0 1.6 0.3a0.8 0.5 11 1 0 -1.6 -0.3M392.6 447.7a1.4 1.2 56 1 0 1.6 2.3a1.4 1.2 56 1 0 -1.6 -2.3"/>
<path fill="#6c70b0" fill-opacity="0.5" d="M462.3 433.4a0.9 0.7 127 1 0 -1.1 1.4a0.9 0.7 127 1 0 1.1 -1.4M375.5 446.5a1.0 0.6 78 1 0 0.4 1.9a1.0 0.6 78 1 0 -0.4 -1.9M394.0 428.9a0.9 0.8 9 1 0 1.8 0.3a0.9 0.8 9 1 0 -1.8 -0.3M433.7 426.5a1.3 0.7 43 1 0 1.8 1.7a1.3 0.7 43 1 0 -1.8 -1.7M382.3 417.6a0.8 0.8 160 1 0 -1.5 0.5a0.8 0.8 160 1 0 1.5 -0.5M496.0 450.6a0.8 0.6 159 1 0 -1.5 0.6a0.8 0.6 159 1 0 1.5 -0.6M438.3 419.1a0.8 0.8 148 1 0 -1.4 0.9a0.8 0.8 148 1 0 1.4 -0.9M391.7 414.9a1.1 0.7 14 1 0 2.1 0.5a1.1 0.7 14 1 0 -2.1 -0.5M389.0 450.7a1.0 1.0 78 1 0 0.4 2.0a1.0 1.0 78 1 0 -0.4 -2.0M410.0 413.6a1.3 0.8 173 1 0 -2.6 0.3a1.3 0.8 173 1 0 2.6 -0.3M444.3 444.0a1.3 0.8 29 1 0 2.3 1.3a1.3 0.8 29 1 0 -2.3 -1.3M483.6 453.3a1.2 1.1 102 1 0 -0.5 2.3a1.2 1.1 102 1 0 0.5 -2.3M425.7 436.6a0.9 0.8 159 1 0 -1.6 0.6a0.9 0.8 159 1 0 1.6 -0.6M376.7 394.3a1.3 0.8 35 1 0 2.1 1.5a1.3 0.8 35 1 0 -2.1 -1.5M397.9 451.0a1.4 1.0 108 1 0 -0.9 2.6a1.4 1.0 108 1 0 0.9 -2.6M432.1 422.3a1.2 0.8 73 1 0 0.7 2.2a1.2 0.8 73 1 0 -0.7 -2.2M403.7 422.5a0.8 0.7 131 1 0 -1.0 1.2a0.8 0.7 131 1 0 1.0 -1.2M386.9 461.8a1.2 0.8 20 1 0 2.2 0.8a1.2 0.8 20 1 0 -2.2 -0.8M414.9 439.3a0.8 0.7 50 1 0 1.1 1.3a0.8 0.7 50 1 0 -1.1 -1.3M500.5 451.6a1.3 1.3 140 1 0 -2.0 1.7a1.3 1.3 140 1 0 2.0 -1.7M459.5 467.1a1.3 1.1 136 1 0 -1.8 1.8a1.3 1.1 136 1 0 1.8 -1.8M377.4 430.6a1.0 0.8 113 1 0 -0.8 1.9a1.0 0.8 113 1 0 0.8 -1.9M396.5 435.3a1.2 1.1 131 1 0 -1.6 1.9a1.2 1.1 131 1 0 1.6 -1.9M453.7 463.4a0.7 0.4 22 1 0 1.4 0.5a0.7 0.4 22 1 0 -1.4 -0.5M402.8 408.2a1.0 1.0 165 1 0 -2.0 0.5a1.0 1.0 165 1 0 2.0 -0.5M403.1 458.4a0.8 0.6 158 1 0 -1.4 0.6a0.8 0.6 158 1 0 1.4 -0.6M491.6 416.5a1.4 1.2 8 1 0 2.7 0.4a1.4 1.2 8 1 0 -2.7 -0.4M402.4 419.2a1.4 0.8 61 1 0 1.3 2.4a1.4 0.8 61 1 0 -1.3 -2.4M414.9 386.0a0.8 0.4 74 1 0 0.4 1.5a0.8 0.4 74 1 0 -0.4 -1.5M481.4 472.7a1.3 0.9 148 1 0 -2.1 1.3a1.3 0.9 148 1 0 2.1 -1.3M433.9 381.4a0.9 0.5 69 1 0 0.6 1.6a0.9 0.5 69 1 0 -0.6 -1.6M389.3 423.0a1.2 0.8 58 1 0 1.2 2.0a1.2 0.8 58 1 0 -1.2 -2.0M461.1 418.5a1.0 0.9 42 1 0 1.4 1.3a1.0 0.9 42 1 0 -1.4 -1.3M412.5 472.2a1.2 0.8 27 1 0 2.1 1.1a1.2 0.8 27 1 0 -2.1 -1.1M435.9 470.2a0.8 0.6 118 1 0 -0.7 1.4a0.8 0.6 118 1 0 0.7 -1.4M451.9 421.4a1.0 1.0 54 1 0 1.2 1.7a1.0 1.0 54 1 0 -1.2 -1.7M480.0 383.7a0.7 0.5 124 1 0 -0.8 1.2a0.7 0.5 124 1 0 0.8 -1.2M479.3 395.2a0.9 0.8 2 1 0 1.7 0.1a0.9 0.8 2 1 0 -1.7 -0.1M488.0 414.0a1.3 1.3 173 1 0 -2.6 0.3a1.3 1.3 173 1 0 2.6 -0.3"/>
<path fill="#7c80bc" fill-opacity="0.25" d="M401.3 453.1a1.2 1.1 45 1 0 1.7 1.7a1.2 1.1 45 1 0 -1.7 -1.7M488.2 454.7a1.0 1.0 178 1 0 -2.1 0.1a1.0 1.0 178 1 0 2.1 -0.1M442.5 473.7a1.2 1.1 37 1 0 1.9 1.4a1.2 1.1 37 1 0 -1.9 -1.4M431.6 472.7a0.9 0.8 74 1 0 0.5 1.7a0.9 0.8 74 1 0 -0.5 -1.7M409.9 393.3a1.3 1.2 78 1 0 0.5 2.5a1.3 1.2 78 1 0 -0.5 -2.5"/>
<path fill="#8a8ec4" fill-opacity="0.25" d="M445.7 458.4a0.9 0.6 111 1 0 -0.6 1.6a0.9 0.6 111 1 0 0.6 -1.6M377.4 387.8a0.8 0.8 6 1 0 1.6 0.2a0.8 0.8 6 1 0 -1.6 -0.2M392.1 412.2a1.0 0.9 96 1 0 -0.2 2.1a1.0 0.9 96 1 0 0.2 -2.1M471.7 386.6a1.2 1.0 32 1 0 2.0 1.2a1.2 1.0 32 1 0 -2.0 -1.2"/>
<path fill="#7c80bc" fill-opacity="0.75" d="M448.0 472.5a0.8 0.7 26 1 0 1.4 0.7a0.8 0.7 26 1 0 -1.4 -0.7M456.4 421.6a1.3 1.0 134 1 0 -1.8 1.9a1.3 1.0 134 1 0 1.8 -1.9M450.0 391.6a1.3 0.7 122 1 0 -1.4 2.1a1.3 0.7 122 1 0 1.4 -2.1M389.4 417.2a0.7 0.6 76 1 0 0.3 1.4a0.7 0.6 76 1 0 -0.3 -1.4M378.4 457.3a1.4 1.3 74 1 0 0.8 2.6a1.4 1.3 74 1 0 -0.8 -2.6M408.4 401.9a0.8 0.6 99 1 0 -0.2 1.5a0.8 0.6 99 1 0 0.2 -1.5M482.2 390.7a0.8 0.7 25 1 0 1.4 0.7a0.8 0.7 25 1 0 -1.4 -0.7M478.7 380.4a1.1 0.9 127 1 0 -1.4 1.8a1.1 0.9 127 1 0 1.4 -1.8M463.4 451.2a1.0 0.6 160 1 0 -1.8 0.7a1.0 0.6 160 1 0 1.8 -0.7"/>
<path fill="#6c70b0" fill-opacity="0.75" d="M497.2 422.9a1.0 0.9 153 1 0 -1.8 0.9a1.0 0.9 153 1 0 1.8 -0.9M451.0 446.4a0.8 0.8 120 1 0 -0.8 1.3a0.8 0.8 120 1 0 0.8 -1.3"/>
<path fill="#8a8ec4" fill-opacity="0.75" d="M377.6 425.6a1.0 0.7 12 1 0 1.9 0.4a1.0 0.7 12 1 0 -1.9 -0.4"/></g>
<g clip-path="url(#c4)"><rect x="375" y="516.3" width="126.5" height="95.5" fill="#e9e5ea"/>
<rect x="375" y="516.3" width="126.5" height="95.5" filter="url(#txB)" opacity="0.3"/>
<path d="M394,519L437,519L442,540L416,549L395,541ZM414,571L480,570L478,591L418,591ZM452,528L501,522L501,560L470,562ZM376,585L400,590L420,612L380,612Z" fill="#d8c0ac" filter="url(#blur2)" opacity="0.42"/>
<g filter="url(#blur05)"><path fill="#9090c0" fill-opacity="0.5" d="M386.7 526.1a2.7 2.7 133 1 0 -3.7 4.0a2.7 2.7 133 1 0 3.7 -4.0M478.4 520.7a2.9 2.8 156 1 0 -5.4 2.4a2.9 2.8 156 1 0 5.4 -2.4M469.5 524.5a1.8 1.5 61 1 0 1.8 3.2a1.8 1.5 61 1 0 -1.8 -3.2M472.4 546.4a1.9 1.2 131 1 0 -2.5 2.9a1.9 1.2 131 1 0 2.5 -2.9M432.0 559.0a2.2 1.8 122 1 0 -2.3 3.7a2.2 1.8 122 1 0 2.3 -3.7M431.2 559.8a2.7 2.2 38 1 0 4.2 3.2a2.7 2.2 38 1 0 -4.2 -3.2M459.6 552.9a1.9 1.4 100 1 0 -0.7 3.7a1.9 1.4 100 1 0 0.7 -3.7M408.4 565.5a2.6 1.8 55 1 0 3.0 4.3a2.6 1.8 55 1 0 -3.0 -4.3M432.6 575.2a2.9 2.7 107 1 0 -1.7 5.5a2.9 2.7 107 1 0 1.7 -5.5M460.5 567.9a2.6 2.5 57 1 0 2.8 4.3a2.6 2.5 57 1 0 -2.8 -4.3M468.7 573.6a2.8 2.3 9 1 0 5.5 0.9a2.8 2.3 9 1 0 -5.5 -0.9M498.8 570.8a1.8 1.7 21 1 0 3.4 1.3a1.8 1.7 21 1 0 -3.4 -1.3M404.3 594.0a2.7 1.8 31 1 0 4.6 2.7a2.7 1.8 31 1 0 -4.6 -2.7M409.1 582.0a1.8 1.7 67 1 0 1.4 3.3a1.8 1.7 67 1 0 -1.4 -3.3M434.2 587.5a2.3 2.0 109 1 0 -1.5 4.4a2.3 2.0 109 1 0 1.5 -4.4M462.3 590.5a2.3 2.2 109 1 0 -1.5 4.3a2.3 2.2 109 1 0 1.5 -4.3M412.8 603.0a2.5 2.0 162 1 0 -4.7 1.5a2.5 2.0 162 1 0 4.7 -1.5M435.9 601.8a2.0 1.2 134 1 0 -2.8 2.9a2.0 1.2 134 1 0 2.8 -2.9M445.2 601.1a2.1 1.8 154 1 0 -3.8 1.9a2.1 1.8 154 1 0 3.8 -1.9"/><path fill="#a4a0cc" fill-opacity="0.75" d="M380.0 530.4a2.5 2.4 20 1 0 4.8 1.8a2.5 2.4 20 1 0 -4.8 -1.8M429.2 529.4a2.8 2.8 82 1 0 0.8 5.6a2.8 2.8 82 1 0 -0.8 -5.6M500.2 518.6a1.8 1.1 71 1 0 1.2 3.3a1.8 1.1 71 1 0 -1.2 -3.3M379.0 542.3a2.5 1.5 45 1 0 3.5 3.5a2.5 1.5 45 1 0 -3.5 -3.5M401.2 540.1a2.3 2.2 69 1 0 1.6 4.4a2.3 2.2 69 1 0 -1.6 -4.4M395.2 535.6a2.7 2.6 26 1 0 4.9 2.4a2.7 2.6 26 1 0 -4.9 -2.4M391.7 545.0a2.7 2.4 5 1 0 5.4 0.4a2.7 2.4 5 1 0 -5.4 -0.4M409.7 534.1a2.9 1.9 110 1 0 -2.0 5.4a2.9 1.9 110 1 0 2.0 -5.4M433.0 540.4a2.2 2.1 170 1 0 -4.3 0.8a2.2 2.1 170 1 0 4.3 -0.8M440.0 537.4a2.9 2.5 63 1 0 2.7 5.2a2.9 2.5 63 1 0 -2.7 -5.2M385.8 556.1a2.1 1.5 25 1 0 3.8 1.8a2.1 1.5 25 1 0 -3.8 -1.8M410.9 560.0a2.7 2.5 86 1 0 0.4 5.5a2.7 2.5 86 1 0 -0.4 -5.5M449.0 560.3a1.8 1.8 14 1 0 3.5 0.9a1.8 1.8 14 1 0 -3.5 -0.9M444.0 548.2a2.4 2.3 158 1 0 -4.5 1.8a2.4 2.3 158 1 0 4.5 -1.8M456.0 554.6a1.8 1.2 84 1 0 0.4 3.6a1.8 1.2 84 1 0 -0.4 -3.6M456.3 551.3a2.2 2.0 103 1 0 -1.0 4.2a2.2 2.0 103 1 0 1.0 -4.2M494.4 555.3a1.8 1.3 172 1 0 -3.6 0.5a1.8 1.3 172 1 0 3.6 -0.5M378.1 563.3a2.7 2.1 157 1 0 -5.0 2.1a2.7 2.1 157 1 0 5.0 -2.1M423.6 569.4a2.4 2.1 169 1 0 -4.7 0.9a2.4 2.1 169 1 0 4.7 -0.9M451.3 572.0a1.7 1.1 148 1 0 -2.9 1.8a1.7 1.1 148 1 0 2.9 -1.8M448.7 562.2a2.2 1.7 96 1 0 -0.4 4.4a2.2 1.7 96 1 0 0.4 -4.4M494.7 572.8a2.2 1.4 55 1 0 2.5 3.6a2.2 1.4 55 1 0 -2.5 -3.6M376.9 582.0a2.5 2.3 46 1 0 3.5 3.7a2.5 2.3 46 1 0 -3.5 -3.7M384.0 586.8a2.0 1.2 104 1 0 -1.0 3.8a2.0 1.2 104 1 0 1.0 -3.8M454.4 590.1a2.7 2.6 165 1 0 -5.2 1.4a2.7 2.6 165 1 0 5.2 -1.4M481.1 591.3a2.8 2.5 15 1 0 5.5 1.5a2.8 2.5 15 1 0 -5.5 -1.5M484.5 584.8a2.8 2.2 6 1 0 5.5 0.6a2.8 2.2 6 1 0 -5.5 -0.6M424.7 597.4a2.1 1.3 32 1 0 3.5 2.1a2.1 1.3 32 1 0 -3.5 -2.1M461.2 603.5a2.6 1.8 50 1 0 3.3 3.9a2.6 1.8 50 1 0 -3.3 -3.9M486.0 601.3a2.8 2.4 29 1 0 4.8 2.7a2.8 2.4 29 1 0 -4.8 -2.7M499.1 601.2a2.3 2.2 32 1 0 4.0 2.4a2.3 2.2 32 1 0 -4.0 -2.4"/><path fill="#9a9ccf" fill-opacity="0.75" d="M380.4 516.0a2.0 1.8 73 1 0 1.2 3.9a2.0 1.8 73 1 0 -1.2 -3.9M408.5 524.4a2.6 1.8 169 1 0 -5.1 1.0a2.6 1.8 169 1 0 5.1 -1.0M471.0 521.6a2.2 1.9 106 1 0 -1.2 4.2a2.2 1.9 106 1 0 1.2 -4.2M488.1 529.1a2.7 1.9 48 1 0 3.6 4.0a2.7 1.9 48 1 0 -3.6 -4.0M428.4 532.5a3.0 2.6 148 1 0 -5.0 3.2a3.0 2.6 148 1 0 5.0 -3.2M450.1 541.4a2.3 1.8 18 1 0 4.3 1.4a2.3 1.8 18 1 0 -4.3 -1.4M462.8 543.6a1.9 1.3 4 1 0 3.8 0.3a1.9 1.3 4 1 0 -3.8 -0.3M395.4 560.4a2.3 1.8 79 1 0 0.8 4.5a2.3 1.8 79 1 0 -0.8 -4.5M455.0 558.3a2.8 2.2 18 1 0 5.3 1.7a2.8 2.2 18 1 0 -5.3 -1.7M486.4 555.3a1.7 1.7 173 1 0 -3.4 0.4a1.7 1.7 173 1 0 3.4 -0.4M497.3 563.1a2.8 1.8 175 1 0 -5.6 0.5a2.8 1.8 175 1 0 5.6 -0.5M378.6 578.7a2.7 2.6 27 1 0 4.8 2.4a2.7 2.6 27 1 0 -4.8 -2.4M390.1 567.5a2.9 2.8 6 1 0 5.8 0.6a2.9 2.8 6 1 0 -5.8 -0.6M410.9 563.8a2.9 1.8 81 1 0 0.9 5.7a2.9 1.8 81 1 0 -0.9 -5.7M430.3 577.6a2.1 1.7 149 1 0 -3.6 2.1a2.1 1.7 149 1 0 3.6 -2.1M436.3 567.8a2.1 2.0 87 1 0 0.2 4.3a2.1 2.0 87 1 0 -0.2 -4.3M427.5 574.9a2.5 1.9 113 1 0 -2.0 4.6a2.5 1.9 113 1 0 2.0 -4.6M458.6 569.5a2.4 2.3 100 1 0 -0.8 4.7a2.4 2.3 100 1 0 0.8 -4.7M491.5 565.1a2.4 2.3 69 1 0 1.7 4.4a2.4 2.3 69 1 0 -1.7 -4.4M444.3 584.9a2.2 1.4 82 1 0 0.6 4.4a2.2 1.4 82 1 0 -0.6 -4.4M382.5 595.0a2.4 2.3 74 1 0 1.3 4.6a2.4 2.3 74 1 0 -1.3 -4.6M392.7 610.0a1.7 1.5 57 1 0 1.9 2.9a1.7 1.5 57 1 0 -1.9 -2.9M395.4 605.3a2.3 1.6 6 1 0 4.6 0.5a2.3 1.6 6 1 0 -4.6 -0.5M494.6 604.3a2.0 1.4 128 1 0 -2.5 3.2a2.0 1.4 128 1 0 2.5 -3.2"/><path fill="#9a9ccf" fill-opacity="0.5" d="M388.1 516.3a2.7 1.8 111 1 0 -2.0 5.1a2.7 1.8 111 1 0 2.0 -5.1M403.8 515.0a2.7 2.7 30 1 0 4.7 2.7a2.7 2.7 30 1 0 -4.7 -2.7M407.8 529.6a1.8 1.3 110 1 0 -1.2 3.4a1.8 1.3 110 1 0 1.2 -3.4M484.5 538.5a2.5 1.7 11 1 0 4.8 0.9a2.5 1.7 11 1 0 -4.8 -0.9M396.9 549.6a2.4 1.8 135 1 0 -3.4 3.4a2.4 1.8 135 1 0 3.4 -3.4M451.5 556.0a2.6 2.0 160 1 0 -4.9 1.8a2.6 2.0 160 1 0 4.9 -1.8M481.3 561.6a2.7 1.8 62 1 0 2.5 4.7a2.7 1.8 62 1 0 -2.5 -4.7M502.9 555.8a2.3 1.5 152 1 0 -4.0 2.1a2.3 1.5 152 1 0 4.0 -2.1M423.2 572.5a2.3 2.2 174 1 0 -4.5 0.5a2.3 2.2 174 1 0 4.5 -0.5M428.9 578.7a2.3 1.8 34 1 0 3.7 2.5a2.3 1.8 34 1 0 -3.7 -2.5M434.1 585.0a2.4 2.3 125 1 0 -2.7 3.8a2.4 2.3 125 1 0 2.7 -3.8M451.0 583.6a2.7 1.7 69 1 0 1.9 5.1a2.7 1.7 69 1 0 -1.9 -5.1M454.3 586.8a2.8 2.5 132 1 0 -3.7 4.1a2.8 2.5 132 1 0 3.7 -4.1M442.4 588.1a2.7 1.8 96 1 0 -0.6 5.4a2.7 1.8 96 1 0 0.6 -5.4M485.7 582.8a2.9 1.9 62 1 0 2.8 5.2a2.9 1.9 62 1 0 -2.8 -5.2M430.6 597.3a2.3 2.0 1 1 0 4.7 0.1a2.3 2.0 1 1 0 -4.7 -0.1M444.2 600.7a2.5 1.7 151 1 0 -4.5 2.4a2.5 1.7 151 1 0 4.5 -2.4M481.5 609.2a1.9 1.6 36 1 0 3.1 2.3a1.9 1.6 36 1 0 -3.1 -2.3M480.5 599.2a2.5 1.8 20 1 0 4.7 1.8a2.5 1.8 20 1 0 -4.7 -1.8"/><path fill="#8c90c8" fill-opacity="0.5" d="M403.0 520.1a2.2 1.4 26 1 0 3.9 1.9a2.2 1.4 26 1 0 -3.9 -1.9M462.4 524.1a2.7 2.3 130 1 0 -3.5 4.2a2.7 2.3 130 1 0 3.5 -4.2M382.2 538.8a3.0 2.4 155 1 0 -5.4 2.5a3.0 2.4 155 1 0 5.4 -2.5M405.2 545.3a2.4 1.8 97 1 0 -0.6 4.8a2.4 1.8 97 1 0 0.6 -4.8M428.9 532.6a1.7 1.3 103 1 0 -0.8 3.4a1.7 1.3 103 1 0 0.8 -3.4M445.0 540.5a2.7 2.0 17 1 0 5.1 1.6a2.7 2.0 17 1 0 -5.1 -1.6M439.8 543.2a2.8 2.2 99 1 0 -0.9 5.6a2.8 2.2 99 1 0 0.9 -5.6M473.1 545.0a2.8 2.3 169 1 0 -5.5 1.1a2.8 2.3 169 1 0 5.5 -1.1M382.2 552.5a1.7 1.4 149 1 0 -2.9 1.8a1.7 1.4 149 1 0 2.9 -1.8M405.7 555.8a1.8 1.7 76 1 0 0.9 3.6a1.8 1.7 76 1 0 -0.9 -3.6M485.3 560.5a2.6 2.5 172 1 0 -5.2 0.7a2.6 2.5 172 1 0 5.2 -0.7M484.7 550.5a2.1 1.4 160 1 0 -4.0 1.4a2.1 1.4 160 1 0 4.0 -1.4M485.3 553.5a2.0 2.0 49 1 0 2.6 3.0a2.0 2.0 49 1 0 -2.6 -3.0M490.5 559.4a1.7 1.5 65 1 0 1.4 3.1a1.7 1.5 65 1 0 -1.4 -3.1M416.3 574.1a1.9 1.5 127 1 0 -2.3 3.0a1.9 1.5 127 1 0 2.3 -3.0M421.0 563.7a2.4 2.0 8 1 0 4.8 0.6a2.4 2.0 8 1 0 -4.8 -0.6M442.7 577.5a1.8 1.2 123 1 0 -2.0 3.1a1.8 1.2 123 1 0 2.0 -3.1M456.8 569.3a2.6 2.0 103 1 0 -1.2 5.0a2.6 2.0 103 1 0 1.2 -5.0M464.3 570.3a2.6 1.7 146 1 0 -4.4 2.9a2.6 1.7 146 1 0 4.4 -2.9M478.8 573.8a2.0 1.6 59 1 0 2.1 3.5a2.0 1.6 59 1 0 -2.1 -3.5M471.5 568.7a3.0 2.3 12 1 0 5.9 1.2a3.0 2.3 12 1 0 -5.9 -1.2M398.8 583.9a3.0 1.9 118 1 0 -2.8 5.2a3.0 1.9 118 1 0 2.8 -5.2M397.0 589.3a2.4 2.1 111 1 0 -1.7 4.4a2.4 2.1 111 1 0 1.7 -4.4M401.0 578.6a2.7 2.5 151 1 0 -4.8 2.7a2.7 2.5 151 1 0 4.8 -2.7M471.5 586.5a2.0 1.7 107 1 0 -1.2 3.8a2.0 1.7 107 1 0 1.2 -3.8M391.2 601.0a2.1 2.0 61 1 0 2.0 3.6a2.1 2.0 61 1 0 -2.0 -3.6M467.1 605.9a2.4 2.4 178 1 0 -4.9 0.1a2.4 2.4 178 1 0 4.9 -0.1M497.5 605.1a2.0 1.7 112 1 0 -1.5 3.7a2.0 1.7 112 1 0 1.5 -3.7"/><path fill="#8286c0" fill-opacity="0.75" d="M401.3 525.1a2.5 2.2 12 1 0 4.8 1.0a2.5 2.2 12 1 0 -4.8 -1.0M414.1 522.7a2.7 1.7 135 1 0 -3.8 3.8a2.7 1.7 135 1 0 3.8 -3.8M450.6 518.8a2.3 2.1 124 1 0 -2.6 3.8a2.3 2.1 124 1 0 2.6 -3.8M445.7 517.3a2.8 2.2 139 1 0 -4.3 3.7a2.8 2.2 139 1 0 4.3 -3.7M444.3 527.0a2.5 2.3 63 1 0 2.3 4.5a2.5 2.3 63 1 0 -2.3 -4.5M452.8 519.5a2.8 2.7 124 1 0 -3.1 4.6a2.8 2.7 124 1 0 3.1 -4.6M480.2 522.5a2.9 2.9 110 1 0 -2.0 5.5a2.9 2.9 110 1 0 2.0 -5.5M480.5 520.3a2.1 2.1 97 1 0 -0.5 4.2a2.1 2.1 97 1 0 0.5 -4.2M415.1 541.2a2.8 1.9 78 1 0 1.2 5.6a2.8 1.9 78 1 0 -1.2 -5.6M427.8 544.3a2.1 2.0 145 1 0 -3.4 2.3a2.1 2.0 145 1 0 3.4 -2.3M451.7 537.6a2.1 1.8 173 1 0 -4.1 0.5a2.1 1.8 173 1 0 4.1 -0.5M471.0 541.6a2.5 1.7 42 1 0 3.8 3.4a2.5 1.7 42 1 0 -3.8 -3.4M487.9 538.4a2.8 1.9 21 1 0 5.2 2.0a2.8 1.9 21 1 0 -5.2 -2.0M439.0 550.6a2.6 1.7 136 1 0 -3.8 3.7a2.6 1.7 136 1 0 3.8 -3.7M476.1 557.0a2.7 2.3 53 1 0 3.3 4.4a2.7 2.3 53 1 0 -3.3 -4.4M397.2 563.8a2.5 2.3 89 1 0 0.1 5.1a2.5 2.3 89 1 0 -0.1 -5.1M390.2 564.5a2.6 1.9 39 1 0 4.0 3.2a2.6 1.9 39 1 0 -4.0 -3.2M465.0 575.8a2.1 1.3 47 1 0 2.9 3.0a2.1 1.3 47 1 0 -2.9 -3.0M477.8 576.9a2.4 2.1 123 1 0 -2.6 4.0a2.4 2.1 123 1 0 2.6 -4.0M492.1 575.4a2.5 1.8 30 1 0 4.4 2.5a2.5 1.8 30 1 0 -4.4 -2.5M376.3 589.7a1.8 1.5 45 1 0 2.6 2.6a1.8 1.5 45 1 0 -2.6 -2.6M418.0 588.8a2.2 1.9 41 1 0 3.3 2.9a2.2 1.9 41 1 0 -3.3 -2.9M464.9 592.3a2.7 2.3 84 1 0 0.6 5.3a2.7 2.3 84 1 0 -0.6 -5.3M469.4 586.0a2.2 2.2 130 1 0 -2.8 3.3a2.2 2.2 130 1 0 2.8 -3.3M383.1 601.9a1.9 1.5 158 1 0 -3.5 1.4a1.9 1.5 158 1 0 3.5 -1.4M396.1 601.1a2.3 1.4 66 1 0 1.9 4.2a2.3 1.4 66 1 0 -1.9 -4.2M437.3 603.3a2.7 2.6 105 1 0 -1.4 5.2a2.7 2.6 105 1 0 1.4 -5.2M501.6 604.0a1.8 1.4 119 1 0 -1.7 3.1a1.8 1.4 119 1 0 1.7 -3.1"/><path fill="#8c90c8" fill-opacity="0.75" d="M396.1 520.9a2.3 2.1 10 1 0 4.6 0.8a2.3 2.1 10 1 0 -4.6 -0.8M411.3 520.5a2.4 1.9 68 1 0 1.8 4.5a2.4 1.9 68 1 0 -1.8 -4.5M419.4 523.9a2.1 1.5 32 1 0 3.6 2.2a2.1 1.5 32 1 0 -3.6 -2.2M461.6 525.2a1.9 1.7 32 1 0 3.3 2.1a1.9 1.7 32 1 0 -3.3 -2.1M490.5 529.6a2.3 1.7 86 1 0 0.3 4.7a2.3 1.7 86 1 0 -0.3 -4.7M378.7 534.7a2.6 2.2 132 1 0 -3.5 3.9a2.6 2.2 132 1 0 3.5 -3.9M400.8 544.6a2.3 2.1 55 1 0 2.7 3.8a2.3 2.1 55 1 0 -2.7 -3.8M421.0 542.2a1.8 1.7 39 1 0 2.7 2.2a1.8 1.7 39 1 0 -2.7 -2.2M466.6 542.0a1.9 1.3 121 1 0 -2.0 3.3a1.9 1.3 121 1 0 2.0 -3.3M468.5 535.9a2.2 1.6 9 1 0 4.4 0.7a2.2 1.6 9 1 0 -4.4 -0.7M479.3 537.7a2.4 1.8 113 1 0 -1.9 4.5a2.4 1.8 113 1 0 1.9 -4.5M495.9 531.4a2.1 2.0 24 1 0 3.8 1.7a2.1 2.0 24 1 0 -3.8 -1.7M376.8 548.9a2.7 2.2 5 1 0 5.4 0.5a2.7 2.2 5 1 0 -5.4 -0.5M406.8 560.1a2.3 1.4 31 1 0 4.0 2.4a2.3 1.4 31 1 0 -4.0 -2.4M458.7 555.6a2.5 2.2 131 1 0 -3.3 3.8a2.5 2.2 131 1 0 3.3 -3.8M417.0 575.4a2.7 2.2 79 1 0 1.0 5.3a2.7 2.2 79 1 0 -1.0 -5.3M381.1 589.4a1.8 1.5 82 1 0 0.5 3.6a1.8 1.5 82 1 0 -0.5 -3.6M417.8 583.4a2.5 2.2 80 1 0 0.9 4.9a2.5 2.2 80 1 0 -0.9 -4.9M429.8 584.1a2.7 2.2 94 1 0 -0.4 5.5a2.7 2.2 94 1 0 0.4 -5.5M454.2 587.8a2.2 1.4 52 1 0 2.7 3.4a2.2 1.4 52 1 0 -2.7 -3.4M475.8 585.8a3.0 1.8 86 1 0 0.4 5.9a3.0 1.8 86 1 0 -0.4 -5.9M472.8 582.4a2.2 2.0 8 1 0 4.3 0.6a2.2 2.0 8 1 0 -4.3 -0.6M492.7 585.1a1.9 1.3 81 1 0 0.6 3.7a1.9 1.3 81 1 0 -0.6 -3.7M439.4 597.6a2.2 2.1 88 1 0 0.2 4.4a2.2 2.1 88 1 0 -0.2 -4.4M480.1 599.4a2.0 1.6 114 1 0 -1.6 3.6a2.0 1.6 114 1 0 1.6 -3.6M488.1 601.7a2.9 2.8 169 1 0 -5.6 1.1a2.9 2.8 169 1 0 5.6 -1.1"/><path fill="#a4a0cc" fill-opacity="0.5" d="M415.7 524.2a2.9 1.9 44 1 0 4.2 4.1a2.9 1.9 44 1 0 -4.2 -4.1M428.5 517.6a2.5 2.3 82 1 0 0.7 4.9a2.5 2.3 82 1 0 -0.7 -4.9M430.7 528.0a1.8 1.4 27 1 0 3.3 1.7a1.8 1.4 27 1 0 -3.3 -1.7M464.1 524.3a1.9 1.8 169 1 0 -3.8 0.7a1.9 1.8 169 1 0 3.8 -0.7M472.3 518.6a2.9 1.8 174 1 0 -5.7 0.6a2.9 1.8 174 1 0 5.7 -0.6M475.6 516.1a2.2 1.8 97 1 0 -0.5 4.4a2.2 1.8 97 1 0 0.5 -4.4M498.3 520.5a2.3 1.6 52 1 0 2.8 3.6a2.3 1.6 52 1 0 -2.8 -3.6M429.6 543.8a2.1 2.0 127 1 0 -2.5 3.3a2.1 2.0 127 1 0 2.5 -3.3M462.1 546.6a1.7 1.1 140 1 0 -2.6 2.2a1.7 1.1 140 1 0 2.6 -2.2M483.5 531.6a2.3 2.0 116 1 0 -2.0 4.2a2.3 2.0 116 1 0 2.0 -4.2M498.2 534.2a2.2 1.5 97 1 0 -0.5 4.4a2.2 1.5 97 1 0 0.5 -4.4M400.0 556.3a1.9 1.7 78 1 0 0.8 3.7a1.9 1.7 78 1 0 -0.8 -3.7M389.9 560.8a2.0 1.8 64 1 0 1.8 3.6a2.0 1.8 64 1 0 -1.8 -3.6M416.9 560.5a2.6 2.5 11 1 0 5.0 1.0a2.6 2.5 11 1 0 -5.0 -1.0M429.4 547.4a2.7 2.3 155 1 0 -4.9 2.3a2.7 2.3 155 1 0 4.9 -2.3M427.0 553.3a2.7 2.1 174 1 0 -5.4 0.5a2.7 2.1 174 1 0 5.4 -0.5M389.1 578.3a2.0 1.5 49 1 0 2.6 3.0a2.0 1.5 49 1 0 -2.6 -3.0M372.4 573.4a2.7 2.4 14 1 0 5.2 1.3a2.7 2.4 14 1 0 -5.2 -1.3M456.1 567.9a1.8 1.4 112 1 0 -1.3 3.3a1.8 1.4 112 1 0 1.3 -3.3M482.0 575.6a2.9 2.3 19 1 0 5.4 1.8a2.9 2.3 19 1 0 -5.4 -1.8M488.4 576.5a2.4 1.6 10 1 0 4.7 0.8a2.4 1.6 10 1 0 -4.7 -0.8M491.1 593.3a2.8 2.3 13 1 0 5.4 1.3a2.8 2.3 13 1 0 -5.4 -1.3M405.6 610.2a1.9 1.7 131 1 0 -2.4 2.8a1.9 1.7 131 1 0 2.4 -2.8M410.1 605.3a1.9 1.9 8 1 0 3.8 0.5a1.9 1.9 8 1 0 -3.8 -0.5M470.2 595.9a2.5 2.2 132 1 0 -3.3 3.7a2.5 2.2 132 1 0 3.3 -3.7M471.4 598.2a2.9 2.2 46 1 0 4.0 4.1a2.9 2.2 46 1 0 -4.0 -4.1"/><path fill="#9090c0" fill-opacity="0.75" d="M415.7 520.6a2.3 2.1 15 1 0 4.5 1.2a2.3 2.1 15 1 0 -4.5 -1.2M435.7 524.8a2.7 2.0 37 1 0 4.4 3.3a2.7 2.0 37 1 0 -4.4 -3.3M425.3 519.9a2.3 2.2 20 1 0 4.3 1.6a2.3 2.2 20 1 0 -4.3 -1.6M446.7 522.6a2.1 1.4 49 1 0 2.8 3.2a2.1 1.4 49 1 0 -2.8 -3.2M457.4 526.5a2.2 1.9 169 1 0 -4.4 0.9a2.2 1.9 169 1 0 4.4 -0.9M378.3 542.0a1.9 1.5 145 1 0 -3.2 2.2a1.9 1.5 145 1 0 3.2 -2.2M386.0 554.9a2.0 2.0 3 1 0 4.1 0.2a2.0 2.0 3 1 0 -4.1 -0.2M416.5 558.6a2.2 1.3 92 1 0 -0.2 4.4a2.2 1.3 92 1 0 0.2 -4.4M419.6 545.9a2.6 2.2 92 1 0 -0.2 5.2a2.6 2.2 92 1 0 0.2 -5.2M420.6 553.7a3.0 2.8 166 1 0 -5.8 1.4a3.0 2.8 166 1 0 5.8 -1.4M458.9 554.3a2.9 2.1 51 1 0 3.7 4.4a2.9 2.1 51 1 0 -3.7 -4.4M487.2 551.7a2.7 2.1 107 1 0 -1.6 5.2a2.7 2.1 107 1 0 1.6 -5.2M451.6 566.7a2.1 1.3 136 1 0 -3.0 2.9a2.1 1.3 136 1 0 3.0 -2.9M405.0 582.1a2.8 2.4 76 1 0 1.4 5.4a2.8 2.4 76 1 0 -1.4 -5.4M499.9 586.5a2.9 2.1 83 1 0 0.7 5.7a2.9 2.1 83 1 0 -0.7 -5.7M384.2 594.4a2.3 1.5 60 1 0 2.3 4.0a2.3 1.5 60 1 0 -2.3 -4.0M461.5 598.7a2.0 1.7 106 1 0 -1.1 3.9a2.0 1.7 106 1 0 1.1 -3.9"/><path fill="#8286c0" fill-opacity="0.5" d="M445.2 526.4a2.7 2.4 120 1 0 -2.7 4.7a2.7 2.4 120 1 0 2.7 -4.7M497.7 516.8a2.5 2.2 54 1 0 2.9 4.0a2.5 2.2 54 1 0 -2.9 -4.0M409.4 533.9a2.4 2.1 134 1 0 -3.4 3.5a2.4 2.1 134 1 0 3.4 -3.5M412.0 536.7a2.6 2.5 25 1 0 4.6 2.1a2.6 2.5 25 1 0 -4.6 -2.1M417.6 537.6a2.9 2.4 112 1 0 -2.1 5.4a2.9 2.4 112 1 0 2.1 -5.4M424.2 539.6a2.0 1.9 86 1 0 0.2 4.0a2.0 1.9 86 1 0 -0.2 -4.0M454.6 536.6a2.0 1.6 6 1 0 4.0 0.4a2.0 1.6 6 1 0 -4.0 -0.4M452.9 531.5a2.3 2.2 28 1 0 4.0 2.2a2.3 2.2 28 1 0 -4.0 -2.2M461.6 545.3a2.6 2.3 33 1 0 4.4 2.9a2.6 2.3 33 1 0 -4.4 -2.9M488.2 534.6a2.2 1.4 76 1 0 1.1 4.2a2.2 1.4 76 1 0 -1.1 -4.2M500.2 540.2a2.9 2.6 126 1 0 -3.5 4.7a2.9 2.6 126 1 0 3.5 -4.7M449.0 554.8a2.0 1.7 58 1 0 2.1 3.3a2.0 1.7 58 1 0 -2.1 -3.3M479.8 561.4a2.9 1.8 137 1 0 -4.3 4.0a2.9 1.8 137 1 0 4.3 -4.0M407.0 573.5a1.8 1.2 116 1 0 -1.6 3.3a1.8 1.2 116 1 0 1.6 -3.3M451.6 567.7a2.4 1.9 151 1 0 -4.2 2.3a2.4 1.9 151 1 0 4.2 -2.3M381.3 591.3a2.9 2.1 60 1 0 2.9 5.0a2.9 2.1 60 1 0 -2.9 -5.0M427.8 579.4a2.0 1.2 77 1 0 0.9 3.9a2.0 1.2 77 1 0 -0.9 -3.9M380.0 609.9a1.8 1.1 26 1 0 3.3 1.6a1.8 1.1 26 1 0 -3.3 -1.6M373.9 607.1a2.9 1.8 15 1 0 5.6 1.5a2.9 1.8 15 1 0 -5.6 -1.5M412.6 596.6a2.9 2.9 59 1 0 2.9 5.0a2.9 2.9 59 1 0 -2.9 -5.0M415.7 596.2a1.9 1.3 177 1 0 -3.7 0.2a1.9 1.3 177 1 0 3.7 -0.2M438.1 595.9a2.5 1.7 1 1 0 4.9 0.1a2.5 1.7 1 1 0 -4.9 -0.1"/></g>
<path d="M437,548L446,550L462,562L462,573L440,572Z" fill="#efe9e8" filter="url(#blur1)" opacity="0.7"/>
<path d="M417,575L440,572L462,573L484,571L484,575L462,577.5L440,577.5L418,579ZM388,528L391,528L395,541L392,541Z" fill="#faf8f8" filter="url(#blur05)" opacity="0.85"/>
<path d="M466,518 L472,530 L486,548 L502,568" stroke="#f6f3f3" stroke-width="1.2" fill="none" filter="url(#blur05)" opacity="0.6"/>
<path fill="#b08060" fill-opacity="0.75" d="M421.9 584.4a1.5 1.2 142 1 0 -2.3 1.8a1.5 1.2 142 1 0 2.3 -1.8M416.9 576.9a1.7 1.2 54 1 0 2.1 2.8a1.7 1.2 54 1 0 -2.1 -2.8M450.7 586.3a1.2 1.2 8 1 0 2.3 0.3a1.2 1.2 8 1 0 -2.3 -0.3M434.3 580.8a1.7 1.6 27 1 0 3.1 1.6a1.7 1.6 27 1 0 -3.1 -1.6"/>
<path fill="#9a6a48" fill-opacity="0.75" d="M449.3 582.5a1.5 1.5 145 1 0 -2.5 1.8a1.5 1.5 145 1 0 2.5 -1.8M473.0 585.6a1.2 1.1 106 1 0 -0.6 2.3a1.2 1.1 106 1 0 0.6 -2.3M439.0 577.8a1.2 1.0 86 1 0 0.2 2.3a1.2 1.0 86 1 0 -0.2 -2.3"/>
<path fill="#7a4a30" fill-opacity="0.75" d="M445.8 577.6a1.0 0.6 142 1 0 -1.6 1.2a1.0 0.6 142 1 0 1.6 -1.2M462.1 583.5a1.7 1.5 175 1 0 -3.3 0.3a1.7 1.5 175 1 0 3.3 -0.3M459.5 581.4a1.7 1.3 59 1 0 1.8 2.9a1.7 1.3 59 1 0 -1.8 -2.9M456.4 576.1a1.5 1.4 18 1 0 2.9 0.9a1.5 1.4 18 1 0 -2.9 -0.9"/>
<path fill="#9a6a48" fill-opacity="1.0" d="M443.7 578.5a1.6 1.1 52 1 0 2.0 2.5a1.6 1.1 52 1 0 -2.0 -2.5"/>
<path fill="#9a6a48" fill-opacity="0.5" d="M416.4 577.8a1.8 1.6 133 1 0 -2.4 2.6a1.8 1.6 133 1 0 2.4 -2.6"/>
<path fill="#b08060" fill-opacity="1.0" d="M433.8 579.5a1.8 1.0 86 1 0 0.2 3.5a1.8 1.0 86 1 0 -0.2 -3.5"/></g>
<g clip-path="url(#c5)"><rect x="375" y="618.3" width="126.5" height="95.5" fill="#e2e3f2"/>
<rect x="375" y="618.3" width="126.5" height="95.5" filter="url(#txB)" opacity="0.35"/>
<g filter="url(#blur05)"><path fill="#9ea0cc" fill-opacity="0.75" d="M385.6 631.4a2.0 1.4 0 1 0 4.0 0.0a2.0 1.4 0 1 0 -4.0 -0.0M385.5 622.5a1.4 1.1 36 1 0 2.3 1.7a1.4 1.1 36 1 0 -2.3 -1.7M399.2 630.5a1.5 1.3 157 1 0 -2.8 1.2a1.5 1.3 157 1 0 2.8 -1.2M405.2 629.3a2.0 1.6 127 1 0 -2.4 3.2a2.0 1.6 127 1 0 2.4 -3.2M397.9 621.1a2.4 1.7 119 1 0 -2.3 4.2a2.4 1.7 119 1 0 2.3 -4.2M410.7 631.7a2.5 1.9 140 1 0 -3.8 3.2a2.5 1.9 140 1 0 3.8 -3.2M407.7 628.4a1.5 1.3 84 1 0 0.3 3.1a1.5 1.3 84 1 0 -0.3 -3.1M426.6 629.1a1.4 1.3 179 1 0 -2.9 0.1a1.4 1.3 179 1 0 2.9 -0.1M441.9 626.9a1.7 1.5 177 1 0 -3.4 0.2a1.7 1.5 177 1 0 3.4 -0.2M442.6 632.4a2.4 1.9 172 1 0 -4.8 0.7a2.4 1.9 172 1 0 4.8 -0.7M459.7 626.3a1.8 1.5 159 1 0 -3.4 1.3a1.8 1.5 159 1 0 3.4 -1.3M477.2 629.3a2.3 1.5 138 1 0 -3.4 3.1a2.3 1.5 138 1 0 3.4 -3.1M490.1 625.5a2.4 1.6 12 1 0 4.8 1.0a2.4 1.6 12 1 0 -4.8 -1.0M380.3 644.4a1.4 1.0 54 1 0 1.7 2.3a1.4 1.0 54 1 0 -1.7 -2.3M391.8 637.2a1.9 1.8 120 1 0 -1.9 3.3a1.9 1.8 120 1 0 1.9 -3.3M400.1 635.6a2.2 1.6 54 1 0 2.6 3.6a2.2 1.6 54 1 0 -2.6 -3.6M433.5 647.4a1.7 1.3 164 1 0 -3.3 0.9a1.7 1.3 164 1 0 3.3 -0.9M473.0 639.0a1.5 1.1 148 1 0 -2.6 1.6a1.5 1.1 148 1 0 2.6 -1.6M483.6 637.0a2.5 1.8 67 1 0 2.0 4.6a2.5 1.8 67 1 0 -2.0 -4.6M492.8 647.7a2.4 1.8 80 1 0 0.8 4.7a2.4 1.8 80 1 0 -0.8 -4.7M490.9 636.5a2.5 2.0 20 1 0 4.7 1.8a2.5 2.0 20 1 0 -4.7 -1.8M500.1 637.0a2.3 1.9 118 1 0 -2.2 4.1a2.3 1.9 118 1 0 2.2 -4.1M495.5 636.0a2.1 2.0 42 1 0 3.2 2.9a2.1 2.0 42 1 0 -3.2 -2.9M488.2 636.9a2.1 2.0 92 1 0 -0.1 4.2a2.1 2.0 92 1 0 0.1 -4.2M399.7 660.1a1.9 1.2 8 1 0 3.9 0.6a1.9 1.2 8 1 0 -3.9 -0.6M399.1 655.1a2.3 2.1 107 1 0 -1.3 4.3a2.3 2.1 107 1 0 1.3 -4.3M396.1 663.8a1.8 1.8 137 1 0 -2.6 2.5a1.8 1.8 137 1 0 2.6 -2.5M414.2 662.6a2.3 2.1 135 1 0 -3.2 3.2a2.3 2.1 135 1 0 3.2 -3.2M466.5 651.7a2.4 2.3 7 1 0 4.8 0.6a2.4 2.3 7 1 0 -4.8 -0.6M466.0 659.5a2.5 1.7 17 1 0 4.8 1.5a2.5 1.7 17 1 0 -4.8 -1.5M454.9 650.0a2.4 1.8 24 1 0 4.4 2.0a2.4 1.8 24 1 0 -4.4 -2.0M478.0 649.9a1.8 1.5 68 1 0 1.3 3.3a1.8 1.5 68 1 0 -1.3 -3.3M488.8 659.2a1.6 1.0 64 1 0 1.4 2.9a1.6 1.0 64 1 0 -1.4 -2.9M484.8 658.3a1.6 1.0 25 1 0 2.9 1.4a1.6 1.0 25 1 0 -2.9 -1.4M382.4 679.5a1.4 1.0 148 1 0 -2.4 1.5a1.4 1.0 148 1 0 2.4 -1.5M378.9 669.7a2.6 1.9 137 1 0 -3.8 3.5a2.6 1.9 137 1 0 3.8 -3.5M389.0 664.5a2.5 2.0 74 1 0 1.4 4.8a2.5 2.0 74 1 0 -1.4 -4.8M397.6 673.1a1.8 1.4 170 1 0 -3.5 0.6a1.8 1.4 170 1 0 3.5 -0.6M410.3 674.3a1.7 1.6 58 1 0 1.7 2.8a1.7 1.6 58 1 0 -1.7 -2.8M417.7 679.5a1.6 1.1 84 1 0 0.3 3.1a1.6 1.1 84 1 0 -0.3 -3.1M417.5 679.3a2.4 1.4 36 1 0 3.8 2.8a2.4 1.4 36 1 0 -3.8 -2.8M428.4 679.1a2.2 1.4 25 1 0 3.9 1.8a2.2 1.4 25 1 0 -3.9 -1.8M425.0 666.0a1.7 1.6 179 1 0 -3.3 0.0a1.7 1.6 179 1 0 3.3 -0.0M434.5 676.0a2.5 2.3 79 1 0 1.0 5.0a2.5 2.3 79 1 0 -1.0 -5.0M448.4 669.7a2.1 1.9 165 1 0 -4.1 1.1a2.1 1.9 165 1 0 4.1 -1.1M456.0 665.9a1.4 1.3 99 1 0 -0.4 2.8a1.4 1.3 99 1 0 0.4 -2.8M462.6 667.1a1.9 1.2 51 1 0 2.5 3.0a1.9 1.2 51 1 0 -2.5 -3.0M479.3 679.2a2.0 2.0 26 1 0 3.6 1.8a2.0 2.0 26 1 0 -3.6 -1.8M485.6 675.3a2.4 1.7 115 1 0 -2.0 4.3a2.4 1.7 115 1 0 2.0 -4.3M491.3 674.3a2.4 1.5 126 1 0 -2.8 3.9a2.4 1.5 126 1 0 2.8 -3.9M497.9 670.6a2.4 1.9 85 1 0 0.4 4.8a2.4 1.9 85 1 0 -0.4 -4.8M498.2 678.2a2.1 1.6 25 1 0 3.8 1.8a2.1 1.6 25 1 0 -3.8 -1.8M379.9 688.4a2.4 1.7 151 1 0 -4.2 2.3a2.4 1.7 151 1 0 4.2 -2.3M387.4 692.3a2.2 1.4 132 1 0 -3.0 3.3a2.2 1.4 132 1 0 3.0 -3.3M376.4 683.2a1.4 1.1 104 1 0 -0.7 2.8a1.4 1.1 104 1 0 0.7 -2.8M376.5 693.7a2.0 1.5 23 1 0 3.7 1.6a2.0 1.5 23 1 0 -3.7 -1.6M430.1 696.2a2.1 2.1 168 1 0 -4.1 0.9a2.1 2.1 168 1 0 4.1 -0.9M462.1 691.4a2.5 2.4 164 1 0 -4.8 1.4a2.5 2.4 164 1 0 4.8 -1.4M456.3 692.0a1.8 1.1 8 1 0 3.5 0.5a1.8 1.1 8 1 0 -3.5 -0.5M457.4 689.5a1.4 0.9 5 1 0 2.8 0.2a1.4 0.9 5 1 0 -2.8 -0.2M469.0 694.3a2.4 1.9 37 1 0 3.8 2.8a2.4 1.9 37 1 0 -3.8 -2.8M474.9 695.4a1.4 1.4 121 1 0 -1.5 2.5a1.4 1.4 121 1 0 1.5 -2.5M381.7 706.7a2.0 1.7 132 1 0 -2.6 2.9a2.0 1.7 132 1 0 2.6 -2.9M398.1 696.2a2.5 2.0 81 1 0 0.8 5.0a2.5 2.0 81 1 0 -0.8 -5.0M391.9 700.7a1.7 1.2 87 1 0 0.2 3.4a1.7 1.2 87 1 0 -0.2 -3.4M437.6 705.8a2.3 1.8 116 1 0 -2.1 4.2a2.3 1.8 116 1 0 2.1 -4.2M448.5 700.7a2.5 1.7 151 1 0 -4.4 2.4a2.5 1.7 151 1 0 4.4 -2.4M447.1 701.4a1.9 1.8 168 1 0 -3.8 0.8a1.9 1.8 168 1 0 3.8 -0.8M468.3 708.2a1.7 1.7 68 1 0 1.3 3.2a1.7 1.7 68 1 0 -1.3 -3.2M466.6 709.6a2.0 2.0 179 1 0 -3.9 0.1a2.0 2.0 179 1 0 3.9 -0.1M481.2 696.6a1.6 1.1 82 1 0 0.4 3.2a1.6 1.1 82 1 0 -0.4 -3.2M501.7 708.4a2.6 2.3 129 1 0 -3.2 4.0a2.6 2.3 129 1 0 3.2 -4.0"/><path fill="#9498cc" fill-opacity="0.75" d="M384.9 618.2a2.1 1.8 131 1 0 -2.7 3.1a2.1 1.8 131 1 0 2.7 -3.1M379.9 617.5a2.4 2.2 80 1 0 0.8 4.7a2.4 2.2 80 1 0 -0.8 -4.7M390.1 620.7a2.1 2.1 161 1 0 -3.9 1.4a2.1 2.1 161 1 0 3.9 -1.4M407.1 631.6a1.5 1.0 171 1 0 -2.9 0.5a1.5 1.0 171 1 0 2.9 -0.5M416.6 620.1a2.4 2.1 90 1 0 0.0 4.8a2.4 2.1 90 1 0 -0.0 -4.8M423.1 619.2a1.4 1.1 11 1 0 2.8 0.5a1.4 1.1 11 1 0 -2.8 -0.5M423.3 626.0a1.5 1.4 79 1 0 0.6 2.9a1.5 1.4 79 1 0 -0.6 -2.9M422.5 627.2a1.4 1.1 21 1 0 2.7 1.0a1.4 1.1 21 1 0 -2.7 -1.0M441.4 618.7a1.8 1.7 65 1 0 1.5 3.4a1.8 1.7 65 1 0 -1.5 -3.4M456.5 626.5a2.1 2.1 148 1 0 -3.6 2.3a2.1 2.1 148 1 0 3.6 -2.3M462.2 625.9a2.2 1.6 2 1 0 4.3 0.2a2.2 1.6 2 1 0 -4.3 -0.2M470.0 630.4a2.0 1.4 177 1 0 -4.0 0.2a2.0 1.4 177 1 0 4.0 -0.2M478.1 626.6a2.0 1.9 112 1 0 -1.5 3.7a2.0 1.9 112 1 0 1.5 -3.7M482.7 622.9a1.9 1.7 150 1 0 -3.3 1.9a1.9 1.7 150 1 0 3.3 -1.9M472.6 624.6a2.3 2.2 43 1 0 3.3 3.1a2.3 2.2 43 1 0 -3.3 -3.1M498.1 618.9a1.5 1.2 88 1 0 0.1 3.1a1.5 1.2 88 1 0 -0.1 -3.1M378.2 634.1a2.4 1.4 8 1 0 4.7 0.7a2.4 1.4 8 1 0 -4.7 -0.7M379.5 644.0a2.5 2.2 151 1 0 -4.3 2.4a2.5 2.2 151 1 0 4.3 -2.4M379.2 648.0a2.0 2.0 121 1 0 -2.1 3.5a2.0 2.0 121 1 0 2.1 -3.5M405.4 636.0a1.8 1.6 65 1 0 1.5 3.2a1.8 1.6 65 1 0 -1.5 -3.2M437.1 635.1a1.6 1.5 38 1 0 2.5 2.0a1.6 1.5 38 1 0 -2.5 -2.0M448.4 632.2a2.3 2.0 72 1 0 1.4 4.3a2.3 2.0 72 1 0 -1.4 -4.3M447.8 638.7a1.8 1.5 114 1 0 -1.4 3.2a1.8 1.5 114 1 0 1.4 -3.2M454.4 637.4a1.5 1.3 57 1 0 1.6 2.4a1.5 1.3 57 1 0 -1.6 -2.4M456.5 633.6a2.0 1.6 74 1 0 1.1 3.8a2.0 1.6 74 1 0 -1.1 -3.8M463.3 641.9a2.4 2.3 152 1 0 -4.3 2.3a2.4 2.3 152 1 0 4.3 -2.3M482.7 638.1a1.5 1.2 61 1 0 1.5 2.7a1.5 1.2 61 1 0 -1.5 -2.7M501.0 637.3a2.4 1.6 147 1 0 -4.0 2.7a2.4 1.6 147 1 0 4.0 -2.7M379.0 649.3a1.7 1.0 75 1 0 0.9 3.3a1.7 1.0 75 1 0 -0.9 -3.3M382.8 656.7a1.5 1.0 51 1 0 1.9 2.4a1.5 1.0 51 1 0 -1.9 -2.4M401.9 655.2a1.6 1.3 45 1 0 2.3 2.3a1.6 1.3 45 1 0 -2.3 -2.3M408.1 653.8a1.7 1.6 139 1 0 -2.6 2.3a1.7 1.6 139 1 0 2.6 -2.3M448.5 664.9a1.5 1.0 41 1 0 2.2 1.9a1.5 1.0 41 1 0 -2.2 -1.9M450.6 657.5a1.9 1.5 127 1 0 -2.3 3.0a1.9 1.5 127 1 0 2.3 -3.0M462.6 649.5a1.6 1.5 29 1 0 2.8 1.6a1.6 1.5 29 1 0 -2.8 -1.6M475.5 649.8a2.1 1.5 116 1 0 -1.9 3.8a2.1 1.5 116 1 0 1.9 -3.8M479.5 648.8a1.7 1.3 125 1 0 -1.9 2.7a1.7 1.3 125 1 0 1.9 -2.7M490.1 651.4a2.3 1.6 168 1 0 -4.5 0.9a2.3 1.6 168 1 0 4.5 -0.9M380.2 675.9a1.4 0.9 17 1 0 2.7 0.8a1.4 0.9 17 1 0 -2.7 -0.8M415.2 667.3a2.0 1.5 82 1 0 0.6 3.9a2.0 1.5 82 1 0 -0.6 -3.9M413.0 675.3a1.9 1.5 134 1 0 -2.7 2.8a1.9 1.5 134 1 0 2.7 -2.8M416.4 665.9a2.3 1.5 140 1 0 -3.5 3.0a2.3 1.5 140 1 0 3.5 -3.0M433.7 674.9a2.6 1.7 13 1 0 5.0 1.2a2.6 1.7 13 1 0 -5.0 -1.2M453.7 672.9a2.6 2.3 135 1 0 -3.7 3.7a2.6 2.3 135 1 0 3.7 -3.7M465.8 679.8a1.7 1.5 47 1 0 2.4 2.5a1.7 1.5 47 1 0 -2.4 -2.5M461.8 677.4a1.6 1.4 4 1 0 3.3 0.2a1.6 1.4 4 1 0 -3.3 -0.2M471.7 679.6a1.5 1.1 97 1 0 -0.4 3.0a1.5 1.1 97 1 0 0.4 -3.0M486.8 671.0a2.6 2.0 144 1 0 -4.2 3.1a2.6 2.0 144 1 0 4.2 -3.1M473.4 672.3a1.6 1.4 78 1 0 0.7 3.2a1.6 1.4 78 1 0 -0.7 -3.2M499.0 671.9a1.6 1.6 28 1 0 2.9 1.5a1.6 1.6 28 1 0 -2.9 -1.5M391.2 695.0a1.5 0.9 159 1 0 -2.8 1.1a1.5 0.9 159 1 0 2.8 -1.1M382.9 688.2a1.7 1.5 117 1 0 -1.6 3.1a1.7 1.5 117 1 0 1.6 -3.1M392.3 695.4a2.2 2.0 89 1 0 0.1 4.5a2.2 2.0 89 1 0 -0.1 -4.5M399.3 696.0a2.3 2.1 50 1 0 2.9 3.5a2.3 2.1 50 1 0 -2.9 -3.5M437.3 694.8a2.2 2.1 174 1 0 -4.4 0.4a2.2 2.1 174 1 0 4.4 -0.4M437.2 691.7a2.3 2.0 86 1 0 0.3 4.6a2.3 2.0 86 1 0 -0.3 -4.6M441.2 694.3a2.3 1.8 53 1 0 2.7 3.7a2.3 1.8 53 1 0 -2.7 -3.7M438.3 686.3a1.9 1.2 13 1 0 3.7 0.9a1.9 1.2 13 1 0 -3.7 -0.9M450.0 693.4a1.7 1.4 130 1 0 -2.1 2.6a1.7 1.4 130 1 0 2.1 -2.6M462.8 692.1a2.0 1.5 117 1 0 -1.8 3.6a2.0 1.5 117 1 0 1.8 -3.6M472.7 693.1a1.5 1.1 56 1 0 1.7 2.5a1.5 1.1 56 1 0 -1.7 -2.5M477.2 689.0a2.2 1.8 78 1 0 0.9 4.4a2.2 1.8 78 1 0 -0.9 -4.4M497.4 694.3a1.5 1.2 177 1 0 -2.9 0.2a1.5 1.2 177 1 0 2.9 -0.2M491.3 693.7a2.2 1.5 95 1 0 -0.4 4.4a2.2 1.5 95 1 0 0.4 -4.4M394.1 703.0a2.3 2.0 175 1 0 -4.6 0.4a2.3 2.0 175 1 0 4.6 -0.4M402.8 700.9a2.0 1.7 36 1 0 3.3 2.3a2.0 1.7 36 1 0 -3.3 -2.3M411.1 700.8a2.1 1.7 167 1 0 -4.1 0.9a2.1 1.7 167 1 0 4.1 -0.9M426.0 712.5a2.3 1.6 154 1 0 -4.1 2.0a2.3 1.6 154 1 0 4.1 -2.0M429.1 708.1a2.0 1.8 29 1 0 3.5 1.9a2.0 1.8 29 1 0 -3.5 -1.9M430.2 698.5a1.6 1.2 155 1 0 -2.9 1.4a1.6 1.2 155 1 0 2.9 -1.4M427.6 708.2a2.3 2.0 80 1 0 0.7 4.5a2.3 2.0 80 1 0 -0.7 -4.5M444.3 708.5a1.5 1.1 172 1 0 -3.1 0.4a1.5 1.1 172 1 0 3.1 -0.4M450.0 705.7a2.2 1.9 15 1 0 4.3 1.2a2.2 1.9 15 1 0 -4.3 -1.2M447.5 710.6a1.7 1.2 132 1 0 -2.3 2.6a1.7 1.2 132 1 0 2.3 -2.6M450.3 708.0a2.1 2.1 179 1 0 -4.2 0.1a2.1 2.1 179 1 0 4.2 -0.1M440.1 706.2a1.7 1.3 21 1 0 3.2 1.2a1.7 1.3 21 1 0 -3.2 -1.2M452.1 712.2a2.2 1.6 160 1 0 -4.2 1.5a2.2 1.6 160 1 0 4.2 -1.5M463.8 704.9a1.6 1.0 115 1 0 -1.4 3.0a1.6 1.0 115 1 0 1.4 -3.0M458.5 703.6a1.8 1.4 41 1 0 2.8 2.4a1.8 1.4 41 1 0 -2.8 -2.4M481.7 704.8a1.9 1.8 93 1 0 -0.2 3.8a1.9 1.8 93 1 0 0.2 -3.8M468.9 699.6a1.8 1.7 41 1 0 2.7 2.4a1.8 1.7 41 1 0 -2.7 -2.4M499.9 704.6a2.3 2.1 128 1 0 -2.9 3.6a2.3 2.1 128 1 0 2.9 -3.6M494.3 699.4a1.9 1.4 45 1 0 2.7 2.7a1.9 1.4 45 1 0 -2.7 -2.7"/><path fill="#acaed8" fill-opacity="0.75" d="M387.5 630.5a1.5 0.9 162 1 0 -2.9 0.9a1.5 0.9 162 1 0 2.9 -0.9M389.6 625.1a1.6 1.1 117 1 0 -1.5 2.9a1.6 1.1 117 1 0 1.5 -2.9M392.5 625.9a1.8 1.3 81 1 0 0.6 3.6a1.8 1.3 81 1 0 -0.6 -3.6M392.7 627.3a2.6 2.3 28 1 0 4.5 2.5a2.6 2.3 28 1 0 -4.5 -2.5M401.0 632.1a1.6 1.4 103 1 0 -0.7 3.2a1.6 1.4 103 1 0 0.7 -3.2M401.3 630.6a2.0 1.6 18 1 0 3.8 1.2a2.0 1.6 18 1 0 -3.8 -1.2M413.1 625.3a2.4 1.7 65 1 0 2.0 4.4a2.4 1.7 65 1 0 -2.0 -4.4M424.9 626.5a2.3 2.3 174 1 0 -4.5 0.4a2.3 2.3 174 1 0 4.5 -0.4M485.5 617.0a2.2 1.8 95 1 0 -0.4 4.4a2.2 1.8 95 1 0 0.4 -4.4M498.9 631.5a1.6 1.5 143 1 0 -2.5 1.9a1.6 1.5 143 1 0 2.5 -1.9M486.7 618.7a2.2 1.4 40 1 0 3.4 2.8a2.2 1.4 40 1 0 -3.4 -2.8M492.9 622.7a2.1 1.4 116 1 0 -1.8 3.8a2.1 1.4 116 1 0 1.8 -3.8M492.4 620.1a2.5 1.9 65 1 0 2.1 4.5a2.5 1.9 65 1 0 -2.1 -4.5M385.2 646.2a2.1 2.1 146 1 0 -3.5 2.4a2.1 2.1 146 1 0 3.5 -2.4M375.2 639.7a1.8 1.7 36 1 0 2.9 2.1a1.8 1.7 36 1 0 -2.9 -2.1M376.3 633.4a1.7 1.7 75 1 0 0.9 3.2a1.7 1.7 75 1 0 -0.9 -3.2M395.2 643.9a1.9 1.4 74 1 0 1.1 3.6a1.9 1.4 74 1 0 -1.1 -3.6M415.0 637.4a1.5 1.5 5 1 0 3.0 0.3a1.5 1.5 5 1 0 -3.0 -0.3M422.4 646.7a1.9 1.7 9 1 0 3.7 0.6a1.9 1.7 9 1 0 -3.7 -0.6M430.6 646.1a2.3 1.9 41 1 0 3.5 3.0a2.3 1.9 41 1 0 -3.5 -3.0M496.0 646.3a1.9 1.5 113 1 0 -1.5 3.5a1.9 1.5 113 1 0 1.5 -3.5M502.7 636.4a2.3 1.7 128 1 0 -2.8 3.6a2.3 1.7 128 1 0 2.8 -3.6M375.9 653.7a2.5 1.8 26 1 0 4.5 2.3a2.5 1.8 26 1 0 -4.5 -2.3M451.3 652.9a2.3 1.8 130 1 0 -3.0 3.5a2.3 1.8 130 1 0 3.0 -3.5M466.6 661.0a1.7 1.5 136 1 0 -2.5 2.4a1.7 1.5 136 1 0 2.5 -2.4M458.0 661.2a1.9 1.8 113 1 0 -1.5 3.4a1.9 1.8 113 1 0 1.5 -3.4M471.8 660.4a2.2 1.4 19 1 0 4.1 1.5a2.2 1.4 19 1 0 -4.1 -1.5M490.0 660.5a2.4 2.3 80 1 0 0.9 4.8a2.4 2.3 80 1 0 -0.9 -4.8M486.7 659.4a2.0 1.8 31 1 0 3.4 2.0a2.0 1.8 31 1 0 -3.4 -2.0M391.5 668.9a2.5 1.8 63 1 0 2.2 4.4a2.5 1.8 63 1 0 -2.2 -4.4M437.0 669.3a2.3 1.9 87 1 0 0.3 4.6a2.3 1.9 87 1 0 -0.3 -4.6M438.1 678.7a1.7 1.0 117 1 0 -1.5 3.0a1.7 1.0 117 1 0 1.5 -3.0M442.0 678.3a1.5 1.3 98 1 0 -0.4 3.0a1.5 1.3 98 1 0 0.4 -3.0M446.7 675.2a1.8 1.4 165 1 0 -3.5 1.0a1.8 1.4 165 1 0 3.5 -1.0M441.1 665.6a1.6 1.4 140 1 0 -2.5 2.1a1.6 1.4 140 1 0 2.5 -2.1M463.5 677.0a1.4 1.0 120 1 0 -1.4 2.5a1.4 1.0 120 1 0 1.4 -2.5M467.6 672.1a2.5 2.0 159 1 0 -4.7 1.8a2.5 2.0 159 1 0 4.7 -1.8M466.6 673.2a1.4 1.4 138 1 0 -2.2 1.9a1.4 1.4 138 1 0 2.2 -1.9M477.0 676.5a2.0 1.4 101 1 0 -0.7 3.9a2.0 1.4 101 1 0 0.7 -3.9M496.4 672.6a1.5 1.1 46 1 0 2.1 2.2a1.5 1.1 46 1 0 -2.1 -2.2M378.0 680.8a1.7 1.7 85 1 0 0.3 3.4a1.7 1.7 85 1 0 -0.3 -3.4M385.5 681.9a1.7 1.2 152 1 0 -3.0 1.5a1.7 1.2 152 1 0 3.0 -1.5M380.4 688.6a2.3 1.4 72 1 0 1.4 4.5a2.3 1.4 72 1 0 -1.4 -4.5M390.0 691.0a1.5 1.0 70 1 0 1.0 2.7a1.5 1.0 70 1 0 -1.0 -2.7M391.6 684.6a1.5 1.3 58 1 0 1.6 2.5a1.5 1.3 58 1 0 -1.6 -2.5M401.5 695.6a2.6 2.4 175 1 0 -5.1 0.5a2.6 2.4 175 1 0 5.1 -0.5M408.3 683.2a1.9 1.4 135 1 0 -2.7 2.7a1.9 1.4 135 1 0 2.7 -2.7M417.5 687.6a2.5 2.4 3 1 0 5.0 0.3a2.5 2.4 3 1 0 -5.0 -0.3M407.7 680.1a2.5 2.1 116 1 0 -2.1 4.4a2.5 2.1 116 1 0 2.1 -4.4M410.4 693.5a2.1 1.4 15 1 0 4.1 1.1a2.1 1.4 15 1 0 -4.1 -1.1M417.0 691.8a2.4 1.6 68 1 0 1.8 4.4a2.4 1.6 68 1 0 -1.8 -4.4M436.8 695.1a2.0 1.3 140 1 0 -3.1 2.5a2.0 1.3 140 1 0 3.1 -2.5M439.8 694.4a2.0 1.7 94 1 0 -0.3 4.0a2.0 1.7 94 1 0 0.3 -4.0M443.0 692.8a1.7 1.3 133 1 0 -2.3 2.5a1.7 1.3 133 1 0 2.3 -2.5M447.7 696.0a1.4 1.2 115 1 0 -1.2 2.6a1.4 1.2 115 1 0 1.2 -2.6M477.0 691.7a1.7 1.3 136 1 0 -2.4 2.3a1.7 1.3 136 1 0 2.4 -2.3M387.0 712.6a2.6 2.3 19 1 0 4.9 1.7a2.6 2.3 19 1 0 -4.9 -1.7M399.3 698.6a2.6 2.5 121 1 0 -2.7 4.4a2.6 2.5 121 1 0 2.7 -4.4M410.3 703.2a2.4 1.9 162 1 0 -4.7 1.5a2.4 1.9 162 1 0 4.7 -1.5M416.1 711.9a1.8 1.6 52 1 0 2.2 2.8a1.8 1.6 52 1 0 -2.2 -2.8M422.4 702.2a1.6 1.5 120 1 0 -1.6 2.8a1.6 1.5 120 1 0 1.6 -2.8M468.1 711.3a1.4 1.3 50 1 0 1.8 2.2a1.4 1.3 50 1 0 -1.8 -2.2M464.1 707.5a2.6 1.7 51 1 0 3.2 4.0a2.6 1.7 51 1 0 -3.2 -4.0M486.0 709.6a2.3 1.6 151 1 0 -4.0 2.2a2.3 1.6 151 1 0 4.0 -2.2M472.4 708.0a2.6 2.3 49 1 0 3.4 3.9a2.6 2.3 49 1 0 -3.4 -3.9M501.2 703.8a1.7 1.6 163 1 0 -3.3 1.0a1.7 1.6 163 1 0 3.3 -1.0M494.7 705.8a1.7 1.1 21 1 0 3.2 1.3a1.7 1.1 21 1 0 -3.2 -1.3"/><path fill="#888cc4" fill-opacity="0.5" d="M378.9 623.3a1.8 1.2 90 1 0 -0.0 3.7a1.8 1.2 90 1 0 0.0 -3.7M405.8 631.1a2.2 1.8 6 1 0 4.3 0.4a2.2 1.8 6 1 0 -4.3 -0.4M410.2 621.8a2.6 1.7 127 1 0 -3.1 4.1a2.6 1.7 127 1 0 3.1 -4.1M428.2 624.3a1.6 1.6 140 1 0 -2.5 2.1a1.6 1.6 140 1 0 2.5 -2.1M438.3 621.1a1.5 1.5 0 1 0 3.1 0.0a1.5 1.5 0 1 0 -3.1 -0.0M467.2 632.6a1.5 1.4 136 1 0 -2.2 2.1a1.5 1.4 136 1 0 2.2 -2.1M468.2 629.3a2.3 2.3 160 1 0 -4.4 1.6a2.3 2.3 160 1 0 4.4 -1.6M480.7 626.4a1.5 1.4 64 1 0 1.3 2.7a1.5 1.4 64 1 0 -1.3 -2.7M487.3 627.1a1.6 1.2 120 1 0 -1.6 2.8a1.6 1.2 120 1 0 1.6 -2.8M413.1 648.3a2.5 1.8 141 1 0 -3.9 3.2a2.5 1.8 141 1 0 3.9 -3.2M415.4 646.3a2.1 1.7 45 1 0 3.0 3.0a2.1 1.7 45 1 0 -3.0 -3.0M418.0 639.5a2.5 1.9 145 1 0 -4.1 2.8a2.5 1.9 145 1 0 4.1 -2.8M452.9 641.0a1.9 1.4 165 1 0 -3.7 1.0a1.9 1.4 165 1 0 3.7 -1.0M446.1 646.1a1.5 1.0 132 1 0 -2.0 2.2a1.5 1.0 132 1 0 2.0 -2.2M459.0 640.5a2.4 2.1 84 1 0 0.5 4.8a2.4 2.1 84 1 0 -0.5 -4.8M464.8 633.8a2.6 1.7 35 1 0 4.2 3.0a2.6 1.7 35 1 0 -4.2 -3.0M500.5 637.2a1.5 1.1 176 1 0 -2.9 0.2a1.5 1.1 176 1 0 2.9 -0.2M488.2 648.2a1.7 1.1 8 1 0 3.3 0.5a1.7 1.1 8 1 0 -3.3 -0.5M402.7 659.4a1.5 1.0 24 1 0 2.8 1.3a1.5 1.0 24 1 0 -2.8 -1.3M416.1 650.2a2.2 2.2 147 1 0 -3.8 2.5a2.2 2.2 147 1 0 3.8 -2.5M412.4 653.8a1.9 1.9 117 1 0 -1.8 3.4a1.9 1.9 117 1 0 1.8 -3.4M484.8 663.9a1.8 1.5 66 1 0 1.5 3.3a1.8 1.5 66 1 0 -1.5 -3.3M473.0 653.6a2.3 2.0 48 1 0 3.0 3.3a2.3 2.0 48 1 0 -3.0 -3.3M497.8 657.5a1.7 1.0 172 1 0 -3.3 0.5a1.7 1.0 172 1 0 3.3 -0.5M387.4 666.6a1.7 1.3 51 1 0 2.1 2.6a1.7 1.3 51 1 0 -2.1 -2.6M383.5 673.1a2.5 2.1 62 1 0 2.4 4.4a2.5 2.1 62 1 0 -2.4 -4.4M413.0 670.4a2.3 1.7 114 1 0 -1.8 4.2a2.3 1.7 114 1 0 1.8 -4.2M421.8 669.7a2.1 1.4 14 1 0 4.0 1.0a2.1 1.4 14 1 0 -4.0 -1.0M427.0 677.5a1.8 1.6 110 1 0 -1.2 3.4a1.8 1.6 110 1 0 1.2 -3.4M483.6 669.4a1.7 1.0 110 1 0 -1.2 3.2a1.7 1.0 110 1 0 1.2 -3.2M492.5 676.1a2.0 1.2 36 1 0 3.2 2.3a2.0 1.2 36 1 0 -3.2 -2.3M391.8 684.5a2.1 1.3 103 1 0 -0.9 4.1a2.1 1.3 103 1 0 0.9 -4.1M460.5 683.2a2.5 1.8 166 1 0 -4.8 1.2a2.5 1.8 166 1 0 4.8 -1.2M459.2 686.6a2.5 2.5 21 1 0 4.7 1.8a2.5 2.5 21 1 0 -4.7 -1.8M481.2 686.4a2.4 1.5 110 1 0 -1.7 4.5a2.4 1.5 110 1 0 1.7 -4.5M472.4 696.4a2.2 1.4 179 1 0 -4.5 0.1a2.2 1.4 179 1 0 4.5 -0.1M499.6 695.3a1.5 1.1 159 1 0 -2.9 1.1a1.5 1.1 159 1 0 2.9 -1.1M490.8 688.5a1.6 1.6 142 1 0 -2.5 1.9a1.6 1.6 142 1 0 2.5 -1.9M415.2 701.0a1.9 1.8 17 1 0 3.7 1.1a1.9 1.8 17 1 0 -3.7 -1.1M433.7 707.7a2.5 2.1 130 1 0 -3.2 3.9a2.5 2.1 130 1 0 3.2 -3.9M443.5 701.5a2.1 1.5 29 1 0 3.7 2.0a2.1 1.5 29 1 0 -3.7 -2.0M453.9 707.9a1.6 1.6 74 1 0 0.9 3.1a1.6 1.6 74 1 0 -0.9 -3.1M468.9 701.6a2.1 1.3 22 1 0 3.9 1.6a2.1 1.3 22 1 0 -3.9 -1.6"/><path fill="#888cc4" fill-opacity="0.75" d="M384.0 622.6a1.6 1.3 25 1 0 3.0 1.4a1.6 1.3 25 1 0 -3.0 -1.4M407.6 626.1a1.9 1.3 40 1 0 2.9 2.4a1.9 1.3 40 1 0 -2.9 -2.4M429.5 624.3a1.9 1.5 180 1 0 -3.9 0.0a1.9 1.5 180 1 0 3.9 -0.0M434.4 630.9a1.8 1.6 175 1 0 -3.7 0.3a1.8 1.6 175 1 0 3.7 -0.3M449.7 625.3a1.7 1.1 160 1 0 -3.2 1.2a1.7 1.1 160 1 0 3.2 -1.2M441.9 622.8a2.1 1.5 116 1 0 -1.9 3.9a2.1 1.5 116 1 0 1.9 -3.9M454.4 628.5a2.5 1.7 33 1 0 4.2 2.7a2.5 1.7 33 1 0 -4.2 -2.7M465.5 624.1a1.5 1.3 82 1 0 0.4 3.0a1.5 1.3 82 1 0 -0.4 -3.0M465.9 618.7a2.4 1.8 150 1 0 -4.2 2.4a2.4 1.8 150 1 0 4.2 -2.4M463.2 624.5a1.6 1.3 176 1 0 -3.3 0.3a1.6 1.3 176 1 0 3.3 -0.3M481.8 625.7a1.7 1.6 58 1 0 1.8 2.9a1.7 1.6 58 1 0 -1.8 -2.9M498.3 620.3a2.4 2.3 103 1 0 -1.0 4.7a2.4 2.3 103 1 0 1.0 -4.7M376.0 642.5a1.9 1.6 5 1 0 3.8 0.4a1.9 1.6 5 1 0 -3.8 -0.4M390.7 642.2a2.3 1.5 109 1 0 -1.5 4.3a2.3 1.5 109 1 0 1.5 -4.3M404.7 641.7a2.1 2.1 159 1 0 -3.9 1.5a2.1 2.1 159 1 0 3.9 -1.5M401.7 645.1a2.5 1.6 156 1 0 -4.6 2.0a2.5 1.6 156 1 0 4.6 -2.0M400.2 642.9a1.7 1.2 84 1 0 0.4 3.4a1.7 1.2 84 1 0 -0.4 -3.4M388.9 635.2a2.0 1.6 2 1 0 4.1 0.2a2.0 1.6 2 1 0 -4.1 -0.2M406.7 641.6a1.8 1.4 50 1 0 2.4 2.8a1.8 1.4 50 1 0 -2.4 -2.8M433.5 644.6a1.5 1.0 161 1 0 -2.9 1.0a1.5 1.0 161 1 0 2.9 -1.0M427.1 634.4a2.2 1.9 178 1 0 -4.4 0.1a2.2 1.9 178 1 0 4.4 -0.1M430.6 639.1a2.1 1.5 126 1 0 -2.4 3.3a2.1 1.5 126 1 0 2.4 -3.3M455.1 640.6a2.0 2.0 69 1 0 1.5 3.8a2.0 2.0 69 1 0 -1.5 -3.8M462.9 643.8a1.9 1.8 57 1 0 2.1 3.3a1.9 1.8 57 1 0 -2.1 -3.3M453.9 640.0a2.4 2.1 42 1 0 3.6 3.3a2.4 2.1 42 1 0 -3.6 -3.3M468.6 645.0a2.5 1.7 163 1 0 -4.8 1.4a2.5 1.7 163 1 0 4.8 -1.4M476.5 633.8a2.1 1.5 128 1 0 -2.5 3.3a2.1 1.5 128 1 0 2.5 -3.3M484.6 642.7a2.1 1.5 35 1 0 3.4 2.3a2.1 1.5 35 1 0 -3.4 -2.3M383.1 663.8a2.0 1.3 167 1 0 -3.9 0.9a2.0 1.3 167 1 0 3.9 -0.9M383.9 659.9a1.4 1.1 5 1 0 2.8 0.2a1.4 1.1 5 1 0 -2.8 -0.2M388.4 651.8a1.5 1.3 35 1 0 2.5 1.7a1.5 1.3 35 1 0 -2.5 -1.7M419.3 650.9a1.5 1.2 11 1 0 2.9 0.5a1.5 1.2 11 1 0 -2.9 -0.5M436.1 656.0a1.7 1.2 141 1 0 -2.6 2.1a1.7 1.2 141 1 0 2.6 -2.1M420.9 660.0a1.6 1.1 16 1 0 3.1 0.9a1.6 1.1 16 1 0 -3.1 -0.9M449.2 649.2a2.4 1.7 146 1 0 -3.9 2.7a2.4 1.7 146 1 0 3.9 -2.7M451.8 662.4a2.0 1.8 177 1 0 -4.0 0.2a2.0 1.8 177 1 0 4.0 -0.2M451.4 657.6a2.5 1.5 150 1 0 -4.4 2.5a2.5 1.5 150 1 0 4.4 -2.5M445.1 655.7a1.8 1.4 54 1 0 2.1 2.9a1.8 1.4 54 1 0 -2.1 -2.9M454.5 650.6a2.4 2.2 65 1 0 2.1 4.4a2.4 2.2 65 1 0 -2.1 -4.4M462.7 659.9a1.9 1.5 69 1 0 1.4 3.6a1.9 1.5 69 1 0 -1.4 -3.6M461.3 662.6a2.4 2.3 88 1 0 0.1 4.7a2.4 2.3 88 1 0 -0.1 -4.7M484.0 661.7a1.9 1.5 158 1 0 -3.5 1.4a1.9 1.5 158 1 0 3.5 -1.4M402.7 673.9a1.6 1.4 137 1 0 -2.3 2.2a1.6 1.4 137 1 0 2.3 -2.2M401.2 669.7a1.8 1.6 0 1 0 3.6 0.0a1.8 1.6 0 1 0 -3.6 -0.0M391.6 672.9a1.7 1.2 75 1 0 0.9 3.2a1.7 1.2 75 1 0 -0.9 -3.2M402.2 675.5a2.5 2.2 71 1 0 1.7 4.7a2.5 2.2 71 1 0 -1.7 -4.7M414.8 666.1a2.2 2.0 165 1 0 -4.2 1.2a2.2 2.0 165 1 0 4.2 -1.2M431.3 673.4a1.9 1.2 80 1 0 0.7 3.6a1.9 1.2 80 1 0 -0.7 -3.6M445.8 675.1a2.1 2.0 105 1 0 -1.1 4.1a2.1 2.0 105 1 0 1.1 -4.1M443.6 667.1a2.5 2.1 97 1 0 -0.6 5.0a2.5 2.1 97 1 0 0.6 -5.0M452.0 669.8a2.6 2.5 83 1 0 0.7 5.1a2.6 2.5 83 1 0 -0.7 -5.1M464.7 677.5a1.4 1.3 87 1 0 0.2 2.9a1.4 1.3 87 1 0 -0.2 -2.9M471.0 677.0a2.4 2.0 160 1 0 -4.6 1.6a2.4 2.0 160 1 0 4.6 -1.6M476.1 667.1a1.8 1.7 99 1 0 -0.6 3.6a1.8 1.7 99 1 0 0.6 -3.6M469.4 667.8a1.5 1.2 14 1 0 2.8 0.7a1.5 1.2 14 1 0 -2.8 -0.7M488.7 673.6a2.2 1.6 169 1 0 -4.3 0.8a2.2 1.6 169 1 0 4.3 -0.8M492.7 677.7a2.2 2.0 124 1 0 -2.5 3.6a2.2 2.0 124 1 0 2.5 -3.6M383.7 690.1a1.8 1.6 20 1 0 3.5 1.3a1.8 1.6 20 1 0 -3.5 -1.3M402.3 694.0a1.6 1.2 10 1 0 3.1 0.6a1.6 1.2 10 1 0 -3.1 -0.6M403.2 683.9a1.9 1.6 90 1 0 -0.0 3.9a1.9 1.6 90 1 0 0.0 -3.9M416.3 689.0a2.3 1.5 69 1 0 1.7 4.4a2.3 1.5 69 1 0 -1.7 -4.4M432.0 687.5a1.8 1.2 107 1 0 -1.1 3.4a1.8 1.2 107 1 0 1.1 -3.4M429.9 688.1a1.9 1.6 81 1 0 0.6 3.7a1.9 1.6 81 1 0 -0.6 -3.7M483.0 692.9a2.0 1.6 70 1 0 1.4 3.8a2.0 1.6 70 1 0 -1.4 -3.8M498.2 692.6a2.1 2.0 25 1 0 3.9 1.8a2.1 2.0 25 1 0 -3.9 -1.8M492.3 694.2a1.8 1.4 97 1 0 -0.4 3.5a1.8 1.4 97 1 0 0.4 -3.5M487.9 688.0a1.7 1.1 130 1 0 -2.2 2.6a1.7 1.1 130 1 0 2.2 -2.6M386.8 705.8a1.7 1.0 22 1 0 3.1 1.3a1.7 1.0 22 1 0 -3.1 -1.3M383.4 700.5a1.8 1.1 35 1 0 3.0 2.1a1.8 1.1 35 1 0 -3.0 -2.1M389.9 704.7a2.3 1.4 85 1 0 0.4 4.6a2.3 1.4 85 1 0 -0.4 -4.6M381.5 701.3a2.5 2.3 50 1 0 3.2 3.8a2.5 2.3 50 1 0 -3.2 -3.8M382.6 712.2a1.6 1.2 16 1 0 3.0 0.9a1.6 1.2 16 1 0 -3.0 -0.9M378.8 712.7a1.5 1.3 168 1 0 -2.9 0.6a1.5 1.3 168 1 0 2.9 -0.6M383.9 704.4a2.5 2.4 124 1 0 -2.8 4.2a2.5 2.4 124 1 0 2.8 -4.2M385.8 707.3a2.1 2.0 5 1 0 4.2 0.4a2.1 2.0 5 1 0 -4.2 -0.4M389.7 698.8a2.1 1.6 13 1 0 4.1 0.9a2.1 1.6 13 1 0 -4.1 -0.9M398.1 706.6a2.5 1.5 125 1 0 -2.9 4.2a2.5 1.5 125 1 0 2.9 -4.2M421.2 703.3a2.0 1.2 63 1 0 1.8 3.5a2.0 1.2 63 1 0 -1.8 -3.5M427.8 701.9a1.4 1.3 179 1 0 -2.9 0.1a1.4 1.3 179 1 0 2.9 -0.1M449.5 704.8a2.3 2.3 134 1 0 -3.2 3.3a2.3 2.3 134 1 0 3.2 -3.3M461.4 708.7a1.9 1.6 165 1 0 -3.7 1.0a1.9 1.6 165 1 0 3.7 -1.0M485.9 699.2a2.0 1.2 180 1 0 -4.0 0.0a2.0 1.2 180 1 0 4.0 -0.0M491.6 702.8a2.3 1.5 144 1 0 -3.7 2.8a2.3 1.5 144 1 0 3.7 -2.8M489.7 711.8a2.4 2.1 172 1 0 -4.8 0.6a2.4 2.1 172 1 0 4.8 -0.6M494.8 700.2a1.9 1.6 48 1 0 2.5 2.8a1.9 1.6 48 1 0 -2.5 -2.8"/><path fill="#9ea0cc" fill-opacity="0.5" d="M381.5 621.7a2.2 1.8 33 1 0 3.7 2.4a2.2 1.8 33 1 0 -3.7 -2.4M406.4 623.3a2.0 1.7 118 1 0 -1.9 3.5a2.0 1.7 118 1 0 1.9 -3.5M405.3 632.0a2.3 2.1 38 1 0 3.6 2.8a2.3 2.1 38 1 0 -3.6 -2.8M410.5 622.3a1.7 1.4 142 1 0 -2.6 2.1a1.7 1.4 142 1 0 2.6 -2.1M449.0 623.8a2.4 2.0 125 1 0 -2.8 4.0a2.4 2.0 125 1 0 2.8 -4.0M462.4 616.3a2.6 2.6 122 1 0 -2.8 4.4a2.6 2.6 122 1 0 2.8 -4.4M501.9 625.6a2.1 1.6 174 1 0 -4.1 0.5a2.1 1.6 174 1 0 4.1 -0.5M414.2 639.4a2.1 1.4 13 1 0 4.0 0.9a2.1 1.4 13 1 0 -4.0 -0.9M417.3 645.6a2.5 2.1 70 1 0 1.7 4.6a2.5 2.1 70 1 0 -1.7 -4.6M444.7 635.6a2.5 2.0 27 1 0 4.5 2.2a2.5 2.0 27 1 0 -4.5 -2.2M471.8 647.3a1.8 1.4 99 1 0 -0.6 3.5a1.8 1.4 99 1 0 0.6 -3.5M485.9 640.3a2.6 2.4 42 1 0 3.9 3.4a2.6 2.4 42 1 0 -3.9 -3.4M395.9 651.9a1.9 1.5 86 1 0 0.3 3.8a1.9 1.5 86 1 0 -0.3 -3.8M406.3 660.6a1.4 1.3 34 1 0 2.3 1.6a1.4 1.3 34 1 0 -2.3 -1.6M405.1 662.9a1.9 1.8 16 1 0 3.6 1.1a1.9 1.8 16 1 0 -3.6 -1.1M420.7 658.0a1.6 1.6 13 1 0 3.2 0.7a1.6 1.6 13 1 0 -3.2 -0.7M433.2 654.3a2.2 2.0 16 1 0 4.2 1.2a2.2 2.0 16 1 0 -4.2 -1.2M431.4 652.4a2.2 1.8 170 1 0 -4.3 0.8a2.2 1.8 170 1 0 4.3 -0.8M450.4 661.1a2.3 2.2 180 1 0 -4.6 0.0a2.3 2.2 180 1 0 4.6 -0.0M456.7 656.9a2.0 1.4 90 1 0 -0.0 3.9a2.0 1.4 90 1 0 0.0 -3.9M486.9 650.2a1.4 1.2 40 1 0 2.2 1.8a1.4 1.2 40 1 0 -2.2 -1.8M378.7 673.6a2.5 2.2 17 1 0 4.7 1.4a2.5 2.2 17 1 0 -4.7 -1.4M382.7 667.9a1.5 1.2 135 1 0 -2.1 2.1a1.5 1.2 135 1 0 2.1 -2.1M419.3 669.5a1.8 1.4 169 1 0 -3.6 0.7a1.8 1.4 169 1 0 3.6 -0.7M444.0 668.0a2.6 2.6 177 1 0 -5.2 0.3a2.6 2.6 177 1 0 5.2 -0.3M460.6 672.7a1.7 1.1 83 1 0 0.4 3.4a1.7 1.1 83 1 0 -0.4 -3.4M481.7 678.5a1.8 1.6 149 1 0 -3.1 1.8a1.8 1.6 149 1 0 3.1 -1.8M499.1 672.8a1.5 1.3 159 1 0 -2.8 1.1a1.5 1.3 159 1 0 2.8 -1.1M429.7 681.5a1.4 1.4 27 1 0 2.5 1.3a1.4 1.4 27 1 0 -2.5 -1.3M425.8 693.2a2.2 2.1 60 1 0 2.2 3.9a2.2 2.1 60 1 0 -2.2 -3.9M465.2 690.4a2.3 2.1 1 1 0 4.7 0.1a2.3 2.1 1 1 0 -4.7 -0.1M466.8 695.4a2.2 1.9 156 1 0 -4.1 1.8a2.2 1.9 156 1 0 4.1 -1.8M479.0 689.6a1.7 1.5 90 1 0 -0.0 3.4a1.7 1.5 90 1 0 0.0 -3.4M499.7 685.8a2.2 1.8 73 1 0 1.3 4.3a2.2 1.8 73 1 0 -1.3 -4.3M394.3 700.3a1.6 1.0 145 1 0 -2.5 1.8a1.6 1.0 145 1 0 2.5 -1.8M420.5 704.9a2.1 1.7 112 1 0 -1.6 3.8a2.1 1.7 112 1 0 1.6 -3.8M476.2 710.9a1.7 1.7 60 1 0 1.7 3.0a1.7 1.7 60 1 0 -1.7 -3.0"/><path fill="#9498cc" fill-opacity="0.5" d="M395.8 628.9a1.9 1.7 174 1 0 -3.9 0.4a1.9 1.7 174 1 0 3.9 -0.4M418.3 620.6a1.8 1.1 120 1 0 -1.8 3.1a1.8 1.1 120 1 0 1.8 -3.1M414.4 628.3a1.5 0.9 99 1 0 -0.5 2.9a1.5 0.9 99 1 0 0.5 -2.9M432.3 621.8a2.2 2.2 62 1 0 2.1 3.9a2.2 2.2 62 1 0 -2.1 -3.9M450.6 623.8a2.3 1.8 164 1 0 -4.5 1.3a2.3 1.8 164 1 0 4.5 -1.3M450.7 621.8a2.3 1.7 49 1 0 3.0 3.4a2.3 1.7 49 1 0 -3.0 -3.4M464.2 632.1a2.2 2.1 49 1 0 2.8 3.3a2.2 2.1 49 1 0 -2.8 -3.3M473.4 620.8a2.2 1.6 119 1 0 -2.1 3.8a2.2 1.6 119 1 0 2.1 -3.8M470.2 623.8a2.0 1.4 47 1 0 2.8 3.0a2.0 1.4 47 1 0 -2.8 -3.0M480.9 625.4a1.9 1.3 53 1 0 2.2 3.0a1.9 1.3 53 1 0 -2.2 -3.0M409.8 645.3a2.0 1.5 22 1 0 3.8 1.5a2.0 1.5 22 1 0 -3.8 -1.5M422.6 647.6a2.1 1.6 142 1 0 -3.3 2.6a2.1 1.6 142 1 0 3.3 -2.6M435.7 636.9a2.0 1.5 34 1 0 3.4 2.3a2.0 1.5 34 1 0 -3.4 -2.3M424.2 646.8a2.2 2.0 138 1 0 -3.3 3.0a2.2 2.0 138 1 0 3.3 -3.0M423.7 641.9a2.4 1.7 42 1 0 3.6 3.3a2.4 1.7 42 1 0 -3.6 -3.3M451.3 636.6a1.4 1.1 3 1 0 2.8 0.2a1.4 1.1 3 1 0 -2.8 -0.2M451.5 641.7a2.4 2.0 149 1 0 -4.1 2.5a2.4 2.0 149 1 0 4.1 -2.5M450.4 645.3a1.6 1.0 3 1 0 3.2 0.1a1.6 1.0 3 1 0 -3.2 -0.1M461.1 641.7a2.6 2.5 139 1 0 -3.8 3.4a2.6 2.5 139 1 0 3.8 -3.4M465.5 634.3a2.5 2.3 3 1 0 5.1 0.3a2.5 2.3 3 1 0 -5.1 -0.3M472.1 641.2a2.3 2.2 5 1 0 4.6 0.4a2.3 2.2 5 1 0 -4.6 -0.4M482.9 642.7a1.8 1.6 45 1 0 2.5 2.5a1.8 1.6 45 1 0 -2.5 -2.5M425.3 659.7a2.3 2.2 129 1 0 -2.9 3.6a2.3 2.2 129 1 0 2.9 -3.6M432.5 659.8a2.1 2.0 161 1 0 -4.0 1.4a2.1 2.0 161 1 0 4.0 -1.4M453.0 657.4a1.5 1.3 130 1 0 -1.9 2.3a1.5 1.3 130 1 0 1.9 -2.3M439.0 654.6a2.3 1.8 64 1 0 2.0 4.1a2.3 1.8 64 1 0 -2.0 -4.1M458.3 661.6a1.6 1.6 83 1 0 0.4 3.2a1.6 1.6 83 1 0 -0.4 -3.2M475.7 652.9a2.5 1.8 78 1 0 1.0 4.8a2.5 1.8 78 1 0 -1.0 -4.8M481.8 661.4a2.6 2.1 37 1 0 4.1 3.1a2.6 2.1 37 1 0 -4.1 -3.1M496.8 657.8a2.6 2.1 41 1 0 3.9 3.4a2.6 2.1 41 1 0 -3.9 -3.4M376.2 666.9a1.7 1.5 34 1 0 2.8 1.9a1.7 1.5 34 1 0 -2.8 -1.9M399.7 666.3a1.8 1.4 99 1 0 -0.6 3.6a1.8 1.4 99 1 0 0.6 -3.6M431.9 678.1a2.5 1.9 127 1 0 -3.1 4.0a2.5 1.9 127 1 0 3.1 -4.0M480.1 676.1a2.5 2.2 53 1 0 3.0 4.0a2.5 2.2 53 1 0 -3.0 -4.0M484.1 676.7a1.7 1.6 115 1 0 -1.5 3.1a1.7 1.6 115 1 0 1.5 -3.1M486.8 668.2a2.6 1.9 97 1 0 -0.6 5.1a2.6 1.9 97 1 0 0.6 -5.1M385.1 681.7a2.3 1.8 119 1 0 -2.2 4.1a2.3 1.8 119 1 0 2.2 -4.1M444.5 692.3a1.7 1.6 87 1 0 0.2 3.3a1.7 1.6 87 1 0 -0.2 -3.3M474.1 683.4a2.1 1.7 119 1 0 -2.0 3.6a2.1 1.7 119 1 0 2.0 -3.6M498.6 682.5a1.9 1.6 53 1 0 2.3 3.0a1.9 1.6 53 1 0 -2.3 -3.0M389.1 699.2a2.2 1.8 157 1 0 -4.1 1.7a2.2 1.8 157 1 0 4.1 -1.7M413.5 700.8a1.6 1.3 101 1 0 -0.6 3.2a1.6 1.3 101 1 0 0.6 -3.2M422.6 712.5a2.2 1.5 151 1 0 -3.8 2.1a2.2 1.5 151 1 0 3.8 -2.1M431.5 707.4a2.6 2.3 87 1 0 0.3 5.2a2.6 2.3 87 1 0 -0.3 -5.2M435.4 698.1a1.7 1.2 88 1 0 0.1 3.4a1.7 1.2 88 1 0 -0.1 -3.4M441.7 710.9a2.1 1.6 10 1 0 4.2 0.7a2.1 1.6 10 1 0 -4.2 -0.7M467.3 700.6a2.6 2.5 119 1 0 -2.5 4.5a2.6 2.5 119 1 0 2.5 -4.5M501.3 701.8a1.6 1.6 158 1 0 -3.0 1.2a1.6 1.6 158 1 0 3.0 -1.2"/><path fill="#acaed8" fill-opacity="0.5" d="M407.5 630.2a1.7 1.7 78 1 0 0.7 3.4a1.7 1.7 78 1 0 -0.7 -3.4M433.0 618.1a1.7 1.3 137 1 0 -2.5 2.3a1.7 1.3 137 1 0 2.5 -2.3M439.9 616.0a2.4 1.5 106 1 0 -1.3 4.6a2.4 1.5 106 1 0 1.3 -4.6M474.5 622.6a1.7 1.2 177 1 0 -3.4 0.2a1.7 1.2 177 1 0 3.4 -0.2M471.9 623.2a2.1 1.8 110 1 0 -1.4 4.0a2.1 1.8 110 1 0 1.4 -4.0M499.4 618.8a2.1 1.8 84 1 0 0.4 4.2a2.1 1.8 84 1 0 -0.4 -4.2M383.9 645.1a2.6 2.1 63 1 0 2.3 4.6a2.6 2.1 63 1 0 -2.3 -4.6M403.1 645.1a1.4 1.0 98 1 0 -0.4 2.8a1.4 1.0 98 1 0 0.4 -2.8M405.6 647.2a2.1 1.7 22 1 0 3.8 1.6a2.1 1.7 22 1 0 -3.8 -1.6M443.6 635.0a1.7 1.1 113 1 0 -1.3 3.0a1.7 1.1 113 1 0 1.3 -3.0M456.5 645.0a2.3 1.9 117 1 0 -2.1 4.1a2.3 1.9 117 1 0 2.1 -4.1M474.9 637.5a1.9 1.4 39 1 0 3.0 2.4a1.9 1.4 39 1 0 -3.0 -2.4M375.1 658.8a2.5 1.8 90 1 0 -0.0 5.1a2.5 1.8 90 1 0 0.0 -5.1M379.9 655.0a1.4 1.2 110 1 0 -1.0 2.7a1.4 1.2 110 1 0 1.0 -2.7M387.0 649.3a2.4 1.6 23 1 0 4.5 1.9a2.4 1.6 23 1 0 -4.5 -1.9M381.3 657.6a1.6 1.5 164 1 0 -3.1 0.9a1.6 1.5 164 1 0 3.1 -0.9M419.8 651.0a1.8 1.3 128 1 0 -2.2 2.9a1.8 1.3 128 1 0 2.2 -2.9M408.9 658.4a1.6 1.5 92 1 0 -0.1 3.2a1.6 1.5 92 1 0 0.1 -3.2M459.2 649.7a2.0 1.4 166 1 0 -4.0 1.0a2.0 1.4 166 1 0 4.0 -1.0M481.3 658.3a1.7 1.3 25 1 0 3.0 1.4a1.7 1.3 25 1 0 -3.0 -1.4M496.8 656.2a2.5 2.3 46 1 0 3.5 3.7a2.5 2.3 46 1 0 -3.5 -3.7M487.8 656.9a1.8 1.2 24 1 0 3.2 1.5a1.8 1.2 24 1 0 -3.2 -1.5M500.6 655.8a2.0 1.3 89 1 0 0.1 4.1a2.0 1.3 89 1 0 -0.1 -4.1M497.0 665.2a2.1 1.9 169 1 0 -4.1 0.8a2.1 1.9 169 1 0 4.1 -0.8M377.6 669.9a1.8 1.5 135 1 0 -2.5 2.5a1.8 1.5 135 1 0 2.5 -2.5M405.5 674.4a2.1 2.1 107 1 0 -1.3 4.1a2.1 2.1 107 1 0 1.3 -4.1M389.2 669.7a2.2 2.2 41 1 0 3.3 2.9a2.2 2.2 41 1 0 -3.3 -2.9M398.4 666.8a1.6 1.2 142 1 0 -2.6 2.0a1.6 1.2 142 1 0 2.6 -2.0M420.2 668.4a1.7 1.3 51 1 0 2.2 2.6a1.7 1.3 51 1 0 -2.2 -2.6M463.7 678.2a2.0 1.9 6 1 0 4.0 0.4a2.0 1.9 6 1 0 -4.0 -0.4M455.8 666.6a1.8 1.3 91 1 0 -0.1 3.6a1.8 1.3 91 1 0 0.1 -3.6M395.6 695.1a1.5 1.4 105 1 0 -0.8 2.9a1.5 1.4 105 1 0 0.8 -2.9M391.8 692.0a2.0 1.6 16 1 0 3.9 1.1a2.0 1.6 16 1 0 -3.9 -1.1M396.8 695.8a2.4 1.9 41 1 0 3.6 3.2a2.4 1.9 41 1 0 -3.6 -3.2M408.1 683.8a1.5 1.3 39 1 0 2.3 1.8a1.5 1.3 39 1 0 -2.3 -1.8M408.1 688.2a1.7 1.1 120 1 0 -1.7 2.9a1.7 1.1 120 1 0 1.7 -2.9M436.5 682.8a2.2 1.7 164 1 0 -4.2 1.2a2.2 1.7 164 1 0 4.2 -1.2M451.9 696.4a1.9 1.8 2 1 0 3.8 0.2a1.9 1.8 2 1 0 -3.8 -0.2M446.5 684.7a2.1 1.9 35 1 0 3.5 2.4a2.1 1.9 35 1 0 -3.5 -2.4M448.5 691.8a1.9 1.2 179 1 0 -3.7 0.1a1.9 1.2 179 1 0 3.7 -0.1M457.1 696.2a2.5 2.2 1 1 0 5.0 0.1a2.5 2.2 1 1 0 -5.0 -0.1M463.3 685.8a2.3 1.8 149 1 0 -3.9 2.3a2.3 1.8 149 1 0 3.9 -2.3M458.3 685.7a2.0 1.8 114 1 0 -1.6 3.7a2.0 1.8 114 1 0 1.6 -3.7M457.8 691.1a1.8 1.7 27 1 0 3.2 1.6a1.8 1.7 27 1 0 -3.2 -1.6M475.5 693.5a1.6 1.2 57 1 0 1.7 2.6a1.6 1.2 57 1 0 -1.7 -2.6M482.1 681.3a2.3 2.1 80 1 0 0.8 4.5a2.3 2.1 80 1 0 -0.8 -4.5M487.3 691.7a2.5 2.5 18 1 0 4.7 1.5a2.5 2.5 18 1 0 -4.7 -1.5M387.2 707.9a2.1 2.0 23 1 0 3.9 1.6a2.1 2.0 23 1 0 -3.9 -1.6M405.6 700.1a1.5 0.9 157 1 0 -2.8 1.2a1.5 0.9 157 1 0 2.8 -1.2M399.0 700.1a2.3 2.0 2 1 0 4.6 0.1a2.3 2.0 2 1 0 -4.6 -0.1M430.0 706.5a1.7 1.1 93 1 0 -0.2 3.4a1.7 1.1 93 1 0 0.2 -3.4M453.9 699.4a2.2 1.4 102 1 0 -0.9 4.3a2.2 1.4 102 1 0 0.9 -4.3M465.9 704.4a2.1 1.9 158 1 0 -3.9 1.6a2.1 1.9 158 1 0 3.9 -1.6M480.2 710.6a2.2 1.9 56 1 0 2.4 3.6a2.2 1.9 56 1 0 -2.4 -3.6M480.5 700.6a2.2 2.0 76 1 0 1.1 4.2a2.2 2.0 76 1 0 -1.1 -4.2M486.6 706.1a2.4 1.7 59 1 0 2.5 4.2a2.4 1.7 59 1 0 -2.5 -4.2"/></g>
<g filter="url(#blur1)" opacity="0.85"><ellipse cx="436" cy="657" rx="9" ry="8" fill="#eff0f8"/><ellipse cx="483" cy="642" rx="7" ry="9" fill="#eff0f8"/><ellipse cx="401" cy="656" rx="8" ry="6" fill="#eff0f8"/><ellipse cx="419" cy="690" rx="9" ry="7" fill="#eff0f8"/></g></g>
</svg>
<div class="frame2"></div>
<div class="frame"></div>
</body></html>
